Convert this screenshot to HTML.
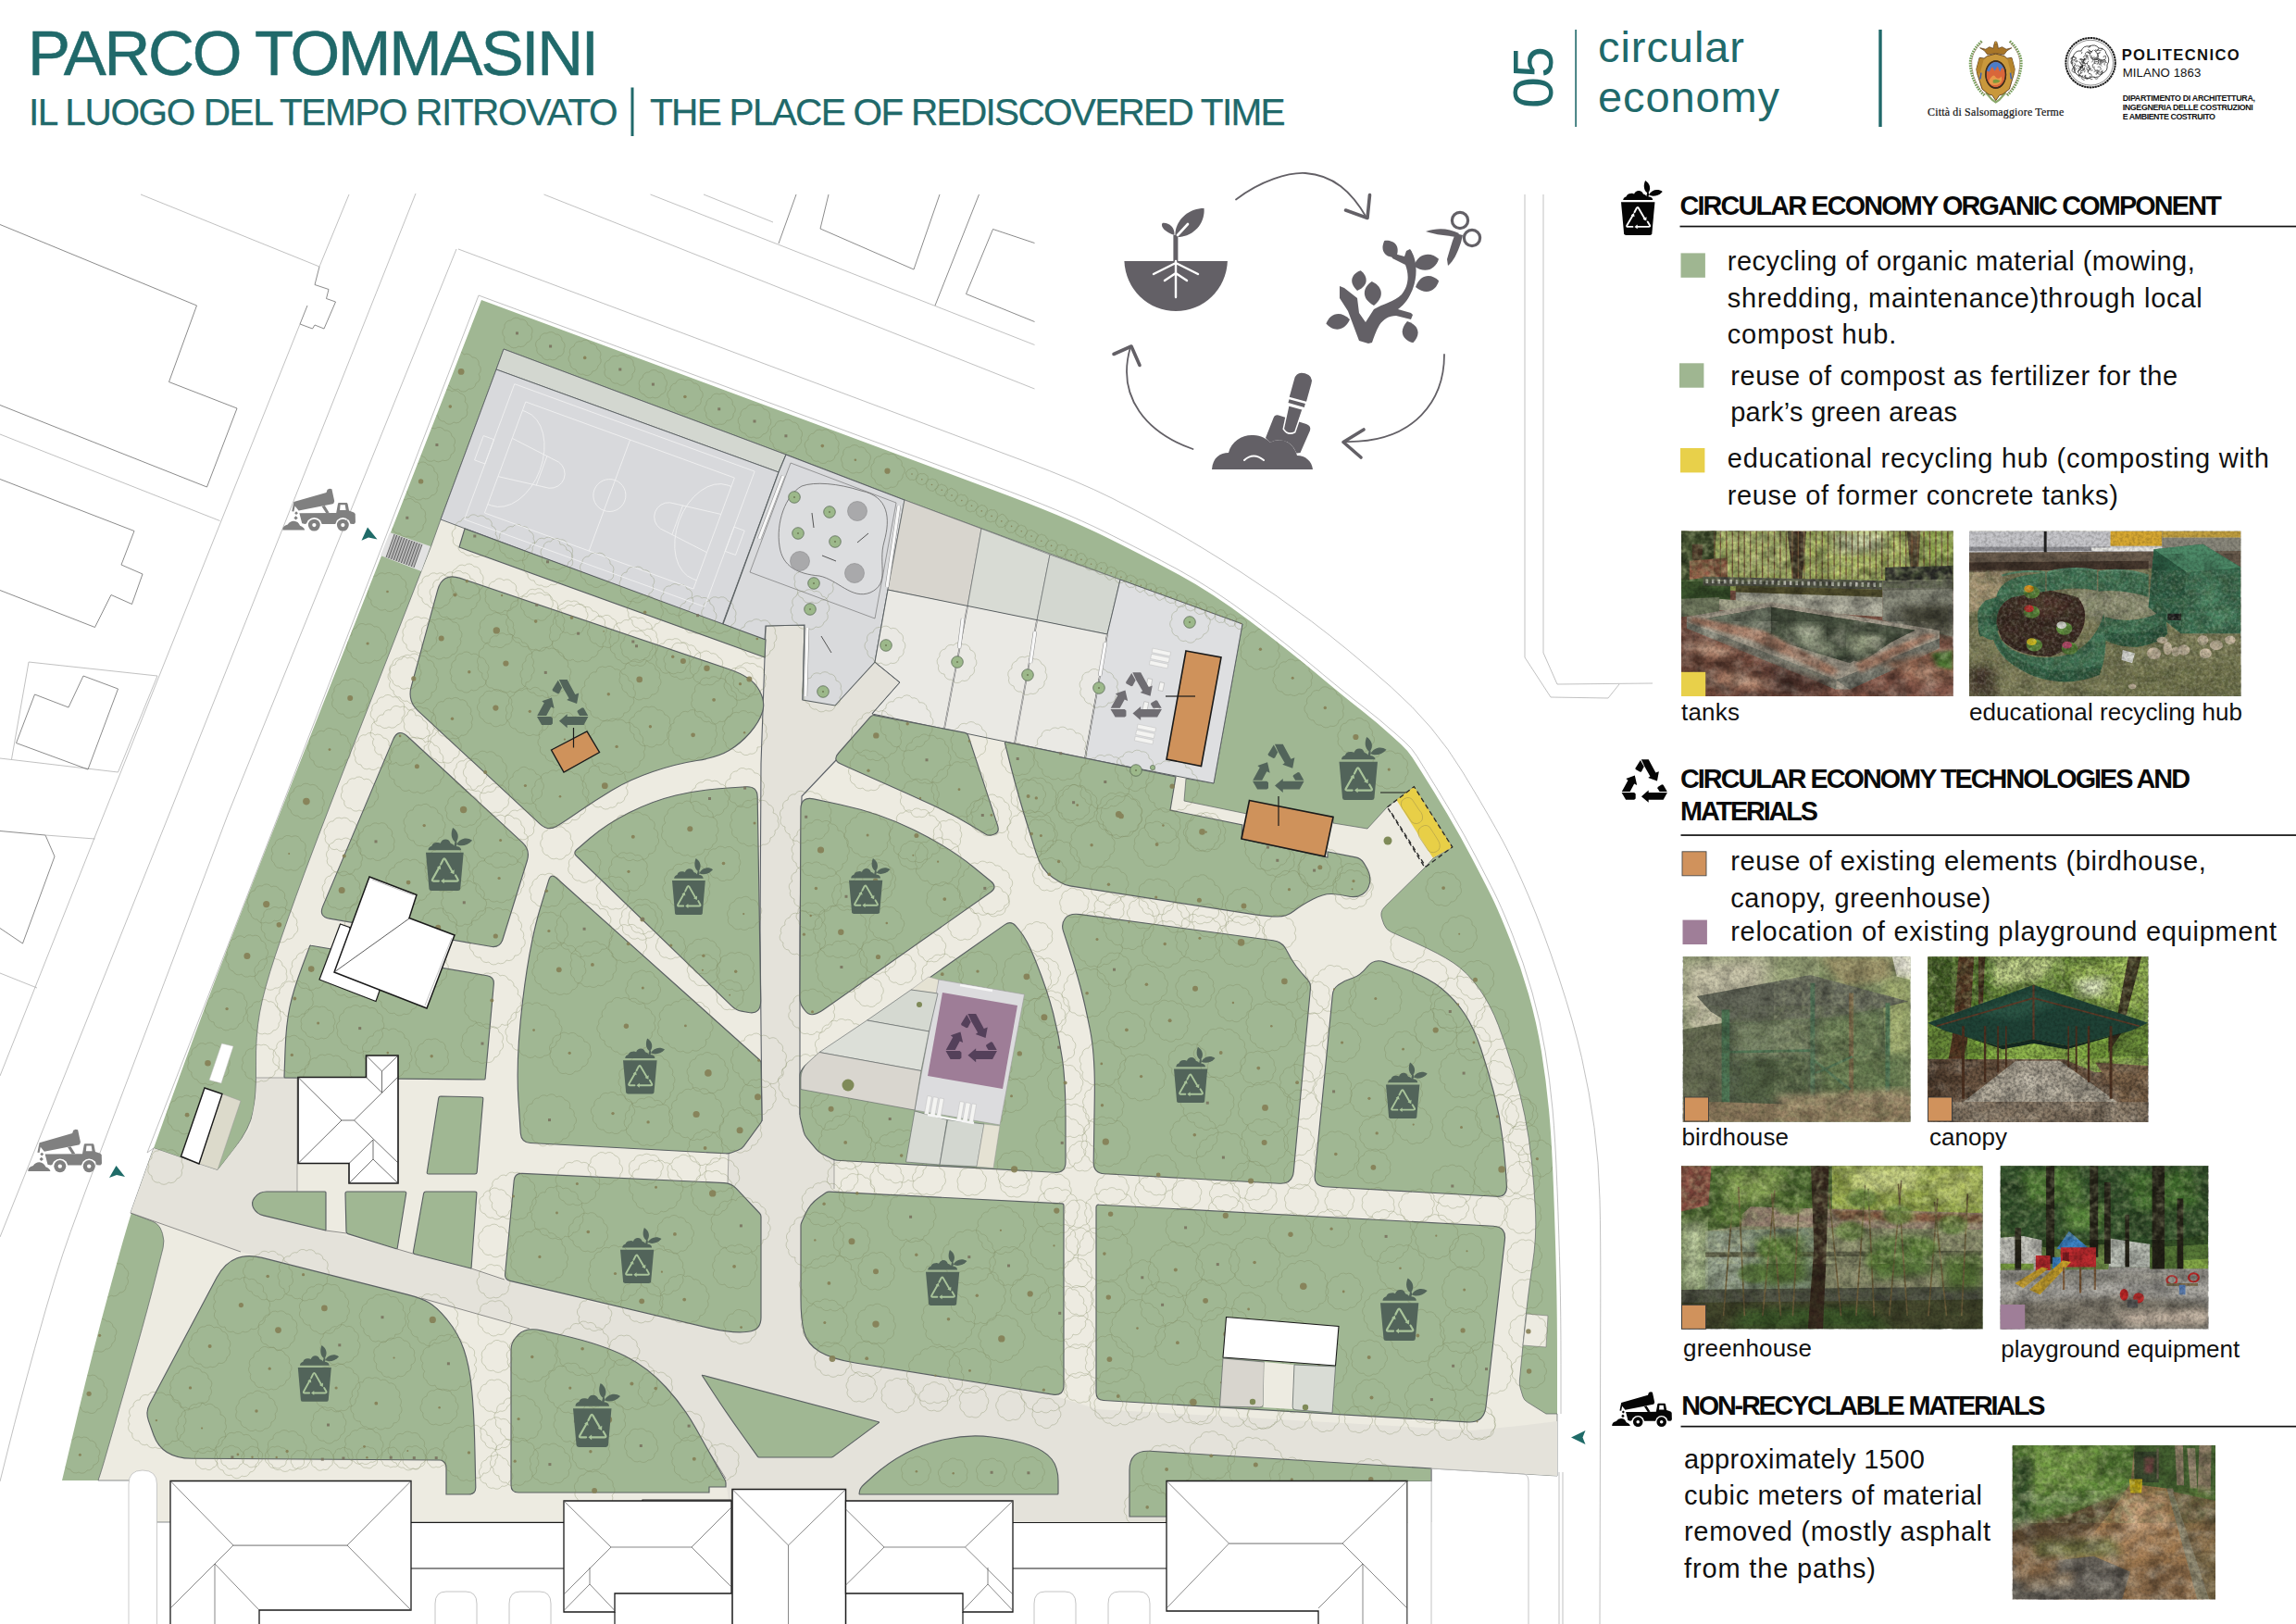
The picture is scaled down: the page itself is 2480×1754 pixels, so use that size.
<!DOCTYPE html>
<html><head><meta charset="utf-8"><title>Parco Tommasini</title>
<style>
html,body{margin:0;padding:0;background:#fff;}
body{width:2480px;height:1754px;position:relative;overflow:hidden;font-family:"Liberation Sans",sans-serif;}
svg.m{position:absolute;left:0;top:0;}
.t{position:absolute;white-space:nowrap;line-height:1;}
</style></head><body>
<svg class="m" width="2480" height="1754" viewBox="0 0 2480 1754">
<defs>
<filter id="nzA" x="0" y="0" width="100%" height="100%"><feTurbulence type="fractalNoise" baseFrequency="0.05 0.065" numOctaves="3" seed="4"/><feColorMatrix type="matrix" values="0 0 0 0 0  0 0 0 0 0  0 0 0 0 0  1.9 0 0 0 -0.72"/></filter>
<filter id="nzB" x="0" y="0" width="100%" height="100%"><feTurbulence type="fractalNoise" baseFrequency="0.055 0.075" numOctaves="3" seed="11"/><feColorMatrix type="matrix" values="0 0 0 0 1  0 0 0 0 0.95  0 0 0 0 0.8  0 1.9 0 0 -0.78"/></filter>
<filter id="nzC" x="0" y="0" width="100%" height="100%"><feTurbulence type="fractalNoise" baseFrequency="0.11 0.13" numOctaves="2" seed="23"/><feColorMatrix type="matrix" values="0 0 0 0 0.08  0 0 0 0 0.12  0 0 0 0 0.04  0 0 1.8 0 -0.62"/></filter>
<filter id="nzD" x="0" y="0" width="100%" height="100%"><feTurbulence type="fractalNoise" baseFrequency="0.13 0.15" numOctaves="2" seed="31"/><feColorMatrix type="matrix" values="0 0 0 0 0.85  0 0 0 0 0.92  0 0 0 0 0.5  1.8 0 0 0 -0.7"/></filter>
<filter id="nzF" x="0" y="0" width="100%" height="100%"><feTurbulence type="fractalNoise" baseFrequency="0.32" numOctaves="2" seed="7"/><feColorMatrix type="matrix" values="0 0 0 0 0  0 0 0 0 0  0 0 0 0 0  0 0 1.5 0 -0.55"/></filter>
<filter id="nzG" x="0" y="0" width="100%" height="100%"><feTurbulence type="fractalNoise" baseFrequency="0.3" numOctaves="2" seed="17"/><feColorMatrix type="matrix" values="0 0 0 0 1  0 0 0 0 1  0 0 0 0 0.9  0 1.5 0 0 -0.6"/></filter>
<filter id="bl1"><feGaussianBlur stdDeviation="0.8"/></filter>
<filter id="bl2"><feGaussianBlur stdDeviation="2.2"/></filter>
<filter id="bl3"><feGaussianBlur stdDeviation="4"/></filter>
<clipPath id="parkclip"><path d="M520 324L1073.5 529.4Q1148 557 1192.5 579L1192.5 579Q1237 601 1273 620.5L1273 620.5Q1309 640 1349 670L1349 670Q1389 700 1422 727.5L1430 734.2Q1455 755 1471 767.5L1471 767.5Q1487 780 1504 795.5L1513.6 804.3Q1521 811 1526.4 819.4L1535 833Q1549 855 1563.5 879.5L1563.5 879.5Q1578 904 1590.5 928L1591.4 929.8Q1603 952 1610 966L1610 966Q1617 980 1626.4 1003.2L1629.5 1011Q1642 1042 1651 1073.5L1651 1073.5Q1660 1105 1665 1136L1665 1136Q1670 1167 1673 1198.5L1673 1198.5Q1676 1230 1677.9 1280.6L1678 1283Q1680 1336 1681 1378L1681 1378Q1682 1420 1682 1473.5L1682 1527L1682 1594L1546 1586L1546 1644L168 1644L168 1599L67 1599L83.5 1529.5Q100 1460 120.5 1385L125.3 1367.4Q141 1310 153.5 1275L153.5 1275Q166 1240 186.2 1184.1L194 1162.5Q222 1085 259 989.5L259 989.5Q296 894 354 747.5L354 747.5Q412 601 466 462.5Z"/></clipPath></defs>
<g id="context"><path d="M377 210L345 288" fill="none" stroke="#a6a6a6" stroke-width="0.7" />
<path d="M345 288L340 307.5L355 312.5L352.5 322.5L362.5 326L350 355L340 351L337.5 355L324 350L332 330" fill="none" stroke="#6e6e6e" stroke-width="0.8" />
<path d="M324 350L102 905L0 1162" fill="none" stroke="#a6a6a6" stroke-width="0.7" />
<path d="M449 209L182.5 880L20 1286L0 1336" fill="none" stroke="#a6a6a6" stroke-width="0.7" />
<path d="M493 269L246 880L92.5 1286L76.2 1330.5Q60 1375 40 1447.5L37.5 1456.4Q20 1520 10 1560L0 1600" fill="none" stroke="#a6a6a6" stroke-width="0.7" />
<path d="M517 319L301 880L159 1245" fill="none" stroke="#a6a6a6" stroke-width="0.7" />
<path d="M495 269L1104.7 497.4Q1165 520 1201 538L1201 538Q1237 556 1268.5 574L1268.5 574Q1300 592 1339 617L1339 617Q1378 642 1416.5 671L1416.5 671Q1455 700 1502.5 742L1502.5 742Q1550 784 1580 834L1588.5 848.1Q1610 884 1622.5 907L1622.5 907Q1635 930 1651 967.5L1651 967.5Q1667 1005 1683.5 1055L1683.5 1055Q1700 1105 1708.5 1142.5L1708.5 1142.5Q1717 1180 1722 1217.5L1722 1217.5Q1727 1255 1728 1295.5L1728 1295.5Q1729 1336 1728.8 1400.8L1728 1760" fill="none" stroke="#a6a6a6" stroke-width="0.7" />
<path d="M517 319L1073.5 524.5Q1148 552 1192.5 574L1192.5 574Q1237 596 1273 615.5L1273 615.5Q1309 635 1349 665L1349 665Q1389 695 1422 722.5L1428.7 728.1Q1455 750 1472 763L1472 763Q1489 776 1507 792L1517.5 801.4Q1525 808 1530.3 816.5L1539 830.5Q1553 853 1567.5 877.5L1567.5 877.5Q1582 902 1594.5 926L1595.4 927.8Q1607 950 1614 964L1614 964Q1621 978 1630.4 1001.2L1633.5 1009Q1646 1040 1655 1072L1655 1072Q1664 1104 1669 1135L1669 1135Q1674 1166 1677 1198L1677 1198Q1680 1230 1681.9 1281.4L1682 1283Q1684 1336 1685 1378L1685 1378Q1686 1420 1686 1473.5L1686 1527" fill="none" stroke="#a6a6a6" stroke-width="0.7" />
<path d="M1684 1590L1684 1760" fill="none" stroke="#a6a6a6" stroke-width="0.7" />
<path d="M1688 1590L1688 1760" fill="none" stroke="#a6a6a6" stroke-width="0.7" />
<path d="M587.5 210L1117.5 420" fill="none" stroke="#a6a6a6" stroke-width="0.7" />
<path d="M702.5 210L1117.5 372.5" fill="none" stroke="#a6a6a6" stroke-width="0.7" />
<path d="M760 210L835 240" fill="none" stroke="#a6a6a6" stroke-width="0.7" />
<path d="M860 210L841 263" fill="none" stroke="#6e6e6e" stroke-width="0.8" />
<path d="M895 210L886 247L987 291L1015 210" fill="none" stroke="#6e6e6e" stroke-width="0.8" />
<path d="M1057.5 210L1010 330" fill="none" stroke="#6e6e6e" stroke-width="0.8" />
<path d="M1117.5 262.5L1072.5 247.5L1043.5 317.5L1117.5 347.5" fill="none" stroke="#6e6e6e" stroke-width="0.8" />
<path d="M1647 210L1647 710L1675 753L1737 754L1749 739" fill="none" stroke="#a6a6a6" stroke-width="0.7" />
<path d="M1667 210L1667 705L1682 739L1785 738" fill="none" stroke="#a6a6a6" stroke-width="0.7" />
<path d="M0 242.5L212.5 330L182.5 412.5L256 441L223.5 526L0 437.5" fill="none" stroke="#6e6e6e" stroke-width="0.8" />
<path d="M0 469L237.5 562.5" fill="none" stroke="#a6a6a6" stroke-width="0.7" />
<path d="M152 210L345 288" fill="none" stroke="#a6a6a6" stroke-width="0.7" />
<path d="M0 517.5L145 573.5L131 610L154 620L142.5 652.5L120 642.5L102.5 677.5L0 637.5" fill="none" stroke="#6e6e6e" stroke-width="0.8" />
<path d="M12.5 820L31 715L170 730L127.5 834L0 819" fill="none" stroke="#a6a6a6" stroke-width="0.7" />
<path d="M90 730L127.5 744L95 831L17.5 802.5L37.5 750L74 764L90 730" fill="none" stroke="#6e6e6e" stroke-width="0.8" />
<path d="M0 897.5L49 902L59 925L24.5 1019L0 1002.5" fill="none" stroke="#6e6e6e" stroke-width="0.8" />
<path d="M49 902L102.5 906" fill="none" stroke="#a6a6a6" stroke-width="0.7" />
<path d="M0 1051L40 1067" fill="none" stroke="#a6a6a6" stroke-width="0.7" />
<path d="M159 1245L166 1240" fill="none" stroke="#a6a6a6" stroke-width="0.7" />
<rect x="1118" y="180" width="520" height="310" fill="#fff"/>
<g fill="#636066"><path d="M1214.4 282H1325.9A55.8 56.5 0 0 1 1214.4 282Z"/><rect x="1267.4" y="254" width="5" height="30"/><path d="M1269.5 256C1268 240 1282 225 1300.5 225C1302 240 1290 257 1269.5 256Z"/><path d="M1268.5 254C1259 251 1253 245 1255.5 241C1262 240 1269 245 1268.5 254Z"/></g><g stroke="#fff" stroke-width="2.4" stroke-linecap="round" fill="none"><path d="M1270 282V321M1270 284L1246 296M1270 284L1294 296M1270 295L1258 303M1270 295L1282 303"/><path d="M1272 254L1283 242" stroke-width="2.6"/></g><g fill="none" stroke="#636066" stroke-linecap="round" stroke-linejoin="round"><path d="M1335 215.5C1362 195 1392 186 1410 187C1440 189 1460 207 1476 235" stroke-width="1.8"/><path d="M1453.5 227L1477 235.5L1479.5 210.5" stroke-width="3.6"/><path d="M1560 383C1560 430 1530 479 1452 477" stroke-width="1.8"/><path d="M1473 464L1451 477.5L1470 494" stroke-width="3.6"/><path d="M1288.5 485C1240 468 1205 430 1221 375" stroke-width="1.8"/><path d="M1203 382.5L1222 374L1231 394.5" stroke-width="3.6"/></g><g fill="#636066"><path d="M1447 309L1452 311L1466 322L1468 338L1475 348L1484 334C1494 328 1506 326 1514 318C1522 308 1522 296 1518 286L1504 279L1503 276L1506 274L1517 277L1519 271L1523 269C1530 278 1532 296 1526 312C1522 322 1518 328 1510 334L1524 338L1526 340L1524 345L1508 341C1500 341 1494 345 1490 351C1486 358 1484 364 1482 370L1478 371L1468 368Q1462 352 1456 336L1447 322Z"/><path transform="translate(1508 278) rotate(-125)" d="M0 0C7.699999999999999 -12 17.6 -8.399999999999999 22 0C17.6 8.399999999999999 7.699999999999999 12 0 0Z"/><path transform="translate(1527 287) rotate(-15)" d="M0 0C9.799999999999999 -13 22.400000000000002 -9.1 28 0C22.400000000000002 9.1 9.799999999999999 13 0 0Z"/><path transform="translate(1529 310) rotate(-15)" d="M0 0C9.1 -13 20.8 -9.1 26 0C20.8 9.1 9.1 13 0 0Z"/><path transform="translate(1484 330) rotate(-95)" d="M0 0C9.1 -14 20.8 -9.799999999999999 26 0C20.8 9.799999999999999 9.1 14 0 0Z"/><path transform="translate(1466 314) rotate(-80)" d="M0 0C7.699999999999999 -12 17.6 -8.399999999999999 22 0C17.6 8.399999999999999 7.699999999999999 12 0 0Z"/><path transform="translate(1458 345) rotate(170)" d="M0 0C9.1 -13 20.8 -9.1 26 0C20.8 9.1 9.1 13 0 0Z"/><path transform="translate(1520 347) rotate(75)" d="M0 0C8.399999999999999 -13 19.200000000000003 -9.1 24 0C19.200000000000003 9.1 8.399999999999999 13 0 0Z"/><path d="M1540 250C1552 246 1564 246 1576 252L1573 256C1562 254 1552 254 1540 250Z"/><path d="M1572 252L1580 254L1578 262C1574 274 1570 282 1564 287L1563 280C1566 270 1568 262 1572 252Z"/></g><g fill="none" stroke="#636066" stroke-width="3.2"><circle cx="1577" cy="238" r="8.6"/><circle cx="1590" cy="257" r="8.6"/></g><g fill="#636066"><path d="M1309 507C1310 494 1318 489 1327 489C1330 476 1343 469 1354 470C1362 470 1368 474 1372 478C1378 474 1388 474 1394 480C1398 484 1400 488 1401 492C1410 492 1417 498 1418 507Z"/><path d="M1367 473L1375.5 451.5Q1377 447.5 1381 448.5L1411 458Q1416.5 460 1415 465L1404.5 489L1400.5 489.5Q1396 478 1386 476Q1378 474 1372 478Z"/><path transform="rotate(15.5 1400 438)" d="M1390.5 411Q1390.5 402 1400 402Q1409.500 402 1409.500 411V431H1390.500Z"/><path transform="rotate(15.5 1400 438)" d="M1391 433.500H1409V437.500H1391Z"/><path transform="rotate(15.5 1400 438)" d="M1392 440H1408L1406.500 466Q1400 472 1393.500 466Z" stroke="#fff" stroke-width="1.5"/></g><path d="M1344 497Q1354 488 1365 497" stroke="#fff" stroke-width="2" fill="none" stroke-linecap="round"/></g>
<g id="base"><path d="M520 324L1073.5 529.4Q1148 557 1192.5 579L1192.5 579Q1237 601 1273 620.5L1273 620.5Q1309 640 1349 670L1349 670Q1389 700 1422 727.5L1430 734.2Q1455 755 1471 767.5L1471 767.5Q1487 780 1504 795.5L1513.6 804.3Q1521 811 1526.4 819.4L1535 833Q1549 855 1563.5 879.5L1563.5 879.5Q1578 904 1590.5 928L1591.4 929.8Q1603 952 1610 966L1610 966Q1617 980 1626.4 1003.2L1629.5 1011Q1642 1042 1651 1073.5L1651 1073.5Q1660 1105 1665 1136L1665 1136Q1670 1167 1673 1198.5L1673 1198.5Q1676 1230 1677.9 1280.6L1678 1283Q1680 1336 1681 1378L1681 1378Q1682 1420 1682 1473.5L1682 1527L1682 1594L1546 1586L1546 1644L168 1644L168 1599L67 1599L83.5 1529.5Q100 1460 120.5 1385L125.3 1367.4Q141 1310 153.5 1275L153.5 1275Q166 1240 186.2 1184.1L194 1162.5Q222 1085 259 989.5L259 989.5Q296 894 354 747.5L354 747.5Q412 601 466 462.5Z" fill="#a0b793" />
<path d="M466 589L476 561L536 399L544 377L849 491L977 540L1210 626L1342 674L1311 846L1281 841L1279 865L1347 879L1440 882L1440 889L1477 895L1498 872L1527 850L1569 915L1548 927L1539 937L1495.7 979.4Q1490 985 1492.8 992.5L1494.9 998.4Q1497 1004 1502.5 1006.5L1528.7 1018.2Q1555 1030 1570 1040L1570 1040Q1585 1050 1597.5 1067.5L1597.5 1067.5Q1610 1085 1618.5 1107.5L1618.5 1107.5Q1627 1130 1634.5 1155L1634.5 1155Q1642 1180 1647 1205L1647 1205Q1652 1230 1654.5 1255L1654.5 1255Q1657 1280 1658.5 1308L1658.5 1308Q1660 1336 1655 1368L1655 1368Q1650 1400 1645.5 1447.5L1641.4 1491Q1641 1495 1642.1 1498.8L1644.9 1508.2Q1646 1512 1649.4 1514.1L1670 1527L1682 1527L1682 1594L1546 1586L1546 1644L168 1644L168 1599L106 1599L108 1593Q110 1587 112.8 1577.3L122.5 1543.5Q135 1500 147.5 1456L147.5 1456Q160 1412 169 1376L176.1 1347.8Q178 1340 175.5 1332.4L174.5 1329.6Q172 1322 164.5 1319.1L141 1310L166 1240L233.1 1263.3Q235 1264 236.2 1262.4L252.5 1241.5Q270 1219 273.5 1200L273.5 1200Q277 1181 276.5 1150.1L276.5 1150Q276 1119 280.5 1094L280.5 1094Q285 1069 297.5 1031.5L297.5 1031.5Q310 994 328.5 944L328.5 944Q347 894 378 814.5L455 617Z" fill="#edebe1" stroke="#5a6062" stroke-width="0.7" />
<path d="M166 1240L235 1264L270 1219L277 1181L277 1164L321 1164L321 1300L352 1329L429 1349L509 1370L545 1382L634 1405L790 1440L810 1437L822 1422L822 1312L800 1287L786 1278L787 1246L801 1241L823 1211L821 1006L822 825L826 710L827 676L869 675L867 756L902 762L945 715L972 737L942 771L904 820L866 860L864 1006L864 1204L869 1226L884 1244L901 1253L901 1284L884 1300L865 1320L865 1430L874 1452L899 1467L1134 1506L1185 1522L1590 1545L1641 1540L1682 1535L1682 1594L1546 1586L1546 1644L790 1644L784 1597L764 1565L739 1530L709 1497L672 1470L634 1449L460 1405L260 1352L141 1310Z" fill="#e4e2da" />
<path d="M321 1164L321 1287" fill="none" stroke="#777" stroke-width="0.6" />
<path d="M787 1246L786 1278" fill="none" stroke="#777" stroke-width="0.6" />
<path d="M901 1253L901 1284" fill="none" stroke="#777" stroke-width="0.6" />
<path d="M277 1164L321 1164" fill="none" stroke="#777" stroke-width="0.6" />
<path d="M141 1310L260 1352" fill="none" stroke="#666" stroke-width="0.7" />
<path d="M455 1402L572 1435" fill="none" stroke="#666" stroke-width="0.7" />
<path d="M321 1300L352 1329L374 1332" fill="none" stroke="#666" stroke-width="0.7" />
<path d="M429 1349L446 1354" fill="none" stroke="#666" stroke-width="0.7" />
<path d="M509 1370L545 1382" fill="none" stroke="#666" stroke-width="0.7" />
<path d="M784 1597L764 1565L739 1530" fill="none" stroke="#666" stroke-width="0.7" />
<path d="M827 676L826 710L822 825L821 1006L823 1211" fill="none" stroke="#5a5f66" stroke-width="1.1" />
<path d="M867 756L869 675L827 676" fill="none" stroke="#5a5f66" stroke-width="1.1" />
<path d="M945 715L972 737L942 771" fill="none" stroke="#5a5f66" stroke-width="1.1" />
<path d="M904 820L866 860L864 1006L864 1204" fill="none" stroke="#5a5f66" stroke-width="1.1" />
<path d="M544 377L849 491L841 510L536 399Z" fill="#d3d7d0" stroke="#5a6062" stroke-width="0.9" />
<path d="M536 399L841 510L780 675L476 561Z" fill="#d8d9dc" stroke="#5a6062" stroke-width="0.9" />
<path d="M849 491L977 540L959 637L945 715L902 762L867 756L869 675L827 676L826 692L781 674L841 510Z" fill="#d9dadc" stroke="#5a6062" stroke-width="1.1" />
<path d="M854 500L968 543L945 668L810 618Z" fill="#d9dadd" stroke="#666" stroke-width="0.6" />
<path d="M977 540L1060 571L1045 655L959 637Z" fill="#d8d5ce" stroke="#5a6062" stroke-width="0.6" />
<path d="M1060 571L1134 599L1120 670L1045 655Z" fill="#d8dbd4" stroke="#5a6062" stroke-width="0.6" />
<path d="M1134 599L1210 626L1196 685L1120 670Z" fill="#d3d7d0" stroke="#5a6062" stroke-width="0.6" />
<path d="M959 637L1196 685L1172 819L942 771L972 737L945 715Z" fill="#eae9e4" stroke="#5a6062" stroke-width="1.0" />
<path d="M1210 626L1342 674L1311 846L1172 819L1196 685Z" fill="#dedfe1" stroke="#5a6062" stroke-width="1.0" />
<path d="M1045 655L1020 787" fill="none" stroke="#666" stroke-width="1.6" />
<path d="M1045 655L1020 787" fill="none" stroke="#e8e8e6" stroke-width="0.7" />
<path d="M1120 670L1096 803" fill="none" stroke="#666" stroke-width="1.6" />
<path d="M1120 670L1096 803" fill="none" stroke="#e8e8e6" stroke-width="0.7" />
<path d="M1196 685L1172 819" fill="none" stroke="#666" stroke-width="1.6" />
<path d="M1196 685L1172 819" fill="none" stroke="#e8e8e6" stroke-width="0.7" />
<path d="M502 571L827 691L826 710L496 591Z" fill="#a0b793" stroke="#5a6062" stroke-width="1.15" />
<path d="M472.7 637.3Q478 618 496.9 624.4L787.4 722.7Q812 731 819.5 744.5L820.2 745.8Q827 758 823.5 769L823.5 769Q820 780 810 791.5L810 791.5Q800 803 787.5 810.5L787.5 810.5Q775 818 752.5 821.5L752.5 821.5Q730 825 705 833.5L705 833.5Q680 842 661 853.5L661 853.5Q642 865 626 876L623.9 877.4Q610 887 601 892.5L601 892.5Q592 898 583.2 889.8L451.7 767.9Q440 757 444.2 741.6Z" fill="#a0b793" stroke="#5a6062" stroke-width="1.15" />
<path d="M424.6 798.9Q430 786 440.3 795.5L564.2 909.9Q573 918 569.4 929.5L543 1014.5Q540 1024 530.1 1022.3L355.8 992.1Q344 990 348.7 978.9Z" fill="#a0b793" stroke="#5a6062" stroke-width="1.15" />
<path d="M622.6 924.5Q619 921 622.8 917.7L637 905.5Q655 890 680 877.5L680 877.5Q705 865 730 859L730 859Q755 853 786.5 851L806 849.8Q818 849 818.2 861L821.7 1080Q822 1096 808.5 1093.5L800.9 1092.1Q795 1091 790.7 1086.8Z" fill="#a0b793" stroke="#5a6062" stroke-width="1.15" />
<path d="M864.9 874Q865 860 878.7 862.9L907.5 869Q950 878 987.5 896.5L987.5 896.5Q1025 915 1051.5 936.5L1070.2 951.7Q1078 958 1069.8 963.8L889.1 1090.8Q876 1100 870 1092L867.6 1088.8Q864 1084 864 1078Z" fill="#a0b793" stroke="#5a6062" stroke-width="1.15" />
<path d="M940 774.3Q942 772 944.9 772.6L1042.1 791.4Q1045 792 1045.9 794.9L1077.5 891.4Q1080 899 1074 901L1071.8 901.7Q1068 903 1064.6 900.9L1049 891.5Q1030 880 1005 868.5L1005 868.5Q980 857 955 846L954.9 846Q930 835 914.5 828L908.1 825.1Q899 821 905.6 813.5Z" fill="#a0b793" stroke="#5a6062" stroke-width="1.15" />
<path d="M1085.5 802.9Q1085 801 1087 801.4L1270 839L1264 875L1342 891L1341 906L1434 926L1434 920L1464.1 925.9Q1470 927 1473.1 932.1L1475.5 936Q1481 945 1479.5 953.5L1479.5 953.5Q1478 962 1471.5 966L1471.5 966Q1465 970 1456 968L1456 968Q1447 966 1438.5 965.5L1438.5 965.5Q1430 965 1417.9 971.3L1417.5 971.5Q1405 978 1397.5 984L1397.5 984Q1390 990 1380 990L1380 990Q1370 990 1354.2 987.6L1155.9 956.9Q1150 956 1144.9 952.8L1137.5 948Q1125 940 1119 920.9L1112.5 900Q1100 860 1092.5 830.5Z" fill="#a0b793" stroke="#5a6062" stroke-width="1.15" />
<path d="M1150.5 992Q1155 986 1166.9 987.6L1375.1 1015.7Q1385 1017 1389.5 1025.9L1390 1027Q1395 1037 1400 1043.5L1400 1043.5Q1405 1050 1410.5 1056L1412.6 1058.3Q1416 1062 1415.5 1067L1397.3 1265.1Q1396 1279 1382 1278.2L1193 1267.7Q1181 1267 1181.2 1255L1182.3 1184.9Q1183 1140 1177.5 1112.5L1177.5 1112.5Q1172 1085 1167 1066L1167 1066Q1162 1047 1154 1022.5L1148.5 1005.6Q1146 998 1150.5 992Z" fill="#a0b793" stroke="#5a6062" stroke-width="1.15" />
<path d="M1476.6 1044.4Q1484 1035 1495.3 1038.9L1513 1045Q1542 1055 1557 1067.5L1557 1067.5Q1572 1080 1582 1095L1582 1095Q1592 1110 1599.5 1132.5L1599.5 1132.5Q1607 1155 1613.5 1180L1613.5 1180Q1620 1205 1623 1230L1623 1230Q1626 1255 1627 1274L1627.4 1281Q1628 1293 1616 1292.3L1431 1281.7Q1419 1281 1420.2 1269.1L1439.4 1074Q1440 1068 1444.8 1064.4L1446 1063.5Q1452 1059 1460.5 1056.5L1460.5 1056.5Q1469 1054 1476.5 1044.5Z" fill="#a0b793" stroke="#5a6062" stroke-width="1.15" />
<path d="M1184 1304Q1184 1301 1187 1301.2L1613 1324.2Q1627 1325 1625.4 1338.9L1605 1519.1Q1603 1537 1585 1535.9L1192 1512.5Q1184 1512 1184 1504Z" fill="#a0b793" stroke="#5a6062" stroke-width="1.15" />
<path d="M1220 1588Q1220 1566 1242 1567.3L1546 1586L1546 1600L1262 1600L1262 1638L1220 1638Z" fill="#a0b793" stroke="#5a6062" stroke-width="1.15" />
<path d="M592.7 950.7Q595 943 601 948.3L820.5 1144.7Q822 1146 822 1148L823 1209Q823 1211 821.8 1212.6L803.4 1237.8Q801 1241 797.2 1242.3L789.8 1245Q787 1246 784 1245.8L573 1234.5Q563 1234 562.3 1224L560 1189Q557 1144 564.5 1081.5L564.5 1081.5Q572 1019 583.5 981Z" fill="#a0b793" stroke="#5a6062" stroke-width="1.15" />
<path d="M892.3 1288.1Q894 1287 896 1287.1L1147 1299.9Q1149 1300 1149 1302L1149 1496Q1149 1508 1137.2 1506.1L923.8 1472Q899 1468 885.5 1460L885.5 1460Q872 1452 868.5 1438.5L868.5 1438.5Q865 1425 865 1402.7L865 1324Q865 1322 865.8 1320.2L870 1311Q875 1300 884.5 1293.5Z" fill="#a0b793" stroke="#5a6062" stroke-width="1.15" />
<path d="M758.5 1485.8Q758 1485 759 1485.3L949 1535.7Q950 1536 949.2 1536.6L899.8 1573.4Q899 1574 898 1574L820 1574Q819 1574 818.4 1573.2L801.5 1549.5Q784 1525 771 1505Z" fill="#a0b793" stroke="#5a6062" stroke-width="1.15" />
<path d="M929 1614Q928 1614 928.1 1613L928.5 1610.5Q929 1607 933.2 1603.2L944 1593.5Q959 1580 977.5 1570L977.5 1570Q996 1560 1021 1554.5L1021 1554.5Q1046 1549 1071 1552L1071 1552Q1096 1555 1112.5 1561L1112.5 1561Q1129 1567 1136 1576L1136 1576Q1143 1585 1143 1599.5L1143 1613Q1143 1614 1142 1614Z" fill="#a0b793" stroke="#5a6062" stroke-width="1.15" />
<path d="M560 1441.5Q568 1433 585.5 1437.1L609 1442.5Q650 1452 675 1464.5L675 1464.5Q700 1477 719.5 1498.5L719.5 1498.5Q739 1520 751.5 1542.5L751.5 1542.5Q764 1565 774 1582.5L783 1598.3Q784 1600 784 1602L784 1606L766 1606L766 1612L560 1612Q552 1612 552 1604L552 1458Q552 1450 557.5 1444.2Z" fill="#a0b793" stroke="#5a6062" stroke-width="1.15" />
<path d="M234 1380Q250 1350 283 1358.4L439.7 1398.1Q455 1402 463.5 1407L463.5 1407Q472 1412 482 1424.2L483.5 1426Q495 1440 501 1457.5L501 1457.5Q507 1475 509.5 1500L509.5 1500Q512 1525 512.9 1565.2L513.8 1606Q514 1614 506 1614L482 1614L482 1585Q482 1581 479.5 1579L478.6 1578.2Q477 1577 475 1577L207 1575.2Q175 1575 166 1550L160.4 1534.4Q157 1525 161.7 1516.2Z" fill="#a0b793" stroke="#5a6062" stroke-width="1.15" />
<path d="M334.6 1021.9Q335 1021 336 1021.2L526.1 1053.7Q534 1055 533.3 1063L524.1 1165Q524 1166 523 1166L308 1164Q307 1164 307 1163L308 1135Q309 1106 313 1087.5L313 1087.5Q317 1069 326 1045Z" fill="#a0b793" stroke="#5a6062" stroke-width="1.15" />
<path d="M555.2 1275Q556 1267 564 1267.4L782 1277.6Q790 1278 795.5 1283.8L820.6 1310.5Q822 1312 822 1314L822 1423Q822 1437 808.1 1438.3L806 1438.5Q790 1440 765 1434.1L550.8 1383.4Q545 1382 545.6 1376Z" fill="#a0b793" stroke="#5a6062" stroke-width="1.15" />
<path d="M1085.5 998.6Q1092 994 1097.2 1000.1L1100.5 1004Q1109 1014 1116.8 1033.5L1120 1041.5Q1131 1069 1137.5 1094L1137.5 1094Q1144 1119 1147.5 1144L1147.5 1144Q1151 1169 1151 1209.4L1151 1255Q1151 1267 1139 1266.3L904 1253.2Q901 1253 898.3 1251.6L887.5 1245.9Q884 1244 881.4 1240.9L871.6 1229.1Q869 1226 868 1222.1L864.5 1207.9Q864 1206 864 1204L864 1161Q864 1159 865.1 1157.3L866.9 1154.4Q869 1151 872.3 1148.7Z" fill="#a0b793" stroke="#5a6062" stroke-width="1.15" />
<path d="M473.7 1186Q474 1184 476 1184L520 1185Q522 1185 521.8 1187L515.2 1266Q515 1268 513 1268L463 1268Q461 1268 461.3 1266Z" fill="#a0b793" stroke="#5a6062" stroke-width="1.15" />
<path d="M275.5 1293Q280 1287 288 1287L351 1287Q352 1287 352 1288L352 1328Q352 1329 351 1328.8L284.8 1312.9Q277 1311 274 1305L273.7 1304.4Q271 1299 274.6 1294.2Z" fill="#a0b793" stroke="#5a6062" stroke-width="1.15" />
<path d="M373 1289Q373 1287 375 1287L437 1287Q439 1287 438.7 1289L429.2 1348Q429 1349 428 1348.7L375.9 1332.6Q374 1332 374 1330Z" fill="#a0b793" stroke="#5a6062" stroke-width="1.15" />
<path d="M457.6 1289Q458 1287 460 1287L513 1287Q515 1287 514.9 1289L509.1 1369Q509 1370 508 1369.8L447.9 1354.5Q446 1354 446.4 1352Z" fill="#a0b793" stroke="#5a6062" stroke-width="1.15" />
<path d="M1649 1419L1672 1421L1670 1455L1645 1453Z" fill="#edebe1" stroke="#777" stroke-width="0.6" /></g>
<g id="trees" clip-path="url(#parkclip)"><g fill="none" stroke="#78825a" stroke-width="0.75" opacity="0.42">
<path d="M534 587A6.1 6.1 0 0 1 528 595A6.1 6.1 0 0 1 519 600A6.1 6.1 0 0 1 510 599A6.1 6.1 0 0 1 501 597A6.1 6.1 0 0 1 495 590A6.1 6.1 0 0 1 490 581A6.1 6.1 0 0 1 492 571A6.1 6.1 0 0 1 498 563A6.1 6.1 0 0 1 506 559A6.1 6.1 0 0 1 516 558A6.1 6.1 0 0 1 525 560A6.1 6.1 0 0 1 531 568A6.1 6.1 0 0 1 535 577A6.1 6.1 0 0 1 534 587ZM768 679A6.4 6.4 0 0 1 758 682A6.4 6.4 0 0 1 749 683A6.4 6.4 0 0 1 740 679A6.4 6.4 0 0 1 736 670A6.4 6.4 0 0 1 735 660A6.4 6.4 0 0 1 740 651A6.4 6.4 0 0 1 748 646A6.4 6.4 0 0 1 758 646A6.4 6.4 0 0 1 767 652A6.4 6.4 0 0 1 771 660A6.4 6.4 0 0 1 772 670A6.4 6.4 0 0 1 768 679ZM714 666A6.4 6.4 0 0 1 708 674A6.4 6.4 0 0 1 699 679A6.4 6.4 0 0 1 689 678A6.4 6.4 0 0 1 683 670A6.4 6.4 0 0 1 679 662A6.4 6.4 0 0 1 681 652A6.4 6.4 0 0 1 689 646A6.4 6.4 0 0 1 699 644A6.4 6.4 0 0 1 707 648A6.4 6.4 0 0 1 714 656A6.4 6.4 0 0 1 714 666ZM836 694A6.5 6.5 0 0 1 832 703A6.5 6.5 0 0 1 824 709A6.5 6.5 0 0 1 814 709A6.5 6.5 0 0 1 805 704A6.5 6.5 0 0 1 800 696A6.5 6.5 0 0 1 799 686A6.5 6.5 0 0 1 804 677A6.5 6.5 0 0 1 812 671A6.5 6.5 0 0 1 822 671A6.5 6.5 0 0 1 832 675A6.5 6.5 0 0 1 837 684A6.5 6.5 0 0 1 836 694ZM613 622A6.2 6.2 0 0 1 604 627A6.2 6.2 0 0 1 595 631A6.2 6.2 0 0 1 585 632A6.2 6.2 0 0 1 577 627A6.2 6.2 0 0 1 570 620A6.2 6.2 0 0 1 567 611A6.2 6.2 0 0 1 567 601A6.2 6.2 0 0 1 572 592A6.2 6.2 0 0 1 579 586A6.2 6.2 0 0 1 588 582A6.2 6.2 0 0 1 597 582A6.2 6.2 0 0 1 605 588A6.2 6.2 0 0 1 612 594A6.2 6.2 0 0 1 617 603A6.2 6.2 0 0 1 615 613A6.2 6.2 0 0 1 613 622ZM515 651A6.1 6.1 0 0 1 509 658A6.1 6.1 0 0 1 502 666A6.1 6.1 0 0 1 493 667A6.1 6.1 0 0 1 483 666A6.1 6.1 0 0 1 474 661A6.1 6.1 0 0 1 469 653A6.1 6.1 0 0 1 466 644A6.1 6.1 0 0 1 468 634A6.1 6.1 0 0 1 474 626A6.1 6.1 0 0 1 481 621A6.1 6.1 0 0 1 490 619A6.1 6.1 0 0 1 500 619A6.1 6.1 0 0 1 508 625A6.1 6.1 0 0 1 514 632A6.1 6.1 0 0 1 517 641A6.1 6.1 0 0 1 515 651ZM494 699A6.3 6.3 0 0 1 488 707A6.3 6.3 0 0 1 479 710A6.3 6.3 0 0 1 469 709A6.3 6.3 0 0 1 461 703A6.3 6.3 0 0 1 456 694A6.3 6.3 0 0 1 456 684A6.3 6.3 0 0 1 461 675A6.3 6.3 0 0 1 470 670A6.3 6.3 0 0 1 479 670A6.3 6.3 0 0 1 489 672A6.3 6.3 0 0 1 496 680A6.3 6.3 0 0 1 497 690A6.3 6.3 0 0 1 494 699ZM676 851A6.2 6.2 0 0 1 675 861A6.2 6.2 0 0 1 667 867A6.2 6.2 0 0 1 659 872A6.2 6.2 0 0 1 649 871A6.2 6.2 0 0 1 640 868A6.2 6.2 0 0 1 633 861A6.2 6.2 0 0 1 631 851A6.2 6.2 0 0 1 631 842A6.2 6.2 0 0 1 636 834A6.2 6.2 0 0 1 643 827A6.2 6.2 0 0 1 653 826A6.2 6.2 0 0 1 662 828A6.2 6.2 0 0 1 670 833A6.2 6.2 0 0 1 675 841A6.2 6.2 0 0 1 676 851ZM636 805A6.2 6.2 0 0 1 632 814A6.2 6.2 0 0 1 625 821A6.2 6.2 0 0 1 616 824A6.2 6.2 0 0 1 606 826A6.2 6.2 0 0 1 597 822A6.2 6.2 0 0 1 589 816A6.2 6.2 0 0 1 584 807A6.2 6.2 0 0 1 583 797A6.2 6.2 0 0 1 586 788A6.2 6.2 0 0 1 592 780A6.2 6.2 0 0 1 600 775A6.2 6.2 0 0 1 609 771A6.2 6.2 0 0 1 619 774A6.2 6.2 0 0 1 627 779A6.2 6.2 0 0 1 632 787A6.2 6.2 0 0 1 636 795A6.2 6.2 0 0 1 636 805ZM791 765A6.4 6.4 0 0 1 786 774A6.4 6.4 0 0 1 777 779A6.4 6.4 0 0 1 766 779A6.4 6.4 0 0 1 757 775A6.4 6.4 0 0 1 751 766A6.4 6.4 0 0 1 748 756A6.4 6.4 0 0 1 751 747A6.4 6.4 0 0 1 756 738A6.4 6.4 0 0 1 766 733A6.4 6.4 0 0 1 776 733A6.4 6.4 0 0 1 785 738A6.4 6.4 0 0 1 790 746A6.4 6.4 0 0 1 795 755A6.4 6.4 0 0 1 791 765ZM579 863A6.4 6.4 0 0 1 569 867A6.4 6.4 0 0 1 560 864A6.4 6.4 0 0 1 553 857A6.4 6.4 0 0 1 550 848A6.4 6.4 0 0 1 554 839A6.4 6.4 0 0 1 560 832A6.4 6.4 0 0 1 571 831A6.4 6.4 0 0 1 579 836A6.4 6.4 0 0 1 585 844A6.4 6.4 0 0 1 585 854A6.4 6.4 0 0 1 579 863ZM653 685A6.4 6.4 0 0 1 651 695A6.4 6.4 0 0 1 646 703A6.4 6.4 0 0 1 639 710A6.4 6.4 0 0 1 629 713A6.4 6.4 0 0 1 619 712A6.4 6.4 0 0 1 609 709A6.4 6.4 0 0 1 603 702A6.4 6.4 0 0 1 597 693A6.4 6.4 0 0 1 595 683A6.4 6.4 0 0 1 598 674A6.4 6.4 0 0 1 603 665A6.4 6.4 0 0 1 610 657A6.4 6.4 0 0 1 620 655A6.4 6.4 0 0 1 631 656A6.4 6.4 0 0 1 640 660A6.4 6.4 0 0 1 647 666A6.4 6.4 0 0 1 653 675A6.4 6.4 0 0 1 653 685ZM711 742A6.3 6.3 0 0 1 704 750A6.3 6.3 0 0 1 695 754A6.3 6.3 0 0 1 685 753A6.3 6.3 0 0 1 677 748A6.3 6.3 0 0 1 672 740A6.3 6.3 0 0 1 670 731A6.3 6.3 0 0 1 675 722A6.3 6.3 0 0 1 681 715A6.3 6.3 0 0 1 691 714A6.3 6.3 0 0 1 701 716A6.3 6.3 0 0 1 708 723A6.3 6.3 0 0 1 712 732A6.3 6.3 0 0 1 711 742ZM574 729A6.1 6.1 0 0 1 568 737A6.1 6.1 0 0 1 561 744A6.1 6.1 0 0 1 551 746A6.1 6.1 0 0 1 541 745A6.1 6.1 0 0 1 532 743A6.1 6.1 0 0 1 525 735A6.1 6.1 0 0 1 521 727A6.1 6.1 0 0 1 517 718A6.1 6.1 0 0 1 518 709A6.1 6.1 0 0 1 522 700A6.1 6.1 0 0 1 529 694A6.1 6.1 0 0 1 537 687A6.1 6.1 0 0 1 547 686A6.1 6.1 0 0 1 556 689A6.1 6.1 0 0 1 564 694A6.1 6.1 0 0 1 571 701A6.1 6.1 0 0 1 574 710A6.1 6.1 0 0 1 575 719A6.1 6.1 0 0 1 574 729ZM772 798A6.3 6.3 0 0 1 769 807A6.3 6.3 0 0 1 762 814A6.3 6.3 0 0 1 754 818A6.3 6.3 0 0 1 744 819A6.3 6.3 0 0 1 734 816A6.3 6.3 0 0 1 727 808A6.3 6.3 0 0 1 723 799A6.3 6.3 0 0 1 723 789A6.3 6.3 0 0 1 728 781A6.3 6.3 0 0 1 734 773A6.3 6.3 0 0 1 743 769A6.3 6.3 0 0 1 753 769A6.3 6.3 0 0 1 762 774A6.3 6.3 0 0 1 769 780A6.3 6.3 0 0 1 773 789A6.3 6.3 0 0 1 772 798ZM722 791A6.2 6.2 0 0 1 718 800A6.2 6.2 0 0 1 709 804A6.2 6.2 0 0 1 699 805A6.2 6.2 0 0 1 690 801A6.2 6.2 0 0 1 685 793A6.2 6.2 0 0 1 681 784A6.2 6.2 0 0 1 685 774A6.2 6.2 0 0 1 692 768A6.2 6.2 0 0 1 701 764A6.2 6.2 0 0 1 710 767A6.2 6.2 0 0 1 718 772A6.2 6.2 0 0 1 723 781A6.2 6.2 0 0 1 722 791ZM695 812A6.5 6.5 0 0 1 691 822A6.5 6.5 0 0 1 685 830A6.5 6.5 0 0 1 675 833A6.5 6.5 0 0 1 665 835A6.5 6.5 0 0 1 655 835A6.5 6.5 0 0 1 647 828A6.5 6.5 0 0 1 640 820A6.5 6.5 0 0 1 637 811A6.5 6.5 0 0 1 638 801A6.5 6.5 0 0 1 642 792A6.5 6.5 0 0 1 648 784A6.5 6.5 0 0 1 657 779A6.5 6.5 0 0 1 667 778A6.5 6.5 0 0 1 676 781A6.5 6.5 0 0 1 685 785A6.5 6.5 0 0 1 691 793A6.5 6.5 0 0 1 694 802A6.5 6.5 0 0 1 695 812ZM525 735A6.2 6.2 0 0 1 518 742A6.2 6.2 0 0 1 509 745A6.2 6.2 0 0 1 499 746A6.2 6.2 0 0 1 492 739A6.2 6.2 0 0 1 488 730A6.2 6.2 0 0 1 488 721A6.2 6.2 0 0 1 492 713A6.2 6.2 0 0 1 499 706A6.2 6.2 0 0 1 509 707A6.2 6.2 0 0 1 518 710A6.2 6.2 0 0 1 525 716A6.2 6.2 0 0 1 526 726A6.2 6.2 0 0 1 525 735ZM597 692A6.4 6.4 0 0 1 590 699A6.4 6.4 0 0 1 579 701A6.4 6.4 0 0 1 570 698A6.4 6.4 0 0 1 561 694A6.4 6.4 0 0 1 554 686A6.4 6.4 0 0 1 549 677A6.4 6.4 0 0 1 549 667A6.4 6.4 0 0 1 552 657A6.4 6.4 0 0 1 559 649A6.4 6.4 0 0 1 569 645A6.4 6.4 0 0 1 578 642A6.4 6.4 0 0 1 588 643A6.4 6.4 0 0 1 597 648A6.4 6.4 0 0 1 602 657A6.4 6.4 0 0 1 607 665A6.4 6.4 0 0 1 608 675A6.4 6.4 0 0 1 605 685A6.4 6.4 0 0 1 597 692ZM552 770A6.1 6.1 0 0 1 548 778A6.1 6.1 0 0 1 540 783A6.1 6.1 0 0 1 530 781A6.1 6.1 0 0 1 522 777A6.1 6.1 0 0 1 518 769A6.1 6.1 0 0 1 518 759A6.1 6.1 0 0 1 522 751A6.1 6.1 0 0 1 531 747A6.1 6.1 0 0 1 541 747A6.1 6.1 0 0 1 549 752A6.1 6.1 0 0 1 552 761A6.1 6.1 0 0 1 552 770ZM509 780A6.1 6.1 0 0 1 506 789A6.1 6.1 0 0 1 498 794A6.1 6.1 0 0 1 489 797A6.1 6.1 0 0 1 480 795A6.1 6.1 0 0 1 473 789A6.1 6.1 0 0 1 468 782A6.1 6.1 0 0 1 469 772A6.1 6.1 0 0 1 471 763A6.1 6.1 0 0 1 479 758A6.1 6.1 0 0 1 488 755A6.1 6.1 0 0 1 497 756A6.1 6.1 0 0 1 505 762A6.1 6.1 0 0 1 508 771A6.1 6.1 0 0 1 509 780ZM553 688A6.3 6.3 0 0 1 546 696A6.3 6.3 0 0 1 536 698A6.3 6.3 0 0 1 527 695A6.3 6.3 0 0 1 520 688A6.3 6.3 0 0 1 519 678A6.3 6.3 0 0 1 523 669A6.3 6.3 0 0 1 531 664A6.3 6.3 0 0 1 541 664A6.3 6.3 0 0 1 550 669A6.3 6.3 0 0 1 554 678A6.3 6.3 0 0 1 553 688ZM825 800A6.3 6.3 0 0 1 818 807A6.3 6.3 0 0 1 810 814A6.3 6.3 0 0 1 800 812A6.3 6.3 0 0 1 792 809A6.3 6.3 0 0 1 784 802A6.3 6.3 0 0 1 783 792A6.3 6.3 0 0 1 783 782A6.3 6.3 0 0 1 789 774A6.3 6.3 0 0 1 798 770A6.3 6.3 0 0 1 808 770A6.3 6.3 0 0 1 817 773A6.3 6.3 0 0 1 824 781A6.3 6.3 0 0 1 827 790A6.3 6.3 0 0 1 825 800ZM681 763A6.4 6.4 0 0 1 674 770A6.4 6.4 0 0 1 666 776A6.4 6.4 0 0 1 656 777A6.4 6.4 0 0 1 646 775A6.4 6.4 0 0 1 638 768A6.4 6.4 0 0 1 633 760A6.4 6.4 0 0 1 629 751A6.4 6.4 0 0 1 632 741A6.4 6.4 0 0 1 636 732A6.4 6.4 0 0 1 644 726A6.4 6.4 0 0 1 654 721A6.4 6.4 0 0 1 664 723A6.4 6.4 0 0 1 672 728A6.4 6.4 0 0 1 679 735A6.4 6.4 0 0 1 684 744A6.4 6.4 0 0 1 684 754A6.4 6.4 0 0 1 681 763ZM822 745A6 6 0 0 1 814 750A6 6 0 0 1 804 749A6 6 0 0 1 797 744A6 6 0 0 1 793 735A6 6 0 0 1 794 726A6 6 0 0 1 801 719A6 6 0 0 1 810 717A6 6 0 0 1 818 720A6 6 0 0 1 825 727A6 6 0 0 1 826 736A6 6 0 0 1 822 745ZM544 844A6.5 6.5 0 0 1 536 850A6.5 6.5 0 0 1 527 855A6.5 6.5 0 0 1 517 854A6.5 6.5 0 0 1 508 849A6.5 6.5 0 0 1 504 840A6.5 6.5 0 0 1 503 829A6.5 6.5 0 0 1 509 821A6.5 6.5 0 0 1 516 814A6.5 6.5 0 0 1 526 813A6.5 6.5 0 0 1 536 816A6.5 6.5 0 0 1 543 823A6.5 6.5 0 0 1 546 833A6.5 6.5 0 0 1 544 844ZM627 880A6.2 6.2 0 0 1 618 885A6.2 6.2 0 0 1 609 889A6.2 6.2 0 0 1 599 889A6.2 6.2 0 0 1 589 885A6.2 6.2 0 0 1 584 877A6.2 6.2 0 0 1 579 869A6.2 6.2 0 0 1 576 859A6.2 6.2 0 0 1 578 849A6.2 6.2 0 0 1 584 841A6.2 6.2 0 0 1 592 835A6.2 6.2 0 0 1 601 833A6.2 6.2 0 0 1 611 834A6.2 6.2 0 0 1 620 836A6.2 6.2 0 0 1 628 843A6.2 6.2 0 0 1 633 851A6.2 6.2 0 0 1 634 861A6.2 6.2 0 0 1 632 871A6.2 6.2 0 0 1 627 880ZM605 747A6.2 6.2 0 0 1 596 751A6.2 6.2 0 0 1 586 751A6.2 6.2 0 0 1 577 748A6.2 6.2 0 0 1 569 742A6.2 6.2 0 0 1 564 733A6.2 6.2 0 0 1 565 723A6.2 6.2 0 0 1 568 714A6.2 6.2 0 0 1 574 706A6.2 6.2 0 0 1 583 703A6.2 6.2 0 0 1 593 701A6.2 6.2 0 0 1 602 704A6.2 6.2 0 0 1 609 711A6.2 6.2 0 0 1 613 720A6.2 6.2 0 0 1 615 730A6.2 6.2 0 0 1 611 739A6.2 6.2 0 0 1 605 747ZM698 714A6.1 6.1 0 0 1 688 718A6.1 6.1 0 0 1 679 716A6.1 6.1 0 0 1 670 713A6.1 6.1 0 0 1 664 706A6.1 6.1 0 0 1 660 697A6.1 6.1 0 0 1 660 688A6.1 6.1 0 0 1 663 679A6.1 6.1 0 0 1 671 673A6.1 6.1 0 0 1 679 670A6.1 6.1 0 0 1 689 668A6.1 6.1 0 0 1 698 672A6.1 6.1 0 0 1 704 680A6.1 6.1 0 0 1 709 688A6.1 6.1 0 0 1 707 698A6.1 6.1 0 0 1 705 708A6.1 6.1 0 0 1 698 714ZM586 789A6.4 6.4 0 0 1 576 793A6.4 6.4 0 0 1 566 791A6.4 6.4 0 0 1 557 787A6.4 6.4 0 0 1 550 780A6.4 6.4 0 0 1 548 770A6.4 6.4 0 0 1 550 760A6.4 6.4 0 0 1 555 751A6.4 6.4 0 0 1 564 746A6.4 6.4 0 0 1 573 745A6.4 6.4 0 0 1 584 746A6.4 6.4 0 0 1 592 753A6.4 6.4 0 0 1 595 762A6.4 6.4 0 0 1 596 772A6.4 6.4 0 0 1 592 781A6.4 6.4 0 0 1 586 789ZM471 739A6.3 6.3 0 0 1 466 748A6.3 6.3 0 0 1 460 756A6.3 6.3 0 0 1 450 758A6.3 6.3 0 0 1 440 757A6.3 6.3 0 0 1 432 753A6.3 6.3 0 0 1 425 746A6.3 6.3 0 0 1 422 736A6.3 6.3 0 0 1 421 726A6.3 6.3 0 0 1 427 718A6.3 6.3 0 0 1 434 712A6.3 6.3 0 0 1 443 708A6.3 6.3 0 0 1 453 709A6.3 6.3 0 0 1 462 713A6.3 6.3 0 0 1 469 720A6.3 6.3 0 0 1 471 729A6.3 6.3 0 0 1 471 739ZM755 721A6.2 6.2 0 0 1 750 728A6.2 6.2 0 0 1 741 732A6.2 6.2 0 0 1 731 731A6.2 6.2 0 0 1 723 726A6.2 6.2 0 0 1 719 717A6.2 6.2 0 0 1 720 707A6.2 6.2 0 0 1 726 700A6.2 6.2 0 0 1 735 695A6.2 6.2 0 0 1 744 697A6.2 6.2 0 0 1 752 702A6.2 6.2 0 0 1 756 711A6.2 6.2 0 0 1 755 721ZM469 849A6.3 6.3 0 0 1 461 854A6.3 6.3 0 0 1 451 855A6.3 6.3 0 0 1 442 853A6.3 6.3 0 0 1 432 850A6.3 6.3 0 0 1 426 842A6.3 6.3 0 0 1 421 833A6.3 6.3 0 0 1 423 823A6.3 6.3 0 0 1 424 813A6.3 6.3 0 0 1 431 805A6.3 6.3 0 0 1 440 801A6.3 6.3 0 0 1 450 798A6.3 6.3 0 0 1 459 802A6.3 6.3 0 0 1 469 805A6.3 6.3 0 0 1 475 813A6.3 6.3 0 0 1 478 822A6.3 6.3 0 0 1 478 832A6.3 6.3 0 0 1 476 842A6.3 6.3 0 0 1 469 849ZM491 1011A6.4 6.4 0 0 1 483 1017A6.4 6.4 0 0 1 474 1021A6.4 6.4 0 0 1 464 1019A6.4 6.4 0 0 1 456 1012A6.4 6.4 0 0 1 453 1002A6.4 6.4 0 0 1 457 993A6.4 6.4 0 0 1 463 986A6.4 6.4 0 0 1 472 982A6.4 6.4 0 0 1 482 986A6.4 6.4 0 0 1 490 991A6.4 6.4 0 0 1 492 1001A6.4 6.4 0 0 1 491 1011ZM479 896A6.3 6.3 0 0 1 474 905A6.3 6.3 0 0 1 466 910A6.3 6.3 0 0 1 456 913A6.3 6.3 0 0 1 447 908A6.3 6.3 0 0 1 440 901A6.3 6.3 0 0 1 438 892A6.3 6.3 0 0 1 439 882A6.3 6.3 0 0 1 446 875A6.3 6.3 0 0 1 455 870A6.3 6.3 0 0 1 465 872A6.3 6.3 0 0 1 473 878A6.3 6.3 0 0 1 478 886A6.3 6.3 0 0 1 479 896ZM518 876A6.3 6.3 0 0 1 515 886A6.3 6.3 0 0 1 507 891A6.3 6.3 0 0 1 497 891A6.3 6.3 0 0 1 488 887A6.3 6.3 0 0 1 483 878A6.3 6.3 0 0 1 484 868A6.3 6.3 0 0 1 490 860A6.3 6.3 0 0 1 500 856A6.3 6.3 0 0 1 509 860A6.3 6.3 0 0 1 516 867A6.3 6.3 0 0 1 518 876ZM465 958A6.1 6.1 0 0 1 461 967A6.1 6.1 0 0 1 453 972A6.1 6.1 0 0 1 444 976A6.1 6.1 0 0 1 434 976A6.1 6.1 0 0 1 427 970A6.1 6.1 0 0 1 420 963A6.1 6.1 0 0 1 419 954A6.1 6.1 0 0 1 420 944A6.1 6.1 0 0 1 426 937A6.1 6.1 0 0 1 433 931A6.1 6.1 0 0 1 443 930A6.1 6.1 0 0 1 453 932A6.1 6.1 0 0 1 460 938A6.1 6.1 0 0 1 465 948A6.1 6.1 0 0 1 465 958ZM564 919A6.4 6.4 0 0 1 560 928A6.4 6.4 0 0 1 550 933A6.4 6.4 0 0 1 541 936A6.4 6.4 0 0 1 531 933A6.4 6.4 0 0 1 523 927A6.4 6.4 0 0 1 516 920A6.4 6.4 0 0 1 513 910A6.4 6.4 0 0 1 515 900A6.4 6.4 0 0 1 519 891A6.4 6.4 0 0 1 526 885A6.4 6.4 0 0 1 536 882A6.4 6.4 0 0 1 545 882A6.4 6.4 0 0 1 555 884A6.4 6.4 0 0 1 563 891A6.4 6.4 0 0 1 566 900A6.4 6.4 0 0 1 569 910A6.4 6.4 0 0 1 564 919ZM519 989A6.4 6.4 0 0 1 511 994A6.4 6.4 0 0 1 502 998A6.4 6.4 0 0 1 491 996A6.4 6.4 0 0 1 484 989A6.4 6.4 0 0 1 479 980A6.4 6.4 0 0 1 479 970A6.4 6.4 0 0 1 483 960A6.4 6.4 0 0 1 491 953A6.4 6.4 0 0 1 501 953A6.4 6.4 0 0 1 511 954A6.4 6.4 0 0 1 519 960A6.4 6.4 0 0 1 522 970A6.4 6.4 0 0 1 524 980A6.4 6.4 0 0 1 519 989ZM565 1013A6.4 6.4 0 0 1 563 1024A6.4 6.4 0 0 1 556 1032A6.4 6.4 0 0 1 547 1037A6.4 6.4 0 0 1 538 1040A6.4 6.4 0 0 1 528 1039A6.4 6.4 0 0 1 519 1034A6.4 6.4 0 0 1 511 1028A6.4 6.4 0 0 1 508 1019A6.4 6.4 0 0 1 506 1009A6.4 6.4 0 0 1 510 999A6.4 6.4 0 0 1 514 990A6.4 6.4 0 0 1 522 984A6.4 6.4 0 0 1 533 983A6.4 6.4 0 0 1 543 983A6.4 6.4 0 0 1 552 986A6.4 6.4 0 0 1 560 994A6.4 6.4 0 0 1 562 1004A6.4 6.4 0 0 1 565 1013ZM409 1005A6.4 6.4 0 0 1 402 1011A6.4 6.4 0 0 1 393 1013A6.4 6.4 0 0 1 383 1011A6.4 6.4 0 0 1 376 1003A6.4 6.4 0 0 1 374 993A6.4 6.4 0 0 1 378 984A6.4 6.4 0 0 1 385 977A6.4 6.4 0 0 1 395 974A6.4 6.4 0 0 1 404 979A6.4 6.4 0 0 1 411 986A6.4 6.4 0 0 1 413 996A6.4 6.4 0 0 1 409 1005ZM381 977A6.4 6.4 0 0 1 372 980A6.4 6.4 0 0 1 362 980A6.4 6.4 0 0 1 354 973A6.4 6.4 0 0 1 350 964A6.4 6.4 0 0 1 351 954A6.4 6.4 0 0 1 357 946A6.4 6.4 0 0 1 367 943A6.4 6.4 0 0 1 377 944A6.4 6.4 0 0 1 384 950A6.4 6.4 0 0 1 388 959A6.4 6.4 0 0 1 386 969A6.4 6.4 0 0 1 381 977ZM499 957A6.2 6.2 0 0 1 490 961A6.2 6.2 0 0 1 481 962A6.2 6.2 0 0 1 472 959A6.2 6.2 0 0 1 465 953A6.2 6.2 0 0 1 461 944A6.2 6.2 0 0 1 461 935A6.2 6.2 0 0 1 465 926A6.2 6.2 0 0 1 471 918A6.2 6.2 0 0 1 481 917A6.2 6.2 0 0 1 490 916A6.2 6.2 0 0 1 498 922A6.2 6.2 0 0 1 504 930A6.2 6.2 0 0 1 506 939A6.2 6.2 0 0 1 505 949A6.2 6.2 0 0 1 499 957ZM453 814A6.1 6.1 0 0 1 446 820A6.1 6.1 0 0 1 438 825A6.1 6.1 0 0 1 428 823A6.1 6.1 0 0 1 418 822A6.1 6.1 0 0 1 412 815A6.1 6.1 0 0 1 405 807A6.1 6.1 0 0 1 404 798A6.1 6.1 0 0 1 402 788A6.1 6.1 0 0 1 407 779A6.1 6.1 0 0 1 414 772A6.1 6.1 0 0 1 422 767A6.1 6.1 0 0 1 432 764A6.1 6.1 0 0 1 441 767A6.1 6.1 0 0 1 449 773A6.1 6.1 0 0 1 457 778A6.1 6.1 0 0 1 461 787A6.1 6.1 0 0 1 462 797A6.1 6.1 0 0 1 458 806A6.1 6.1 0 0 1 453 814ZM390 931A6.1 6.1 0 0 1 383 939A6.1 6.1 0 0 1 375 944A6.1 6.1 0 0 1 365 942A6.1 6.1 0 0 1 358 936A6.1 6.1 0 0 1 354 927A6.1 6.1 0 0 1 355 918A6.1 6.1 0 0 1 360 910A6.1 6.1 0 0 1 369 907A6.1 6.1 0 0 1 378 907A6.1 6.1 0 0 1 386 913A6.1 6.1 0 0 1 389 922A6.1 6.1 0 0 1 390 931ZM563 960A6.4 6.4 0 0 1 555 967A6.4 6.4 0 0 1 547 972A6.4 6.4 0 0 1 537 973A6.4 6.4 0 0 1 528 971A6.4 6.4 0 0 1 519 966A6.4 6.4 0 0 1 515 956A6.4 6.4 0 0 1 512 947A6.4 6.4 0 0 1 515 936A6.4 6.4 0 0 1 523 930A6.4 6.4 0 0 1 531 925A6.4 6.4 0 0 1 541 922A6.4 6.4 0 0 1 551 925A6.4 6.4 0 0 1 559 931A6.4 6.4 0 0 1 565 940A6.4 6.4 0 0 1 564 950A6.4 6.4 0 0 1 563 960ZM425 912A6.2 6.2 0 0 1 420 921A6.2 6.2 0 0 1 413 927A6.2 6.2 0 0 1 403 927A6.2 6.2 0 0 1 394 924A6.2 6.2 0 0 1 388 916A6.2 6.2 0 0 1 388 906A6.2 6.2 0 0 1 392 898A6.2 6.2 0 0 1 400 892A6.2 6.2 0 0 1 409 890A6.2 6.2 0 0 1 419 894A6.2 6.2 0 0 1 423 903A6.2 6.2 0 0 1 425 912ZM770 912A6.3 6.3 0 0 1 761 917A6.3 6.3 0 0 1 753 923A6.3 6.3 0 0 1 743 923A6.3 6.3 0 0 1 734 921A6.3 6.3 0 0 1 726 915A6.3 6.3 0 0 1 719 908A6.3 6.3 0 0 1 716 898A6.3 6.3 0 0 1 719 889A6.3 6.3 0 0 1 721 879A6.3 6.3 0 0 1 728 872A6.3 6.3 0 0 1 737 868A6.3 6.3 0 0 1 747 867A6.3 6.3 0 0 1 757 869A6.3 6.3 0 0 1 765 875A6.3 6.3 0 0 1 770 883A6.3 6.3 0 0 1 774 892A6.3 6.3 0 0 1 773 902A6.3 6.3 0 0 1 770 912ZM765 960A6.1 6.1 0 0 1 764 969A6.1 6.1 0 0 1 757 977A6.1 6.1 0 0 1 749 980A6.1 6.1 0 0 1 739 982A6.1 6.1 0 0 1 731 978A6.1 6.1 0 0 1 724 972A6.1 6.1 0 0 1 718 964A6.1 6.1 0 0 1 719 954A6.1 6.1 0 0 1 720 945A6.1 6.1 0 0 1 727 939A6.1 6.1 0 0 1 736 934A6.1 6.1 0 0 1 745 933A6.1 6.1 0 0 1 754 935A6.1 6.1 0 0 1 761 942A6.1 6.1 0 0 1 765 951A6.1 6.1 0 0 1 765 960ZM701 922A6.3 6.3 0 0 1 693 928A6.3 6.3 0 0 1 684 928A6.3 6.3 0 0 1 674 926A6.3 6.3 0 0 1 665 922A6.3 6.3 0 0 1 661 913A6.3 6.3 0 0 1 658 903A6.3 6.3 0 0 1 661 894A6.3 6.3 0 0 1 666 885A6.3 6.3 0 0 1 675 881A6.3 6.3 0 0 1 684 879A6.3 6.3 0 0 1 694 880A6.3 6.3 0 0 1 702 885A6.3 6.3 0 0 1 706 895A6.3 6.3 0 0 1 710 904A6.3 6.3 0 0 1 708 914A6.3 6.3 0 0 1 701 922ZM821 862A6.5 6.5 0 0 1 813 869A6.5 6.5 0 0 1 803 871A6.5 6.5 0 0 1 794 867A6.5 6.5 0 0 1 787 860A6.5 6.5 0 0 1 784 850A6.5 6.5 0 0 1 789 841A6.5 6.5 0 0 1 796 833A6.5 6.5 0 0 1 806 831A6.5 6.5 0 0 1 815 835A6.5 6.5 0 0 1 822 843A6.5 6.5 0 0 1 824 853A6.5 6.5 0 0 1 821 862ZM813 1055A6.1 6.1 0 0 1 809 1064A6.1 6.1 0 0 1 800 1069A6.1 6.1 0 0 1 791 1068A6.1 6.1 0 0 1 782 1065A6.1 6.1 0 0 1 777 1057A6.1 6.1 0 0 1 775 1048A6.1 6.1 0 0 1 778 1039A6.1 6.1 0 0 1 785 1032A6.1 6.1 0 0 1 794 1030A6.1 6.1 0 0 1 803 1031A6.1 6.1 0 0 1 811 1037A6.1 6.1 0 0 1 813 1046A6.1 6.1 0 0 1 813 1055ZM786 865A6.5 6.5 0 0 1 782 874A6.5 6.5 0 0 1 774 880A6.5 6.5 0 0 1 764 881A6.5 6.5 0 0 1 755 878A6.5 6.5 0 0 1 749 870A6.5 6.5 0 0 1 747 860A6.5 6.5 0 0 1 751 851A6.5 6.5 0 0 1 759 845A6.5 6.5 0 0 1 769 844A6.5 6.5 0 0 1 778 847A6.5 6.5 0 0 1 785 854A6.5 6.5 0 0 1 786 865ZM817 997A6.2 6.2 0 0 1 809 1002A6.2 6.2 0 0 1 800 1003A6.2 6.2 0 0 1 791 1000A6.2 6.2 0 0 1 787 991A6.2 6.2 0 0 1 788 982A6.2 6.2 0 0 1 793 974A6.2 6.2 0 0 1 801 970A6.2 6.2 0 0 1 811 972A6.2 6.2 0 0 1 819 978A6.2 6.2 0 0 1 821 988A6.2 6.2 0 0 1 817 997ZM707 1008A6.5 6.5 0 0 1 699 1013A6.5 6.5 0 0 1 689 1013A6.5 6.5 0 0 1 679 1010A6.5 6.5 0 0 1 673 1001A6.5 6.5 0 0 1 672 990A6.5 6.5 0 0 1 677 981A6.5 6.5 0 0 1 685 975A6.5 6.5 0 0 1 694 972A6.5 6.5 0 0 1 703 975A6.5 6.5 0 0 1 711 981A6.5 6.5 0 0 1 714 991A6.5 6.5 0 0 1 714 1001A6.5 6.5 0 0 1 707 1008ZM794 945A6.4 6.4 0 0 1 785 950A6.4 6.4 0 0 1 775 948A6.4 6.4 0 0 1 767 943A6.4 6.4 0 0 1 764 934A6.4 6.4 0 0 1 765 923A6.4 6.4 0 0 1 773 917A6.4 6.4 0 0 1 783 916A6.4 6.4 0 0 1 793 918A6.4 6.4 0 0 1 798 927A6.4 6.4 0 0 1 798 936A6.4 6.4 0 0 1 794 945ZM697 949A6.5 6.5 0 0 1 691 957A6.5 6.5 0 0 1 681 961A6.5 6.5 0 0 1 671 960A6.5 6.5 0 0 1 662 954A6.5 6.5 0 0 1 659 944A6.5 6.5 0 0 1 661 934A6.5 6.5 0 0 1 667 925A6.5 6.5 0 0 1 677 922A6.5 6.5 0 0 1 686 924A6.5 6.5 0 0 1 695 929A6.5 6.5 0 0 1 698 939A6.5 6.5 0 0 1 697 949ZM837 897A6.4 6.4 0 0 1 832 905A6.4 6.4 0 0 1 824 912A6.4 6.4 0 0 1 814 912A6.4 6.4 0 0 1 804 911A6.4 6.4 0 0 1 796 905A6.4 6.4 0 0 1 791 896A6.4 6.4 0 0 1 791 886A6.4 6.4 0 0 1 794 876A6.4 6.4 0 0 1 802 870A6.4 6.4 0 0 1 811 865A6.4 6.4 0 0 1 821 865A6.4 6.4 0 0 1 830 869A6.4 6.4 0 0 1 835 878A6.4 6.4 0 0 1 840 887A6.4 6.4 0 0 1 837 897ZM775 1042A6.4 6.4 0 0 1 767 1048A6.4 6.4 0 0 1 758 1051A6.4 6.4 0 0 1 749 1045A6.4 6.4 0 0 1 742 1038A6.4 6.4 0 0 1 742 1027A6.4 6.4 0 0 1 748 1019A6.4 6.4 0 0 1 757 1015A6.4 6.4 0 0 1 767 1016A6.4 6.4 0 0 1 774 1022A6.4 6.4 0 0 1 777 1032A6.4 6.4 0 0 1 775 1042ZM1089 968A6.4 6.4 0 0 1 1085 978A6.4 6.4 0 0 1 1077 984A6.4 6.4 0 0 1 1067 986A6.4 6.4 0 0 1 1057 986A6.4 6.4 0 0 1 1048 981A6.4 6.4 0 0 1 1041 974A6.4 6.4 0 0 1 1037 965A6.4 6.4 0 0 1 1036 955A6.4 6.4 0 0 1 1041 946A6.4 6.4 0 0 1 1046 938A6.4 6.4 0 0 1 1056 933A6.4 6.4 0 0 1 1066 932A6.4 6.4 0 0 1 1075 935A6.4 6.4 0 0 1 1083 940A6.4 6.4 0 0 1 1090 948A6.4 6.4 0 0 1 1091 959A6.4 6.4 0 0 1 1089 968ZM958 910A6.2 6.2 0 0 1 954 919A6.2 6.2 0 0 1 945 924A6.2 6.2 0 0 1 936 925A6.2 6.2 0 0 1 927 922A6.2 6.2 0 0 1 920 916A6.2 6.2 0 0 1 915 908A6.2 6.2 0 0 1 914 898A6.2 6.2 0 0 1 918 889A6.2 6.2 0 0 1 925 883A6.2 6.2 0 0 1 934 878A6.2 6.2 0 0 1 943 879A6.2 6.2 0 0 1 951 885A6.2 6.2 0 0 1 959 891A6.2 6.2 0 0 1 960 901A6.2 6.2 0 0 1 958 910ZM935 1051A6.3 6.3 0 0 1 930 1060A6.3 6.3 0 0 1 924 1068A6.3 6.3 0 0 1 914 1070A6.3 6.3 0 0 1 904 1071A6.3 6.3 0 0 1 895 1068A6.3 6.3 0 0 1 888 1061A6.3 6.3 0 0 1 884 1052A6.3 6.3 0 0 1 883 1043A6.3 6.3 0 0 1 884 1033A6.3 6.3 0 0 1 890 1024A6.3 6.3 0 0 1 899 1021A6.3 6.3 0 0 1 908 1017A6.3 6.3 0 0 1 918 1020A6.3 6.3 0 0 1 927 1024A6.3 6.3 0 0 1 933 1032A6.3 6.3 0 0 1 935 1042A6.3 6.3 0 0 1 935 1051ZM907 962A6.2 6.2 0 0 1 905 972A6.2 6.2 0 0 1 898 979A6.2 6.2 0 0 1 890 984A6.2 6.2 0 0 1 881 987A6.2 6.2 0 0 1 871 984A6.2 6.2 0 0 1 863 979A6.2 6.2 0 0 1 858 971A6.2 6.2 0 0 1 854 962A6.2 6.2 0 0 1 856 952A6.2 6.2 0 0 1 860 942A6.2 6.2 0 0 1 867 936A6.2 6.2 0 0 1 877 933A6.2 6.2 0 0 1 887 934A6.2 6.2 0 0 1 895 938A6.2 6.2 0 0 1 903 944A6.2 6.2 0 0 1 907 953A6.2 6.2 0 0 1 907 962ZM966 953A6.1 6.1 0 0 1 963 962A6.1 6.1 0 0 1 958 970A6.1 6.1 0 0 1 949 974A6.1 6.1 0 0 1 939 971A6.1 6.1 0 0 1 931 967A6.1 6.1 0 0 1 925 959A6.1 6.1 0 0 1 924 949A6.1 6.1 0 0 1 926 940A6.1 6.1 0 0 1 934 933A6.1 6.1 0 0 1 943 930A6.1 6.1 0 0 1 952 930A6.1 6.1 0 0 1 960 936A6.1 6.1 0 0 1 965 944A6.1 6.1 0 0 1 966 953ZM932 1018A6.3 6.3 0 0 1 927 1026A6.3 6.3 0 0 1 919 1032A6.3 6.3 0 0 1 909 1033A6.3 6.3 0 0 1 900 1032A6.3 6.3 0 0 1 890 1028A6.3 6.3 0 0 1 886 1019A6.3 6.3 0 0 1 881 1010A6.3 6.3 0 0 1 881 1000A6.3 6.3 0 0 1 885 991A6.3 6.3 0 0 1 893 983A6.3 6.3 0 0 1 902 979A6.3 6.3 0 0 1 912 980A6.3 6.3 0 0 1 922 983A6.3 6.3 0 0 1 930 989A6.3 6.3 0 0 1 934 999A6.3 6.3 0 0 1 935 1008A6.3 6.3 0 0 1 932 1018ZM890 1014A6.1 6.1 0 0 1 887 1024A6.1 6.1 0 0 1 879 1029A6.1 6.1 0 0 1 870 1031A6.1 6.1 0 0 1 861 1030A6.1 6.1 0 0 1 852 1026A6.1 6.1 0 0 1 846 1018A6.1 6.1 0 0 1 844 1008A6.1 6.1 0 0 1 848 999A6.1 6.1 0 0 1 853 991A6.1 6.1 0 0 1 862 987A6.1 6.1 0 0 1 872 986A6.1 6.1 0 0 1 881 989A6.1 6.1 0 0 1 888 996A6.1 6.1 0 0 1 891 1005A6.1 6.1 0 0 1 890 1014ZM967 1036A6.5 6.5 0 0 1 961 1045A6.5 6.5 0 0 1 953 1050A6.5 6.5 0 0 1 943 1050A6.5 6.5 0 0 1 935 1045A6.5 6.5 0 0 1 930 1036A6.5 6.5 0 0 1 931 1026A6.5 6.5 0 0 1 939 1018A6.5 6.5 0 0 1 949 1016A6.5 6.5 0 0 1 959 1018A6.5 6.5 0 0 1 965 1026A6.5 6.5 0 0 1 967 1036ZM975 1002A6.2 6.2 0 0 1 969 1009A6.2 6.2 0 0 1 961 1014A6.2 6.2 0 0 1 951 1013A6.2 6.2 0 0 1 943 1007A6.2 6.2 0 0 1 940 997A6.2 6.2 0 0 1 944 988A6.2 6.2 0 0 1 951 982A6.2 6.2 0 0 1 960 980A6.2 6.2 0 0 1 968 984A6.2 6.2 0 0 1 973 992A6.2 6.2 0 0 1 975 1002ZM1035 940A6.4 6.4 0 0 1 1029 948A6.4 6.4 0 0 1 1021 954A6.4 6.4 0 0 1 1011 955A6.4 6.4 0 0 1 1002 951A6.4 6.4 0 0 1 993 946A6.4 6.4 0 0 1 991 936A6.4 6.4 0 0 1 990 927A6.4 6.4 0 0 1 992 917A6.4 6.4 0 0 1 1001 910A6.4 6.4 0 0 1 1010 907A6.4 6.4 0 0 1 1020 907A6.4 6.4 0 0 1 1029 911A6.4 6.4 0 0 1 1035 920A6.4 6.4 0 0 1 1036 930A6.4 6.4 0 0 1 1035 940ZM1031 985A6.3 6.3 0 0 1 1022 988A6.3 6.3 0 0 1 1012 987A6.3 6.3 0 0 1 1005 980A6.3 6.3 0 0 1 1002 970A6.3 6.3 0 0 1 1006 961A6.3 6.3 0 0 1 1014 955A6.3 6.3 0 0 1 1024 955A6.3 6.3 0 0 1 1032 959A6.3 6.3 0 0 1 1037 967A6.3 6.3 0 0 1 1037 977A6.3 6.3 0 0 1 1031 985ZM900 1093A6.4 6.4 0 0 1 898 1103A6.4 6.4 0 0 1 892 1111A6.4 6.4 0 0 1 882 1114A6.4 6.4 0 0 1 872 1116A6.4 6.4 0 0 1 863 1110A6.4 6.4 0 0 1 856 1103A6.4 6.4 0 0 1 854 1092A6.4 6.4 0 0 1 857 1082A6.4 6.4 0 0 1 864 1075A6.4 6.4 0 0 1 873 1070A6.4 6.4 0 0 1 883 1071A6.4 6.4 0 0 1 891 1076A6.4 6.4 0 0 1 898 1083A6.4 6.4 0 0 1 900 1093ZM1015 915A6.3 6.3 0 0 1 1007 922A6.3 6.3 0 0 1 999 928A6.3 6.3 0 0 1 989 930A6.3 6.3 0 0 1 980 927A6.3 6.3 0 0 1 971 923A6.3 6.3 0 0 1 966 914A6.3 6.3 0 0 1 962 905A6.3 6.3 0 0 1 964 895A6.3 6.3 0 0 1 969 887A6.3 6.3 0 0 1 976 878A6.3 6.3 0 0 1 985 876A6.3 6.3 0 0 1 995 875A6.3 6.3 0 0 1 1004 881A6.3 6.3 0 0 1 1012 886A6.3 6.3 0 0 1 1015 896A6.3 6.3 0 0 1 1017 905A6.3 6.3 0 0 1 1015 915ZM904 941A6.4 6.4 0 0 1 895 946A6.4 6.4 0 0 1 885 947A6.4 6.4 0 0 1 876 945A6.4 6.4 0 0 1 867 939A6.4 6.4 0 0 1 860 932A6.4 6.4 0 0 1 857 922A6.4 6.4 0 0 1 858 912A6.4 6.4 0 0 1 861 902A6.4 6.4 0 0 1 869 895A6.4 6.4 0 0 1 877 889A6.4 6.4 0 0 1 888 888A6.4 6.4 0 0 1 898 890A6.4 6.4 0 0 1 905 897A6.4 6.4 0 0 1 912 904A6.4 6.4 0 0 1 915 914A6.4 6.4 0 0 1 915 924A6.4 6.4 0 0 1 910 933A6.4 6.4 0 0 1 904 941ZM894 891A6.4 6.4 0 0 1 891 901A6.4 6.4 0 0 1 881 905A6.4 6.4 0 0 1 872 907A6.4 6.4 0 0 1 861 908A6.4 6.4 0 0 1 853 901A6.4 6.4 0 0 1 848 893A6.4 6.4 0 0 1 844 883A6.4 6.4 0 0 1 846 873A6.4 6.4 0 0 1 851 864A6.4 6.4 0 0 1 859 858A6.4 6.4 0 0 1 870 857A6.4 6.4 0 0 1 880 857A6.4 6.4 0 0 1 888 863A6.4 6.4 0 0 1 895 871A6.4 6.4 0 0 1 896 881A6.4 6.4 0 0 1 894 891ZM1018 841A6.2 6.2 0 0 1 1008 844A6.2 6.2 0 0 1 999 845A6.2 6.2 0 0 1 990 842A6.2 6.2 0 0 1 982 837A6.2 6.2 0 0 1 977 829A6.2 6.2 0 0 1 977 819A6.2 6.2 0 0 1 979 810A6.2 6.2 0 0 1 985 802A6.2 6.2 0 0 1 993 796A6.2 6.2 0 0 1 1003 795A6.2 6.2 0 0 1 1012 798A6.2 6.2 0 0 1 1021 804A6.2 6.2 0 0 1 1024 813A6.2 6.2 0 0 1 1025 823A6.2 6.2 0 0 1 1023 832A6.2 6.2 0 0 1 1018 841ZM969 807A6.3 6.3 0 0 1 962 814A6.3 6.3 0 0 1 953 818A6.3 6.3 0 0 1 943 820A6.3 6.3 0 0 1 934 816A6.3 6.3 0 0 1 926 811A6.3 6.3 0 0 1 922 801A6.3 6.3 0 0 1 921 792A6.3 6.3 0 0 1 925 783A6.3 6.3 0 0 1 931 776A6.3 6.3 0 0 1 939 770A6.3 6.3 0 0 1 949 769A6.3 6.3 0 0 1 959 772A6.3 6.3 0 0 1 966 778A6.3 6.3 0 0 1 971 787A6.3 6.3 0 0 1 972 797A6.3 6.3 0 0 1 969 807ZM957 841A6.2 6.2 0 0 1 950 848A6.2 6.2 0 0 1 941 853A6.2 6.2 0 0 1 932 851A6.2 6.2 0 0 1 923 847A6.2 6.2 0 0 1 919 838A6.2 6.2 0 0 1 919 828A6.2 6.2 0 0 1 922 819A6.2 6.2 0 0 1 930 813A6.2 6.2 0 0 1 940 812A6.2 6.2 0 0 1 949 815A6.2 6.2 0 0 1 956 822A6.2 6.2 0 0 1 959 831A6.2 6.2 0 0 1 957 841ZM1061 862A6.4 6.4 0 0 1 1057 871A6.4 6.4 0 0 1 1049 877A6.4 6.4 0 0 1 1039 881A6.4 6.4 0 0 1 1029 878A6.4 6.4 0 0 1 1020 875A6.4 6.4 0 0 1 1013 867A6.4 6.4 0 0 1 1009 858A6.4 6.4 0 0 1 1008 848A6.4 6.4 0 0 1 1012 838A6.4 6.4 0 0 1 1019 831A6.4 6.4 0 0 1 1028 827A6.4 6.4 0 0 1 1038 824A6.4 6.4 0 0 1 1048 828A6.4 6.4 0 0 1 1057 833A6.4 6.4 0 0 1 1062 842A6.4 6.4 0 0 1 1064 852A6.4 6.4 0 0 1 1061 862ZM1009 872A6.4 6.4 0 0 1 1002 878A6.4 6.4 0 0 1 993 882A6.4 6.4 0 0 1 984 877A6.4 6.4 0 0 1 976 871A6.4 6.4 0 0 1 974 861A6.4 6.4 0 0 1 977 851A6.4 6.4 0 0 1 985 844A6.4 6.4 0 0 1 995 843A6.4 6.4 0 0 1 1005 845A6.4 6.4 0 0 1 1012 853A6.4 6.4 0 0 1 1012 863A6.4 6.4 0 0 1 1009 872ZM1090 884A6.2 6.2 0 0 1 1088 893A6.2 6.2 0 0 1 1079 899A6.2 6.2 0 0 1 1070 901A6.2 6.2 0 0 1 1060 899A6.2 6.2 0 0 1 1053 891A6.2 6.2 0 0 1 1051 882A6.2 6.2 0 0 1 1052 872A6.2 6.2 0 0 1 1058 864A6.2 6.2 0 0 1 1067 860A6.2 6.2 0 0 1 1077 861A6.2 6.2 0 0 1 1085 866A6.2 6.2 0 0 1 1090 874A6.2 6.2 0 0 1 1090 884ZM1006 784A6.3 6.3 0 0 1 1004 793A6.3 6.3 0 0 1 999 801A6.3 6.3 0 0 1 990 806A6.3 6.3 0 0 1 981 810A6.3 6.3 0 0 1 971 806A6.3 6.3 0 0 1 962 802A6.3 6.3 0 0 1 957 794A6.3 6.3 0 0 1 952 785A6.3 6.3 0 0 1 954 775A6.3 6.3 0 0 1 957 765A6.3 6.3 0 0 1 965 758A6.3 6.3 0 0 1 974 754A6.3 6.3 0 0 1 985 754A6.3 6.3 0 0 1 993 759A6.3 6.3 0 0 1 1001 766A6.3 6.3 0 0 1 1005 774A6.3 6.3 0 0 1 1006 784ZM1064 806A6.3 6.3 0 0 1 1059 815A6.3 6.3 0 0 1 1050 818A6.3 6.3 0 0 1 1040 819A6.3 6.3 0 0 1 1032 813A6.3 6.3 0 0 1 1029 804A6.3 6.3 0 0 1 1030 794A6.3 6.3 0 0 1 1035 786A6.3 6.3 0 0 1 1044 782A6.3 6.3 0 0 1 1054 782A6.3 6.3 0 0 1 1061 788A6.3 6.3 0 0 1 1065 797A6.3 6.3 0 0 1 1064 806ZM1132 916A6.3 6.3 0 0 1 1125 922A6.3 6.3 0 0 1 1115 925A6.3 6.3 0 0 1 1106 922A6.3 6.3 0 0 1 1097 917A6.3 6.3 0 0 1 1093 909A6.3 6.3 0 0 1 1090 899A6.3 6.3 0 0 1 1092 889A6.3 6.3 0 0 1 1099 881A6.3 6.3 0 0 1 1108 877A6.3 6.3 0 0 1 1118 878A6.3 6.3 0 0 1 1128 880A6.3 6.3 0 0 1 1135 887A6.3 6.3 0 0 1 1138 897A6.3 6.3 0 0 1 1137 907A6.3 6.3 0 0 1 1132 916ZM1361 984A6.1 6.1 0 0 1 1356 991A6.1 6.1 0 0 1 1348 997A6.1 6.1 0 0 1 1338 996A6.1 6.1 0 0 1 1330 992A6.1 6.1 0 0 1 1326 983A6.1 6.1 0 0 1 1326 973A6.1 6.1 0 0 1 1331 965A6.1 6.1 0 0 1 1339 961A6.1 6.1 0 0 1 1349 961A6.1 6.1 0 0 1 1356 966A6.1 6.1 0 0 1 1361 974A6.1 6.1 0 0 1 1361 984ZM1267 976A6.2 6.2 0 0 1 1261 984A6.2 6.2 0 0 1 1252 987A6.2 6.2 0 0 1 1242 987A6.2 6.2 0 0 1 1234 981A6.2 6.2 0 0 1 1231 972A6.2 6.2 0 0 1 1231 963A6.2 6.2 0 0 1 1236 954A6.2 6.2 0 0 1 1246 951A6.2 6.2 0 0 1 1255 951A6.2 6.2 0 0 1 1263 957A6.2 6.2 0 0 1 1268 966A6.2 6.2 0 0 1 1267 976ZM1193 930A6.1 6.1 0 0 1 1185 936A6.1 6.1 0 0 1 1175 936A6.1 6.1 0 0 1 1167 931A6.1 6.1 0 0 1 1160 925A6.1 6.1 0 0 1 1157 916A6.1 6.1 0 0 1 1158 907A6.1 6.1 0 0 1 1161 898A6.1 6.1 0 0 1 1169 892A6.1 6.1 0 0 1 1178 889A6.1 6.1 0 0 1 1188 890A6.1 6.1 0 0 1 1195 897A6.1 6.1 0 0 1 1201 905A6.1 6.1 0 0 1 1203 914A6.1 6.1 0 0 1 1199 923A6.1 6.1 0 0 1 1193 930ZM1176 872A6 6 0 0 1 1172 881A6 6 0 0 1 1163 884A6 6 0 0 1 1154 885A6 6 0 0 1 1147 878A6 6 0 0 1 1141 870A6 6 0 0 1 1143 861A6 6 0 0 1 1148 853A6 6 0 0 1 1156 849A6 6 0 0 1 1165 850A6 6 0 0 1 1173 855A6 6 0 0 1 1178 863A6 6 0 0 1 1176 872ZM1273 913A6.5 6.5 0 0 1 1270 922A6.5 6.5 0 0 1 1263 929A6.5 6.5 0 0 1 1254 934A6.5 6.5 0 0 1 1244 935A6.5 6.5 0 0 1 1235 929A6.5 6.5 0 0 1 1229 921A6.5 6.5 0 0 1 1226 911A6.5 6.5 0 0 1 1230 902A6.5 6.5 0 0 1 1236 894A6.5 6.5 0 0 1 1245 889A6.5 6.5 0 0 1 1255 890A6.5 6.5 0 0 1 1265 894A6.5 6.5 0 0 1 1270 903A6.5 6.5 0 0 1 1273 913ZM1411 961A6.3 6.3 0 0 1 1409 971A6.3 6.3 0 0 1 1402 978A6.3 6.3 0 0 1 1392 980A6.3 6.3 0 0 1 1383 976A6.3 6.3 0 0 1 1375 970A6.3 6.3 0 0 1 1374 960A6.3 6.3 0 0 1 1377 951A6.3 6.3 0 0 1 1383 944A6.3 6.3 0 0 1 1393 942A6.3 6.3 0 0 1 1403 944A6.3 6.3 0 0 1 1410 951A6.3 6.3 0 0 1 1411 961ZM1215 860A6.4 6.4 0 0 1 1209 867A6.4 6.4 0 0 1 1200 870A6.4 6.4 0 0 1 1190 872A6.4 6.4 0 0 1 1180 869A6.4 6.4 0 0 1 1172 863A6.4 6.4 0 0 1 1169 852A6.4 6.4 0 0 1 1168 843A6.4 6.4 0 0 1 1168 833A6.4 6.4 0 0 1 1175 825A6.4 6.4 0 0 1 1183 819A6.4 6.4 0 0 1 1193 817A6.4 6.4 0 0 1 1203 818A6.4 6.4 0 0 1 1211 825A6.4 6.4 0 0 1 1217 832A6.4 6.4 0 0 1 1222 841A6.4 6.4 0 0 1 1219 851A6.4 6.4 0 0 1 1215 860ZM1383 934A6.3 6.3 0 0 1 1374 938A6.3 6.3 0 0 1 1364 938A6.3 6.3 0 0 1 1355 933A6.3 6.3 0 0 1 1349 926A6.3 6.3 0 0 1 1346 917A6.3 6.3 0 0 1 1348 907A6.3 6.3 0 0 1 1352 898A6.3 6.3 0 0 1 1361 894A6.3 6.3 0 0 1 1370 892A6.3 6.3 0 0 1 1380 893A6.3 6.3 0 0 1 1388 899A6.3 6.3 0 0 1 1392 908A6.3 6.3 0 0 1 1392 918A6.3 6.3 0 0 1 1390 928A6.3 6.3 0 0 1 1383 934ZM1165 934A6.5 6.5 0 0 1 1160 943A6.5 6.5 0 0 1 1153 949A6.5 6.5 0 0 1 1143 952A6.5 6.5 0 0 1 1133 949A6.5 6.5 0 0 1 1126 941A6.5 6.5 0 0 1 1123 932A6.5 6.5 0 0 1 1125 922A6.5 6.5 0 0 1 1129 913A6.5 6.5 0 0 1 1139 909A6.5 6.5 0 0 1 1149 910A6.5 6.5 0 0 1 1158 915A6.5 6.5 0 0 1 1163 924A6.5 6.5 0 0 1 1165 934ZM1322 902A6.5 6.5 0 0 1 1318 912A6.5 6.5 0 0 1 1309 917A6.5 6.5 0 0 1 1299 918A6.5 6.5 0 0 1 1289 914A6.5 6.5 0 0 1 1283 905A6.5 6.5 0 0 1 1283 895A6.5 6.5 0 0 1 1288 886A6.5 6.5 0 0 1 1297 881A6.5 6.5 0 0 1 1307 879A6.5 6.5 0 0 1 1316 884A6.5 6.5 0 0 1 1321 892A6.5 6.5 0 0 1 1322 902ZM1216 960A6.3 6.3 0 0 1 1211 969A6.3 6.3 0 0 1 1203 975A6.3 6.3 0 0 1 1192 974A6.3 6.3 0 0 1 1184 968A6.3 6.3 0 0 1 1179 960A6.3 6.3 0 0 1 1180 951A6.3 6.3 0 0 1 1184 942A6.3 6.3 0 0 1 1193 937A6.3 6.3 0 0 1 1202 938A6.3 6.3 0 0 1 1211 942A6.3 6.3 0 0 1 1217 950A6.3 6.3 0 0 1 1216 960ZM1476 972A6.5 6.5 0 0 1 1468 979A6.5 6.5 0 0 1 1458 980A6.5 6.5 0 0 1 1448 977A6.5 6.5 0 0 1 1443 968A6.5 6.5 0 0 1 1441 958A6.5 6.5 0 0 1 1445 948A6.5 6.5 0 0 1 1453 943A6.5 6.5 0 0 1 1463 941A6.5 6.5 0 0 1 1472 945A6.5 6.5 0 0 1 1479 952A6.5 6.5 0 0 1 1481 963A6.5 6.5 0 0 1 1476 972ZM1168 828A6.4 6.4 0 0 1 1162 836A6.4 6.4 0 0 1 1153 841A6.4 6.4 0 0 1 1143 840A6.4 6.4 0 0 1 1133 839A6.4 6.4 0 0 1 1126 831A6.4 6.4 0 0 1 1121 823A6.4 6.4 0 0 1 1118 814A6.4 6.4 0 0 1 1121 804A6.4 6.4 0 0 1 1125 795A6.4 6.4 0 0 1 1134 789A6.4 6.4 0 0 1 1143 787A6.4 6.4 0 0 1 1153 788A6.4 6.4 0 0 1 1162 792A6.4 6.4 0 0 1 1170 799A6.4 6.4 0 0 1 1171 809A6.4 6.4 0 0 1 1172 819A6.4 6.4 0 0 1 1168 828ZM1316 983A6.4 6.4 0 0 1 1310 992A6.4 6.4 0 0 1 1301 996A6.4 6.4 0 0 1 1291 995A6.4 6.4 0 0 1 1282 993A6.4 6.4 0 0 1 1276 985A6.4 6.4 0 0 1 1272 976A6.4 6.4 0 0 1 1273 966A6.4 6.4 0 0 1 1278 958A6.4 6.4 0 0 1 1285 951A6.4 6.4 0 0 1 1294 947A6.4 6.4 0 0 1 1305 949A6.4 6.4 0 0 1 1312 956A6.4 6.4 0 0 1 1318 964A6.4 6.4 0 0 1 1320 974A6.4 6.4 0 0 1 1316 983ZM1288 862A6.1 6.1 0 0 1 1282 870A6.1 6.1 0 0 1 1273 874A6.1 6.1 0 0 1 1264 875A6.1 6.1 0 0 1 1254 874A6.1 6.1 0 0 1 1247 867A6.1 6.1 0 0 1 1241 859A6.1 6.1 0 0 1 1239 849A6.1 6.1 0 0 1 1241 840A6.1 6.1 0 0 1 1246 832A6.1 6.1 0 0 1 1254 825A6.1 6.1 0 0 1 1263 823A6.1 6.1 0 0 1 1273 823A6.1 6.1 0 0 1 1281 829A6.1 6.1 0 0 1 1288 836A6.1 6.1 0 0 1 1293 844A6.1 6.1 0 0 1 1293 854A6.1 6.1 0 0 1 1288 862ZM1442 952A6.3 6.3 0 0 1 1434 957A6.3 6.3 0 0 1 1425 959A6.3 6.3 0 0 1 1415 957A6.3 6.3 0 0 1 1408 950A6.3 6.3 0 0 1 1404 941A6.3 6.3 0 0 1 1405 931A6.3 6.3 0 0 1 1410 923A6.3 6.3 0 0 1 1418 917A6.3 6.3 0 0 1 1427 915A6.3 6.3 0 0 1 1436 918A6.3 6.3 0 0 1 1444 924A6.3 6.3 0 0 1 1448 933A6.3 6.3 0 0 1 1447 943A6.3 6.3 0 0 1 1442 952ZM1221 898A6.5 6.5 0 0 1 1212 903A6.5 6.5 0 0 1 1201 902A6.5 6.5 0 0 1 1194 896A6.5 6.5 0 0 1 1187 888A6.5 6.5 0 0 1 1186 878A6.5 6.5 0 0 1 1189 868A6.5 6.5 0 0 1 1195 860A6.5 6.5 0 0 1 1205 858A6.5 6.5 0 0 1 1215 858A6.5 6.5 0 0 1 1224 863A6.5 6.5 0 0 1 1231 871A6.5 6.5 0 0 1 1232 881A6.5 6.5 0 0 1 1229 891A6.5 6.5 0 0 1 1221 898ZM1299 1160A6.5 6.5 0 0 1 1290 1165A6.5 6.5 0 0 1 1281 1167A6.5 6.5 0 0 1 1271 1163A6.5 6.5 0 0 1 1266 1154A6.5 6.5 0 0 1 1263 1144A6.5 6.5 0 0 1 1269 1135A6.5 6.5 0 0 1 1277 1129A6.5 6.5 0 0 1 1287 1129A6.5 6.5 0 0 1 1297 1132A6.5 6.5 0 0 1 1302 1141A6.5 6.5 0 0 1 1304 1151A6.5 6.5 0 0 1 1299 1160ZM1237 1015A6.3 6.3 0 0 1 1229 1022A6.3 6.3 0 0 1 1219 1024A6.3 6.3 0 0 1 1210 1020A6.3 6.3 0 0 1 1201 1016A6.3 6.3 0 0 1 1195 1008A6.3 6.3 0 0 1 1193 999A6.3 6.3 0 0 1 1193 989A6.3 6.3 0 0 1 1199 981A6.3 6.3 0 0 1 1205 973A6.3 6.3 0 0 1 1214 969A6.3 6.3 0 0 1 1225 970A6.3 6.3 0 0 1 1234 973A6.3 6.3 0 0 1 1240 981A6.3 6.3 0 0 1 1245 989A6.3 6.3 0 0 1 1245 999A6.3 6.3 0 0 1 1243 1008A6.3 6.3 0 0 1 1237 1015ZM1401 1079A6.3 6.3 0 0 1 1392 1082A6.3 6.3 0 0 1 1382 1084A6.3 6.3 0 0 1 1372 1080A6.3 6.3 0 0 1 1367 1071A6.3 6.3 0 0 1 1365 1062A6.3 6.3 0 0 1 1365 1052A6.3 6.3 0 0 1 1369 1043A6.3 6.3 0 0 1 1378 1039A6.3 6.3 0 0 1 1388 1036A6.3 6.3 0 0 1 1397 1038A6.3 6.3 0 0 1 1406 1044A6.3 6.3 0 0 1 1410 1053A6.3 6.3 0 0 1 1411 1063A6.3 6.3 0 0 1 1408 1073A6.3 6.3 0 0 1 1401 1079ZM1370 1285A6.2 6.2 0 0 1 1363 1292A6.2 6.2 0 0 1 1354 1295A6.2 6.2 0 0 1 1345 1294A6.2 6.2 0 0 1 1337 1289A6.2 6.2 0 0 1 1332 1281A6.2 6.2 0 0 1 1331 1271A6.2 6.2 0 0 1 1335 1262A6.2 6.2 0 0 1 1344 1257A6.2 6.2 0 0 1 1353 1255A6.2 6.2 0 0 1 1362 1259A6.2 6.2 0 0 1 1368 1266A6.2 6.2 0 0 1 1372 1275A6.2 6.2 0 0 1 1370 1285ZM1314 1228A6.2 6.2 0 0 1 1310 1237A6.2 6.2 0 0 1 1303 1244A6.2 6.2 0 0 1 1295 1249A6.2 6.2 0 0 1 1285 1248A6.2 6.2 0 0 1 1276 1245A6.2 6.2 0 0 1 1270 1237A6.2 6.2 0 0 1 1266 1228A6.2 6.2 0 0 1 1267 1218A6.2 6.2 0 0 1 1274 1211A6.2 6.2 0 0 1 1281 1205A6.2 6.2 0 0 1 1290 1203A6.2 6.2 0 0 1 1300 1205A6.2 6.2 0 0 1 1307 1211A6.2 6.2 0 0 1 1313 1218A6.2 6.2 0 0 1 1314 1228ZM1369 1168A6.4 6.4 0 0 1 1360 1171A6.4 6.4 0 0 1 1351 1169A6.4 6.4 0 0 1 1343 1162A6.4 6.4 0 0 1 1341 1152A6.4 6.4 0 0 1 1345 1142A6.4 6.4 0 0 1 1354 1137A6.4 6.4 0 0 1 1363 1137A6.4 6.4 0 0 1 1372 1142A6.4 6.4 0 0 1 1376 1150A6.4 6.4 0 0 1 1375 1160A6.4 6.4 0 0 1 1369 1168ZM1281 1027A6.4 6.4 0 0 1 1275 1035A6.4 6.4 0 0 1 1267 1041A6.4 6.4 0 0 1 1256 1043A6.4 6.4 0 0 1 1247 1039A6.4 6.4 0 0 1 1239 1033A6.4 6.4 0 0 1 1235 1023A6.4 6.4 0 0 1 1236 1013A6.4 6.4 0 0 1 1241 1004A6.4 6.4 0 0 1 1250 999A6.4 6.4 0 0 1 1260 996A6.4 6.4 0 0 1 1270 999A6.4 6.4 0 0 1 1278 1006A6.4 6.4 0 0 1 1280 1016A6.4 6.4 0 0 1 1281 1027ZM1325 1208A6.2 6.2 0 0 1 1317 1215A6.2 6.2 0 0 1 1308 1218A6.2 6.2 0 0 1 1298 1218A6.2 6.2 0 0 1 1290 1212A6.2 6.2 0 0 1 1282 1206A6.2 6.2 0 0 1 1279 1197A6.2 6.2 0 0 1 1277 1187A6.2 6.2 0 0 1 1281 1178A6.2 6.2 0 0 1 1288 1171A6.2 6.2 0 0 1 1296 1166A6.2 6.2 0 0 1 1306 1164A6.2 6.2 0 0 1 1315 1167A6.2 6.2 0 0 1 1323 1173A6.2 6.2 0 0 1 1328 1181A6.2 6.2 0 0 1 1332 1190A6.2 6.2 0 0 1 1329 1199A6.2 6.2 0 0 1 1325 1208ZM1230 1127A6.4 6.4 0 0 1 1221 1130A6.4 6.4 0 0 1 1211 1131A6.4 6.4 0 0 1 1203 1125A6.4 6.4 0 0 1 1198 1116A6.4 6.4 0 0 1 1198 1106A6.4 6.4 0 0 1 1204 1098A6.4 6.4 0 0 1 1213 1094A6.4 6.4 0 0 1 1223 1095A6.4 6.4 0 0 1 1231 1099A6.4 6.4 0 0 1 1236 1108A6.4 6.4 0 0 1 1236 1118A6.4 6.4 0 0 1 1230 1127ZM1396 1117A6.2 6.2 0 0 1 1392 1125A6.2 6.2 0 0 1 1383 1130A6.2 6.2 0 0 1 1374 1134A6.2 6.2 0 0 1 1364 1132A6.2 6.2 0 0 1 1356 1127A6.2 6.2 0 0 1 1351 1118A6.2 6.2 0 0 1 1348 1109A6.2 6.2 0 0 1 1349 1099A6.2 6.2 0 0 1 1354 1090A6.2 6.2 0 0 1 1363 1085A6.2 6.2 0 0 1 1372 1083A6.2 6.2 0 0 1 1382 1085A6.2 6.2 0 0 1 1390 1090A6.2 6.2 0 0 1 1396 1098A6.2 6.2 0 0 1 1399 1107A6.2 6.2 0 0 1 1396 1117ZM1211 1020A6.5 6.5 0 0 1 1209 1030A6.5 6.5 0 0 1 1201 1037A6.5 6.5 0 0 1 1192 1041A6.5 6.5 0 0 1 1182 1043A6.5 6.5 0 0 1 1172 1038A6.5 6.5 0 0 1 1165 1032A6.5 6.5 0 0 1 1160 1024A6.5 6.5 0 0 1 1158 1014A6.5 6.5 0 0 1 1159 1004A6.5 6.5 0 0 1 1165 996A6.5 6.5 0 0 1 1173 989A6.5 6.5 0 0 1 1183 986A6.5 6.5 0 0 1 1193 988A6.5 6.5 0 0 1 1201 994A6.5 6.5 0 0 1 1210 1000A6.5 6.5 0 0 1 1211 1010A6.5 6.5 0 0 1 1211 1020ZM1351 1084A6.2 6.2 0 0 1 1347 1093A6.2 6.2 0 0 1 1341 1100A6.2 6.2 0 0 1 1331 1102A6.2 6.2 0 0 1 1322 1099A6.2 6.2 0 0 1 1316 1091A6.2 6.2 0 0 1 1314 1082A6.2 6.2 0 0 1 1316 1073A6.2 6.2 0 0 1 1323 1067A6.2 6.2 0 0 1 1332 1065A6.2 6.2 0 0 1 1342 1067A6.2 6.2 0 0 1 1349 1074A6.2 6.2 0 0 1 1351 1084ZM1279 1117A6.1 6.1 0 0 1 1270 1122A6.1 6.1 0 0 1 1260 1123A6.1 6.1 0 0 1 1252 1117A6.1 6.1 0 0 1 1245 1111A6.1 6.1 0 0 1 1244 1101A6.1 6.1 0 0 1 1246 1092A6.1 6.1 0 0 1 1252 1084A6.1 6.1 0 0 1 1262 1082A6.1 6.1 0 0 1 1271 1084A6.1 6.1 0 0 1 1279 1090A6.1 6.1 0 0 1 1283 1098A6.1 6.1 0 0 1 1282 1108A6.1 6.1 0 0 1 1279 1117ZM1255 1076A6.5 6.5 0 0 1 1247 1082A6.5 6.5 0 0 1 1238 1084A6.5 6.5 0 0 1 1228 1081A6.5 6.5 0 0 1 1220 1075A6.5 6.5 0 0 1 1217 1065A6.5 6.5 0 0 1 1219 1055A6.5 6.5 0 0 1 1225 1047A6.5 6.5 0 0 1 1234 1043A6.5 6.5 0 0 1 1244 1044A6.5 6.5 0 0 1 1252 1049A6.5 6.5 0 0 1 1258 1057A6.5 6.5 0 0 1 1260 1067A6.5 6.5 0 0 1 1255 1076ZM1319 1013A6.3 6.3 0 0 1 1317 1023A6.3 6.3 0 0 1 1312 1031A6.3 6.3 0 0 1 1303 1036A6.3 6.3 0 0 1 1293 1037A6.3 6.3 0 0 1 1284 1034A6.3 6.3 0 0 1 1276 1028A6.3 6.3 0 0 1 1272 1018A6.3 6.3 0 0 1 1272 1008A6.3 6.3 0 0 1 1277 1000A6.3 6.3 0 0 1 1283 991A6.3 6.3 0 0 1 1294 990A6.3 6.3 0 0 1 1303 991A6.3 6.3 0 0 1 1312 995A6.3 6.3 0 0 1 1318 1003A6.3 6.3 0 0 1 1319 1013ZM1388 1244A6.4 6.4 0 0 1 1381 1251A6.4 6.4 0 0 1 1373 1257A6.4 6.4 0 0 1 1363 1258A6.4 6.4 0 0 1 1354 1255A6.4 6.4 0 0 1 1347 1248A6.4 6.4 0 0 1 1342 1239A6.4 6.4 0 0 1 1342 1229A6.4 6.4 0 0 1 1346 1220A6.4 6.4 0 0 1 1353 1213A6.4 6.4 0 0 1 1363 1210A6.4 6.4 0 0 1 1373 1212A6.4 6.4 0 0 1 1381 1217A6.4 6.4 0 0 1 1387 1225A6.4 6.4 0 0 1 1390 1234A6.4 6.4 0 0 1 1388 1244ZM1207 1207A6.3 6.3 0 0 1 1198 1213A6.3 6.3 0 0 1 1189 1214A6.3 6.3 0 0 1 1180 1211A6.3 6.3 0 0 1 1173 1203A6.3 6.3 0 0 1 1171 1194A6.3 6.3 0 0 1 1172 1185A6.3 6.3 0 0 1 1178 1177A6.3 6.3 0 0 1 1187 1172A6.3 6.3 0 0 1 1197 1174A6.3 6.3 0 0 1 1205 1180A6.3 6.3 0 0 1 1211 1188A6.3 6.3 0 0 1 1212 1198A6.3 6.3 0 0 1 1207 1207ZM1412 1182A6.4 6.4 0 0 1 1404 1187A6.4 6.4 0 0 1 1394 1185A6.4 6.4 0 0 1 1386 1179A6.4 6.4 0 0 1 1384 1169A6.4 6.4 0 0 1 1386 1159A6.4 6.4 0 0 1 1394 1153A6.4 6.4 0 0 1 1404 1151A6.4 6.4 0 0 1 1412 1156A6.4 6.4 0 0 1 1418 1164A6.4 6.4 0 0 1 1418 1174A6.4 6.4 0 0 1 1412 1182ZM1211 1252A6.3 6.3 0 0 1 1203 1257A6.3 6.3 0 0 1 1193 1258A6.3 6.3 0 0 1 1184 1256A6.3 6.3 0 0 1 1176 1250A6.3 6.3 0 0 1 1171 1242A6.3 6.3 0 0 1 1170 1232A6.3 6.3 0 0 1 1172 1223A6.3 6.3 0 0 1 1176 1214A6.3 6.3 0 0 1 1185 1209A6.3 6.3 0 0 1 1195 1208A6.3 6.3 0 0 1 1204 1211A6.3 6.3 0 0 1 1213 1216A6.3 6.3 0 0 1 1218 1224A6.3 6.3 0 0 1 1218 1234A6.3 6.3 0 0 1 1218 1244A6.3 6.3 0 0 1 1211 1252ZM1363 1027A6.3 6.3 0 0 1 1359 1036A6.3 6.3 0 0 1 1351 1042A6.3 6.3 0 0 1 1341 1042A6.3 6.3 0 0 1 1331 1041A6.3 6.3 0 0 1 1322 1036A6.3 6.3 0 0 1 1318 1027A6.3 6.3 0 0 1 1314 1018A6.3 6.3 0 0 1 1316 1008A6.3 6.3 0 0 1 1323 1000A6.3 6.3 0 0 1 1331 995A6.3 6.3 0 0 1 1341 991A6.3 6.3 0 0 1 1351 993A6.3 6.3 0 0 1 1359 999A6.3 6.3 0 0 1 1365 1008A6.3 6.3 0 0 1 1366 1018A6.3 6.3 0 0 1 1363 1027ZM1341 1151A6.4 6.4 0 0 1 1334 1159A6.4 6.4 0 0 1 1324 1161A6.4 6.4 0 0 1 1314 1163A6.4 6.4 0 0 1 1305 1158A6.4 6.4 0 0 1 1297 1152A6.4 6.4 0 0 1 1292 1143A6.4 6.4 0 0 1 1293 1132A6.4 6.4 0 0 1 1298 1124A6.4 6.4 0 0 1 1304 1117A6.4 6.4 0 0 1 1313 1112A6.4 6.4 0 0 1 1323 1113A6.4 6.4 0 0 1 1333 1115A6.4 6.4 0 0 1 1339 1122A6.4 6.4 0 0 1 1344 1131A6.4 6.4 0 0 1 1344 1141A6.4 6.4 0 0 1 1341 1151ZM1337 1273A6.3 6.3 0 0 1 1327 1277A6.3 6.3 0 0 1 1317 1278A6.3 6.3 0 0 1 1308 1275A6.3 6.3 0 0 1 1301 1267A6.3 6.3 0 0 1 1296 1259A6.3 6.3 0 0 1 1294 1249A6.3 6.3 0 0 1 1296 1239A6.3 6.3 0 0 1 1303 1231A6.3 6.3 0 0 1 1311 1226A6.3 6.3 0 0 1 1320 1224A6.3 6.3 0 0 1 1330 1225A6.3 6.3 0 0 1 1339 1229A6.3 6.3 0 0 1 1344 1238A6.3 6.3 0 0 1 1347 1247A6.3 6.3 0 0 1 1348 1257A6.3 6.3 0 0 1 1343 1265A6.3 6.3 0 0 1 1337 1273ZM1198 1077A6.2 6.2 0 0 1 1195 1086A6.2 6.2 0 0 1 1189 1093A6.2 6.2 0 0 1 1180 1097A6.2 6.2 0 0 1 1170 1096A6.2 6.2 0 0 1 1161 1094A6.2 6.2 0 0 1 1154 1087A6.2 6.2 0 0 1 1149 1079A6.2 6.2 0 0 1 1150 1069A6.2 6.2 0 0 1 1153 1060A6.2 6.2 0 0 1 1159 1052A6.2 6.2 0 0 1 1168 1048A6.2 6.2 0 0 1 1178 1048A6.2 6.2 0 0 1 1188 1051A6.2 6.2 0 0 1 1194 1058A6.2 6.2 0 0 1 1197 1067A6.2 6.2 0 0 1 1198 1077ZM1204 1166A6.5 6.5 0 0 1 1195 1172A6.5 6.5 0 0 1 1185 1170A6.5 6.5 0 0 1 1175 1168A6.5 6.5 0 0 1 1170 1158A6.5 6.5 0 0 1 1168 1149A6.5 6.5 0 0 1 1169 1139A6.5 6.5 0 0 1 1176 1132A6.5 6.5 0 0 1 1184 1127A6.5 6.5 0 0 1 1195 1126A6.5 6.5 0 0 1 1204 1130A6.5 6.5 0 0 1 1211 1138A6.5 6.5 0 0 1 1214 1149A6.5 6.5 0 0 1 1211 1159A6.5 6.5 0 0 1 1204 1166ZM1268 1279A6.2 6.2 0 0 1 1261 1286A6.2 6.2 0 0 1 1252 1290A6.2 6.2 0 0 1 1243 1287A6.2 6.2 0 0 1 1235 1281A6.2 6.2 0 0 1 1231 1272A6.2 6.2 0 0 1 1232 1262A6.2 6.2 0 0 1 1238 1255A6.2 6.2 0 0 1 1246 1249A6.2 6.2 0 0 1 1255 1249A6.2 6.2 0 0 1 1265 1253A6.2 6.2 0 0 1 1270 1261A6.2 6.2 0 0 1 1271 1271A6.2 6.2 0 0 1 1268 1279ZM1252 1176A6.2 6.2 0 0 1 1245 1184A6.2 6.2 0 0 1 1236 1187A6.2 6.2 0 0 1 1226 1186A6.2 6.2 0 0 1 1217 1181A6.2 6.2 0 0 1 1211 1173A6.2 6.2 0 0 1 1210 1163A6.2 6.2 0 0 1 1210 1153A6.2 6.2 0 0 1 1216 1145A6.2 6.2 0 0 1 1225 1141A6.2 6.2 0 0 1 1234 1140A6.2 6.2 0 0 1 1243 1143A6.2 6.2 0 0 1 1250 1149A6.2 6.2 0 0 1 1256 1157A6.2 6.2 0 0 1 1257 1167A6.2 6.2 0 0 1 1252 1176ZM1303 1083A6.1 6.1 0 0 1 1293 1086A6.1 6.1 0 0 1 1284 1085A6.1 6.1 0 0 1 1276 1079A6.1 6.1 0 0 1 1272 1070A6.1 6.1 0 0 1 1273 1060A6.1 6.1 0 0 1 1280 1053A6.1 6.1 0 0 1 1289 1049A6.1 6.1 0 0 1 1298 1050A6.1 6.1 0 0 1 1306 1056A6.1 6.1 0 0 1 1310 1065A6.1 6.1 0 0 1 1308 1075A6.1 6.1 0 0 1 1303 1083ZM1216 1058A6.1 6.1 0 0 1 1208 1064A6.1 6.1 0 0 1 1199 1063A6.1 6.1 0 0 1 1191 1058A6.1 6.1 0 0 1 1186 1049A6.1 6.1 0 0 1 1189 1040A6.1 6.1 0 0 1 1195 1033A6.1 6.1 0 0 1 1204 1030A6.1 6.1 0 0 1 1213 1033A6.1 6.1 0 0 1 1219 1041A6.1 6.1 0 0 1 1221 1050A6.1 6.1 0 0 1 1216 1058ZM1390 1209A6.3 6.3 0 0 1 1385 1218A6.3 6.3 0 0 1 1376 1222A6.3 6.3 0 0 1 1366 1225A6.3 6.3 0 0 1 1356 1222A6.3 6.3 0 0 1 1348 1215A6.3 6.3 0 0 1 1342 1208A6.3 6.3 0 0 1 1339 1198A6.3 6.3 0 0 1 1341 1188A6.3 6.3 0 0 1 1344 1179A6.3 6.3 0 0 1 1353 1174A6.3 6.3 0 0 1 1362 1170A6.3 6.3 0 0 1 1372 1170A6.3 6.3 0 0 1 1381 1174A6.3 6.3 0 0 1 1388 1181A6.3 6.3 0 0 1 1393 1190A6.3 6.3 0 0 1 1395 1200A6.3 6.3 0 0 1 1390 1209ZM1596 1179A6.4 6.4 0 0 1 1586 1182A6.4 6.4 0 0 1 1576 1184A6.4 6.4 0 0 1 1566 1180A6.4 6.4 0 0 1 1561 1171A6.4 6.4 0 0 1 1556 1162A6.4 6.4 0 0 1 1557 1152A6.4 6.4 0 0 1 1562 1143A6.4 6.4 0 0 1 1571 1138A6.4 6.4 0 0 1 1581 1134A6.4 6.4 0 0 1 1591 1137A6.4 6.4 0 0 1 1600 1142A6.4 6.4 0 0 1 1603 1151A6.4 6.4 0 0 1 1605 1161A6.4 6.4 0 0 1 1602 1171A6.4 6.4 0 0 1 1596 1179ZM1465 1137A6.4 6.4 0 0 1 1457 1143A6.4 6.4 0 0 1 1447 1146A6.4 6.4 0 0 1 1438 1142A6.4 6.4 0 0 1 1432 1134A6.4 6.4 0 0 1 1430 1124A6.4 6.4 0 0 1 1435 1115A6.4 6.4 0 0 1 1442 1108A6.4 6.4 0 0 1 1452 1106A6.4 6.4 0 0 1 1461 1111A6.4 6.4 0 0 1 1467 1118A6.4 6.4 0 0 1 1468 1128A6.4 6.4 0 0 1 1465 1137ZM1534 1186A6.2 6.2 0 0 1 1529 1194A6.2 6.2 0 0 1 1520 1198A6.2 6.2 0 0 1 1510 1198A6.2 6.2 0 0 1 1501 1192A6.2 6.2 0 0 1 1497 1183A6.2 6.2 0 0 1 1499 1174A6.2 6.2 0 0 1 1504 1166A6.2 6.2 0 0 1 1512 1161A6.2 6.2 0 0 1 1522 1162A6.2 6.2 0 0 1 1531 1166A6.2 6.2 0 0 1 1534 1176A6.2 6.2 0 0 1 1534 1186ZM1512 1086A6.2 6.2 0 0 1 1506 1095A6.2 6.2 0 0 1 1499 1100A6.2 6.2 0 0 1 1490 1106A6.2 6.2 0 0 1 1480 1106A6.2 6.2 0 0 1 1472 1100A6.2 6.2 0 0 1 1464 1094A6.2 6.2 0 0 1 1459 1086A6.2 6.2 0 0 1 1460 1076A6.2 6.2 0 0 1 1462 1066A6.2 6.2 0 0 1 1468 1059A6.2 6.2 0 0 1 1476 1053A6.2 6.2 0 0 1 1486 1052A6.2 6.2 0 0 1 1496 1053A6.2 6.2 0 0 1 1504 1060A6.2 6.2 0 0 1 1511 1067A6.2 6.2 0 0 1 1512 1077A6.2 6.2 0 0 1 1512 1086ZM1596 1103A6.2 6.2 0 0 1 1589 1110A6.2 6.2 0 0 1 1579 1113A6.2 6.2 0 0 1 1569 1113A6.2 6.2 0 0 1 1560 1110A6.2 6.2 0 0 1 1553 1102A6.2 6.2 0 0 1 1549 1094A6.2 6.2 0 0 1 1547 1084A6.2 6.2 0 0 1 1548 1074A6.2 6.2 0 0 1 1553 1066A6.2 6.2 0 0 1 1561 1060A6.2 6.2 0 0 1 1571 1058A6.2 6.2 0 0 1 1581 1056A6.2 6.2 0 0 1 1590 1061A6.2 6.2 0 0 1 1596 1068A6.2 6.2 0 0 1 1603 1075A6.2 6.2 0 0 1 1602 1085A6.2 6.2 0 0 1 1601 1095A6.2 6.2 0 0 1 1596 1103ZM1591 1232A6.1 6.1 0 0 1 1583 1237A6.1 6.1 0 0 1 1574 1237A6.1 6.1 0 0 1 1566 1232A6.1 6.1 0 0 1 1561 1224A6.1 6.1 0 0 1 1559 1215A6.1 6.1 0 0 1 1562 1206A6.1 6.1 0 0 1 1569 1199A6.1 6.1 0 0 1 1579 1197A6.1 6.1 0 0 1 1588 1199A6.1 6.1 0 0 1 1595 1206A6.1 6.1 0 0 1 1598 1215A6.1 6.1 0 0 1 1598 1225A6.1 6.1 0 0 1 1591 1232ZM1467 1248A6.1 6.1 0 0 1 1463 1257A6.1 6.1 0 0 1 1457 1265A6.1 6.1 0 0 1 1449 1269A6.1 6.1 0 0 1 1439 1270A6.1 6.1 0 0 1 1429 1267A6.1 6.1 0 0 1 1422 1259A6.1 6.1 0 0 1 1421 1250A6.1 6.1 0 0 1 1422 1241A6.1 6.1 0 0 1 1426 1232A6.1 6.1 0 0 1 1433 1226A6.1 6.1 0 0 1 1442 1223A6.1 6.1 0 0 1 1451 1225A6.1 6.1 0 0 1 1459 1230A6.1 6.1 0 0 1 1464 1239A6.1 6.1 0 0 1 1467 1248ZM1452 1193A6.3 6.3 0 0 1 1444 1197A6.3 6.3 0 0 1 1434 1196A6.3 6.3 0 0 1 1426 1191A6.3 6.3 0 0 1 1422 1183A6.3 6.3 0 0 1 1422 1172A6.3 6.3 0 0 1 1428 1164A6.3 6.3 0 0 1 1437 1160A6.3 6.3 0 0 1 1447 1160A6.3 6.3 0 0 1 1456 1166A6.3 6.3 0 0 1 1458 1176A6.3 6.3 0 0 1 1459 1185A6.3 6.3 0 0 1 1452 1193ZM1570 1123A6.4 6.4 0 0 1 1562 1129A6.4 6.4 0 0 1 1553 1133A6.4 6.4 0 0 1 1543 1132A6.4 6.4 0 0 1 1536 1126A6.4 6.4 0 0 1 1530 1117A6.4 6.4 0 0 1 1530 1107A6.4 6.4 0 0 1 1535 1098A6.4 6.4 0 0 1 1543 1093A6.4 6.4 0 0 1 1553 1091A6.4 6.4 0 0 1 1562 1096A6.4 6.4 0 0 1 1570 1103A6.4 6.4 0 0 1 1572 1113A6.4 6.4 0 0 1 1570 1123ZM1501 1261A6 6 0 0 1 1497 1270A6 6 0 0 1 1490 1276A6 6 0 0 1 1481 1277A6 6 0 0 1 1472 1273A6 6 0 0 1 1467 1265A6 6 0 0 1 1468 1256A6 6 0 0 1 1473 1248A6 6 0 0 1 1481 1243A6 6 0 0 1 1491 1245A6 6 0 0 1 1498 1252A6 6 0 0 1 1501 1261ZM1534 1134A6.4 6.4 0 0 1 1529 1143A6.4 6.4 0 0 1 1522 1150A6.4 6.4 0 0 1 1512 1151A6.4 6.4 0 0 1 1503 1146A6.4 6.4 0 0 1 1497 1137A6.4 6.4 0 0 1 1499 1127A6.4 6.4 0 0 1 1505 1120A6.4 6.4 0 0 1 1514 1115A6.4 6.4 0 0 1 1524 1118A6.4 6.4 0 0 1 1531 1124A6.4 6.4 0 0 1 1534 1134ZM1649 1274A6.3 6.3 0 0 1 1644 1282A6.3 6.3 0 0 1 1636 1288A6.3 6.3 0 0 1 1626 1291A6.3 6.3 0 0 1 1616 1291A6.3 6.3 0 0 1 1608 1286A6.3 6.3 0 0 1 1598 1282A6.3 6.3 0 0 1 1594 1272A6.3 6.3 0 0 1 1595 1262A6.3 6.3 0 0 1 1596 1252A6.3 6.3 0 0 1 1601 1245A6.3 6.3 0 0 1 1608 1238A6.3 6.3 0 0 1 1618 1233A6.3 6.3 0 0 1 1628 1234A6.3 6.3 0 0 1 1637 1238A6.3 6.3 0 0 1 1646 1244A6.3 6.3 0 0 1 1650 1253A6.3 6.3 0 0 1 1650 1264A6.3 6.3 0 0 1 1649 1274ZM1461 1080A6.2 6.2 0 0 1 1455 1088A6.2 6.2 0 0 1 1446 1091A6.2 6.2 0 0 1 1436 1092A6.2 6.2 0 0 1 1428 1087A6.2 6.2 0 0 1 1422 1080A6.2 6.2 0 0 1 1418 1071A6.2 6.2 0 0 1 1418 1061A6.2 6.2 0 0 1 1424 1053A6.2 6.2 0 0 1 1431 1047A6.2 6.2 0 0 1 1441 1044A6.2 6.2 0 0 1 1450 1047A6.2 6.2 0 0 1 1459 1052A6.2 6.2 0 0 1 1462 1061A6.2 6.2 0 0 1 1463 1070A6.2 6.2 0 0 1 1461 1080ZM1539 1230A6.1 6.1 0 0 1 1530 1234A6.1 6.1 0 0 1 1520 1231A6.1 6.1 0 0 1 1512 1226A6.1 6.1 0 0 1 1508 1217A6.1 6.1 0 0 1 1510 1208A6.1 6.1 0 0 1 1516 1201A6.1 6.1 0 0 1 1524 1196A6.1 6.1 0 0 1 1534 1197A6.1 6.1 0 0 1 1541 1203A6.1 6.1 0 0 1 1545 1212A6.1 6.1 0 0 1 1545 1222A6.1 6.1 0 0 1 1539 1230ZM1588 1290A6.1 6.1 0 0 1 1583 1298A6.1 6.1 0 0 1 1574 1303A6.1 6.1 0 0 1 1564 1302A6.1 6.1 0 0 1 1555 1299A6.1 6.1 0 0 1 1549 1291A6.1 6.1 0 0 1 1548 1281A6.1 6.1 0 0 1 1548 1272A6.1 6.1 0 0 1 1555 1264A6.1 6.1 0 0 1 1564 1260A6.1 6.1 0 0 1 1573 1260A6.1 6.1 0 0 1 1582 1264A6.1 6.1 0 0 1 1588 1271A6.1 6.1 0 0 1 1591 1281A6.1 6.1 0 0 1 1588 1290ZM1504 1227A6.5 6.5 0 0 1 1500 1237A6.5 6.5 0 0 1 1491 1241A6.5 6.5 0 0 1 1481 1241A6.5 6.5 0 0 1 1473 1235A6.5 6.5 0 0 1 1470 1225A6.5 6.5 0 0 1 1471 1215A6.5 6.5 0 0 1 1479 1209A6.5 6.5 0 0 1 1488 1205A6.5 6.5 0 0 1 1498 1209A6.5 6.5 0 0 1 1504 1217A6.5 6.5 0 0 1 1504 1227ZM1497 1188A6.1 6.1 0 0 1 1493 1197A6.1 6.1 0 0 1 1487 1204A6.1 6.1 0 0 1 1477 1205A6.1 6.1 0 0 1 1468 1201A6.1 6.1 0 0 1 1462 1194A6.1 6.1 0 0 1 1460 1184A6.1 6.1 0 0 1 1463 1175A6.1 6.1 0 0 1 1471 1170A6.1 6.1 0 0 1 1481 1168A6.1 6.1 0 0 1 1489 1172A6.1 6.1 0 0 1 1496 1178A6.1 6.1 0 0 1 1497 1188ZM1638 1210A6.2 6.2 0 0 1 1634 1218A6.2 6.2 0 0 1 1628 1226A6.2 6.2 0 0 1 1618 1228A6.2 6.2 0 0 1 1608 1226A6.2 6.2 0 0 1 1601 1220A6.2 6.2 0 0 1 1596 1212A6.2 6.2 0 0 1 1596 1202A6.2 6.2 0 0 1 1599 1192A6.2 6.2 0 0 1 1607 1186A6.2 6.2 0 0 1 1616 1184A6.2 6.2 0 0 1 1626 1185A6.2 6.2 0 0 1 1633 1192A6.2 6.2 0 0 1 1638 1200A6.2 6.2 0 0 1 1638 1210ZM1600 1452A6.2 6.2 0 0 1 1592 1458A6.2 6.2 0 0 1 1582 1460A6.2 6.2 0 0 1 1573 1459A6.2 6.2 0 0 1 1564 1454A6.2 6.2 0 0 1 1559 1446A6.2 6.2 0 0 1 1557 1437A6.2 6.2 0 0 1 1560 1427A6.2 6.2 0 0 1 1565 1420A6.2 6.2 0 0 1 1573 1415A6.2 6.2 0 0 1 1583 1415A6.2 6.2 0 0 1 1592 1417A6.2 6.2 0 0 1 1599 1424A6.2 6.2 0 0 1 1602 1433A6.2 6.2 0 0 1 1603 1442A6.2 6.2 0 0 1 1600 1452ZM1454 1477A6.4 6.4 0 0 1 1451 1486A6.4 6.4 0 0 1 1444 1494A6.4 6.4 0 0 1 1436 1500A6.4 6.4 0 0 1 1426 1503A6.4 6.4 0 0 1 1416 1500A6.4 6.4 0 0 1 1406 1497A6.4 6.4 0 0 1 1401 1489A6.4 6.4 0 0 1 1397 1480A6.4 6.4 0 0 1 1396 1470A6.4 6.4 0 0 1 1399 1460A6.4 6.4 0 0 1 1406 1453A6.4 6.4 0 0 1 1414 1447A6.4 6.4 0 0 1 1423 1444A6.4 6.4 0 0 1 1433 1446A6.4 6.4 0 0 1 1442 1451A6.4 6.4 0 0 1 1449 1457A6.4 6.4 0 0 1 1454 1466A6.4 6.4 0 0 1 1454 1477ZM1406 1466A6.2 6.2 0 0 1 1397 1469A6.2 6.2 0 0 1 1388 1467A6.2 6.2 0 0 1 1379 1463A6.2 6.2 0 0 1 1373 1455A6.2 6.2 0 0 1 1372 1446A6.2 6.2 0 0 1 1374 1436A6.2 6.2 0 0 1 1381 1429A6.2 6.2 0 0 1 1391 1425A6.2 6.2 0 0 1 1400 1427A6.2 6.2 0 0 1 1409 1431A6.2 6.2 0 0 1 1414 1439A6.2 6.2 0 0 1 1415 1449A6.2 6.2 0 0 1 1414 1459A6.2 6.2 0 0 1 1406 1466ZM1214 1404A6.2 6.2 0 0 1 1210 1413A6.2 6.2 0 0 1 1201 1417A6.2 6.2 0 0 1 1192 1417A6.2 6.2 0 0 1 1183 1412A6.2 6.2 0 0 1 1180 1403A6.2 6.2 0 0 1 1182 1393A6.2 6.2 0 0 1 1189 1386A6.2 6.2 0 0 1 1198 1385A6.2 6.2 0 0 1 1207 1388A6.2 6.2 0 0 1 1212 1395A6.2 6.2 0 0 1 1214 1404ZM1219 1482A6.1 6.1 0 0 1 1211 1489A6.1 6.1 0 0 1 1203 1492A6.1 6.1 0 0 1 1193 1492A6.1 6.1 0 0 1 1185 1488A6.1 6.1 0 0 1 1177 1482A6.1 6.1 0 0 1 1174 1472A6.1 6.1 0 0 1 1175 1463A6.1 6.1 0 0 1 1178 1454A6.1 6.1 0 0 1 1185 1448A6.1 6.1 0 0 1 1194 1444A6.1 6.1 0 0 1 1204 1444A6.1 6.1 0 0 1 1212 1449A6.1 6.1 0 0 1 1218 1455A6.1 6.1 0 0 1 1223 1464A6.1 6.1 0 0 1 1222 1473A6.1 6.1 0 0 1 1219 1482ZM1376 1379A6.2 6.2 0 0 1 1367 1384A6.2 6.2 0 0 1 1359 1389A6.2 6.2 0 0 1 1349 1388A6.2 6.2 0 0 1 1340 1383A6.2 6.2 0 0 1 1334 1376A6.2 6.2 0 0 1 1330 1367A6.2 6.2 0 0 1 1330 1357A6.2 6.2 0 0 1 1335 1349A6.2 6.2 0 0 1 1342 1342A6.2 6.2 0 0 1 1352 1339A6.2 6.2 0 0 1 1362 1338A6.2 6.2 0 0 1 1371 1343A6.2 6.2 0 0 1 1378 1350A6.2 6.2 0 0 1 1381 1360A6.2 6.2 0 0 1 1379 1370A6.2 6.2 0 0 1 1376 1379ZM1453 1339A6.2 6.2 0 0 1 1445 1345A6.2 6.2 0 0 1 1435 1345A6.2 6.2 0 0 1 1426 1342A6.2 6.2 0 0 1 1421 1334A6.2 6.2 0 0 1 1419 1324A6.2 6.2 0 0 1 1423 1315A6.2 6.2 0 0 1 1431 1309A6.2 6.2 0 0 1 1441 1308A6.2 6.2 0 0 1 1450 1312A6.2 6.2 0 0 1 1456 1320A6.2 6.2 0 0 1 1456 1330A6.2 6.2 0 0 1 1453 1339ZM1333 1504A6.2 6.2 0 0 1 1324 1510A6.2 6.2 0 0 1 1315 1510A6.2 6.2 0 0 1 1306 1505A6.2 6.2 0 0 1 1302 1496A6.2 6.2 0 0 1 1303 1487A6.2 6.2 0 0 1 1309 1480A6.2 6.2 0 0 1 1318 1476A6.2 6.2 0 0 1 1327 1479A6.2 6.2 0 0 1 1334 1485A6.2 6.2 0 0 1 1336 1495A6.2 6.2 0 0 1 1333 1504ZM1410 1520A6.4 6.4 0 0 1 1401 1524A6.4 6.4 0 0 1 1391 1523A6.4 6.4 0 0 1 1381 1521A6.4 6.4 0 0 1 1374 1514A6.4 6.4 0 0 1 1370 1504A6.4 6.4 0 0 1 1370 1493A6.4 6.4 0 0 1 1375 1484A6.4 6.4 0 0 1 1383 1478A6.4 6.4 0 0 1 1392 1474A6.4 6.4 0 0 1 1402 1473A6.4 6.4 0 0 1 1411 1478A6.4 6.4 0 0 1 1418 1485A6.4 6.4 0 0 1 1423 1494A6.4 6.4 0 0 1 1423 1505A6.4 6.4 0 0 1 1418 1514A6.4 6.4 0 0 1 1410 1520ZM1566 1530A6.4 6.4 0 0 1 1557 1534A6.4 6.4 0 0 1 1547 1536A6.4 6.4 0 0 1 1538 1535A6.4 6.4 0 0 1 1528 1531A6.4 6.4 0 0 1 1524 1522A6.4 6.4 0 0 1 1520 1513A6.4 6.4 0 0 1 1521 1502A6.4 6.4 0 0 1 1527 1494A6.4 6.4 0 0 1 1536 1489A6.4 6.4 0 0 1 1545 1485A6.4 6.4 0 0 1 1556 1486A6.4 6.4 0 0 1 1563 1493A6.4 6.4 0 0 1 1569 1501A6.4 6.4 0 0 1 1571 1511A6.4 6.4 0 0 1 1571 1521A6.4 6.4 0 0 1 1566 1530ZM1535 1375A6.4 6.4 0 0 1 1532 1385A6.4 6.4 0 0 1 1524 1391A6.4 6.4 0 0 1 1514 1393A6.4 6.4 0 0 1 1505 1391A6.4 6.4 0 0 1 1496 1386A6.4 6.4 0 0 1 1491 1378A6.4 6.4 0 0 1 1489 1369A6.4 6.4 0 0 1 1491 1359A6.4 6.4 0 0 1 1497 1351A6.4 6.4 0 0 1 1506 1347A6.4 6.4 0 0 1 1516 1346A6.4 6.4 0 0 1 1526 1349A6.4 6.4 0 0 1 1533 1356A6.4 6.4 0 0 1 1537 1366A6.4 6.4 0 0 1 1535 1375ZM1491 1479A6.1 6.1 0 0 1 1483 1484A6.1 6.1 0 0 1 1473 1483A6.1 6.1 0 0 1 1465 1479A6.1 6.1 0 0 1 1461 1470A6.1 6.1 0 0 1 1461 1461A6.1 6.1 0 0 1 1466 1453A6.1 6.1 0 0 1 1475 1449A6.1 6.1 0 0 1 1484 1449A6.1 6.1 0 0 1 1492 1454A6.1 6.1 0 0 1 1496 1462A6.1 6.1 0 0 1 1496 1472A6.1 6.1 0 0 1 1491 1479ZM1384 1490A6.4 6.4 0 0 1 1378 1498A6.4 6.4 0 0 1 1371 1505A6.4 6.4 0 0 1 1361 1506A6.4 6.4 0 0 1 1351 1503A6.4 6.4 0 0 1 1343 1497A6.4 6.4 0 0 1 1337 1489A6.4 6.4 0 0 1 1336 1478A6.4 6.4 0 0 1 1340 1469A6.4 6.4 0 0 1 1347 1461A6.4 6.4 0 0 1 1357 1457A6.4 6.4 0 0 1 1367 1458A6.4 6.4 0 0 1 1376 1463A6.4 6.4 0 0 1 1383 1470A6.4 6.4 0 0 1 1386 1480A6.4 6.4 0 0 1 1384 1490ZM1352 1441A6.2 6.2 0 0 1 1350 1451A6.2 6.2 0 0 1 1346 1459A6.2 6.2 0 0 1 1338 1466A6.2 6.2 0 0 1 1329 1467A6.2 6.2 0 0 1 1319 1468A6.2 6.2 0 0 1 1310 1466A6.2 6.2 0 0 1 1303 1459A6.2 6.2 0 0 1 1297 1450A6.2 6.2 0 0 1 1296 1441A6.2 6.2 0 0 1 1299 1432A6.2 6.2 0 0 1 1302 1422A6.2 6.2 0 0 1 1310 1416A6.2 6.2 0 0 1 1320 1414A6.2 6.2 0 0 1 1329 1414A6.2 6.2 0 0 1 1338 1417A6.2 6.2 0 0 1 1346 1423A6.2 6.2 0 0 1 1351 1432A6.2 6.2 0 0 1 1352 1441ZM1516 1353A6.2 6.2 0 0 1 1509 1359A6.2 6.2 0 0 1 1499 1362A6.2 6.2 0 0 1 1489 1362A6.2 6.2 0 0 1 1481 1357A6.2 6.2 0 0 1 1474 1349A6.2 6.2 0 0 1 1472 1340A6.2 6.2 0 0 1 1470 1330A6.2 6.2 0 0 1 1475 1321A6.2 6.2 0 0 1 1482 1315A6.2 6.2 0 0 1 1490 1309A6.2 6.2 0 0 1 1500 1309A6.2 6.2 0 0 1 1509 1312A6.2 6.2 0 0 1 1517 1317A6.2 6.2 0 0 1 1523 1326A6.2 6.2 0 0 1 1524 1336A6.2 6.2 0 0 1 1521 1345A6.2 6.2 0 0 1 1516 1353ZM1341 1325A6.1 6.1 0 0 1 1333 1330A6.1 6.1 0 0 1 1324 1333A6.1 6.1 0 0 1 1315 1330A6.1 6.1 0 0 1 1307 1325A6.1 6.1 0 0 1 1304 1316A6.1 6.1 0 0 1 1306 1306A6.1 6.1 0 0 1 1310 1298A6.1 6.1 0 0 1 1319 1293A6.1 6.1 0 0 1 1329 1293A6.1 6.1 0 0 1 1337 1297A6.1 6.1 0 0 1 1342 1306A6.1 6.1 0 0 1 1344 1315A6.1 6.1 0 0 1 1341 1325ZM1363 1424A6.1 6.1 0 0 1 1355 1430A6.1 6.1 0 0 1 1346 1430A6.1 6.1 0 0 1 1337 1427A6.1 6.1 0 0 1 1332 1418A6.1 6.1 0 0 1 1333 1409A6.1 6.1 0 0 1 1338 1401A6.1 6.1 0 0 1 1347 1397A6.1 6.1 0 0 1 1356 1399A6.1 6.1 0 0 1 1363 1406A6.1 6.1 0 0 1 1366 1415A6.1 6.1 0 0 1 1363 1424ZM1272 1423A6.3 6.3 0 0 1 1265 1429A6.3 6.3 0 0 1 1256 1431A6.3 6.3 0 0 1 1246 1430A6.3 6.3 0 0 1 1238 1424A6.3 6.3 0 0 1 1234 1414A6.3 6.3 0 0 1 1234 1404A6.3 6.3 0 0 1 1238 1395A6.3 6.3 0 0 1 1246 1388A6.3 6.3 0 0 1 1256 1386A6.3 6.3 0 0 1 1265 1389A6.3 6.3 0 0 1 1273 1396A6.3 6.3 0 0 1 1278 1404A6.3 6.3 0 0 1 1278 1414A6.3 6.3 0 0 1 1272 1423ZM1566 1351A6.4 6.4 0 0 1 1558 1357A6.4 6.4 0 0 1 1548 1358A6.4 6.4 0 0 1 1539 1354A6.4 6.4 0 0 1 1532 1346A6.4 6.4 0 0 1 1530 1337A6.4 6.4 0 0 1 1530 1326A6.4 6.4 0 0 1 1537 1319A6.4 6.4 0 0 1 1545 1314A6.4 6.4 0 0 1 1554 1313A6.4 6.4 0 0 1 1563 1317A6.4 6.4 0 0 1 1570 1324A6.4 6.4 0 0 1 1574 1333A6.4 6.4 0 0 1 1572 1343A6.4 6.4 0 0 1 1566 1351ZM1605 1395A6.3 6.3 0 0 1 1602 1405A6.3 6.3 0 0 1 1595 1411A6.3 6.3 0 0 1 1587 1417A6.3 6.3 0 0 1 1577 1416A6.3 6.3 0 0 1 1567 1413A6.3 6.3 0 0 1 1562 1404A6.3 6.3 0 0 1 1559 1395A6.3 6.3 0 0 1 1560 1386A6.3 6.3 0 0 1 1565 1378A6.3 6.3 0 0 1 1572 1371A6.3 6.3 0 0 1 1582 1370A6.3 6.3 0 0 1 1591 1372A6.3 6.3 0 0 1 1598 1378A6.3 6.3 0 0 1 1604 1386A6.3 6.3 0 0 1 1605 1395ZM1300 1328A6.5 6.5 0 0 1 1296 1337A6.5 6.5 0 0 1 1288 1343A6.5 6.5 0 0 1 1278 1345A6.5 6.5 0 0 1 1269 1341A6.5 6.5 0 0 1 1262 1334A6.5 6.5 0 0 1 1261 1324A6.5 6.5 0 0 1 1265 1314A6.5 6.5 0 0 1 1273 1307A6.5 6.5 0 0 1 1283 1306A6.5 6.5 0 0 1 1292 1311A6.5 6.5 0 0 1 1298 1318A6.5 6.5 0 0 1 1300 1328ZM1558 1450A6.4 6.4 0 0 1 1554 1460A6.4 6.4 0 0 1 1545 1465A6.4 6.4 0 0 1 1536 1470A6.4 6.4 0 0 1 1526 1469A6.4 6.4 0 0 1 1516 1466A6.4 6.4 0 0 1 1510 1458A6.4 6.4 0 0 1 1504 1450A6.4 6.4 0 0 1 1503 1439A6.4 6.4 0 0 1 1508 1430A6.4 6.4 0 0 1 1512 1421A6.4 6.4 0 0 1 1522 1418A6.4 6.4 0 0 1 1532 1415A6.4 6.4 0 0 1 1541 1418A6.4 6.4 0 0 1 1551 1422A6.4 6.4 0 0 1 1555 1431A6.4 6.4 0 0 1 1559 1440A6.4 6.4 0 0 1 1558 1450ZM1432 1400A6.4 6.4 0 0 1 1425 1408A6.4 6.4 0 0 1 1417 1414A6.4 6.4 0 0 1 1407 1415A6.4 6.4 0 0 1 1397 1414A6.4 6.4 0 0 1 1389 1407A6.4 6.4 0 0 1 1385 1398A6.4 6.4 0 0 1 1381 1388A6.4 6.4 0 0 1 1385 1379A6.4 6.4 0 0 1 1390 1370A6.4 6.4 0 0 1 1399 1365A6.4 6.4 0 0 1 1409 1363A6.4 6.4 0 0 1 1419 1365A6.4 6.4 0 0 1 1426 1372A6.4 6.4 0 0 1 1431 1381A6.4 6.4 0 0 1 1433 1390A6.4 6.4 0 0 1 1432 1400ZM1416 1337A6.3 6.3 0 0 1 1413 1346A6.3 6.3 0 0 1 1405 1353A6.3 6.3 0 0 1 1396 1356A6.3 6.3 0 0 1 1386 1353A6.3 6.3 0 0 1 1378 1348A6.3 6.3 0 0 1 1372 1340A6.3 6.3 0 0 1 1372 1330A6.3 6.3 0 0 1 1376 1321A6.3 6.3 0 0 1 1383 1315A6.3 6.3 0 0 1 1392 1312A6.3 6.3 0 0 1 1402 1313A6.3 6.3 0 0 1 1411 1318A6.3 6.3 0 0 1 1415 1327A6.3 6.3 0 0 1 1416 1337ZM1315 1420A6.3 6.3 0 0 1 1306 1425A6.3 6.3 0 0 1 1296 1425A6.3 6.3 0 0 1 1288 1419A6.3 6.3 0 0 1 1283 1411A6.3 6.3 0 0 1 1282 1401A6.3 6.3 0 0 1 1286 1392A6.3 6.3 0 0 1 1293 1385A6.3 6.3 0 0 1 1303 1384A6.3 6.3 0 0 1 1313 1387A6.3 6.3 0 0 1 1320 1393A6.3 6.3 0 0 1 1323 1403A6.3 6.3 0 0 1 1322 1413A6.3 6.3 0 0 1 1315 1420ZM1236 1511A6.5 6.5 0 0 1 1233 1520A6.5 6.5 0 0 1 1228 1529A6.5 6.5 0 0 1 1220 1536A6.5 6.5 0 0 1 1210 1537A6.5 6.5 0 0 1 1199 1537A6.5 6.5 0 0 1 1191 1532A6.5 6.5 0 0 1 1183 1524A6.5 6.5 0 0 1 1178 1515A6.5 6.5 0 0 1 1179 1505A6.5 6.5 0 0 1 1182 1495A6.5 6.5 0 0 1 1188 1488A6.5 6.5 0 0 1 1196 1481A6.5 6.5 0 0 1 1206 1479A6.5 6.5 0 0 1 1216 1481A6.5 6.5 0 0 1 1226 1483A6.5 6.5 0 0 1 1232 1491A6.5 6.5 0 0 1 1235 1501A6.5 6.5 0 0 1 1236 1511ZM1492 1524A6.1 6.1 0 0 1 1484 1528A6.1 6.1 0 0 1 1474 1527A6.1 6.1 0 0 1 1467 1520A6.1 6.1 0 0 1 1462 1512A6.1 6.1 0 0 1 1465 1502A6.1 6.1 0 0 1 1470 1494A6.1 6.1 0 0 1 1479 1491A6.1 6.1 0 0 1 1489 1493A6.1 6.1 0 0 1 1496 1499A6.1 6.1 0 0 1 1500 1508A6.1 6.1 0 0 1 1499 1517A6.1 6.1 0 0 1 1492 1524ZM1225 1318A6.4 6.4 0 0 1 1221 1327A6.4 6.4 0 0 1 1212 1333A6.4 6.4 0 0 1 1203 1337A6.4 6.4 0 0 1 1193 1337A6.4 6.4 0 0 1 1184 1332A6.4 6.4 0 0 1 1177 1324A6.4 6.4 0 0 1 1174 1315A6.4 6.4 0 0 1 1174 1305A6.4 6.4 0 0 1 1178 1295A6.4 6.4 0 0 1 1187 1290A6.4 6.4 0 0 1 1196 1285A6.4 6.4 0 0 1 1206 1285A6.4 6.4 0 0 1 1215 1290A6.4 6.4 0 0 1 1222 1298A6.4 6.4 0 0 1 1226 1307A6.4 6.4 0 0 1 1225 1318ZM1602 1353A6.5 6.5 0 0 1 1599 1363A6.5 6.5 0 0 1 1590 1368A6.5 6.5 0 0 1 1579 1369A6.5 6.5 0 0 1 1571 1364A6.5 6.5 0 0 1 1567 1354A6.5 6.5 0 0 1 1569 1344A6.5 6.5 0 0 1 1575 1337A6.5 6.5 0 0 1 1584 1334A6.5 6.5 0 0 1 1594 1335A6.5 6.5 0 0 1 1600 1344A6.5 6.5 0 0 1 1602 1353ZM1518 1435A6.3 6.3 0 0 1 1511 1441A6.3 6.3 0 0 1 1501 1443A6.3 6.3 0 0 1 1491 1443A6.3 6.3 0 0 1 1483 1438A6.3 6.3 0 0 1 1477 1430A6.3 6.3 0 0 1 1474 1421A6.3 6.3 0 0 1 1474 1411A6.3 6.3 0 0 1 1479 1403A6.3 6.3 0 0 1 1487 1397A6.3 6.3 0 0 1 1496 1393A6.3 6.3 0 0 1 1505 1394A6.3 6.3 0 0 1 1514 1399A6.3 6.3 0 0 1 1521 1406A6.3 6.3 0 0 1 1525 1416A6.3 6.3 0 0 1 1523 1426A6.3 6.3 0 0 1 1518 1435ZM1466 1407A6.1 6.1 0 0 1 1458 1412A6.1 6.1 0 0 1 1448 1413A6.1 6.1 0 0 1 1439 1410A6.1 6.1 0 0 1 1435 1401A6.1 6.1 0 0 1 1433 1392A6.1 6.1 0 0 1 1437 1384A6.1 6.1 0 0 1 1445 1379A6.1 6.1 0 0 1 1454 1376A6.1 6.1 0 0 1 1463 1380A6.1 6.1 0 0 1 1469 1388A6.1 6.1 0 0 1 1470 1398A6.1 6.1 0 0 1 1466 1407ZM1249 1387A6 6 0 0 1 1243 1394A6 6 0 0 1 1234 1397A6 6 0 0 1 1225 1394A6 6 0 0 1 1219 1387A6 6 0 0 1 1218 1378A6 6 0 0 1 1222 1369A6 6 0 0 1 1229 1364A6 6 0 0 1 1239 1363A6 6 0 0 1 1247 1368A6 6 0 0 1 1250 1377A6 6 0 0 1 1249 1387ZM1286 1394A6.1 6.1 0 0 1 1278 1399A6.1 6.1 0 0 1 1268 1399A6.1 6.1 0 0 1 1258 1397A6.1 6.1 0 0 1 1250 1392A6.1 6.1 0 0 1 1244 1384A6.1 6.1 0 0 1 1242 1374A6.1 6.1 0 0 1 1243 1365A6.1 6.1 0 0 1 1247 1356A6.1 6.1 0 0 1 1254 1350A6.1 6.1 0 0 1 1262 1345A6.1 6.1 0 0 1 1272 1343A6.1 6.1 0 0 1 1281 1347A6.1 6.1 0 0 1 1289 1352A6.1 6.1 0 0 1 1294 1360A6.1 6.1 0 0 1 1298 1369A6.1 6.1 0 0 1 1298 1379A6.1 6.1 0 0 1 1293 1387A6.1 6.1 0 0 1 1286 1394ZM1386 1520A6.2 6.2 0 0 1 1384 1529A6.2 6.2 0 0 1 1377 1536A6.2 6.2 0 0 1 1369 1541A6.2 6.2 0 0 1 1360 1542A6.2 6.2 0 0 1 1350 1541A6.2 6.2 0 0 1 1343 1534A6.2 6.2 0 0 1 1338 1526A6.2 6.2 0 0 1 1337 1516A6.2 6.2 0 0 1 1340 1507A6.2 6.2 0 0 1 1346 1499A6.2 6.2 0 0 1 1354 1495A6.2 6.2 0 0 1 1364 1494A6.2 6.2 0 0 1 1373 1496A6.2 6.2 0 0 1 1380 1502A6.2 6.2 0 0 1 1384 1511A6.2 6.2 0 0 1 1386 1520ZM1628 1495A6.2 6.2 0 0 1 1620 1502A6.2 6.2 0 0 1 1611 1504A6.2 6.2 0 0 1 1601 1506A6.2 6.2 0 0 1 1591 1502A6.2 6.2 0 0 1 1584 1495A6.2 6.2 0 0 1 1579 1486A6.2 6.2 0 0 1 1579 1476A6.2 6.2 0 0 1 1582 1467A6.2 6.2 0 0 1 1588 1460A6.2 6.2 0 0 1 1595 1453A6.2 6.2 0 0 1 1605 1451A6.2 6.2 0 0 1 1615 1453A6.2 6.2 0 0 1 1623 1459A6.2 6.2 0 0 1 1628 1467A6.2 6.2 0 0 1 1632 1476A6.2 6.2 0 0 1 1631 1486A6.2 6.2 0 0 1 1628 1495ZM1209 1377A6.2 6.2 0 0 1 1200 1382A6.2 6.2 0 0 1 1190 1382A6.2 6.2 0 0 1 1181 1380A6.2 6.2 0 0 1 1174 1373A6.2 6.2 0 0 1 1168 1365A6.2 6.2 0 0 1 1165 1356A6.2 6.2 0 0 1 1167 1347A6.2 6.2 0 0 1 1170 1338A6.2 6.2 0 0 1 1176 1330A6.2 6.2 0 0 1 1186 1328A6.2 6.2 0 0 1 1195 1326A6.2 6.2 0 0 1 1205 1328A6.2 6.2 0 0 1 1213 1334A6.2 6.2 0 0 1 1217 1343A6.2 6.2 0 0 1 1222 1352A6.2 6.2 0 0 1 1220 1361A6.2 6.2 0 0 1 1217 1371A6.2 6.2 0 0 1 1209 1377ZM1305 1529A6.5 6.5 0 0 1 1296 1535A6.5 6.5 0 0 1 1286 1536A6.5 6.5 0 0 1 1277 1531A6.5 6.5 0 0 1 1269 1524A6.5 6.5 0 0 1 1268 1514A6.5 6.5 0 0 1 1270 1504A6.5 6.5 0 0 1 1278 1497A6.5 6.5 0 0 1 1287 1494A6.5 6.5 0 0 1 1297 1495A6.5 6.5 0 0 1 1305 1501A6.5 6.5 0 0 1 1309 1510A6.5 6.5 0 0 1 1310 1520A6.5 6.5 0 0 1 1305 1529ZM1611 1546A6.1 6.1 0 0 1 1603 1552A6.1 6.1 0 0 1 1594 1554A6.1 6.1 0 0 1 1585 1550A6.1 6.1 0 0 1 1579 1543A6.1 6.1 0 0 1 1578 1534A6.1 6.1 0 0 1 1580 1524A6.1 6.1 0 0 1 1588 1518A6.1 6.1 0 0 1 1597 1517A6.1 6.1 0 0 1 1606 1520A6.1 6.1 0 0 1 1611 1528A6.1 6.1 0 0 1 1614 1537A6.1 6.1 0 0 1 1611 1546ZM1337 1366A6.2 6.2 0 0 1 1334 1375A6.2 6.2 0 0 1 1328 1382A6.2 6.2 0 0 1 1320 1386A6.2 6.2 0 0 1 1310 1386A6.2 6.2 0 0 1 1302 1382A6.2 6.2 0 0 1 1295 1375A6.2 6.2 0 0 1 1293 1365A6.2 6.2 0 0 1 1296 1356A6.2 6.2 0 0 1 1302 1348A6.2 6.2 0 0 1 1311 1345A6.2 6.2 0 0 1 1321 1344A6.2 6.2 0 0 1 1329 1349A6.2 6.2 0 0 1 1336 1356A6.2 6.2 0 0 1 1337 1366ZM1257 1438A6.3 6.3 0 0 1 1255 1448A6.3 6.3 0 0 1 1247 1454A6.3 6.3 0 0 1 1240 1462A6.3 6.3 0 0 1 1230 1464A6.3 6.3 0 0 1 1220 1461A6.3 6.3 0 0 1 1212 1457A6.3 6.3 0 0 1 1206 1449A6.3 6.3 0 0 1 1201 1441A6.3 6.3 0 0 1 1202 1431A6.3 6.3 0 0 1 1205 1422A6.3 6.3 0 0 1 1210 1415A6.3 6.3 0 0 1 1217 1408A6.3 6.3 0 0 1 1227 1405A6.3 6.3 0 0 1 1237 1408A6.3 6.3 0 0 1 1246 1412A6.3 6.3 0 0 1 1252 1419A6.3 6.3 0 0 1 1256 1428A6.3 6.3 0 0 1 1257 1438ZM1286 1468A6.3 6.3 0 0 1 1277 1471A6.3 6.3 0 0 1 1267 1473A6.3 6.3 0 0 1 1258 1468A6.3 6.3 0 0 1 1251 1460A6.3 6.3 0 0 1 1250 1450A6.3 6.3 0 0 1 1251 1440A6.3 6.3 0 0 1 1258 1433A6.3 6.3 0 0 1 1267 1429A6.3 6.3 0 0 1 1277 1428A6.3 6.3 0 0 1 1286 1433A6.3 6.3 0 0 1 1291 1441A6.3 6.3 0 0 1 1293 1450A6.3 6.3 0 0 1 1293 1460A6.3 6.3 0 0 1 1286 1468ZM1593 1481A6.3 6.3 0 0 1 1590 1490A6.3 6.3 0 0 1 1583 1497A6.3 6.3 0 0 1 1573 1500A6.3 6.3 0 0 1 1564 1499A6.3 6.3 0 0 1 1555 1496A6.3 6.3 0 0 1 1547 1489A6.3 6.3 0 0 1 1546 1479A6.3 6.3 0 0 1 1544 1469A6.3 6.3 0 0 1 1549 1460A6.3 6.3 0 0 1 1557 1454A6.3 6.3 0 0 1 1566 1451A6.3 6.3 0 0 1 1575 1451A6.3 6.3 0 0 1 1585 1454A6.3 6.3 0 0 1 1591 1462A6.3 6.3 0 0 1 1594 1471A6.3 6.3 0 0 1 1593 1481ZM1262 1629A6.5 6.5 0 0 1 1260 1639A6.5 6.5 0 0 1 1252 1646A6.5 6.5 0 0 1 1243 1651A6.5 6.5 0 0 1 1233 1650A6.5 6.5 0 0 1 1224 1645A6.5 6.5 0 0 1 1217 1637A6.5 6.5 0 0 1 1216 1627A6.5 6.5 0 0 1 1219 1617A6.5 6.5 0 0 1 1226 1610A6.5 6.5 0 0 1 1235 1605A6.5 6.5 0 0 1 1245 1605A6.5 6.5 0 0 1 1254 1611A6.5 6.5 0 0 1 1259 1619A6.5 6.5 0 0 1 1262 1629ZM1415 1608A6.3 6.3 0 0 1 1409 1616A6.3 6.3 0 0 1 1399 1619A6.3 6.3 0 0 1 1390 1619A6.3 6.3 0 0 1 1381 1614A6.3 6.3 0 0 1 1375 1607A6.3 6.3 0 0 1 1373 1597A6.3 6.3 0 0 1 1375 1587A6.3 6.3 0 0 1 1382 1579A6.3 6.3 0 0 1 1391 1576A6.3 6.3 0 0 1 1401 1577A6.3 6.3 0 0 1 1410 1581A6.3 6.3 0 0 1 1415 1589A6.3 6.3 0 0 1 1418 1598A6.3 6.3 0 0 1 1415 1608ZM1286 1590A6.3 6.3 0 0 1 1281 1599A6.3 6.3 0 0 1 1275 1606A6.3 6.3 0 0 1 1267 1611A6.3 6.3 0 0 1 1257 1612A6.3 6.3 0 0 1 1248 1609A6.3 6.3 0 0 1 1240 1603A6.3 6.3 0 0 1 1235 1594A6.3 6.3 0 0 1 1236 1584A6.3 6.3 0 0 1 1239 1575A6.3 6.3 0 0 1 1244 1566A6.3 6.3 0 0 1 1253 1562A6.3 6.3 0 0 1 1263 1563A6.3 6.3 0 0 1 1273 1564A6.3 6.3 0 0 1 1280 1571A6.3 6.3 0 0 1 1286 1580A6.3 6.3 0 0 1 1286 1590ZM1501 1598A6.3 6.3 0 0 1 1500 1608A6.3 6.3 0 0 1 1492 1615A6.3 6.3 0 0 1 1483 1618A6.3 6.3 0 0 1 1473 1618A6.3 6.3 0 0 1 1465 1612A6.3 6.3 0 0 1 1461 1603A6.3 6.3 0 0 1 1461 1593A6.3 6.3 0 0 1 1465 1584A6.3 6.3 0 0 1 1473 1578A6.3 6.3 0 0 1 1483 1578A6.3 6.3 0 0 1 1493 1581A6.3 6.3 0 0 1 1500 1588A6.3 6.3 0 0 1 1501 1598ZM1381 1592A6.2 6.2 0 0 1 1378 1602A6.2 6.2 0 0 1 1370 1608A6.2 6.2 0 0 1 1360 1610A6.2 6.2 0 0 1 1351 1608A6.2 6.2 0 0 1 1341 1607A6.2 6.2 0 0 1 1333 1600A6.2 6.2 0 0 1 1329 1591A6.2 6.2 0 0 1 1328 1581A6.2 6.2 0 0 1 1330 1571A6.2 6.2 0 0 1 1336 1564A6.2 6.2 0 0 1 1343 1556A6.2 6.2 0 0 1 1353 1554A6.2 6.2 0 0 1 1362 1556A6.2 6.2 0 0 1 1371 1559A6.2 6.2 0 0 1 1377 1566A6.2 6.2 0 0 1 1384 1573A6.2 6.2 0 0 1 1385 1583A6.2 6.2 0 0 1 1381 1592ZM1333 1573A6.4 6.4 0 0 1 1329 1582A6.4 6.4 0 0 1 1324 1591A6.4 6.4 0 0 1 1315 1596A6.4 6.4 0 0 1 1305 1596A6.4 6.4 0 0 1 1295 1593A6.4 6.4 0 0 1 1289 1586A6.4 6.4 0 0 1 1285 1576A6.4 6.4 0 0 1 1286 1567A6.4 6.4 0 0 1 1290 1558A6.4 6.4 0 0 1 1297 1552A6.4 6.4 0 0 1 1306 1547A6.4 6.4 0 0 1 1316 1550A6.4 6.4 0 0 1 1325 1555A6.4 6.4 0 0 1 1331 1563A6.4 6.4 0 0 1 1333 1573ZM624 1062A6.1 6.1 0 0 1 618 1069A6.1 6.1 0 0 1 609 1073A6.1 6.1 0 0 1 600 1072A6.1 6.1 0 0 1 591 1069A6.1 6.1 0 0 1 584 1063A6.1 6.1 0 0 1 578 1055A6.1 6.1 0 0 1 577 1045A6.1 6.1 0 0 1 581 1037A6.1 6.1 0 0 1 586 1028A6.1 6.1 0 0 1 593 1022A6.1 6.1 0 0 1 603 1020A6.1 6.1 0 0 1 613 1022A6.1 6.1 0 0 1 622 1027A6.1 6.1 0 0 1 627 1035A6.1 6.1 0 0 1 631 1044A6.1 6.1 0 0 1 629 1054A6.1 6.1 0 0 1 624 1062ZM595 1132A6.2 6.2 0 0 1 588 1140A6.2 6.2 0 0 1 578 1140A6.2 6.2 0 0 1 568 1140A6.2 6.2 0 0 1 561 1134A6.2 6.2 0 0 1 553 1128A6.2 6.2 0 0 1 548 1119A6.2 6.2 0 0 1 549 1109A6.2 6.2 0 0 1 552 1100A6.2 6.2 0 0 1 558 1093A6.2 6.2 0 0 1 565 1086A6.2 6.2 0 0 1 575 1085A6.2 6.2 0 0 1 585 1086A6.2 6.2 0 0 1 594 1090A6.2 6.2 0 0 1 600 1098A6.2 6.2 0 0 1 604 1106A6.2 6.2 0 0 1 605 1116A6.2 6.2 0 0 1 601 1125A6.2 6.2 0 0 1 595 1132ZM719 1188A6.3 6.3 0 0 1 710 1193A6.3 6.3 0 0 1 701 1195A6.3 6.3 0 0 1 691 1195A6.3 6.3 0 0 1 682 1190A6.3 6.3 0 0 1 675 1183A6.3 6.3 0 0 1 671 1174A6.3 6.3 0 0 1 670 1164A6.3 6.3 0 0 1 674 1154A6.3 6.3 0 0 1 681 1147A6.3 6.3 0 0 1 689 1142A6.3 6.3 0 0 1 698 1138A6.3 6.3 0 0 1 707 1141A6.3 6.3 0 0 1 717 1144A6.3 6.3 0 0 1 723 1152A6.3 6.3 0 0 1 726 1161A6.3 6.3 0 0 1 727 1171A6.3 6.3 0 0 1 724 1180A6.3 6.3 0 0 1 719 1188ZM620 1215A6.1 6.1 0 0 1 615 1223A6.1 6.1 0 0 1 608 1230A6.1 6.1 0 0 1 600 1234A6.1 6.1 0 0 1 591 1236A6.1 6.1 0 0 1 581 1234A6.1 6.1 0 0 1 575 1226A6.1 6.1 0 0 1 570 1219A6.1 6.1 0 0 1 567 1209A6.1 6.1 0 0 1 569 1200A6.1 6.1 0 0 1 575 1192A6.1 6.1 0 0 1 582 1186A6.1 6.1 0 0 1 591 1184A6.1 6.1 0 0 1 601 1185A6.1 6.1 0 0 1 610 1188A6.1 6.1 0 0 1 615 1197A6.1 6.1 0 0 1 620 1205A6.1 6.1 0 0 1 620 1215ZM767 1115A6.1 6.1 0 0 1 762 1123A6.1 6.1 0 0 1 757 1132A6.1 6.1 0 0 1 748 1134A6.1 6.1 0 0 1 738 1135A6.1 6.1 0 0 1 729 1132A6.1 6.1 0 0 1 722 1127A6.1 6.1 0 0 1 715 1120A6.1 6.1 0 0 1 712 1110A6.1 6.1 0 0 1 714 1101A6.1 6.1 0 0 1 716 1091A6.1 6.1 0 0 1 725 1086A6.1 6.1 0 0 1 733 1082A6.1 6.1 0 0 1 743 1081A6.1 6.1 0 0 1 752 1083A6.1 6.1 0 0 1 761 1087A6.1 6.1 0 0 1 766 1096A6.1 6.1 0 0 1 768 1105A6.1 6.1 0 0 1 767 1115ZM679 1215A6.4 6.4 0 0 1 671 1221A6.4 6.4 0 0 1 661 1223A6.4 6.4 0 0 1 652 1220A6.4 6.4 0 0 1 644 1214A6.4 6.4 0 0 1 641 1205A6.4 6.4 0 0 1 642 1194A6.4 6.4 0 0 1 648 1186A6.4 6.4 0 0 1 657 1181A6.4 6.4 0 0 1 667 1183A6.4 6.4 0 0 1 676 1187A6.4 6.4 0 0 1 683 1195A6.4 6.4 0 0 1 682 1206A6.4 6.4 0 0 1 679 1215ZM771 1255A6.3 6.3 0 0 1 762 1257A6.3 6.3 0 0 1 752 1255A6.3 6.3 0 0 1 745 1248A6.3 6.3 0 0 1 745 1238A6.3 6.3 0 0 1 749 1229A6.3 6.3 0 0 1 756 1223A6.3 6.3 0 0 1 767 1223A6.3 6.3 0 0 1 775 1228A6.3 6.3 0 0 1 779 1237A6.3 6.3 0 0 1 778 1247A6.3 6.3 0 0 1 771 1255ZM655 1060A6.3 6.3 0 0 1 646 1064A6.3 6.3 0 0 1 637 1065A6.3 6.3 0 0 1 628 1062A6.3 6.3 0 0 1 620 1056A6.3 6.3 0 0 1 618 1046A6.3 6.3 0 0 1 618 1037A6.3 6.3 0 0 1 621 1027A6.3 6.3 0 0 1 629 1022A6.3 6.3 0 0 1 638 1018A6.3 6.3 0 0 1 648 1020A6.3 6.3 0 0 1 656 1025A6.3 6.3 0 0 1 661 1033A6.3 6.3 0 0 1 665 1043A6.3 6.3 0 0 1 662 1052A6.3 6.3 0 0 1 655 1060ZM658 1018A6.4 6.4 0 0 1 650 1025A6.4 6.4 0 0 1 641 1029A6.4 6.4 0 0 1 632 1032A6.4 6.4 0 0 1 622 1030A6.4 6.4 0 0 1 614 1025A6.4 6.4 0 0 1 606 1018A6.4 6.4 0 0 1 602 1009A6.4 6.4 0 0 1 602 999A6.4 6.4 0 0 1 606 990A6.4 6.4 0 0 1 611 981A6.4 6.4 0 0 1 621 977A6.4 6.4 0 0 1 631 976A6.4 6.4 0 0 1 640 977A6.4 6.4 0 0 1 648 982A6.4 6.4 0 0 1 657 988A6.4 6.4 0 0 1 658 998A6.4 6.4 0 0 1 659 1008A6.4 6.4 0 0 1 658 1018ZM845 1155A6.3 6.3 0 0 1 841 1165A6.3 6.3 0 0 1 832 1170A6.3 6.3 0 0 1 822 1173A6.3 6.3 0 0 1 812 1172A6.3 6.3 0 0 1 803 1166A6.3 6.3 0 0 1 798 1159A6.3 6.3 0 0 1 792 1150A6.3 6.3 0 0 1 792 1140A6.3 6.3 0 0 1 797 1131A6.3 6.3 0 0 1 804 1124A6.3 6.3 0 0 1 812 1118A6.3 6.3 0 0 1 822 1119A6.3 6.3 0 0 1 831 1122A6.3 6.3 0 0 1 841 1126A6.3 6.3 0 0 1 845 1135A6.3 6.3 0 0 1 848 1145A6.3 6.3 0 0 1 845 1155ZM610 1014A6.3 6.3 0 0 1 603 1021A6.3 6.3 0 0 1 594 1024A6.3 6.3 0 0 1 585 1022A6.3 6.3 0 0 1 577 1016A6.3 6.3 0 0 1 575 1007A6.3 6.3 0 0 1 576 997A6.3 6.3 0 0 1 583 990A6.3 6.3 0 0 1 592 986A6.3 6.3 0 0 1 601 989A6.3 6.3 0 0 1 609 995A6.3 6.3 0 0 1 612 1004A6.3 6.3 0 0 1 610 1014ZM783 1170A6.3 6.3 0 0 1 775 1177A6.3 6.3 0 0 1 766 1180A6.3 6.3 0 0 1 756 1178A6.3 6.3 0 0 1 748 1171A6.3 6.3 0 0 1 744 1162A6.3 6.3 0 0 1 745 1152A6.3 6.3 0 0 1 751 1144A6.3 6.3 0 0 1 759 1139A6.3 6.3 0 0 1 769 1139A6.3 6.3 0 0 1 778 1143A6.3 6.3 0 0 1 783 1151A6.3 6.3 0 0 1 785 1161A6.3 6.3 0 0 1 783 1170ZM635 1144A6.4 6.4 0 0 1 629 1152A6.4 6.4 0 0 1 621 1157A6.4 6.4 0 0 1 611 1159A6.4 6.4 0 0 1 602 1153A6.4 6.4 0 0 1 597 1145A6.4 6.4 0 0 1 595 1136A6.4 6.4 0 0 1 597 1126A6.4 6.4 0 0 1 604 1118A6.4 6.4 0 0 1 614 1117A6.4 6.4 0 0 1 624 1119A6.4 6.4 0 0 1 631 1125A6.4 6.4 0 0 1 637 1134A6.4 6.4 0 0 1 635 1144ZM778 1216A6.4 6.4 0 0 1 770 1223A6.4 6.4 0 0 1 762 1228A6.4 6.4 0 0 1 753 1230A6.4 6.4 0 0 1 743 1228A6.4 6.4 0 0 1 734 1224A6.4 6.4 0 0 1 727 1216A6.4 6.4 0 0 1 724 1207A6.4 6.4 0 0 1 726 1197A6.4 6.4 0 0 1 731 1188A6.4 6.4 0 0 1 737 1180A6.4 6.4 0 0 1 746 1177A6.4 6.4 0 0 1 756 1177A6.4 6.4 0 0 1 766 1180A6.4 6.4 0 0 1 773 1187A6.4 6.4 0 0 1 779 1195A6.4 6.4 0 0 1 779 1205A6.4 6.4 0 0 1 778 1216ZM704 1115A6.1 6.1 0 0 1 700 1123A6.1 6.1 0 0 1 695 1132A6.1 6.1 0 0 1 687 1137A6.1 6.1 0 0 1 677 1137A6.1 6.1 0 0 1 667 1136A6.1 6.1 0 0 1 660 1131A6.1 6.1 0 0 1 653 1124A6.1 6.1 0 0 1 648 1116A6.1 6.1 0 0 1 647 1106A6.1 6.1 0 0 1 651 1098A6.1 6.1 0 0 1 654 1089A6.1 6.1 0 0 1 661 1082A6.1 6.1 0 0 1 671 1079A6.1 6.1 0 0 1 680 1080A6.1 6.1 0 0 1 690 1082A6.1 6.1 0 0 1 697 1089A6.1 6.1 0 0 1 704 1095A6.1 6.1 0 0 1 706 1105A6.1 6.1 0 0 1 704 1115ZM812 1237A6.1 6.1 0 0 1 804 1243A6.1 6.1 0 0 1 794 1242A6.1 6.1 0 0 1 785 1238A6.1 6.1 0 0 1 780 1230A6.1 6.1 0 0 1 778 1221A6.1 6.1 0 0 1 781 1212A6.1 6.1 0 0 1 786 1205A6.1 6.1 0 0 1 794 1199A6.1 6.1 0 0 1 804 1199A6.1 6.1 0 0 1 812 1205A6.1 6.1 0 0 1 818 1212A6.1 6.1 0 0 1 821 1221A6.1 6.1 0 0 1 819 1231A6.1 6.1 0 0 1 812 1237ZM711 1074A6.1 6.1 0 0 1 704 1081A6.1 6.1 0 0 1 695 1083A6.1 6.1 0 0 1 686 1082A6.1 6.1 0 0 1 679 1075A6.1 6.1 0 0 1 678 1065A6.1 6.1 0 0 1 682 1057A6.1 6.1 0 0 1 689 1050A6.1 6.1 0 0 1 698 1050A6.1 6.1 0 0 1 707 1055A6.1 6.1 0 0 1 711 1064A6.1 6.1 0 0 1 711 1074ZM695 1028A6.3 6.3 0 0 1 689 1035A6.3 6.3 0 0 1 680 1038A6.3 6.3 0 0 1 670 1037A6.3 6.3 0 0 1 662 1030A6.3 6.3 0 0 1 659 1020A6.3 6.3 0 0 1 662 1011A6.3 6.3 0 0 1 668 1003A6.3 6.3 0 0 1 678 1000A6.3 6.3 0 0 1 688 1002A6.3 6.3 0 0 1 695 1009A6.3 6.3 0 0 1 697 1018A6.3 6.3 0 0 1 695 1028ZM605 973A6.2 6.2 0 0 1 596 978A6.2 6.2 0 0 1 587 978A6.2 6.2 0 0 1 578 975A6.2 6.2 0 0 1 574 966A6.2 6.2 0 0 1 575 956A6.2 6.2 0 0 1 580 949A6.2 6.2 0 0 1 589 945A6.2 6.2 0 0 1 599 947A6.2 6.2 0 0 1 605 954A6.2 6.2 0 0 1 607 964A6.2 6.2 0 0 1 605 973ZM835 1192A6 6 0 0 1 829 1199A6 6 0 0 1 820 1203A6 6 0 0 1 811 1202A6 6 0 0 1 803 1196A6 6 0 0 1 800 1187A6 6 0 0 1 802 1178A6 6 0 0 1 808 1171A6 6 0 0 1 817 1167A6 6 0 0 1 826 1168A6 6 0 0 1 833 1174A6 6 0 0 1 837 1183A6 6 0 0 1 835 1192ZM717 1229A6.5 6.5 0 0 1 709 1234A6.5 6.5 0 0 1 699 1236A6.5 6.5 0 0 1 689 1233A6.5 6.5 0 0 1 681 1227A6.5 6.5 0 0 1 677 1218A6.5 6.5 0 0 1 676 1208A6.5 6.5 0 0 1 680 1199A6.5 6.5 0 0 1 687 1191A6.5 6.5 0 0 1 696 1187A6.5 6.5 0 0 1 707 1189A6.5 6.5 0 0 1 716 1193A6.5 6.5 0 0 1 723 1201A6.5 6.5 0 0 1 725 1211A6.5 6.5 0 0 1 723 1221A6.5 6.5 0 0 1 717 1229ZM1095 1349A6.1 6.1 0 0 1 1086 1352A6.1 6.1 0 0 1 1076 1352A6.1 6.1 0 0 1 1067 1350A6.1 6.1 0 0 1 1061 1342A6.1 6.1 0 0 1 1057 1334A6.1 6.1 0 0 1 1057 1324A6.1 6.1 0 0 1 1060 1315A6.1 6.1 0 0 1 1067 1309A6.1 6.1 0 0 1 1076 1305A6.1 6.1 0 0 1 1086 1304A6.1 6.1 0 0 1 1094 1309A6.1 6.1 0 0 1 1101 1315A6.1 6.1 0 0 1 1105 1324A6.1 6.1 0 0 1 1106 1334A6.1 6.1 0 0 1 1102 1343A6.1 6.1 0 0 1 1095 1349ZM1004 1328A6.2 6.2 0 0 1 998 1335A6.2 6.2 0 0 1 989 1340A6.2 6.2 0 0 1 979 1338A6.2 6.2 0 0 1 969 1336A6.2 6.2 0 0 1 964 1328A6.2 6.2 0 0 1 960 1319A6.2 6.2 0 0 1 960 1310A6.2 6.2 0 0 1 962 1301A6.2 6.2 0 0 1 969 1293A6.2 6.2 0 0 1 979 1291A6.2 6.2 0 0 1 988 1290A6.2 6.2 0 0 1 997 1293A6.2 6.2 0 0 1 1005 1300A6.2 6.2 0 0 1 1009 1309A6.2 6.2 0 0 1 1008 1319A6.2 6.2 0 0 1 1004 1328ZM959 1446A6.5 6.5 0 0 1 949 1450A6.5 6.5 0 0 1 939 1449A6.5 6.5 0 0 1 930 1443A6.5 6.5 0 0 1 926 1433A6.5 6.5 0 0 1 927 1423A6.5 6.5 0 0 1 934 1415A6.5 6.5 0 0 1 943 1410A6.5 6.5 0 0 1 953 1411A6.5 6.5 0 0 1 961 1418A6.5 6.5 0 0 1 965 1427A6.5 6.5 0 0 1 965 1437A6.5 6.5 0 0 1 959 1446ZM917 1469A6.5 6.5 0 0 1 914 1479A6.5 6.5 0 0 1 905 1485A6.5 6.5 0 0 1 895 1485A6.5 6.5 0 0 1 886 1480A6.5 6.5 0 0 1 881 1471A6.5 6.5 0 0 1 883 1461A6.5 6.5 0 0 1 888 1453A6.5 6.5 0 0 1 898 1451A6.5 6.5 0 0 1 907 1453A6.5 6.5 0 0 1 914 1460A6.5 6.5 0 0 1 917 1469ZM1151 1501A6.4 6.4 0 0 1 1150 1511A6.4 6.4 0 0 1 1144 1520A6.4 6.4 0 0 1 1135 1523A6.4 6.4 0 0 1 1125 1524A6.4 6.4 0 0 1 1115 1522A6.4 6.4 0 0 1 1108 1515A6.4 6.4 0 0 1 1104 1506A6.4 6.4 0 0 1 1104 1496A6.4 6.4 0 0 1 1107 1486A6.4 6.4 0 0 1 1116 1481A6.4 6.4 0 0 1 1125 1477A6.4 6.4 0 0 1 1135 1479A6.4 6.4 0 0 1 1143 1484A6.4 6.4 0 0 1 1149 1492A6.4 6.4 0 0 1 1151 1501ZM1105 1449A6.1 6.1 0 0 1 1101 1458A6.1 6.1 0 0 1 1094 1464A6.1 6.1 0 0 1 1086 1469A6.1 6.1 0 0 1 1076 1469A6.1 6.1 0 0 1 1068 1464A6.1 6.1 0 0 1 1062 1457A6.1 6.1 0 0 1 1060 1448A6.1 6.1 0 0 1 1059 1438A6.1 6.1 0 0 1 1066 1431A6.1 6.1 0 0 1 1073 1424A6.1 6.1 0 0 1 1083 1422A6.1 6.1 0 0 1 1092 1424A6.1 6.1 0 0 1 1099 1432A6.1 6.1 0 0 1 1104 1439A6.1 6.1 0 0 1 1105 1449ZM965 1375A6.1 6.1 0 0 1 962 1384A6.1 6.1 0 0 1 954 1390A6.1 6.1 0 0 1 945 1392A6.1 6.1 0 0 1 936 1389A6.1 6.1 0 0 1 930 1381A6.1 6.1 0 0 1 928 1372A6.1 6.1 0 0 1 931 1363A6.1 6.1 0 0 1 938 1356A6.1 6.1 0 0 1 947 1354A6.1 6.1 0 0 1 957 1357A6.1 6.1 0 0 1 962 1365A6.1 6.1 0 0 1 965 1375ZM1073 1358A6.4 6.4 0 0 1 1073 1368A6.4 6.4 0 0 1 1067 1376A6.4 6.4 0 0 1 1059 1383A6.4 6.4 0 0 1 1049 1386A6.4 6.4 0 0 1 1039 1385A6.4 6.4 0 0 1 1030 1379A6.4 6.4 0 0 1 1023 1372A6.4 6.4 0 0 1 1019 1362A6.4 6.4 0 0 1 1019 1352A6.4 6.4 0 0 1 1025 1344A6.4 6.4 0 0 1 1031 1336A6.4 6.4 0 0 1 1040 1331A6.4 6.4 0 0 1 1050 1330A6.4 6.4 0 0 1 1060 1333A6.4 6.4 0 0 1 1067 1340A6.4 6.4 0 0 1 1072 1348A6.4 6.4 0 0 1 1073 1358ZM1155 1326A6.5 6.5 0 0 1 1146 1331A6.5 6.5 0 0 1 1135 1330A6.5 6.5 0 0 1 1126 1325A6.5 6.5 0 0 1 1120 1317A6.5 6.5 0 0 1 1118 1307A6.5 6.5 0 0 1 1122 1297A6.5 6.5 0 0 1 1128 1289A6.5 6.5 0 0 1 1137 1284A6.5 6.5 0 0 1 1147 1286A6.5 6.5 0 0 1 1157 1290A6.5 6.5 0 0 1 1163 1298A6.5 6.5 0 0 1 1163 1309A6.5 6.5 0 0 1 1161 1318A6.5 6.5 0 0 1 1155 1326ZM1109 1367A6.4 6.4 0 0 1 1106 1377A6.4 6.4 0 0 1 1099 1383A6.4 6.4 0 0 1 1089 1387A6.4 6.4 0 0 1 1079 1384A6.4 6.4 0 0 1 1073 1377A6.4 6.4 0 0 1 1070 1367A6.4 6.4 0 0 1 1073 1357A6.4 6.4 0 0 1 1080 1350A6.4 6.4 0 0 1 1090 1348A6.4 6.4 0 0 1 1100 1350A6.4 6.4 0 0 1 1107 1357A6.4 6.4 0 0 1 1109 1367ZM952 1475A6.5 6.5 0 0 1 946 1483A6.5 6.5 0 0 1 936 1485A6.5 6.5 0 0 1 926 1483A6.5 6.5 0 0 1 920 1474A6.5 6.5 0 0 1 919 1465A6.5 6.5 0 0 1 923 1455A6.5 6.5 0 0 1 931 1450A6.5 6.5 0 0 1 941 1451A6.5 6.5 0 0 1 950 1455A6.5 6.5 0 0 1 954 1465A6.5 6.5 0 0 1 952 1475ZM1065 1494A6.4 6.4 0 0 1 1058 1501A6.4 6.4 0 0 1 1048 1503A6.4 6.4 0 0 1 1038 1501A6.4 6.4 0 0 1 1029 1495A6.4 6.4 0 0 1 1026 1485A6.4 6.4 0 0 1 1026 1475A6.4 6.4 0 0 1 1029 1466A6.4 6.4 0 0 1 1037 1460A6.4 6.4 0 0 1 1047 1458A6.4 6.4 0 0 1 1057 1460A6.4 6.4 0 0 1 1065 1466A6.4 6.4 0 0 1 1069 1476A6.4 6.4 0 0 1 1069 1485A6.4 6.4 0 0 1 1065 1494ZM938 1345A6.6 6.6 0 0 1 933 1354A6.6 6.6 0 0 1 924 1359A6.6 6.6 0 0 1 914 1358A6.6 6.6 0 0 1 906 1351A6.6 6.6 0 0 1 901 1342A6.6 6.6 0 0 1 904 1332A6.6 6.6 0 0 1 911 1324A6.6 6.6 0 0 1 921 1322A6.6 6.6 0 0 1 931 1326A6.6 6.6 0 0 1 937 1335A6.6 6.6 0 0 1 938 1345ZM1160 1356A6.3 6.3 0 0 1 1154 1363A6.3 6.3 0 0 1 1145 1369A6.3 6.3 0 0 1 1135 1370A6.3 6.3 0 0 1 1126 1365A6.3 6.3 0 0 1 1119 1359A6.3 6.3 0 0 1 1114 1350A6.3 6.3 0 0 1 1116 1340A6.3 6.3 0 0 1 1119 1331A6.3 6.3 0 0 1 1128 1325A6.3 6.3 0 0 1 1137 1322A6.3 6.3 0 0 1 1146 1324A6.3 6.3 0 0 1 1156 1327A6.3 6.3 0 0 1 1161 1336A6.3 6.3 0 0 1 1163 1346A6.3 6.3 0 0 1 1160 1356ZM1076 1418A6.3 6.3 0 0 1 1069 1426A6.3 6.3 0 0 1 1059 1428A6.3 6.3 0 0 1 1049 1427A6.3 6.3 0 0 1 1040 1423A6.3 6.3 0 0 1 1033 1417A6.3 6.3 0 0 1 1028 1408A6.3 6.3 0 0 1 1027 1398A6.3 6.3 0 0 1 1029 1388A6.3 6.3 0 0 1 1034 1380A6.3 6.3 0 0 1 1042 1373A6.3 6.3 0 0 1 1051 1371A6.3 6.3 0 0 1 1061 1371A6.3 6.3 0 0 1 1071 1374A6.3 6.3 0 0 1 1078 1382A6.3 6.3 0 0 1 1084 1390A6.3 6.3 0 0 1 1084 1400A6.3 6.3 0 0 1 1082 1410A6.3 6.3 0 0 1 1076 1418ZM1027 1508A6.3 6.3 0 0 1 1018 1513A6.3 6.3 0 0 1 1009 1514A6.3 6.3 0 0 1 999 1513A6.3 6.3 0 0 1 991 1506A6.3 6.3 0 0 1 985 1498A6.3 6.3 0 0 1 981 1489A6.3 6.3 0 0 1 983 1479A6.3 6.3 0 0 1 986 1469A6.3 6.3 0 0 1 994 1463A6.3 6.3 0 0 1 1002 1457A6.3 6.3 0 0 1 1012 1456A6.3 6.3 0 0 1 1022 1458A6.3 6.3 0 0 1 1031 1464A6.3 6.3 0 0 1 1036 1473A6.3 6.3 0 0 1 1038 1482A6.3 6.3 0 0 1 1039 1492A6.3 6.3 0 0 1 1034 1501A6.3 6.3 0 0 1 1027 1508ZM1172 1427A6.1 6.1 0 0 1 1168 1436A6.1 6.1 0 0 1 1159 1441A6.1 6.1 0 0 1 1151 1446A6.1 6.1 0 0 1 1141 1446A6.1 6.1 0 0 1 1132 1443A6.1 6.1 0 0 1 1124 1438A6.1 6.1 0 0 1 1118 1430A6.1 6.1 0 0 1 1116 1420A6.1 6.1 0 0 1 1118 1410A6.1 6.1 0 0 1 1123 1402A6.1 6.1 0 0 1 1130 1396A6.1 6.1 0 0 1 1138 1390A6.1 6.1 0 0 1 1148 1391A6.1 6.1 0 0 1 1158 1393A6.1 6.1 0 0 1 1166 1399A6.1 6.1 0 0 1 1170 1408A6.1 6.1 0 0 1 1173 1417A6.1 6.1 0 0 1 1172 1427ZM936 1305A6.3 6.3 0 0 1 927 1307A6.3 6.3 0 0 1 918 1305A6.3 6.3 0 0 1 911 1299A6.3 6.3 0 0 1 907 1290A6.3 6.3 0 0 1 909 1281A6.3 6.3 0 0 1 915 1272A6.3 6.3 0 0 1 925 1269A6.3 6.3 0 0 1 934 1272A6.3 6.3 0 0 1 941 1279A6.3 6.3 0 0 1 944 1288A6.3 6.3 0 0 1 942 1297A6.3 6.3 0 0 1 936 1305ZM1007 1361A6.2 6.2 0 0 1 1001 1368A6.2 6.2 0 0 1 992 1373A6.2 6.2 0 0 1 983 1370A6.2 6.2 0 0 1 975 1364A6.2 6.2 0 0 1 973 1355A6.2 6.2 0 0 1 976 1346A6.2 6.2 0 0 1 983 1340A6.2 6.2 0 0 1 993 1339A6.2 6.2 0 0 1 1001 1343A6.2 6.2 0 0 1 1006 1351A6.2 6.2 0 0 1 1007 1361ZM922 1399A6.4 6.4 0 0 1 915 1406A6.4 6.4 0 0 1 907 1413A6.4 6.4 0 0 1 897 1414A6.4 6.4 0 0 1 887 1412A6.4 6.4 0 0 1 879 1408A6.4 6.4 0 0 1 871 1402A6.4 6.4 0 0 1 867 1393A6.4 6.4 0 0 1 866 1382A6.4 6.4 0 0 1 870 1373A6.4 6.4 0 0 1 876 1365A6.4 6.4 0 0 1 884 1360A6.4 6.4 0 0 1 894 1358A6.4 6.4 0 0 1 904 1357A6.4 6.4 0 0 1 913 1362A6.4 6.4 0 0 1 919 1371A6.4 6.4 0 0 1 924 1379A6.4 6.4 0 0 1 923 1389A6.4 6.4 0 0 1 922 1399ZM1052 1427A6.4 6.4 0 0 1 1049 1436A6.4 6.4 0 0 1 1044 1445A6.4 6.4 0 0 1 1036 1451A6.4 6.4 0 0 1 1025 1453A6.4 6.4 0 0 1 1015 1452A6.4 6.4 0 0 1 1006 1447A6.4 6.4 0 0 1 1001 1437A6.4 6.4 0 0 1 998 1428A6.4 6.4 0 0 1 998 1418A6.4 6.4 0 0 1 1003 1409A6.4 6.4 0 0 1 1009 1401A6.4 6.4 0 0 1 1019 1398A6.4 6.4 0 0 1 1029 1398A6.4 6.4 0 0 1 1038 1401A6.4 6.4 0 0 1 1046 1408A6.4 6.4 0 0 1 1050 1417A6.4 6.4 0 0 1 1052 1427ZM913 1436A6.2 6.2 0 0 1 909 1444A6.2 6.2 0 0 1 901 1451A6.2 6.2 0 0 1 891 1453A6.2 6.2 0 0 1 882 1449A6.2 6.2 0 0 1 873 1445A6.2 6.2 0 0 1 868 1436A6.2 6.2 0 0 1 868 1426A6.2 6.2 0 0 1 871 1417A6.2 6.2 0 0 1 877 1410A6.2 6.2 0 0 1 886 1406A6.2 6.2 0 0 1 896 1405A6.2 6.2 0 0 1 905 1409A6.2 6.2 0 0 1 911 1417A6.2 6.2 0 0 1 914 1426A6.2 6.2 0 0 1 913 1436ZM911 1301A6.2 6.2 0 0 1 910 1311A6.2 6.2 0 0 1 903 1318A6.2 6.2 0 0 1 894 1322A6.2 6.2 0 0 1 884 1322A6.2 6.2 0 0 1 875 1317A6.2 6.2 0 0 1 870 1309A6.2 6.2 0 0 1 868 1299A6.2 6.2 0 0 1 870 1289A6.2 6.2 0 0 1 878 1283A6.2 6.2 0 0 1 886 1278A6.2 6.2 0 0 1 896 1279A6.2 6.2 0 0 1 905 1283A6.2 6.2 0 0 1 910 1292A6.2 6.2 0 0 1 911 1301ZM1131 1406A6.5 6.5 0 0 1 1124 1413A6.5 6.5 0 0 1 1115 1417A6.5 6.5 0 0 1 1104 1416A6.5 6.5 0 0 1 1097 1409A6.5 6.5 0 0 1 1093 1399A6.5 6.5 0 0 1 1094 1389A6.5 6.5 0 0 1 1102 1382A6.5 6.5 0 0 1 1111 1378A6.5 6.5 0 0 1 1121 1379A6.5 6.5 0 0 1 1129 1386A6.5 6.5 0 0 1 1132 1395A6.5 6.5 0 0 1 1131 1406ZM903 1358A6.4 6.4 0 0 1 895 1364A6.4 6.4 0 0 1 886 1367A6.4 6.4 0 0 1 876 1368A6.4 6.4 0 0 1 866 1366A6.4 6.4 0 0 1 859 1358A6.4 6.4 0 0 1 852 1350A6.4 6.4 0 0 1 851 1340A6.4 6.4 0 0 1 853 1330A6.4 6.4 0 0 1 858 1322A6.4 6.4 0 0 1 866 1315A6.4 6.4 0 0 1 875 1312A6.4 6.4 0 0 1 885 1311A6.4 6.4 0 0 1 894 1315A6.4 6.4 0 0 1 903 1320A6.4 6.4 0 0 1 907 1329A6.4 6.4 0 0 1 910 1339A6.4 6.4 0 0 1 907 1349A6.4 6.4 0 0 1 903 1358ZM650 1582A6.4 6.4 0 0 1 641 1587A6.4 6.4 0 0 1 631 1586A6.4 6.4 0 0 1 622 1580A6.4 6.4 0 0 1 619 1571A6.4 6.4 0 0 1 620 1561A6.4 6.4 0 0 1 626 1553A6.4 6.4 0 0 1 635 1550A6.4 6.4 0 0 1 645 1550A6.4 6.4 0 0 1 654 1555A6.4 6.4 0 0 1 657 1565A6.4 6.4 0 0 1 656 1575A6.4 6.4 0 0 1 650 1582ZM700 1512A6.5 6.5 0 0 1 693 1520A6.5 6.5 0 0 1 683 1520A6.5 6.5 0 0 1 672 1519A6.5 6.5 0 0 1 664 1513A6.5 6.5 0 0 1 659 1504A6.5 6.5 0 0 1 656 1495A6.5 6.5 0 0 1 658 1485A6.5 6.5 0 0 1 663 1476A6.5 6.5 0 0 1 672 1469A6.5 6.5 0 0 1 682 1468A6.5 6.5 0 0 1 692 1470A6.5 6.5 0 0 1 701 1476A6.5 6.5 0 0 1 706 1485A6.5 6.5 0 0 1 709 1494A6.5 6.5 0 0 1 705 1504A6.5 6.5 0 0 1 700 1512ZM599 1474A6.2 6.2 0 0 1 593 1481A6.2 6.2 0 0 1 586 1487A6.2 6.2 0 0 1 577 1491A6.2 6.2 0 0 1 567 1489A6.2 6.2 0 0 1 558 1485A6.2 6.2 0 0 1 552 1477A6.2 6.2 0 0 1 549 1468A6.2 6.2 0 0 1 551 1458A6.2 6.2 0 0 1 555 1449A6.2 6.2 0 0 1 564 1444A6.2 6.2 0 0 1 573 1441A6.2 6.2 0 0 1 583 1441A6.2 6.2 0 0 1 591 1447A6.2 6.2 0 0 1 598 1454A6.2 6.2 0 0 1 599 1464A6.2 6.2 0 0 1 599 1474ZM573 1553A6.2 6.2 0 0 1 564 1555A6.2 6.2 0 0 1 554 1555A6.2 6.2 0 0 1 545 1551A6.2 6.2 0 0 1 541 1543A6.2 6.2 0 0 1 536 1534A6.2 6.2 0 0 1 537 1524A6.2 6.2 0 0 1 544 1516A6.2 6.2 0 0 1 551 1510A6.2 6.2 0 0 1 561 1509A6.2 6.2 0 0 1 571 1511A6.2 6.2 0 0 1 578 1518A6.2 6.2 0 0 1 583 1526A6.2 6.2 0 0 1 583 1536A6.2 6.2 0 0 1 581 1546A6.2 6.2 0 0 1 573 1553ZM609 1597A6.3 6.3 0 0 1 600 1601A6.3 6.3 0 0 1 590 1601A6.3 6.3 0 0 1 581 1598A6.3 6.3 0 0 1 575 1590A6.3 6.3 0 0 1 574 1581A6.3 6.3 0 0 1 576 1571A6.3 6.3 0 0 1 583 1564A6.3 6.3 0 0 1 593 1561A6.3 6.3 0 0 1 603 1562A6.3 6.3 0 0 1 610 1569A6.3 6.3 0 0 1 615 1578A6.3 6.3 0 0 1 614 1588A6.3 6.3 0 0 1 609 1597ZM645 1536A6.3 6.3 0 0 1 641 1546A6.3 6.3 0 0 1 634 1552A6.3 6.3 0 0 1 626 1558A6.3 6.3 0 0 1 616 1556A6.3 6.3 0 0 1 606 1552A6.3 6.3 0 0 1 601 1544A6.3 6.3 0 0 1 600 1534A6.3 6.3 0 0 1 602 1525A6.3 6.3 0 0 1 608 1517A6.3 6.3 0 0 1 617 1514A6.3 6.3 0 0 1 627 1513A6.3 6.3 0 0 1 636 1519A6.3 6.3 0 0 1 643 1526A6.3 6.3 0 0 1 645 1536ZM658 1624A6.3 6.3 0 0 1 649 1629A6.3 6.3 0 0 1 639 1631A6.3 6.3 0 0 1 631 1626A6.3 6.3 0 0 1 624 1619A6.3 6.3 0 0 1 622 1610A6.3 6.3 0 0 1 624 1600A6.3 6.3 0 0 1 631 1593A6.3 6.3 0 0 1 640 1590A6.3 6.3 0 0 1 649 1592A6.3 6.3 0 0 1 657 1597A6.3 6.3 0 0 1 662 1605A6.3 6.3 0 0 1 661 1615A6.3 6.3 0 0 1 658 1624ZM638 1510A6.2 6.2 0 0 1 632 1518A6.2 6.2 0 0 1 624 1523A6.2 6.2 0 0 1 614 1525A6.2 6.2 0 0 1 605 1521A6.2 6.2 0 0 1 598 1515A6.2 6.2 0 0 1 592 1507A6.2 6.2 0 0 1 590 1497A6.2 6.2 0 0 1 593 1488A6.2 6.2 0 0 1 599 1480A6.2 6.2 0 0 1 608 1476A6.2 6.2 0 0 1 617 1473A6.2 6.2 0 0 1 626 1478A6.2 6.2 0 0 1 634 1483A6.2 6.2 0 0 1 640 1491A6.2 6.2 0 0 1 641 1501A6.2 6.2 0 0 1 638 1510ZM707 1570A6.2 6.2 0 0 1 700 1577A6.2 6.2 0 0 1 691 1578A6.2 6.2 0 0 1 682 1575A6.2 6.2 0 0 1 677 1567A6.2 6.2 0 0 1 676 1558A6.2 6.2 0 0 1 680 1549A6.2 6.2 0 0 1 689 1544A6.2 6.2 0 0 1 698 1546A6.2 6.2 0 0 1 706 1552A6.2 6.2 0 0 1 709 1560A6.2 6.2 0 0 1 707 1570ZM648 1478A6.3 6.3 0 0 1 639 1483A6.3 6.3 0 0 1 629 1484A6.3 6.3 0 0 1 619 1482A6.3 6.3 0 0 1 611 1476A6.3 6.3 0 0 1 605 1468A6.3 6.3 0 0 1 603 1459A6.3 6.3 0 0 1 603 1449A6.3 6.3 0 0 1 608 1440A6.3 6.3 0 0 1 616 1435A6.3 6.3 0 0 1 625 1430A6.3 6.3 0 0 1 635 1429A6.3 6.3 0 0 1 644 1434A6.3 6.3 0 0 1 652 1440A6.3 6.3 0 0 1 656 1450A6.3 6.3 0 0 1 656 1460A6.3 6.3 0 0 1 653 1469A6.3 6.3 0 0 1 648 1478ZM768 1590A6.2 6.2 0 0 1 761 1596A6.2 6.2 0 0 1 752 1600A6.2 6.2 0 0 1 742 1598A6.2 6.2 0 0 1 734 1593A6.2 6.2 0 0 1 729 1584A6.2 6.2 0 0 1 727 1575A6.2 6.2 0 0 1 728 1565A6.2 6.2 0 0 1 735 1558A6.2 6.2 0 0 1 743 1553A6.2 6.2 0 0 1 753 1552A6.2 6.2 0 0 1 762 1555A6.2 6.2 0 0 1 769 1562A6.2 6.2 0 0 1 772 1571A6.2 6.2 0 0 1 773 1581A6.2 6.2 0 0 1 768 1590ZM579 1585A6.4 6.4 0 0 1 575 1594A6.4 6.4 0 0 1 567 1600A6.4 6.4 0 0 1 557 1603A6.4 6.4 0 0 1 547 1601A6.4 6.4 0 0 1 539 1594A6.4 6.4 0 0 1 533 1586A6.4 6.4 0 0 1 531 1576A6.4 6.4 0 0 1 535 1567A6.4 6.4 0 0 1 542 1560A6.4 6.4 0 0 1 551 1555A6.4 6.4 0 0 1 561 1554A6.4 6.4 0 0 1 570 1558A6.4 6.4 0 0 1 577 1565A6.4 6.4 0 0 1 580 1575A6.4 6.4 0 0 1 579 1585ZM674 1534A6.3 6.3 0 0 1 672 1544A6.3 6.3 0 0 1 663 1549A6.3 6.3 0 0 1 654 1550A6.3 6.3 0 0 1 645 1545A6.3 6.3 0 0 1 641 1537A6.3 6.3 0 0 1 640 1527A6.3 6.3 0 0 1 647 1519A6.3 6.3 0 0 1 656 1516A6.3 6.3 0 0 1 666 1517A6.3 6.3 0 0 1 673 1525A6.3 6.3 0 0 1 674 1534ZM530 1585A6.2 6.2 0 0 1 522 1591A6.2 6.2 0 0 1 514 1596A6.2 6.2 0 0 1 504 1598A6.2 6.2 0 0 1 494 1594A6.2 6.2 0 0 1 486 1589A6.2 6.2 0 0 1 481 1581A6.2 6.2 0 0 1 479 1571A6.2 6.2 0 0 1 480 1562A6.2 6.2 0 0 1 484 1553A6.2 6.2 0 0 1 491 1546A6.2 6.2 0 0 1 500 1542A6.2 6.2 0 0 1 509 1541A6.2 6.2 0 0 1 519 1543A6.2 6.2 0 0 1 526 1550A6.2 6.2 0 0 1 532 1557A6.2 6.2 0 0 1 535 1567A6.2 6.2 0 0 1 535 1577A6.2 6.2 0 0 1 530 1585ZM245 1466A6.5 6.5 0 0 1 236 1472A6.5 6.5 0 0 1 227 1476A6.5 6.5 0 0 1 217 1473A6.5 6.5 0 0 1 209 1467A6.5 6.5 0 0 1 205 1457A6.5 6.5 0 0 1 207 1447A6.5 6.5 0 0 1 213 1439A6.5 6.5 0 0 1 221 1433A6.5 6.5 0 0 1 231 1434A6.5 6.5 0 0 1 240 1438A6.5 6.5 0 0 1 246 1446A6.5 6.5 0 0 1 247 1456A6.5 6.5 0 0 1 245 1466ZM439 1482A6.2 6.2 0 0 1 430 1486A6.2 6.2 0 0 1 420 1487A6.2 6.2 0 0 1 412 1482A6.2 6.2 0 0 1 407 1473A6.2 6.2 0 0 1 405 1464A6.2 6.2 0 0 1 409 1454A6.2 6.2 0 0 1 417 1449A6.2 6.2 0 0 1 426 1446A6.2 6.2 0 0 1 436 1448A6.2 6.2 0 0 1 443 1455A6.2 6.2 0 0 1 447 1464A6.2 6.2 0 0 1 444 1474A6.2 6.2 0 0 1 439 1482ZM280 1431A6.3 6.3 0 0 1 271 1435A6.3 6.3 0 0 1 262 1438A6.3 6.3 0 0 1 252 1438A6.3 6.3 0 0 1 243 1433A6.3 6.3 0 0 1 235 1426A6.3 6.3 0 0 1 233 1416A6.3 6.3 0 0 1 233 1406A6.3 6.3 0 0 1 234 1396A6.3 6.3 0 0 1 240 1388A6.3 6.3 0 0 1 250 1384A6.3 6.3 0 0 1 259 1382A6.3 6.3 0 0 1 269 1382A6.3 6.3 0 0 1 278 1386A6.3 6.3 0 0 1 284 1395A6.3 6.3 0 0 1 288 1403A6.3 6.3 0 0 1 290 1413A6.3 6.3 0 0 1 286 1423A6.3 6.3 0 0 1 280 1431ZM506 1492A6.2 6.2 0 0 1 497 1497A6.2 6.2 0 0 1 488 1501A6.2 6.2 0 0 1 479 1500A6.2 6.2 0 0 1 470 1496A6.2 6.2 0 0 1 461 1491A6.2 6.2 0 0 1 459 1481A6.2 6.2 0 0 1 457 1472A6.2 6.2 0 0 1 457 1462A6.2 6.2 0 0 1 464 1455A6.2 6.2 0 0 1 471 1447A6.2 6.2 0 0 1 480 1443A6.2 6.2 0 0 1 490 1445A6.2 6.2 0 0 1 499 1450A6.2 6.2 0 0 1 507 1455A6.2 6.2 0 0 1 512 1464A6.2 6.2 0 0 1 512 1474A6.2 6.2 0 0 1 512 1484A6.2 6.2 0 0 1 506 1492ZM240 1556A6.2 6.2 0 0 1 233 1563A6.2 6.2 0 0 1 224 1567A6.2 6.2 0 0 1 214 1567A6.2 6.2 0 0 1 205 1563A6.2 6.2 0 0 1 198 1557A6.2 6.2 0 0 1 192 1548A6.2 6.2 0 0 1 193 1538A6.2 6.2 0 0 1 196 1529A6.2 6.2 0 0 1 204 1523A6.2 6.2 0 0 1 212 1517A6.2 6.2 0 0 1 222 1518A6.2 6.2 0 0 1 232 1520A6.2 6.2 0 0 1 238 1528A6.2 6.2 0 0 1 243 1537A6.2 6.2 0 0 1 242 1546A6.2 6.2 0 0 1 240 1556ZM489 1533A6.2 6.2 0 0 1 480 1537A6.2 6.2 0 0 1 471 1538A6.2 6.2 0 0 1 462 1534A6.2 6.2 0 0 1 457 1526A6.2 6.2 0 0 1 456 1516A6.2 6.2 0 0 1 461 1508A6.2 6.2 0 0 1 469 1502A6.2 6.2 0 0 1 478 1502A6.2 6.2 0 0 1 488 1506A6.2 6.2 0 0 1 492 1514A6.2 6.2 0 0 1 493 1524A6.2 6.2 0 0 1 489 1533ZM408 1574A6.2 6.2 0 0 1 400 1579A6.2 6.2 0 0 1 391 1580A6.2 6.2 0 0 1 382 1578A6.2 6.2 0 0 1 376 1570A6.2 6.2 0 0 1 374 1560A6.2 6.2 0 0 1 378 1550A6.2 6.2 0 0 1 386 1545A6.2 6.2 0 0 1 396 1544A6.2 6.2 0 0 1 405 1547A6.2 6.2 0 0 1 411 1555A6.2 6.2 0 0 1 412 1565A6.2 6.2 0 0 1 408 1574ZM314 1451A6.1 6.1 0 0 1 306 1456A6.1 6.1 0 0 1 296 1455A6.1 6.1 0 0 1 288 1452A6.1 6.1 0 0 1 282 1444A6.1 6.1 0 0 1 280 1435A6.1 6.1 0 0 1 284 1426A6.1 6.1 0 0 1 291 1420A6.1 6.1 0 0 1 300 1417A6.1 6.1 0 0 1 309 1419A6.1 6.1 0 0 1 316 1425A6.1 6.1 0 0 1 320 1434A6.1 6.1 0 0 1 318 1443A6.1 6.1 0 0 1 314 1451ZM387 1458A6.3 6.3 0 0 1 382 1466A6.3 6.3 0 0 1 374 1471A6.3 6.3 0 0 1 365 1472A6.3 6.3 0 0 1 355 1470A6.3 6.3 0 0 1 349 1462A6.3 6.3 0 0 1 347 1453A6.3 6.3 0 0 1 349 1444A6.3 6.3 0 0 1 356 1437A6.3 6.3 0 0 1 364 1433A6.3 6.3 0 0 1 374 1433A6.3 6.3 0 0 1 383 1438A6.3 6.3 0 0 1 386 1448A6.3 6.3 0 0 1 387 1458ZM195 1550A6.3 6.3 0 0 1 186 1556A6.3 6.3 0 0 1 178 1560A6.3 6.3 0 0 1 168 1563A6.3 6.3 0 0 1 159 1560A6.3 6.3 0 0 1 150 1556A6.3 6.3 0 0 1 143 1548A6.3 6.3 0 0 1 140 1538A6.3 6.3 0 0 1 141 1529A6.3 6.3 0 0 1 144 1519A6.3 6.3 0 0 1 151 1512A6.3 6.3 0 0 1 160 1507A6.3 6.3 0 0 1 170 1505A6.3 6.3 0 0 1 179 1507A6.3 6.3 0 0 1 188 1512A6.3 6.3 0 0 1 195 1520A6.3 6.3 0 0 1 199 1530A6.3 6.3 0 0 1 198 1540A6.3 6.3 0 0 1 195 1550ZM307 1398A6.2 6.2 0 0 1 298 1403A6.2 6.2 0 0 1 288 1403A6.2 6.2 0 0 1 279 1400A6.2 6.2 0 0 1 272 1395A6.2 6.2 0 0 1 266 1387A6.2 6.2 0 0 1 265 1378A6.2 6.2 0 0 1 265 1368A6.2 6.2 0 0 1 273 1361A6.2 6.2 0 0 1 280 1355A6.2 6.2 0 0 1 290 1353A6.2 6.2 0 0 1 300 1355A6.2 6.2 0 0 1 307 1362A6.2 6.2 0 0 1 312 1370A6.2 6.2 0 0 1 315 1379A6.2 6.2 0 0 1 312 1389A6.2 6.2 0 0 1 307 1398ZM425 1537A6.2 6.2 0 0 1 416 1542A6.2 6.2 0 0 1 406 1541A6.2 6.2 0 0 1 396 1541A6.2 6.2 0 0 1 389 1535A6.2 6.2 0 0 1 382 1527A6.2 6.2 0 0 1 380 1518A6.2 6.2 0 0 1 381 1508A6.2 6.2 0 0 1 384 1499A6.2 6.2 0 0 1 392 1493A6.2 6.2 0 0 1 402 1489A6.2 6.2 0 0 1 411 1491A6.2 6.2 0 0 1 420 1494A6.2 6.2 0 0 1 428 1500A6.2 6.2 0 0 1 431 1509A6.2 6.2 0 0 1 432 1518A6.2 6.2 0 0 1 431 1528A6.2 6.2 0 0 1 425 1537ZM369 1429A6.3 6.3 0 0 1 362 1435A6.3 6.3 0 0 1 352 1439A6.3 6.3 0 0 1 342 1438A6.3 6.3 0 0 1 335 1431A6.3 6.3 0 0 1 327 1425A6.3 6.3 0 0 1 325 1415A6.3 6.3 0 0 1 327 1405A6.3 6.3 0 0 1 331 1396A6.3 6.3 0 0 1 339 1390A6.3 6.3 0 0 1 349 1389A6.3 6.3 0 0 1 358 1388A6.3 6.3 0 0 1 367 1394A6.3 6.3 0 0 1 373 1401A6.3 6.3 0 0 1 375 1411A6.3 6.3 0 0 1 375 1421A6.3 6.3 0 0 1 369 1429ZM276 1582A6.4 6.4 0 0 1 270 1590A6.4 6.4 0 0 1 261 1594A6.4 6.4 0 0 1 250 1593A6.4 6.4 0 0 1 241 1588A6.4 6.4 0 0 1 235 1580A6.4 6.4 0 0 1 235 1569A6.4 6.4 0 0 1 236 1559A6.4 6.4 0 0 1 244 1552A6.4 6.4 0 0 1 253 1548A6.4 6.4 0 0 1 263 1550A6.4 6.4 0 0 1 272 1554A6.4 6.4 0 0 1 278 1563A6.4 6.4 0 0 1 278 1572A6.4 6.4 0 0 1 276 1582ZM328 1576A6.3 6.3 0 0 1 322 1585A6.3 6.3 0 0 1 313 1587A6.3 6.3 0 0 1 303 1587A6.3 6.3 0 0 1 294 1582A6.3 6.3 0 0 1 291 1572A6.3 6.3 0 0 1 290 1563A6.3 6.3 0 0 1 295 1554A6.3 6.3 0 0 1 302 1547A6.3 6.3 0 0 1 312 1547A6.3 6.3 0 0 1 322 1550A6.3 6.3 0 0 1 328 1558A6.3 6.3 0 0 1 330 1567A6.3 6.3 0 0 1 328 1576ZM293 1536A6.3 6.3 0 0 1 286 1543A6.3 6.3 0 0 1 276 1544A6.3 6.3 0 0 1 266 1542A6.3 6.3 0 0 1 260 1535A6.3 6.3 0 0 1 256 1525A6.3 6.3 0 0 1 258 1516A6.3 6.3 0 0 1 265 1509A6.3 6.3 0 0 1 273 1505A6.3 6.3 0 0 1 283 1504A6.3 6.3 0 0 1 291 1510A6.3 6.3 0 0 1 297 1517A6.3 6.3 0 0 1 297 1527A6.3 6.3 0 0 1 293 1536ZM372 1541A6.4 6.4 0 0 1 368 1550A6.4 6.4 0 0 1 361 1556A6.4 6.4 0 0 1 350 1556A6.4 6.4 0 0 1 342 1551A6.4 6.4 0 0 1 337 1542A6.4 6.4 0 0 1 339 1533A6.4 6.4 0 0 1 344 1524A6.4 6.4 0 0 1 354 1521A6.4 6.4 0 0 1 363 1524A6.4 6.4 0 0 1 371 1531A6.4 6.4 0 0 1 372 1541ZM309 1491A6.2 6.2 0 0 1 302 1497A6.2 6.2 0 0 1 293 1500A6.2 6.2 0 0 1 284 1498A6.2 6.2 0 0 1 275 1493A6.2 6.2 0 0 1 271 1484A6.2 6.2 0 0 1 270 1475A6.2 6.2 0 0 1 274 1466A6.2 6.2 0 0 1 280 1459A6.2 6.2 0 0 1 290 1456A6.2 6.2 0 0 1 299 1459A6.2 6.2 0 0 1 308 1463A6.2 6.2 0 0 1 312 1472A6.2 6.2 0 0 1 313 1482A6.2 6.2 0 0 1 309 1491ZM435 1434A6.4 6.4 0 0 1 427 1441A6.4 6.4 0 0 1 419 1447A6.4 6.4 0 0 1 409 1448A6.4 6.4 0 0 1 399 1443A6.4 6.4 0 0 1 393 1435A6.4 6.4 0 0 1 390 1426A6.4 6.4 0 0 1 391 1416A6.4 6.4 0 0 1 396 1408A6.4 6.4 0 0 1 403 1402A6.4 6.4 0 0 1 412 1399A6.4 6.4 0 0 1 422 1401A6.4 6.4 0 0 1 431 1406A6.4 6.4 0 0 1 435 1415A6.4 6.4 0 0 1 437 1424A6.4 6.4 0 0 1 435 1434ZM353 1380A6.4 6.4 0 0 1 349 1389A6.4 6.4 0 0 1 343 1397A6.4 6.4 0 0 1 334 1403A6.4 6.4 0 0 1 324 1402A6.4 6.4 0 0 1 315 1399A6.4 6.4 0 0 1 307 1392A6.4 6.4 0 0 1 302 1383A6.4 6.4 0 0 1 303 1373A6.4 6.4 0 0 1 305 1363A6.4 6.4 0 0 1 313 1357A6.4 6.4 0 0 1 321 1353A6.4 6.4 0 0 1 331 1351A6.4 6.4 0 0 1 341 1354A6.4 6.4 0 0 1 349 1360A6.4 6.4 0 0 1 353 1370A6.4 6.4 0 0 1 353 1380ZM218 1515A6.1 6.1 0 0 1 210 1520A6.1 6.1 0 0 1 201 1520A6.1 6.1 0 0 1 193 1515A6.1 6.1 0 0 1 186 1508A6.1 6.1 0 0 1 185 1499A6.1 6.1 0 0 1 187 1490A6.1 6.1 0 0 1 193 1483A6.1 6.1 0 0 1 200 1478A6.1 6.1 0 0 1 210 1478A6.1 6.1 0 0 1 218 1482A6.1 6.1 0 0 1 225 1489A6.1 6.1 0 0 1 227 1499A6.1 6.1 0 0 1 226 1508A6.1 6.1 0 0 1 218 1515ZM459 1572A6.4 6.4 0 0 1 455 1581A6.4 6.4 0 0 1 446 1586A6.4 6.4 0 0 1 436 1585A6.4 6.4 0 0 1 428 1580A6.4 6.4 0 0 1 422 1572A6.4 6.4 0 0 1 421 1562A6.4 6.4 0 0 1 426 1554A6.4 6.4 0 0 1 435 1549A6.4 6.4 0 0 1 445 1548A6.4 6.4 0 0 1 454 1553A6.4 6.4 0 0 1 458 1562A6.4 6.4 0 0 1 459 1572ZM492 1434A6.5 6.5 0 0 1 487 1443A6.5 6.5 0 0 1 478 1448A6.5 6.5 0 0 1 469 1450A6.5 6.5 0 0 1 458 1451A6.5 6.5 0 0 1 451 1444A6.5 6.5 0 0 1 444 1437A6.5 6.5 0 0 1 442 1427A6.5 6.5 0 0 1 443 1417A6.5 6.5 0 0 1 448 1408A6.5 6.5 0 0 1 456 1401A6.5 6.5 0 0 1 466 1399A6.5 6.5 0 0 1 476 1402A6.5 6.5 0 0 1 485 1406A6.5 6.5 0 0 1 491 1414A6.5 6.5 0 0 1 493 1424A6.5 6.5 0 0 1 492 1434ZM386 1502A6.4 6.4 0 0 1 384 1511A6.4 6.4 0 0 1 377 1519A6.4 6.4 0 0 1 368 1523A6.4 6.4 0 0 1 358 1522A6.4 6.4 0 0 1 348 1519A6.4 6.4 0 0 1 342 1511A6.4 6.4 0 0 1 338 1501A6.4 6.4 0 0 1 341 1491A6.4 6.4 0 0 1 345 1482A6.4 6.4 0 0 1 354 1477A6.4 6.4 0 0 1 363 1476A6.4 6.4 0 0 1 374 1477A6.4 6.4 0 0 1 382 1483A6.4 6.4 0 0 1 387 1492A6.4 6.4 0 0 1 386 1502ZM442 1148A6.2 6.2 0 0 1 436 1157A6.2 6.2 0 0 1 427 1162A6.2 6.2 0 0 1 417 1162A6.2 6.2 0 0 1 408 1160A6.2 6.2 0 0 1 400 1154A6.2 6.2 0 0 1 396 1145A6.2 6.2 0 0 1 393 1136A6.2 6.2 0 0 1 396 1126A6.2 6.2 0 0 1 403 1119A6.2 6.2 0 0 1 410 1113A6.2 6.2 0 0 1 420 1113A6.2 6.2 0 0 1 430 1114A6.2 6.2 0 0 1 437 1121A6.2 6.2 0 0 1 442 1129A6.2 6.2 0 0 1 443 1138A6.2 6.2 0 0 1 442 1148ZM333 1147A6.2 6.2 0 0 1 326 1155A6.2 6.2 0 0 1 317 1158A6.2 6.2 0 0 1 308 1156A6.2 6.2 0 0 1 300 1151A6.2 6.2 0 0 1 296 1141A6.2 6.2 0 0 1 299 1132A6.2 6.2 0 0 1 305 1124A6.2 6.2 0 0 1 313 1120A6.2 6.2 0 0 1 323 1122A6.2 6.2 0 0 1 330 1129A6.2 6.2 0 0 1 334 1138A6.2 6.2 0 0 1 333 1147ZM360 1108A6.1 6.1 0 0 1 356 1117A6.1 6.1 0 0 1 347 1121A6.1 6.1 0 0 1 338 1120A6.1 6.1 0 0 1 330 1115A6.1 6.1 0 0 1 326 1106A6.1 6.1 0 0 1 329 1097A6.1 6.1 0 0 1 336 1090A6.1 6.1 0 0 1 345 1088A6.1 6.1 0 0 1 354 1091A6.1 6.1 0 0 1 360 1099A6.1 6.1 0 0 1 360 1108ZM534 1142A6.3 6.3 0 0 1 525 1147A6.3 6.3 0 0 1 516 1146A6.3 6.3 0 0 1 507 1142A6.3 6.3 0 0 1 501 1134A6.3 6.3 0 0 1 500 1124A6.3 6.3 0 0 1 504 1115A6.3 6.3 0 0 1 511 1108A6.3 6.3 0 0 1 522 1107A6.3 6.3 0 0 1 531 1109A6.3 6.3 0 0 1 539 1115A6.3 6.3 0 0 1 542 1125A6.3 6.3 0 0 1 540 1135A6.3 6.3 0 0 1 534 1142ZM379 1171A6.1 6.1 0 0 1 374 1179A6.1 6.1 0 0 1 367 1186A6.1 6.1 0 0 1 358 1189A6.1 6.1 0 0 1 348 1188A6.1 6.1 0 0 1 339 1185A6.1 6.1 0 0 1 333 1177A6.1 6.1 0 0 1 331 1168A6.1 6.1 0 0 1 330 1158A6.1 6.1 0 0 1 334 1149A6.1 6.1 0 0 1 342 1143A6.1 6.1 0 0 1 351 1140A6.1 6.1 0 0 1 360 1141A6.1 6.1 0 0 1 369 1144A6.1 6.1 0 0 1 375 1152A6.1 6.1 0 0 1 378 1161A6.1 6.1 0 0 1 379 1171ZM445 1090A6.4 6.4 0 0 1 436 1095A6.4 6.4 0 0 1 426 1094A6.4 6.4 0 0 1 417 1090A6.4 6.4 0 0 1 412 1082A6.4 6.4 0 0 1 409 1072A6.4 6.4 0 0 1 412 1062A6.4 6.4 0 0 1 419 1056A6.4 6.4 0 0 1 428 1051A6.4 6.4 0 0 1 438 1052A6.4 6.4 0 0 1 446 1057A6.4 6.4 0 0 1 452 1064A6.4 6.4 0 0 1 454 1074A6.4 6.4 0 0 1 451 1083A6.4 6.4 0 0 1 445 1090ZM401 1055A6.5 6.5 0 0 1 398 1064A6.5 6.5 0 0 1 391 1071A6.5 6.5 0 0 1 382 1076A6.5 6.5 0 0 1 372 1074A6.5 6.5 0 0 1 362 1070A6.5 6.5 0 0 1 358 1060A6.5 6.5 0 0 1 355 1050A6.5 6.5 0 0 1 360 1041A6.5 6.5 0 0 1 367 1034A6.5 6.5 0 0 1 375 1029A6.5 6.5 0 0 1 386 1030A6.5 6.5 0 0 1 394 1036A6.5 6.5 0 0 1 400 1044A6.5 6.5 0 0 1 401 1055ZM562 1084A6.4 6.4 0 0 1 557 1094A6.4 6.4 0 0 1 552 1103A6.4 6.4 0 0 1 542 1106A6.4 6.4 0 0 1 532 1109A6.4 6.4 0 0 1 522 1108A6.4 6.4 0 0 1 514 1103A6.4 6.4 0 0 1 506 1097A6.4 6.4 0 0 1 504 1086A6.4 6.4 0 0 1 503 1077A6.4 6.4 0 0 1 506 1067A6.4 6.4 0 0 1 511 1058A6.4 6.4 0 0 1 521 1054A6.4 6.4 0 0 1 530 1052A6.4 6.4 0 0 1 540 1054A6.4 6.4 0 0 1 549 1058A6.4 6.4 0 0 1 555 1065A6.4 6.4 0 0 1 559 1074A6.4 6.4 0 0 1 562 1084ZM480 1152A6.2 6.2 0 0 1 472 1157A6.2 6.2 0 0 1 462 1158A6.2 6.2 0 0 1 453 1153A6.2 6.2 0 0 1 450 1144A6.2 6.2 0 0 1 451 1134A6.2 6.2 0 0 1 457 1127A6.2 6.2 0 0 1 466 1123A6.2 6.2 0 0 1 475 1125A6.2 6.2 0 0 1 481 1133A6.2 6.2 0 0 1 483 1142A6.2 6.2 0 0 1 480 1152ZM410 1123A6.4 6.4 0 0 1 403 1130A6.4 6.4 0 0 1 393 1135A6.4 6.4 0 0 1 383 1135A6.4 6.4 0 0 1 375 1129A6.4 6.4 0 0 1 368 1122A6.4 6.4 0 0 1 365 1113A6.4 6.4 0 0 1 367 1103A6.4 6.4 0 0 1 371 1094A6.4 6.4 0 0 1 379 1088A6.4 6.4 0 0 1 389 1088A6.4 6.4 0 0 1 399 1089A6.4 6.4 0 0 1 408 1094A6.4 6.4 0 0 1 413 1103A6.4 6.4 0 0 1 412 1113A6.4 6.4 0 0 1 410 1123ZM355 1054A6.3 6.3 0 0 1 349 1062A6.3 6.3 0 0 1 341 1067A6.3 6.3 0 0 1 331 1067A6.3 6.3 0 0 1 322 1062A6.3 6.3 0 0 1 316 1054A6.3 6.3 0 0 1 316 1044A6.3 6.3 0 0 1 320 1035A6.3 6.3 0 0 1 327 1029A6.3 6.3 0 0 1 337 1026A6.3 6.3 0 0 1 346 1029A6.3 6.3 0 0 1 354 1035A6.3 6.3 0 0 1 356 1044A6.3 6.3 0 0 1 355 1054ZM337 1079A6.5 6.5 0 0 1 334 1089A6.5 6.5 0 0 1 326 1095A6.5 6.5 0 0 1 316 1097A6.5 6.5 0 0 1 306 1093A6.5 6.5 0 0 1 300 1084A6.5 6.5 0 0 1 302 1073A6.5 6.5 0 0 1 306 1065A6.5 6.5 0 0 1 316 1061A6.5 6.5 0 0 1 326 1062A6.5 6.5 0 0 1 334 1069A6.5 6.5 0 0 1 337 1079ZM477 1059A6.4 6.4 0 0 1 470 1066A6.4 6.4 0 0 1 460 1069A6.4 6.4 0 0 1 450 1065A6.4 6.4 0 0 1 442 1059A6.4 6.4 0 0 1 437 1050A6.4 6.4 0 0 1 438 1040A6.4 6.4 0 0 1 442 1032A6.4 6.4 0 0 1 450 1026A6.4 6.4 0 0 1 460 1022A6.4 6.4 0 0 1 469 1026A6.4 6.4 0 0 1 477 1032A6.4 6.4 0 0 1 482 1040A6.4 6.4 0 0 1 482 1050A6.4 6.4 0 0 1 477 1059ZM643 1287A6.4 6.4 0 0 1 638 1296A6.4 6.4 0 0 1 629 1299A6.4 6.4 0 0 1 619 1300A6.4 6.4 0 0 1 609 1297A6.4 6.4 0 0 1 604 1288A6.4 6.4 0 0 1 602 1279A6.4 6.4 0 0 1 603 1269A6.4 6.4 0 0 1 609 1261A6.4 6.4 0 0 1 618 1256A6.4 6.4 0 0 1 628 1256A6.4 6.4 0 0 1 637 1260A6.4 6.4 0 0 1 643 1269A6.4 6.4 0 0 1 647 1278A6.4 6.4 0 0 1 643 1287ZM608 1372A6.3 6.3 0 0 1 601 1380A6.3 6.3 0 0 1 592 1384A6.3 6.3 0 0 1 582 1387A6.3 6.3 0 0 1 573 1383A6.3 6.3 0 0 1 564 1379A6.3 6.3 0 0 1 557 1372A6.3 6.3 0 0 1 553 1362A6.3 6.3 0 0 1 556 1352A6.3 6.3 0 0 1 557 1342A6.3 6.3 0 0 1 565 1335A6.3 6.3 0 0 1 574 1331A6.3 6.3 0 0 1 583 1328A6.3 6.3 0 0 1 593 1332A6.3 6.3 0 0 1 601 1336A6.3 6.3 0 0 1 607 1344A6.3 6.3 0 0 1 610 1353A6.3 6.3 0 0 1 612 1363A6.3 6.3 0 0 1 608 1372ZM811 1383A6.3 6.3 0 0 1 802 1389A6.3 6.3 0 0 1 792 1390A6.3 6.3 0 0 1 783 1387A6.3 6.3 0 0 1 774 1382A6.3 6.3 0 0 1 772 1372A6.3 6.3 0 0 1 772 1362A6.3 6.3 0 0 1 777 1354A6.3 6.3 0 0 1 785 1348A6.3 6.3 0 0 1 794 1346A6.3 6.3 0 0 1 804 1347A6.3 6.3 0 0 1 812 1354A6.3 6.3 0 0 1 816 1364A6.3 6.3 0 0 1 815 1374A6.3 6.3 0 0 1 811 1383ZM723 1305A6.4 6.4 0 0 1 714 1308A6.4 6.4 0 0 1 704 1310A6.4 6.4 0 0 1 695 1305A6.4 6.4 0 0 1 687 1299A6.4 6.4 0 0 1 684 1290A6.4 6.4 0 0 1 681 1280A6.4 6.4 0 0 1 683 1270A6.4 6.4 0 0 1 690 1263A6.4 6.4 0 0 1 698 1256A6.4 6.4 0 0 1 708 1255A6.4 6.4 0 0 1 718 1256A6.4 6.4 0 0 1 726 1263A6.4 6.4 0 0 1 732 1270A6.4 6.4 0 0 1 736 1279A6.4 6.4 0 0 1 735 1289A6.4 6.4 0 0 1 731 1298A6.4 6.4 0 0 1 723 1305ZM653 1341A6.4 6.4 0 0 1 645 1348A6.4 6.4 0 0 1 635 1351A6.4 6.4 0 0 1 626 1347A6.4 6.4 0 0 1 619 1340A6.4 6.4 0 0 1 615 1330A6.4 6.4 0 0 1 619 1321A6.4 6.4 0 0 1 626 1314A6.4 6.4 0 0 1 635 1311A6.4 6.4 0 0 1 645 1314A6.4 6.4 0 0 1 652 1321A6.4 6.4 0 0 1 655 1331A6.4 6.4 0 0 1 653 1341ZM764 1405A6.2 6.2 0 0 1 762 1414A6.2 6.2 0 0 1 756 1421A6.2 6.2 0 0 1 748 1427A6.2 6.2 0 0 1 738 1427A6.2 6.2 0 0 1 729 1426A6.2 6.2 0 0 1 722 1420A6.2 6.2 0 0 1 715 1412A6.2 6.2 0 0 1 714 1403A6.2 6.2 0 0 1 718 1394A6.2 6.2 0 0 1 722 1385A6.2 6.2 0 0 1 730 1379A6.2 6.2 0 0 1 740 1379A6.2 6.2 0 0 1 749 1382A6.2 6.2 0 0 1 757 1387A6.2 6.2 0 0 1 763 1395A6.2 6.2 0 0 1 764 1405ZM816 1437A6.1 6.1 0 0 1 812 1445A6.1 6.1 0 0 1 804 1450A6.1 6.1 0 0 1 795 1449A6.1 6.1 0 0 1 787 1444A6.1 6.1 0 0 1 784 1435A6.1 6.1 0 0 1 785 1425A6.1 6.1 0 0 1 792 1419A6.1 6.1 0 0 1 802 1416A6.1 6.1 0 0 1 810 1421A6.1 6.1 0 0 1 816 1428A6.1 6.1 0 0 1 816 1437ZM747 1337A6.2 6.2 0 0 1 743 1346A6.2 6.2 0 0 1 735 1351A6.2 6.2 0 0 1 725 1352A6.2 6.2 0 0 1 717 1346A6.2 6.2 0 0 1 710 1339A6.2 6.2 0 0 1 711 1329A6.2 6.2 0 0 1 715 1320A6.2 6.2 0 0 1 723 1315A6.2 6.2 0 0 1 733 1315A6.2 6.2 0 0 1 741 1320A6.2 6.2 0 0 1 747 1327A6.2 6.2 0 0 1 747 1337ZM706 1422A6.2 6.2 0 0 1 697 1427A6.2 6.2 0 0 1 688 1427A6.2 6.2 0 0 1 680 1421A6.2 6.2 0 0 1 673 1414A6.2 6.2 0 0 1 672 1405A6.2 6.2 0 0 1 674 1396A6.2 6.2 0 0 1 680 1387A6.2 6.2 0 0 1 689 1383A6.2 6.2 0 0 1 699 1385A6.2 6.2 0 0 1 707 1389A6.2 6.2 0 0 1 713 1397A6.2 6.2 0 0 1 715 1406A6.2 6.2 0 0 1 712 1415A6.2 6.2 0 0 1 706 1422ZM570 1310A6.1 6.1 0 0 1 562 1316A6.1 6.1 0 0 1 553 1315A6.1 6.1 0 0 1 544 1314A6.1 6.1 0 0 1 536 1308A6.1 6.1 0 0 1 532 1299A6.1 6.1 0 0 1 530 1290A6.1 6.1 0 0 1 532 1281A6.1 6.1 0 0 1 538 1273A6.1 6.1 0 0 1 547 1270A6.1 6.1 0 0 1 556 1267A6.1 6.1 0 0 1 565 1271A6.1 6.1 0 0 1 573 1276A6.1 6.1 0 0 1 577 1285A6.1 6.1 0 0 1 578 1294A6.1 6.1 0 0 1 576 1303A6.1 6.1 0 0 1 570 1310ZM691 1383A6.2 6.2 0 0 1 688 1393A6.2 6.2 0 0 1 680 1399A6.2 6.2 0 0 1 671 1404A6.2 6.2 0 0 1 661 1405A6.2 6.2 0 0 1 652 1401A6.2 6.2 0 0 1 644 1395A6.2 6.2 0 0 1 638 1387A6.2 6.2 0 0 1 638 1377A6.2 6.2 0 0 1 638 1368A6.2 6.2 0 0 1 642 1359A6.2 6.2 0 0 1 649 1352A6.2 6.2 0 0 1 658 1348A6.2 6.2 0 0 1 668 1347A6.2 6.2 0 0 1 677 1352A6.2 6.2 0 0 1 685 1356A6.2 6.2 0 0 1 689 1365A6.2 6.2 0 0 1 694 1374A6.2 6.2 0 0 1 691 1383ZM786 1301A6.3 6.3 0 0 1 780 1308A6.3 6.3 0 0 1 770 1311A6.3 6.3 0 0 1 761 1308A6.3 6.3 0 0 1 753 1303A6.3 6.3 0 0 1 749 1294A6.3 6.3 0 0 1 748 1285A6.3 6.3 0 0 1 752 1275A6.3 6.3 0 0 1 759 1269A6.3 6.3 0 0 1 769 1266A6.3 6.3 0 0 1 779 1268A6.3 6.3 0 0 1 787 1274A6.3 6.3 0 0 1 790 1283A6.3 6.3 0 0 1 790 1293A6.3 6.3 0 0 1 786 1301ZM824 1339A6.1 6.1 0 0 1 818 1346A6.1 6.1 0 0 1 811 1352A6.1 6.1 0 0 1 801 1352A6.1 6.1 0 0 1 792 1352A6.1 6.1 0 0 1 784 1347A6.1 6.1 0 0 1 776 1340A6.1 6.1 0 0 1 772 1332A6.1 6.1 0 0 1 770 1322A6.1 6.1 0 0 1 772 1312A6.1 6.1 0 0 1 777 1304A6.1 6.1 0 0 1 786 1298A6.1 6.1 0 0 1 795 1297A6.1 6.1 0 0 1 805 1294A6.1 6.1 0 0 1 813 1299A6.1 6.1 0 0 1 822 1303A6.1 6.1 0 0 1 827 1311A6.1 6.1 0 0 1 829 1321A6.1 6.1 0 0 1 830 1331A6.1 6.1 0 0 1 824 1339ZM626 1323A6.2 6.2 0 0 1 619 1331A6.2 6.2 0 0 1 610 1335A6.2 6.2 0 0 1 600 1337A6.2 6.2 0 0 1 591 1334A6.2 6.2 0 0 1 583 1329A6.2 6.2 0 0 1 578 1320A6.2 6.2 0 0 1 575 1311A6.2 6.2 0 0 1 575 1301A6.2 6.2 0 0 1 581 1293A6.2 6.2 0 0 1 589 1288A6.2 6.2 0 0 1 598 1283A6.2 6.2 0 0 1 608 1284A6.2 6.2 0 0 1 617 1287A6.2 6.2 0 0 1 624 1295A6.2 6.2 0 0 1 628 1304A6.2 6.2 0 0 1 629 1314A6.2 6.2 0 0 1 626 1323ZM737 1379A6.4 6.4 0 0 1 735 1388A6.4 6.4 0 0 1 727 1394A6.4 6.4 0 0 1 717 1397A6.4 6.4 0 0 1 707 1398A6.4 6.4 0 0 1 699 1391A6.4 6.4 0 0 1 692 1384A6.4 6.4 0 0 1 690 1374A6.4 6.4 0 0 1 692 1363A6.4 6.4 0 0 1 699 1356A6.4 6.4 0 0 1 707 1351A6.4 6.4 0 0 1 717 1351A6.4 6.4 0 0 1 727 1353A6.4 6.4 0 0 1 734 1360A6.4 6.4 0 0 1 737 1369A6.4 6.4 0 0 1 737 1379ZM1124 1149A6.2 6.2 0 0 1 1120 1158A6.2 6.2 0 0 1 1111 1162A6.2 6.2 0 0 1 1101 1164A6.2 6.2 0 0 1 1091 1163A6.2 6.2 0 0 1 1083 1157A6.2 6.2 0 0 1 1077 1150A6.2 6.2 0 0 1 1075 1140A6.2 6.2 0 0 1 1075 1130A6.2 6.2 0 0 1 1080 1122A6.2 6.2 0 0 1 1087 1115A6.2 6.2 0 0 1 1096 1111A6.2 6.2 0 0 1 1106 1111A6.2 6.2 0 0 1 1115 1116A6.2 6.2 0 0 1 1123 1122A6.2 6.2 0 0 1 1126 1131A6.2 6.2 0 0 1 1126 1140A6.2 6.2 0 0 1 1124 1149ZM1024 1178A6.4 6.4 0 0 1 1023 1188A6.4 6.4 0 0 1 1016 1195A6.4 6.4 0 0 1 1008 1200A6.4 6.4 0 0 1 998 1202A6.4 6.4 0 0 1 989 1198A6.4 6.4 0 0 1 980 1194A6.4 6.4 0 0 1 975 1185A6.4 6.4 0 0 1 974 1175A6.4 6.4 0 0 1 977 1165A6.4 6.4 0 0 1 983 1157A6.4 6.4 0 0 1 992 1153A6.4 6.4 0 0 1 1002 1150A6.4 6.4 0 0 1 1012 1152A6.4 6.4 0 0 1 1019 1160A6.4 6.4 0 0 1 1024 1168A6.4 6.4 0 0 1 1024 1178ZM1132 1066A6.3 6.3 0 0 1 1126 1074A6.3 6.3 0 0 1 1117 1078A6.3 6.3 0 0 1 1107 1079A6.3 6.3 0 0 1 1098 1078A6.3 6.3 0 0 1 1089 1072A6.3 6.3 0 0 1 1084 1063A6.3 6.3 0 0 1 1085 1053A6.3 6.3 0 0 1 1086 1044A6.3 6.3 0 0 1 1092 1035A6.3 6.3 0 0 1 1101 1031A6.3 6.3 0 0 1 1111 1029A6.3 6.3 0 0 1 1120 1033A6.3 6.3 0 0 1 1128 1038A6.3 6.3 0 0 1 1132 1047A6.3 6.3 0 0 1 1134 1056A6.3 6.3 0 0 1 1132 1066ZM1058 1245A6.2 6.2 0 0 1 1051 1253A6.2 6.2 0 0 1 1042 1257A6.2 6.2 0 0 1 1032 1256A6.2 6.2 0 0 1 1023 1252A6.2 6.2 0 0 1 1017 1245A6.2 6.2 0 0 1 1013 1236A6.2 6.2 0 0 1 1016 1227A6.2 6.2 0 0 1 1020 1218A6.2 6.2 0 0 1 1027 1211A6.2 6.2 0 0 1 1037 1210A6.2 6.2 0 0 1 1046 1212A6.2 6.2 0 0 1 1054 1218A6.2 6.2 0 0 1 1059 1226A6.2 6.2 0 0 1 1060 1236A6.2 6.2 0 0 1 1058 1245ZM940 1236A6.3 6.3 0 0 1 937 1245A6.3 6.3 0 0 1 931 1253A6.3 6.3 0 0 1 924 1260A6.3 6.3 0 0 1 914 1261A6.3 6.3 0 0 1 904 1258A6.3 6.3 0 0 1 896 1254A6.3 6.3 0 0 1 889 1247A6.3 6.3 0 0 1 886 1237A6.3 6.3 0 0 1 888 1227A6.3 6.3 0 0 1 891 1218A6.3 6.3 0 0 1 899 1211A6.3 6.3 0 0 1 908 1206A6.3 6.3 0 0 1 918 1206A6.3 6.3 0 0 1 927 1211A6.3 6.3 0 0 1 934 1217A6.3 6.3 0 0 1 938 1226A6.3 6.3 0 0 1 940 1236ZM1032 1066A6.2 6.2 0 0 1 1024 1071A6.2 6.2 0 0 1 1015 1071A6.2 6.2 0 0 1 1005 1068A6.2 6.2 0 0 1 999 1061A6.2 6.2 0 0 1 997 1051A6.2 6.2 0 0 1 1001 1042A6.2 6.2 0 0 1 1007 1035A6.2 6.2 0 0 1 1016 1032A6.2 6.2 0 0 1 1026 1034A6.2 6.2 0 0 1 1034 1039A6.2 6.2 0 0 1 1038 1048A6.2 6.2 0 0 1 1038 1058A6.2 6.2 0 0 1 1032 1066ZM999 1254A6.1 6.1 0 0 1 997 1264A6.1 6.1 0 0 1 991 1272A6.1 6.1 0 0 1 981 1274A6.1 6.1 0 0 1 972 1276A6.1 6.1 0 0 1 962 1274A6.1 6.1 0 0 1 954 1269A6.1 6.1 0 0 1 949 1260A6.1 6.1 0 0 1 945 1251A6.1 6.1 0 0 1 946 1241A6.1 6.1 0 0 1 950 1232A6.1 6.1 0 0 1 958 1226A6.1 6.1 0 0 1 966 1223A6.1 6.1 0 0 1 976 1222A6.1 6.1 0 0 1 985 1223A6.1 6.1 0 0 1 994 1227A6.1 6.1 0 0 1 999 1236A6.1 6.1 0 0 1 1002 1245A6.1 6.1 0 0 1 999 1254ZM978 1232A6.3 6.3 0 0 1 969 1236A6.3 6.3 0 0 1 959 1237A6.3 6.3 0 0 1 950 1234A6.3 6.3 0 0 1 941 1229A6.3 6.3 0 0 1 935 1221A6.3 6.3 0 0 1 933 1211A6.3 6.3 0 0 1 935 1202A6.3 6.3 0 0 1 937 1192A6.3 6.3 0 0 1 945 1186A6.3 6.3 0 0 1 954 1182A6.3 6.3 0 0 1 963 1182A6.3 6.3 0 0 1 973 1182A6.3 6.3 0 0 1 980 1189A6.3 6.3 0 0 1 986 1197A6.3 6.3 0 0 1 988 1206A6.3 6.3 0 0 1 988 1216A6.3 6.3 0 0 1 984 1224A6.3 6.3 0 0 1 978 1232ZM1085 1169A6.2 6.2 0 0 1 1078 1175A6.2 6.2 0 0 1 1069 1178A6.2 6.2 0 0 1 1059 1175A6.2 6.2 0 0 1 1050 1171A6.2 6.2 0 0 1 1047 1162A6.2 6.2 0 0 1 1043 1153A6.2 6.2 0 0 1 1046 1143A6.2 6.2 0 0 1 1052 1136A6.2 6.2 0 0 1 1061 1131A6.2 6.2 0 0 1 1071 1131A6.2 6.2 0 0 1 1079 1135A6.2 6.2 0 0 1 1087 1141A6.2 6.2 0 0 1 1091 1150A6.2 6.2 0 0 1 1090 1160A6.2 6.2 0 0 1 1085 1169ZM937 1130A6.1 6.1 0 0 1 934 1139A6.1 6.1 0 0 1 928 1147A6.1 6.1 0 0 1 919 1152A6.1 6.1 0 0 1 910 1153A6.1 6.1 0 0 1 901 1154A6.1 6.1 0 0 1 892 1148A6.1 6.1 0 0 1 887 1140A6.1 6.1 0 0 1 882 1132A6.1 6.1 0 0 1 885 1122A6.1 6.1 0 0 1 888 1114A6.1 6.1 0 0 1 895 1107A6.1 6.1 0 0 1 904 1103A6.1 6.1 0 0 1 913 1102A6.1 6.1 0 0 1 922 1106A6.1 6.1 0 0 1 930 1111A6.1 6.1 0 0 1 935 1120A6.1 6.1 0 0 1 937 1130ZM917 1201A6.2 6.2 0 0 1 914 1210A6.2 6.2 0 0 1 906 1215A6.2 6.2 0 0 1 897 1219A6.2 6.2 0 0 1 887 1216A6.2 6.2 0 0 1 881 1209A6.2 6.2 0 0 1 878 1200A6.2 6.2 0 0 1 879 1190A6.2 6.2 0 0 1 885 1183A6.2 6.2 0 0 1 893 1179A6.2 6.2 0 0 1 903 1178A6.2 6.2 0 0 1 912 1183A6.2 6.2 0 0 1 917 1191A6.2 6.2 0 0 1 917 1201ZM1082 1205A6.4 6.4 0 0 1 1078 1214A6.4 6.4 0 0 1 1070 1220A6.4 6.4 0 0 1 1062 1226A6.4 6.4 0 0 1 1051 1226A6.4 6.4 0 0 1 1042 1223A6.4 6.4 0 0 1 1033 1218A6.4 6.4 0 0 1 1027 1209A6.4 6.4 0 0 1 1027 1199A6.4 6.4 0 0 1 1027 1188A6.4 6.4 0 0 1 1033 1180A6.4 6.4 0 0 1 1038 1172A6.4 6.4 0 0 1 1048 1169A6.4 6.4 0 0 1 1058 1168A6.4 6.4 0 0 1 1068 1171A6.4 6.4 0 0 1 1077 1176A6.4 6.4 0 0 1 1082 1185A6.4 6.4 0 0 1 1085 1195A6.4 6.4 0 0 1 1082 1205ZM1172 1241A6.3 6.3 0 0 1 1169 1250A6.3 6.3 0 0 1 1161 1256A6.3 6.3 0 0 1 1152 1261A6.3 6.3 0 0 1 1142 1261A6.3 6.3 0 0 1 1133 1258A6.3 6.3 0 0 1 1127 1250A6.3 6.3 0 0 1 1122 1242A6.3 6.3 0 0 1 1121 1232A6.3 6.3 0 0 1 1122 1222A6.3 6.3 0 0 1 1129 1215A6.3 6.3 0 0 1 1138 1211A6.3 6.3 0 0 1 1147 1207A6.3 6.3 0 0 1 1157 1209A6.3 6.3 0 0 1 1165 1214A6.3 6.3 0 0 1 1170 1223A6.3 6.3 0 0 1 1173 1232A6.3 6.3 0 0 1 1172 1241ZM1114 1266A6.2 6.2 0 0 1 1110 1275A6.2 6.2 0 0 1 1102 1280A6.2 6.2 0 0 1 1092 1281A6.2 6.2 0 0 1 1083 1278A6.2 6.2 0 0 1 1079 1269A6.2 6.2 0 0 1 1078 1260A6.2 6.2 0 0 1 1081 1251A6.2 6.2 0 0 1 1090 1246A6.2 6.2 0 0 1 1099 1244A6.2 6.2 0 0 1 1108 1248A6.2 6.2 0 0 1 1113 1257A6.2 6.2 0 0 1 1114 1266ZM1054 1127A6.3 6.3 0 0 1 1052 1136A6.3 6.3 0 0 1 1043 1142A6.3 6.3 0 0 1 1033 1144A6.3 6.3 0 0 1 1025 1138A6.3 6.3 0 0 1 1021 1130A6.3 6.3 0 0 1 1020 1120A6.3 6.3 0 0 1 1026 1112A6.3 6.3 0 0 1 1035 1108A6.3 6.3 0 0 1 1045 1111A6.3 6.3 0 0 1 1053 1117A6.3 6.3 0 0 1 1054 1127ZM1105 1195A6 6 0 0 1 1097 1199A6 6 0 0 1 1088 1200A6 6 0 0 1 1080 1195A6 6 0 0 1 1076 1186A6 6 0 0 1 1077 1177A6 6 0 0 1 1084 1170A6 6 0 0 1 1092 1167A6 6 0 0 1 1102 1169A6 6 0 0 1 1107 1177A6 6 0 0 1 1109 1186A6 6 0 0 1 1105 1195ZM1074 1056A6.5 6.5 0 0 1 1068 1064A6.5 6.5 0 0 1 1059 1068A6.5 6.5 0 0 1 1048 1068A6.5 6.5 0 0 1 1040 1062A6.5 6.5 0 0 1 1037 1052A6.5 6.5 0 0 1 1037 1042A6.5 6.5 0 0 1 1044 1034A6.5 6.5 0 0 1 1053 1029A6.5 6.5 0 0 1 1063 1031A6.5 6.5 0 0 1 1072 1037A6.5 6.5 0 0 1 1076 1046A6.5 6.5 0 0 1 1074 1056ZM1147 1108A6.5 6.5 0 0 1 1140 1116A6.5 6.5 0 0 1 1131 1120A6.5 6.5 0 0 1 1121 1118A6.5 6.5 0 0 1 1112 1113A6.5 6.5 0 0 1 1107 1104A6.5 6.5 0 0 1 1106 1094A6.5 6.5 0 0 1 1111 1085A6.5 6.5 0 0 1 1120 1079A6.5 6.5 0 0 1 1130 1078A6.5 6.5 0 0 1 1140 1080A6.5 6.5 0 0 1 1146 1089A6.5 6.5 0 0 1 1150 1098A6.5 6.5 0 0 1 1147 1108ZM977 1151A6.3 6.3 0 0 1 969 1157A6.3 6.3 0 0 1 960 1162A6.3 6.3 0 0 1 951 1160A6.3 6.3 0 0 1 942 1156A6.3 6.3 0 0 1 935 1148A6.3 6.3 0 0 1 933 1138A6.3 6.3 0 0 1 936 1129A6.3 6.3 0 0 1 942 1121A6.3 6.3 0 0 1 949 1115A6.3 6.3 0 0 1 959 1115A6.3 6.3 0 0 1 968 1118A6.3 6.3 0 0 1 976 1123A6.3 6.3 0 0 1 979 1132A6.3 6.3 0 0 1 979 1142A6.3 6.3 0 0 1 977 1151ZM1044 1096A6.4 6.4 0 0 1 1040 1105A6.4 6.4 0 0 1 1032 1111A6.4 6.4 0 0 1 1022 1113A6.4 6.4 0 0 1 1013 1108A6.4 6.4 0 0 1 1006 1101A6.4 6.4 0 0 1 1004 1091A6.4 6.4 0 0 1 1007 1081A6.4 6.4 0 0 1 1013 1073A6.4 6.4 0 0 1 1023 1071A6.4 6.4 0 0 1 1032 1072A6.4 6.4 0 0 1 1040 1078A6.4 6.4 0 0 1 1045 1087A6.4 6.4 0 0 1 1044 1096ZM1081 1088A6.4 6.4 0 0 1 1078 1097A6.4 6.4 0 0 1 1070 1104A6.4 6.4 0 0 1 1060 1105A6.4 6.4 0 0 1 1051 1101A6.4 6.4 0 0 1 1047 1092A6.4 6.4 0 0 1 1046 1082A6.4 6.4 0 0 1 1052 1074A6.4 6.4 0 0 1 1061 1069A6.4 6.4 0 0 1 1071 1071A6.4 6.4 0 0 1 1078 1078A6.4 6.4 0 0 1 1081 1088ZM888 1189A6.3 6.3 0 0 1 880 1194A6.3 6.3 0 0 1 870 1195A6.3 6.3 0 0 1 860 1194A6.3 6.3 0 0 1 852 1187A6.3 6.3 0 0 1 845 1180A6.3 6.3 0 0 1 842 1171A6.3 6.3 0 0 1 845 1161A6.3 6.3 0 0 1 849 1152A6.3 6.3 0 0 1 856 1145A6.3 6.3 0 0 1 865 1141A6.3 6.3 0 0 1 875 1141A6.3 6.3 0 0 1 885 1144A6.3 6.3 0 0 1 891 1152A6.3 6.3 0 0 1 897 1160A6.3 6.3 0 0 1 898 1171A6.3 6.3 0 0 1 894 1180A6.3 6.3 0 0 1 888 1189ZM1211 1521A6.3 6.3 0 0 1 1205 1528A6.3 6.3 0 0 1 1196 1531A6.3 6.3 0 0 1 1187 1527A6.3 6.3 0 0 1 1183 1519A6.3 6.3 0 0 1 1185 1510A6.3 6.3 0 0 1 1193 1504A6.3 6.3 0 0 1 1202 1504A6.3 6.3 0 0 1 1210 1511A6.3 6.3 0 0 1 1211 1521ZM1242 1525A6 6 0 0 1 1235 1531A6 6 0 0 1 1226 1532A6 6 0 0 1 1219 1526A6 6 0 0 1 1217 1517A6 6 0 0 1 1221 1509A6 6 0 0 1 1229 1504A6 6 0 0 1 1238 1508A6 6 0 0 1 1243 1516A6 6 0 0 1 1242 1525ZM1275 1530A6.3 6.3 0 0 1 1267 1535A6.3 6.3 0 0 1 1257 1533A6.3 6.3 0 0 1 1251 1526A6.3 6.3 0 0 1 1251 1516A6.3 6.3 0 0 1 1257 1509A6.3 6.3 0 0 1 1266 1507A6.3 6.3 0 0 1 1275 1512A6.3 6.3 0 0 1 1279 1520A6.3 6.3 0 0 1 1275 1530ZM1310 1532A6.6 6.6 0 0 1 1301 1537A6.6 6.6 0 0 1 1291 1536A6.6 6.6 0 0 1 1284 1528A6.6 6.6 0 0 1 1284 1518A6.6 6.6 0 0 1 1290 1510A6.6 6.6 0 0 1 1300 1507A6.6 6.6 0 0 1 1309 1513A6.6 6.6 0 0 1 1313 1522A6.6 6.6 0 0 1 1310 1532ZM1347 1528A6 6 0 0 1 1343 1536A6 6 0 0 1 1335 1540A6 6 0 0 1 1326 1537A6 6 0 0 1 1319 1531A6 6 0 0 1 1318 1522A6 6 0 0 1 1322 1513A6 6 0 0 1 1331 1509A6 6 0 0 1 1341 1511A6 6 0 0 1 1347 1519A6 6 0 0 1 1347 1528ZM1374 1539A6.2 6.2 0 0 1 1365 1542A6.2 6.2 0 0 1 1356 1538A6.2 6.2 0 0 1 1349 1531A6.2 6.2 0 0 1 1350 1522A6.2 6.2 0 0 1 1355 1514A6.2 6.2 0 0 1 1364 1511A6.2 6.2 0 0 1 1374 1513A6.2 6.2 0 0 1 1379 1521A6.2 6.2 0 0 1 1379 1530A6.2 6.2 0 0 1 1374 1539ZM1410 1536A6.4 6.4 0 0 1 1402 1542A6.4 6.4 0 0 1 1392 1541A6.4 6.4 0 0 1 1385 1534A6.4 6.4 0 0 1 1385 1523A6.4 6.4 0 0 1 1391 1515A6.4 6.4 0 0 1 1401 1513A6.4 6.4 0 0 1 1409 1519A6.4 6.4 0 0 1 1414 1527A6.4 6.4 0 0 1 1410 1536ZM1442 1540A6.4 6.4 0 0 1 1433 1545A6.4 6.4 0 0 1 1423 1543A6.4 6.4 0 0 1 1417 1535A6.4 6.4 0 0 1 1418 1525A6.4 6.4 0 0 1 1424 1517A6.4 6.4 0 0 1 1434 1517A6.4 6.4 0 0 1 1443 1521A6.4 6.4 0 0 1 1446 1531A6.4 6.4 0 0 1 1442 1540ZM1480 1539A6 6 0 0 1 1473 1545A6 6 0 0 1 1464 1546A6 6 0 0 1 1456 1540A6 6 0 0 1 1453 1532A6 6 0 0 1 1457 1523A6 6 0 0 1 1466 1520A6 6 0 0 1 1475 1522A6 6 0 0 1 1481 1530A6 6 0 0 1 1480 1539ZM1516 1532A6.2 6.2 0 0 1 1513 1541A6.2 6.2 0 0 1 1506 1547A6.2 6.2 0 0 1 1496 1546A6.2 6.2 0 0 1 1488 1541A6.2 6.2 0 0 1 1486 1532A6.2 6.2 0 0 1 1488 1523A6.2 6.2 0 0 1 1496 1517A6.2 6.2 0 0 1 1506 1517A6.2 6.2 0 0 1 1513 1523A6.2 6.2 0 0 1 1516 1532ZM1550 1538A6.1 6.1 0 0 1 1545 1546A6.1 6.1 0 0 1 1536 1549A6.1 6.1 0 0 1 1526 1546A6.1 6.1 0 0 1 1521 1539A6.1 6.1 0 0 1 1520 1529A6.1 6.1 0 0 1 1525 1521A6.1 6.1 0 0 1 1534 1518A6.1 6.1 0 0 1 1543 1521A6.1 6.1 0 0 1 1550 1528A6.1 6.1 0 0 1 1550 1538ZM1581 1538A6.2 6.2 0 0 1 1578 1547A6.2 6.2 0 0 1 1570 1553A6.2 6.2 0 0 1 1560 1553A6.2 6.2 0 0 1 1554 1546A6.2 6.2 0 0 1 1550 1537A6.2 6.2 0 0 1 1554 1528A6.2 6.2 0 0 1 1561 1522A6.2 6.2 0 0 1 1571 1523A6.2 6.2 0 0 1 1578 1529A6.2 6.2 0 0 1 1581 1538ZM1613 1544A6.3 6.3 0 0 1 1607 1552A6.3 6.3 0 0 1 1598 1553A6.3 6.3 0 0 1 1589 1548A6.3 6.3 0 0 1 1585 1539A6.3 6.3 0 0 1 1590 1530A6.3 6.3 0 0 1 1598 1526A6.3 6.3 0 0 1 1608 1527A6.3 6.3 0 0 1 1614 1535A6.3 6.3 0 0 1 1613 1544ZM1177 1317A6.2 6.2 0 0 1 1170 1323A6.2 6.2 0 0 1 1160 1324A6.2 6.2 0 0 1 1152 1319A6.2 6.2 0 0 1 1151 1309A6.2 6.2 0 0 1 1154 1300A6.2 6.2 0 0 1 1163 1297A6.2 6.2 0 0 1 1172 1299A6.2 6.2 0 0 1 1178 1307A6.2 6.2 0 0 1 1177 1317ZM1175 1353A6.3 6.3 0 0 1 1166 1355A6.3 6.3 0 0 1 1157 1352A6.3 6.3 0 0 1 1152 1343A6.3 6.3 0 0 1 1156 1334A6.3 6.3 0 0 1 1163 1328A6.3 6.3 0 0 1 1173 1329A6.3 6.3 0 0 1 1179 1336A6.3 6.3 0 0 1 1181 1345A6.3 6.3 0 0 1 1175 1353ZM1175 1385A6.2 6.2 0 0 1 1166 1389A6.2 6.2 0 0 1 1156 1387A6.2 6.2 0 0 1 1150 1380A6.2 6.2 0 0 1 1150 1370A6.2 6.2 0 0 1 1156 1362A6.2 6.2 0 0 1 1166 1360A6.2 6.2 0 0 1 1174 1366A6.2 6.2 0 0 1 1178 1375A6.2 6.2 0 0 1 1175 1385ZM1178 1410A6 6 0 0 1 1173 1418A6 6 0 0 1 1163 1419A6 6 0 0 1 1155 1415A6 6 0 0 1 1151 1407A6 6 0 0 1 1151 1398A6 6 0 0 1 1158 1391A6 6 0 0 1 1167 1390A6 6 0 0 1 1175 1394A6 6 0 0 1 1180 1401A6 6 0 0 1 1178 1410ZM1177 1450A6.1 6.1 0 0 1 1168 1454A6.1 6.1 0 0 1 1159 1455A6.1 6.1 0 0 1 1152 1449A6.1 6.1 0 0 1 1148 1441A6.1 6.1 0 0 1 1149 1431A6.1 6.1 0 0 1 1156 1424A6.1 6.1 0 0 1 1165 1422A6.1 6.1 0 0 1 1174 1425A6.1 6.1 0 0 1 1180 1432A6.1 6.1 0 0 1 1181 1441A6.1 6.1 0 0 1 1177 1450ZM1181 1472A6.1 6.1 0 0 1 1177 1481A6.1 6.1 0 0 1 1168 1485A6.1 6.1 0 0 1 1158 1486A6.1 6.1 0 0 1 1151 1479A6.1 6.1 0 0 1 1147 1471A6.1 6.1 0 0 1 1149 1461A6.1 6.1 0 0 1 1156 1455A6.1 6.1 0 0 1 1165 1453A6.1 6.1 0 0 1 1174 1455A6.1 6.1 0 0 1 1180 1463A6.1 6.1 0 0 1 1181 1472ZM1181 1499A6.1 6.1 0 0 1 1178 1508A6.1 6.1 0 0 1 1170 1514A6.1 6.1 0 0 1 1161 1512A6.1 6.1 0 0 1 1153 1507A6.1 6.1 0 0 1 1151 1497A6.1 6.1 0 0 1 1154 1488A6.1 6.1 0 0 1 1162 1484A6.1 6.1 0 0 1 1171 1484A6.1 6.1 0 0 1 1179 1490A6.1 6.1 0 0 1 1181 1499ZM1170 985A6.4 6.4 0 0 1 1161 990A6.4 6.4 0 0 1 1152 987A6.4 6.4 0 0 1 1146 979A6.4 6.4 0 0 1 1147 970A6.4 6.4 0 0 1 1153 962A6.4 6.4 0 0 1 1163 961A6.4 6.4 0 0 1 1171 967A6.4 6.4 0 0 1 1175 977A6.4 6.4 0 0 1 1170 985ZM1213 982A6 6 0 0 1 1210 991A6 6 0 0 1 1202 996A6 6 0 0 1 1193 996A6 6 0 0 1 1185 990A6 6 0 0 1 1183 981A6 6 0 0 1 1186 972A6 6 0 0 1 1193 966A6 6 0 0 1 1203 967A6 6 0 0 1 1211 973A6 6 0 0 1 1213 982ZM1249 991A6.1 6.1 0 0 1 1244 999A6.1 6.1 0 0 1 1235 1002A6.1 6.1 0 0 1 1226 998A6.1 6.1 0 0 1 1220 991A6.1 6.1 0 0 1 1220 981A6.1 6.1 0 0 1 1226 973A6.1 6.1 0 0 1 1235 971A6.1 6.1 0 0 1 1244 974A6.1 6.1 0 0 1 1250 981A6.1 6.1 0 0 1 1249 991ZM1284 992A6.4 6.4 0 0 1 1281 1002A6.4 6.4 0 0 1 1272 1006A6.4 6.4 0 0 1 1262 1003A6.4 6.4 0 0 1 1256 995A6.4 6.4 0 0 1 1257 986A6.4 6.4 0 0 1 1264 978A6.4 6.4 0 0 1 1274 977A6.4 6.4 0 0 1 1282 983A6.4 6.4 0 0 1 1284 992ZM1320 1003A6 6 0 0 1 1314 1009A6 6 0 0 1 1304 1011A6 6 0 0 1 1296 1008A6 6 0 0 1 1290 1000A6 6 0 0 1 1289 991A6 6 0 0 1 1294 982A6 6 0 0 1 1302 977A6 6 0 0 1 1311 980A6 6 0 0 1 1319 985A6 6 0 0 1 1323 993A6 6 0 0 1 1320 1003ZM1357 1009A6.2 6.2 0 0 1 1351 1016A6.2 6.2 0 0 1 1342 1018A6.2 6.2 0 0 1 1332 1015A6.2 6.2 0 0 1 1326 1007A6.2 6.2 0 0 1 1327 997A6.2 6.2 0 0 1 1331 988A6.2 6.2 0 0 1 1340 984A6.2 6.2 0 0 1 1349 985A6.2 6.2 0 0 1 1357 991A6.2 6.2 0 0 1 1360 1000A6.2 6.2 0 0 1 1357 1009ZM1398 1008A6.2 6.2 0 0 1 1396 1018A6.2 6.2 0 0 1 1388 1023A6.2 6.2 0 0 1 1378 1023A6.2 6.2 0 0 1 1370 1018A6.2 6.2 0 0 1 1366 1010A6.2 6.2 0 0 1 1366 1000A6.2 6.2 0 0 1 1372 993A6.2 6.2 0 0 1 1381 989A6.2 6.2 0 0 1 1390 992A6.2 6.2 0 0 1 1397 999A6.2 6.2 0 0 1 1398 1008ZM521 628A6.2 6.2 0 0 1 518 637A6.2 6.2 0 0 1 511 643A6.2 6.2 0 0 1 501 645A6.2 6.2 0 0 1 493 640A6.2 6.2 0 0 1 488 632A6.2 6.2 0 0 1 489 623A6.2 6.2 0 0 1 493 614A6.2 6.2 0 0 1 502 611A6.2 6.2 0 0 1 512 612A6.2 6.2 0 0 1 519 619A6.2 6.2 0 0 1 521 628ZM554 656A6.1 6.1 0 0 1 545 659A6.1 6.1 0 0 1 535 660A6.1 6.1 0 0 1 528 653A6.1 6.1 0 0 1 525 644A6.1 6.1 0 0 1 528 635A6.1 6.1 0 0 1 534 628A6.1 6.1 0 0 1 544 627A6.1 6.1 0 0 1 553 629A6.1 6.1 0 0 1 557 638A6.1 6.1 0 0 1 559 647A6.1 6.1 0 0 1 554 656ZM591 666A6.4 6.4 0 0 1 581 669A6.4 6.4 0 0 1 572 667A6.4 6.4 0 0 1 566 660A6.4 6.4 0 0 1 564 650A6.4 6.4 0 0 1 569 641A6.4 6.4 0 0 1 578 637A6.4 6.4 0 0 1 588 640A6.4 6.4 0 0 1 595 647A6.4 6.4 0 0 1 595 657A6.4 6.4 0 0 1 591 666ZM633 669A6 6 0 0 1 630 678A6 6 0 0 1 622 684A6 6 0 0 1 613 683A6 6 0 0 1 605 678A6 6 0 0 1 601 670A6 6 0 0 1 603 660A6 6 0 0 1 608 652A6 6 0 0 1 617 650A6 6 0 0 1 626 653A6 6 0 0 1 633 660A6 6 0 0 1 633 669ZM663 695A6.3 6.3 0 0 1 653 698A6.3 6.3 0 0 1 644 695A6.3 6.3 0 0 1 637 688A6.3 6.3 0 0 1 637 678A6.3 6.3 0 0 1 642 669A6.3 6.3 0 0 1 651 666A6.3 6.3 0 0 1 661 668A6.3 6.3 0 0 1 666 676A6.3 6.3 0 0 1 668 686A6.3 6.3 0 0 1 663 695ZM702 704A6.2 6.2 0 0 1 696 711A6.2 6.2 0 0 1 686 714A6.2 6.2 0 0 1 678 710A6.2 6.2 0 0 1 672 702A6.2 6.2 0 0 1 674 692A6.2 6.2 0 0 1 679 685A6.2 6.2 0 0 1 688 682A6.2 6.2 0 0 1 697 686A6.2 6.2 0 0 1 703 694A6.2 6.2 0 0 1 702 704ZM741 720A6.4 6.4 0 0 1 732 726A6.4 6.4 0 0 1 723 726A6.4 6.4 0 0 1 713 722A6.4 6.4 0 0 1 710 712A6.4 6.4 0 0 1 710 702A6.4 6.4 0 0 1 717 695A6.4 6.4 0 0 1 726 691A6.4 6.4 0 0 1 736 694A6.4 6.4 0 0 1 743 701A6.4 6.4 0 0 1 744 711A6.4 6.4 0 0 1 741 720ZM773 736A6.3 6.3 0 0 1 764 739A6.3 6.3 0 0 1 755 737A6.3 6.3 0 0 1 749 729A6.3 6.3 0 0 1 746 720A6.3 6.3 0 0 1 750 711A6.3 6.3 0 0 1 758 705A6.3 6.3 0 0 1 768 706A6.3 6.3 0 0 1 776 710A6.3 6.3 0 0 1 780 719A6.3 6.3 0 0 1 779 728A6.3 6.3 0 0 1 773 736ZM816 742A6.4 6.4 0 0 1 810 750A6.4 6.4 0 0 1 802 755A6.4 6.4 0 0 1 792 752A6.4 6.4 0 0 1 785 746A6.4 6.4 0 0 1 784 736A6.4 6.4 0 0 1 788 727A6.4 6.4 0 0 1 797 722A6.4 6.4 0 0 1 807 725A6.4 6.4 0 0 1 813 732A6.4 6.4 0 0 1 816 742ZM570 599A6 6 0 0 1 562 605A6 6 0 0 1 553 603A6 6 0 0 1 545 598A6 6 0 0 1 540 590A6 6 0 0 1 540 581A6 6 0 0 1 546 573A6 6 0 0 1 554 569A6 6 0 0 1 564 569A6 6 0 0 1 572 574A6 6 0 0 1 576 582A6 6 0 0 1 575 591A6 6 0 0 1 570 599ZM614 607A6.3 6.3 0 0 1 607 613A6.3 6.3 0 0 1 598 614A6.3 6.3 0 0 1 589 610A6.3 6.3 0 0 1 586 601A6.3 6.3 0 0 1 587 591A6.3 6.3 0 0 1 595 585A6.3 6.3 0 0 1 605 583A6.3 6.3 0 0 1 613 589A6.3 6.3 0 0 1 618 598A6.3 6.3 0 0 1 614 607ZM657 627A6.1 6.1 0 0 1 649 632A6.1 6.1 0 0 1 639 632A6.1 6.1 0 0 1 632 626A6.1 6.1 0 0 1 628 617A6.1 6.1 0 0 1 629 608A6.1 6.1 0 0 1 636 601A6.1 6.1 0 0 1 645 598A6.1 6.1 0 0 1 654 602A6.1 6.1 0 0 1 659 609A6.1 6.1 0 0 1 662 618A6.1 6.1 0 0 1 657 627ZM701 641A6.2 6.2 0 0 1 694 648A6.2 6.2 0 0 1 684 649A6.2 6.2 0 0 1 675 644A6.2 6.2 0 0 1 671 635A6.2 6.2 0 0 1 671 626A6.2 6.2 0 0 1 677 618A6.2 6.2 0 0 1 686 613A6.2 6.2 0 0 1 695 616A6.2 6.2 0 0 1 703 622A6.2 6.2 0 0 1 705 632A6.2 6.2 0 0 1 701 641ZM745 655A6.2 6.2 0 0 1 738 662A6.2 6.2 0 0 1 728 663A6.2 6.2 0 0 1 720 658A6.2 6.2 0 0 1 715 650A6.2 6.2 0 0 1 717 641A6.2 6.2 0 0 1 724 633A6.2 6.2 0 0 1 733 632A6.2 6.2 0 0 1 742 636A6.2 6.2 0 0 1 747 645A6.2 6.2 0 0 1 745 655ZM794 666A6.5 6.5 0 0 1 790 675A6.5 6.5 0 0 1 782 682A6.5 6.5 0 0 1 772 682A6.5 6.5 0 0 1 763 676A6.5 6.5 0 0 1 760 667A6.5 6.5 0 0 1 760 657A6.5 6.5 0 0 1 766 649A6.5 6.5 0 0 1 776 646A6.5 6.5 0 0 1 786 649A6.5 6.5 0 0 1 792 657A6.5 6.5 0 0 1 794 666ZM234 1578A4.9 4.9 0 0 1 230 1585A4.9 4.9 0 0 1 222 1586A4.9 4.9 0 0 1 215 1584A4.9 4.9 0 0 1 212 1577A4.9 4.9 0 0 1 213 1569A4.9 4.9 0 0 1 220 1565A4.9 4.9 0 0 1 228 1565A4.9 4.9 0 0 1 233 1571A4.9 4.9 0 0 1 234 1578ZM259 1582A5.2 5.2 0 0 1 252 1586A5.2 5.2 0 0 1 244 1583A5.2 5.2 0 0 1 239 1577A5.2 5.2 0 0 1 240 1569A5.2 5.2 0 0 1 246 1563A5.2 5.2 0 0 1 254 1563A5.2 5.2 0 0 1 260 1567A5.2 5.2 0 0 1 263 1575A5.2 5.2 0 0 1 259 1582ZM283 1574A4.6 4.6 0 0 1 280 1580A4.6 4.6 0 0 1 274 1584A4.6 4.6 0 0 1 267 1582A4.6 4.6 0 0 1 262 1577A4.6 4.6 0 0 1 263 1570A4.6 4.6 0 0 1 268 1565A4.6 4.6 0 0 1 275 1563A4.6 4.6 0 0 1 280 1567A4.6 4.6 0 0 1 283 1574ZM309 1578A5 5 0 0 1 304 1584A5 5 0 0 1 297 1585A5 5 0 0 1 290 1581A5 5 0 0 1 287 1574A5 5 0 0 1 290 1567A5 5 0 0 1 297 1563A5 5 0 0 1 304 1564A5 5 0 0 1 310 1570A5 5 0 0 1 309 1578ZM333 1581A4.3 4.3 0 0 1 328 1585A4.3 4.3 0 0 1 322 1586A4.3 4.3 0 0 1 316 1582A4.3 4.3 0 0 1 315 1576A4.3 4.3 0 0 1 318 1570A4.3 4.3 0 0 1 324 1567A4.3 4.3 0 0 1 330 1569A4.3 4.3 0 0 1 334 1574A4.3 4.3 0 0 1 333 1581ZM359 1578A4.9 4.9 0 0 1 356 1584A4.9 4.9 0 0 1 349 1587A4.9 4.9 0 0 1 341 1585A4.9 4.9 0 0 1 337 1578A4.9 4.9 0 0 1 338 1571A4.9 4.9 0 0 1 344 1566A4.9 4.9 0 0 1 352 1566A4.9 4.9 0 0 1 358 1570A4.9 4.9 0 0 1 359 1578ZM380 1577A4.4 4.4 0 0 1 377 1583A4.4 4.4 0 0 1 370 1585A4.4 4.4 0 0 1 364 1582A4.4 4.4 0 0 1 361 1576A4.4 4.4 0 0 1 362 1569A4.4 4.4 0 0 1 368 1565A4.4 4.4 0 0 1 375 1565A4.4 4.4 0 0 1 380 1571A4.4 4.4 0 0 1 380 1577ZM407 1576A4.7 4.7 0 0 1 403 1583A4.7 4.7 0 0 1 396 1585A4.7 4.7 0 0 1 390 1582A4.7 4.7 0 0 1 386 1576A4.7 4.7 0 0 1 387 1569A4.7 4.7 0 0 1 393 1564A4.7 4.7 0 0 1 400 1564A4.7 4.7 0 0 1 406 1569A4.7 4.7 0 0 1 407 1576ZM431 1580A4.4 4.4 0 0 1 425 1584A4.4 4.4 0 0 1 419 1583A4.4 4.4 0 0 1 413 1579A4.4 4.4 0 0 1 413 1572A4.4 4.4 0 0 1 416 1567A4.4 4.4 0 0 1 422 1564A4.4 4.4 0 0 1 429 1567A4.4 4.4 0 0 1 432 1573A4.4 4.4 0 0 1 431 1580ZM454 1584A5.2 5.2 0 0 1 446 1586A5.2 5.2 0 0 1 439 1583A5.2 5.2 0 0 1 436 1575A5.2 5.2 0 0 1 437 1567A5.2 5.2 0 0 1 445 1563A5.2 5.2 0 0 1 453 1564A5.2 5.2 0 0 1 458 1570A5.2 5.2 0 0 1 459 1578A5.2 5.2 0 0 1 454 1584ZM477 1583A4.3 4.3 0 0 1 471 1584A4.3 4.3 0 0 1 464 1582A4.3 4.3 0 0 1 462 1576A4.3 4.3 0 0 1 463 1569A4.3 4.3 0 0 1 468 1565A4.3 4.3 0 0 1 475 1566A4.3 4.3 0 0 1 480 1570A4.3 4.3 0 0 1 481 1577A4.3 4.3 0 0 1 477 1583ZM947 1084A6.5 6.5 0 0 1 937 1086A6.5 6.5 0 0 1 928 1082A6.5 6.5 0 0 1 924 1073A6.5 6.5 0 0 1 926 1063A6.5 6.5 0 0 1 935 1057A6.5 6.5 0 0 1 945 1058A6.5 6.5 0 0 1 952 1065A6.5 6.5 0 0 1 952 1075A6.5 6.5 0 0 1 947 1084ZM986 1055A6.1 6.1 0 0 1 978 1061A6.1 6.1 0 0 1 968 1061A6.1 6.1 0 0 1 960 1055A6.1 6.1 0 0 1 957 1046A6.1 6.1 0 0 1 960 1037A6.1 6.1 0 0 1 968 1032A6.1 6.1 0 0 1 977 1031A6.1 6.1 0 0 1 985 1037A6.1 6.1 0 0 1 988 1046A6.1 6.1 0 0 1 986 1055ZM1020 1026A6.2 6.2 0 0 1 1015 1035A6.2 6.2 0 0 1 1006 1038A6.2 6.2 0 0 1 997 1034A6.2 6.2 0 0 1 992 1026A6.2 6.2 0 0 1 994 1016A6.2 6.2 0 0 1 1001 1009A6.2 6.2 0 0 1 1011 1010A6.2 6.2 0 0 1 1018 1016A6.2 6.2 0 0 1 1020 1026ZM1056 1003A6.1 6.1 0 0 1 1051 1011A6.1 6.1 0 0 1 1042 1014A6.1 6.1 0 0 1 1033 1013A6.1 6.1 0 0 1 1027 1006A6.1 6.1 0 0 1 1025 997A6.1 6.1 0 0 1 1027 988A6.1 6.1 0 0 1 1034 981A6.1 6.1 0 0 1 1043 981A6.1 6.1 0 0 1 1052 986A6.1 6.1 0 0 1 1057 993A6.1 6.1 0 0 1 1056 1003ZM1086 981A6.4 6.4 0 0 1 1078 988A6.4 6.4 0 0 1 1068 987A6.4 6.4 0 0 1 1061 980A6.4 6.4 0 0 1 1059 970A6.4 6.4 0 0 1 1065 962A6.4 6.4 0 0 1 1074 958A6.4 6.4 0 0 1 1083 963A6.4 6.4 0 0 1 1089 971A6.4 6.4 0 0 1 1086 981ZM1132 1020A6.1 6.1 0 0 1 1125 1026A6.1 6.1 0 0 1 1116 1026A6.1 6.1 0 0 1 1108 1021A6.1 6.1 0 0 1 1104 1012A6.1 6.1 0 0 1 1107 1003A6.1 6.1 0 0 1 1115 998A6.1 6.1 0 0 1 1124 997A6.1 6.1 0 0 1 1132 1002A6.1 6.1 0 0 1 1136 1011A6.1 6.1 0 0 1 1132 1020ZM1143 1056A6.2 6.2 0 0 1 1137 1064A6.2 6.2 0 0 1 1128 1068A6.2 6.2 0 0 1 1119 1064A6.2 6.2 0 0 1 1113 1057A6.2 6.2 0 0 1 1114 1047A6.2 6.2 0 0 1 1119 1039A6.2 6.2 0 0 1 1128 1036A6.2 6.2 0 0 1 1137 1038A6.2 6.2 0 0 1 1143 1046A6.2 6.2 0 0 1 1143 1056ZM1147 1102A6.2 6.2 0 0 1 1138 1107A6.2 6.2 0 0 1 1129 1104A6.2 6.2 0 0 1 1122 1097A6.2 6.2 0 0 1 1118 1088A6.2 6.2 0 0 1 1123 1079A6.2 6.2 0 0 1 1130 1073A6.2 6.2 0 0 1 1140 1072A6.2 6.2 0 0 1 1148 1077A6.2 6.2 0 0 1 1154 1085A6.2 6.2 0 0 1 1152 1095A6.2 6.2 0 0 1 1147 1102ZM1160 1134A6.4 6.4 0 0 1 1154 1143A6.4 6.4 0 0 1 1146 1147A6.4 6.4 0 0 1 1136 1145A6.4 6.4 0 0 1 1129 1138A6.4 6.4 0 0 1 1128 1128A6.4 6.4 0 0 1 1133 1119A6.4 6.4 0 0 1 1142 1115A6.4 6.4 0 0 1 1151 1118A6.4 6.4 0 0 1 1159 1124A6.4 6.4 0 0 1 1160 1134ZM1162 1182A6.5 6.5 0 0 1 1153 1187A6.5 6.5 0 0 1 1143 1186A6.5 6.5 0 0 1 1136 1179A6.5 6.5 0 0 1 1133 1170A6.5 6.5 0 0 1 1135 1160A6.5 6.5 0 0 1 1143 1154A6.5 6.5 0 0 1 1153 1151A6.5 6.5 0 0 1 1162 1156A6.5 6.5 0 0 1 1167 1164A6.5 6.5 0 0 1 1168 1174A6.5 6.5 0 0 1 1162 1182ZM1173 1221A6 6 0 0 1 1165 1226A6 6 0 0 1 1156 1227A6 6 0 0 1 1147 1223A6 6 0 0 1 1142 1215A6 6 0 0 1 1142 1205A6 6 0 0 1 1147 1197A6 6 0 0 1 1157 1194A6 6 0 0 1 1166 1195A6 6 0 0 1 1173 1202A6 6 0 0 1 1175 1211A6 6 0 0 1 1173 1221ZM1178 1261A6.1 6.1 0 0 1 1169 1264A6.1 6.1 0 0 1 1160 1260A6.1 6.1 0 0 1 1155 1253A6.1 6.1 0 0 1 1155 1243A6.1 6.1 0 0 1 1161 1236A6.1 6.1 0 0 1 1169 1233A6.1 6.1 0 0 1 1178 1237A6.1 6.1 0 0 1 1183 1244A6.1 6.1 0 0 1 1183 1253A6.1 6.1 0 0 1 1178 1261ZM670 1268A6.6 6.6 0 0 1 663 1275A6.6 6.6 0 0 1 653 1278A6.6 6.6 0 0 1 643 1275A6.6 6.6 0 0 1 638 1267A6.6 6.6 0 0 1 638 1256A6.6 6.6 0 0 1 644 1248A6.6 6.6 0 0 1 654 1246A6.6 6.6 0 0 1 664 1248A6.6 6.6 0 0 1 669 1257A6.6 6.6 0 0 1 670 1268ZM709 1273A6.5 6.5 0 0 1 701 1278A6.5 6.5 0 0 1 691 1278A6.5 6.5 0 0 1 684 1271A6.5 6.5 0 0 1 680 1262A6.5 6.5 0 0 1 685 1253A6.5 6.5 0 0 1 694 1248A6.5 6.5 0 0 1 703 1248A6.5 6.5 0 0 1 712 1254A6.5 6.5 0 0 1 714 1265A6.5 6.5 0 0 1 709 1273ZM753 1274A6.5 6.5 0 0 1 745 1280A6.5 6.5 0 0 1 735 1280A6.5 6.5 0 0 1 727 1275A6.5 6.5 0 0 1 722 1266A6.5 6.5 0 0 1 726 1256A6.5 6.5 0 0 1 733 1250A6.5 6.5 0 0 1 743 1249A6.5 6.5 0 0 1 752 1254A6.5 6.5 0 0 1 755 1264A6.5 6.5 0 0 1 753 1274ZM795 1278A6.2 6.2 0 0 1 787 1283A6.2 6.2 0 0 1 778 1286A6.2 6.2 0 0 1 768 1283A6.2 6.2 0 0 1 763 1274A6.2 6.2 0 0 1 763 1265A6.2 6.2 0 0 1 767 1256A6.2 6.2 0 0 1 777 1252A6.2 6.2 0 0 1 786 1253A6.2 6.2 0 0 1 793 1259A6.2 6.2 0 0 1 797 1268A6.2 6.2 0 0 1 795 1278ZM926 1271A6.3 6.3 0 0 1 923 1280A6.3 6.3 0 0 1 915 1286A6.3 6.3 0 0 1 905 1286A6.3 6.3 0 0 1 897 1280A6.3 6.3 0 0 1 895 1270A6.3 6.3 0 0 1 898 1261A6.3 6.3 0 0 1 906 1256A6.3 6.3 0 0 1 916 1255A6.3 6.3 0 0 1 924 1262A6.3 6.3 0 0 1 926 1271ZM970 1285A6.2 6.2 0 0 1 962 1290A6.2 6.2 0 0 1 952 1290A6.2 6.2 0 0 1 944 1284A6.2 6.2 0 0 1 941 1275A6.2 6.2 0 0 1 943 1266A6.2 6.2 0 0 1 949 1259A6.2 6.2 0 0 1 958 1257A6.2 6.2 0 0 1 968 1259A6.2 6.2 0 0 1 973 1267A6.2 6.2 0 0 1 974 1277A6.2 6.2 0 0 1 970 1285ZM1018 1281A6.6 6.6 0 0 1 1011 1288A6.6 6.6 0 0 1 1001 1289A6.6 6.6 0 0 1 991 1286A6.6 6.6 0 0 1 987 1276A6.6 6.6 0 0 1 989 1266A6.6 6.6 0 0 1 996 1258A6.6 6.6 0 0 1 1006 1257A6.6 6.6 0 0 1 1015 1262A6.6 6.6 0 0 1 1020 1271A6.6 6.6 0 0 1 1018 1281ZM1059 1287A6.6 6.6 0 0 1 1050 1290A6.6 6.6 0 0 1 1040 1288A6.6 6.6 0 0 1 1035 1279A6.6 6.6 0 0 1 1037 1270A6.6 6.6 0 0 1 1044 1262A6.6 6.6 0 0 1 1054 1262A6.6 6.6 0 0 1 1062 1268A6.6 6.6 0 0 1 1064 1278A6.6 6.6 0 0 1 1059 1287ZM1110 1282A6.3 6.3 0 0 1 1104 1290A6.3 6.3 0 0 1 1095 1292A6.3 6.3 0 0 1 1086 1288A6.3 6.3 0 0 1 1081 1280A6.3 6.3 0 0 1 1084 1270A6.3 6.3 0 0 1 1092 1265A6.3 6.3 0 0 1 1101 1265A6.3 6.3 0 0 1 1109 1272A6.3 6.3 0 0 1 1110 1282ZM1153 1292A6.5 6.5 0 0 1 1145 1298A6.5 6.5 0 0 1 1134 1297A6.5 6.5 0 0 1 1128 1289A6.5 6.5 0 0 1 1125 1279A6.5 6.5 0 0 1 1131 1271A6.5 6.5 0 0 1 1141 1269A6.5 6.5 0 0 1 1150 1272A6.5 6.5 0 0 1 1155 1281A6.5 6.5 0 0 1 1153 1292ZM1211 1296A6.4 6.4 0 0 1 1202 1300A6.4 6.4 0 0 1 1192 1298A6.4 6.4 0 0 1 1185 1290A6.4 6.4 0 0 1 1185 1280A6.4 6.4 0 0 1 1191 1272A6.4 6.4 0 0 1 1200 1268A6.4 6.4 0 0 1 1209 1271A6.4 6.4 0 0 1 1217 1278A6.4 6.4 0 0 1 1217 1288A6.4 6.4 0 0 1 1211 1296ZM1254 1297A6.3 6.3 0 0 1 1245 1302A6.3 6.3 0 0 1 1236 1301A6.3 6.3 0 0 1 1229 1295A6.3 6.3 0 0 1 1227 1285A6.3 6.3 0 0 1 1231 1277A6.3 6.3 0 0 1 1239 1272A6.3 6.3 0 0 1 1249 1273A6.3 6.3 0 0 1 1256 1279A6.3 6.3 0 0 1 1258 1289A6.3 6.3 0 0 1 1254 1297ZM1296 1292A6.5 6.5 0 0 1 1291 1301A6.5 6.5 0 0 1 1281 1304A6.5 6.5 0 0 1 1272 1300A6.5 6.5 0 0 1 1267 1290A6.5 6.5 0 0 1 1270 1281A6.5 6.5 0 0 1 1278 1275A6.5 6.5 0 0 1 1288 1275A6.5 6.5 0 0 1 1295 1282A6.5 6.5 0 0 1 1296 1292ZM1337 1298A6.1 6.1 0 0 1 1331 1305A6.1 6.1 0 0 1 1321 1307A6.1 6.1 0 0 1 1313 1302A6.1 6.1 0 0 1 1309 1294A6.1 6.1 0 0 1 1309 1284A6.1 6.1 0 0 1 1317 1278A6.1 6.1 0 0 1 1326 1276A6.1 6.1 0 0 1 1334 1281A6.1 6.1 0 0 1 1338 1289A6.1 6.1 0 0 1 1337 1298ZM1375 1302A6.6 6.6 0 0 1 1366 1307A6.6 6.6 0 0 1 1356 1307A6.6 6.6 0 0 1 1349 1300A6.6 6.6 0 0 1 1347 1289A6.6 6.6 0 0 1 1353 1281A6.6 6.6 0 0 1 1364 1278A6.6 6.6 0 0 1 1373 1283A6.6 6.6 0 0 1 1378 1292A6.6 6.6 0 0 1 1375 1302ZM1421 1303A6.5 6.5 0 0 1 1414 1310A6.5 6.5 0 0 1 1404 1312A6.5 6.5 0 0 1 1395 1308A6.5 6.5 0 0 1 1389 1299A6.5 6.5 0 0 1 1391 1289A6.5 6.5 0 0 1 1398 1282A6.5 6.5 0 0 1 1407 1280A6.5 6.5 0 0 1 1416 1284A6.5 6.5 0 0 1 1421 1292A6.5 6.5 0 0 1 1421 1303ZM1457 1308A6.2 6.2 0 0 1 1448 1313A6.2 6.2 0 0 1 1439 1309A6.2 6.2 0 0 1 1433 1302A6.2 6.2 0 0 1 1434 1292A6.2 6.2 0 0 1 1442 1285A6.2 6.2 0 0 1 1451 1284A6.2 6.2 0 0 1 1459 1290A6.2 6.2 0 0 1 1461 1300A6.2 6.2 0 0 1 1457 1308ZM1501 1311A6.3 6.3 0 0 1 1492 1316A6.3 6.3 0 0 1 1482 1314A6.3 6.3 0 0 1 1475 1308A6.3 6.3 0 0 1 1472 1299A6.3 6.3 0 0 1 1476 1290A6.3 6.3 0 0 1 1484 1284A6.3 6.3 0 0 1 1494 1286A6.3 6.3 0 0 1 1501 1292A6.3 6.3 0 0 1 1505 1301A6.3 6.3 0 0 1 1501 1311ZM1543 1314A6 6 0 0 1 1535 1319A6 6 0 0 1 1526 1319A6 6 0 0 1 1517 1314A6 6 0 0 1 1513 1306A6 6 0 0 1 1514 1296A6 6 0 0 1 1521 1289A6 6 0 0 1 1529 1286A6 6 0 0 1 1539 1288A6 6 0 0 1 1546 1295A6 6 0 0 1 1547 1305A6 6 0 0 1 1543 1314ZM1584 1310A6 6 0 0 1 1578 1317A6 6 0 0 1 1569 1320A6 6 0 0 1 1560 1318A6 6 0 0 1 1554 1310A6 6 0 0 1 1554 1300A6 6 0 0 1 1559 1292A6 6 0 0 1 1569 1289A6 6 0 0 1 1577 1293A6 6 0 0 1 1584 1300A6 6 0 0 1 1584 1310ZM1623 1319A6.1 6.1 0 0 1 1615 1325A6.1 6.1 0 0 1 1606 1325A6.1 6.1 0 0 1 1598 1320A6.1 6.1 0 0 1 1593 1312A6.1 6.1 0 0 1 1595 1302A6.1 6.1 0 0 1 1600 1294A6.1 6.1 0 0 1 1610 1292A6.1 6.1 0 0 1 1619 1295A6.1 6.1 0 0 1 1625 1301A6.1 6.1 0 0 1 1627 1311A6.1 6.1 0 0 1 1623 1319ZM1429 1090A6.1 6.1 0 0 1 1420 1094A6.1 6.1 0 0 1 1411 1092A6.1 6.1 0 0 1 1404 1085A6.1 6.1 0 0 1 1402 1076A6.1 6.1 0 0 1 1405 1067A6.1 6.1 0 0 1 1412 1061A6.1 6.1 0 0 1 1421 1061A6.1 6.1 0 0 1 1430 1064A6.1 6.1 0 0 1 1435 1073A6.1 6.1 0 0 1 1435 1082A6.1 6.1 0 0 1 1429 1090ZM1427 1125A6.5 6.5 0 0 1 1418 1129A6.5 6.5 0 0 1 1408 1126A6.5 6.5 0 0 1 1402 1118A6.5 6.5 0 0 1 1400 1108A6.5 6.5 0 0 1 1406 1099A6.5 6.5 0 0 1 1415 1095A6.5 6.5 0 0 1 1425 1099A6.5 6.5 0 0 1 1431 1106A6.5 6.5 0 0 1 1433 1116A6.5 6.5 0 0 1 1427 1125ZM1421 1165A6.3 6.3 0 0 1 1411 1167A6.3 6.3 0 0 1 1402 1163A6.3 6.3 0 0 1 1399 1154A6.3 6.3 0 0 1 1401 1145A6.3 6.3 0 0 1 1409 1139A6.3 6.3 0 0 1 1419 1140A6.3 6.3 0 0 1 1426 1147A6.3 6.3 0 0 1 1426 1157A6.3 6.3 0 0 1 1421 1165ZM1422 1196A6.2 6.2 0 0 1 1417 1204A6.2 6.2 0 0 1 1408 1208A6.2 6.2 0 0 1 1399 1206A6.2 6.2 0 0 1 1392 1199A6.2 6.2 0 0 1 1391 1190A6.2 6.2 0 0 1 1396 1181A6.2 6.2 0 0 1 1405 1178A6.2 6.2 0 0 1 1414 1180A6.2 6.2 0 0 1 1421 1186A6.2 6.2 0 0 1 1422 1196ZM1412 1243A6.3 6.3 0 0 1 1403 1247A6.3 6.3 0 0 1 1393 1244A6.3 6.3 0 0 1 1388 1235A6.3 6.3 0 0 1 1391 1225A6.3 6.3 0 0 1 1398 1219A6.3 6.3 0 0 1 1408 1219A6.3 6.3 0 0 1 1416 1226A6.3 6.3 0 0 1 1418 1236A6.3 6.3 0 0 1 1412 1243ZM1415 1273A6.3 6.3 0 0 1 1409 1281A6.3 6.3 0 0 1 1400 1283A6.3 6.3 0 0 1 1391 1279A6.3 6.3 0 0 1 1388 1269A6.3 6.3 0 0 1 1390 1260A6.3 6.3 0 0 1 1399 1255A6.3 6.3 0 0 1 1409 1256A6.3 6.3 0 0 1 1416 1263A6.3 6.3 0 0 1 1415 1273ZM1531 1035A6.5 6.5 0 0 1 1521 1038A6.5 6.5 0 0 1 1511 1037A6.5 6.5 0 0 1 1505 1029A6.5 6.5 0 0 1 1503 1020A6.5 6.5 0 0 1 1506 1011A6.5 6.5 0 0 1 1513 1004A6.5 6.5 0 0 1 1523 1003A6.5 6.5 0 0 1 1533 1008A6.5 6.5 0 0 1 1538 1017A6.5 6.5 0 0 1 1538 1027A6.5 6.5 0 0 1 1531 1035ZM1556 1069A6.4 6.4 0 0 1 1548 1074A6.4 6.4 0 0 1 1538 1071A6.4 6.4 0 0 1 1530 1065A6.4 6.4 0 0 1 1527 1055A6.4 6.4 0 0 1 1530 1045A6.4 6.4 0 0 1 1538 1039A6.4 6.4 0 0 1 1548 1039A6.4 6.4 0 0 1 1557 1042A6.4 6.4 0 0 1 1562 1051A6.4 6.4 0 0 1 1562 1061A6.4 6.4 0 0 1 1556 1069ZM1584 1094A6.3 6.3 0 0 1 1581 1103A6.3 6.3 0 0 1 1572 1109A6.3 6.3 0 0 1 1563 1109A6.3 6.3 0 0 1 1553 1105A6.3 6.3 0 0 1 1549 1096A6.3 6.3 0 0 1 1550 1087A6.3 6.3 0 0 1 1556 1078A6.3 6.3 0 0 1 1565 1076A6.3 6.3 0 0 1 1574 1078A6.3 6.3 0 0 1 1582 1084A6.3 6.3 0 0 1 1584 1094ZM1608 1133A6.3 6.3 0 0 1 1601 1140A6.3 6.3 0 0 1 1592 1144A6.3 6.3 0 0 1 1582 1141A6.3 6.3 0 0 1 1576 1133A6.3 6.3 0 0 1 1574 1124A6.3 6.3 0 0 1 1579 1115A6.3 6.3 0 0 1 1587 1109A6.3 6.3 0 0 1 1596 1110A6.3 6.3 0 0 1 1605 1115A6.3 6.3 0 0 1 1609 1123A6.3 6.3 0 0 1 1608 1133ZM1633 1169A6.4 6.4 0 0 1 1628 1178A6.4 6.4 0 0 1 1619 1182A6.4 6.4 0 0 1 1609 1181A6.4 6.4 0 0 1 1601 1175A6.4 6.4 0 0 1 1599 1165A6.4 6.4 0 0 1 1601 1156A6.4 6.4 0 0 1 1608 1149A6.4 6.4 0 0 1 1618 1147A6.4 6.4 0 0 1 1626 1152A6.4 6.4 0 0 1 1633 1159A6.4 6.4 0 0 1 1633 1169ZM1655 1202A6.4 6.4 0 0 1 1651 1211A6.4 6.4 0 0 1 1642 1215A6.4 6.4 0 0 1 1632 1214A6.4 6.4 0 0 1 1625 1207A6.4 6.4 0 0 1 1624 1197A6.4 6.4 0 0 1 1628 1189A6.4 6.4 0 0 1 1637 1184A6.4 6.4 0 0 1 1646 1185A6.4 6.4 0 0 1 1653 1192A6.4 6.4 0 0 1 1655 1202ZM1656 1242A6.3 6.3 0 0 1 1647 1246A6.3 6.3 0 0 1 1637 1243A6.3 6.3 0 0 1 1632 1235A6.3 6.3 0 0 1 1631 1225A6.3 6.3 0 0 1 1636 1217A6.3 6.3 0 0 1 1646 1213A6.3 6.3 0 0 1 1655 1216A6.3 6.3 0 0 1 1661 1224A6.3 6.3 0 0 1 1661 1234A6.3 6.3 0 0 1 1656 1242ZM1659 1284A6.3 6.3 0 0 1 1650 1290A6.3 6.3 0 0 1 1640 1289A6.3 6.3 0 0 1 1632 1285A6.3 6.3 0 0 1 1629 1275A6.3 6.3 0 0 1 1629 1266A6.3 6.3 0 0 1 1635 1258A6.3 6.3 0 0 1 1645 1256A6.3 6.3 0 0 1 1655 1258A6.3 6.3 0 0 1 1661 1265A6.3 6.3 0 0 1 1662 1275A6.3 6.3 0 0 1 1659 1284ZM1662 1320A6.6 6.6 0 0 1 1655 1328A6.6 6.6 0 0 1 1645 1331A6.6 6.6 0 0 1 1635 1328A6.6 6.6 0 0 1 1628 1320A6.6 6.6 0 0 1 1626 1310A6.6 6.6 0 0 1 1631 1301A6.6 6.6 0 0 1 1640 1295A6.6 6.6 0 0 1 1650 1295A6.6 6.6 0 0 1 1659 1300A6.6 6.6 0 0 1 1663 1310A6.6 6.6 0 0 1 1662 1320ZM1663 1361A6.1 6.1 0 0 1 1657 1369A6.1 6.1 0 0 1 1649 1372A6.1 6.1 0 0 1 1639 1372A6.1 6.1 0 0 1 1633 1366A6.1 6.1 0 0 1 1629 1357A6.1 6.1 0 0 1 1632 1348A6.1 6.1 0 0 1 1639 1342A6.1 6.1 0 0 1 1648 1340A6.1 6.1 0 0 1 1657 1343A6.1 6.1 0 0 1 1663 1351A6.1 6.1 0 0 1 1663 1361ZM1665 1399A6.2 6.2 0 0 1 1662 1408A6.2 6.2 0 0 1 1653 1412A6.2 6.2 0 0 1 1644 1411A6.2 6.2 0 0 1 1637 1405A6.2 6.2 0 0 1 1635 1396A6.2 6.2 0 0 1 1638 1386A6.2 6.2 0 0 1 1647 1383A6.2 6.2 0 0 1 1656 1384A6.2 6.2 0 0 1 1664 1390A6.2 6.2 0 0 1 1665 1399ZM1665 1450A6.1 6.1 0 0 1 1657 1455A6.1 6.1 0 0 1 1647 1455A6.1 6.1 0 0 1 1639 1451A6.1 6.1 0 0 1 1633 1444A6.1 6.1 0 0 1 1632 1434A6.1 6.1 0 0 1 1637 1425A6.1 6.1 0 0 1 1645 1421A6.1 6.1 0 0 1 1655 1420A6.1 6.1 0 0 1 1663 1424A6.1 6.1 0 0 1 1669 1432A6.1 6.1 0 0 1 1669 1442A6.1 6.1 0 0 1 1665 1450ZM1663 1495A6.2 6.2 0 0 1 1654 1498A6.2 6.2 0 0 1 1644 1497A6.2 6.2 0 0 1 1637 1490A6.2 6.2 0 0 1 1634 1481A6.2 6.2 0 0 1 1637 1471A6.2 6.2 0 0 1 1645 1465A6.2 6.2 0 0 1 1654 1463A6.2 6.2 0 0 1 1663 1468A6.2 6.2 0 0 1 1668 1476A6.2 6.2 0 0 1 1668 1486A6.2 6.2 0 0 1 1663 1495ZM318 1009A6.2 6.2 0 0 1 310 1014A6.2 6.2 0 0 1 301 1017A6.2 6.2 0 0 1 292 1016A6.2 6.2 0 0 1 286 1008A6.2 6.2 0 0 1 283 999A6.2 6.2 0 0 1 285 990A6.2 6.2 0 0 1 292 982A6.2 6.2 0 0 1 301 981A6.2 6.2 0 0 1 310 983A6.2 6.2 0 0 1 317 990A6.2 6.2 0 0 1 320 999A6.2 6.2 0 0 1 318 1009ZM309 1052A6.6 6.6 0 0 1 305 1062A6.6 6.6 0 0 1 297 1067A6.6 6.6 0 0 1 287 1067A6.6 6.6 0 0 1 279 1061A6.6 6.6 0 0 1 276 1052A6.6 6.6 0 0 1 279 1042A6.6 6.6 0 0 1 287 1036A6.6 6.6 0 0 1 298 1036A6.6 6.6 0 0 1 305 1043A6.6 6.6 0 0 1 309 1052ZM301 1105A6.2 6.2 0 0 1 295 1113A6.2 6.2 0 0 1 286 1116A6.2 6.2 0 0 1 277 1113A6.2 6.2 0 0 1 271 1106A6.2 6.2 0 0 1 268 1097A6.2 6.2 0 0 1 272 1087A6.2 6.2 0 0 1 280 1082A6.2 6.2 0 0 1 290 1082A6.2 6.2 0 0 1 298 1087A6.2 6.2 0 0 1 302 1096A6.2 6.2 0 0 1 301 1105ZM301 1148A6.1 6.1 0 0 1 297 1157A6.1 6.1 0 0 1 291 1164A6.1 6.1 0 0 1 282 1167A6.1 6.1 0 0 1 272 1165A6.1 6.1 0 0 1 265 1158A6.1 6.1 0 0 1 263 1148A6.1 6.1 0 0 1 265 1139A6.1 6.1 0 0 1 273 1133A6.1 6.1 0 0 1 282 1129A6.1 6.1 0 0 1 291 1133A6.1 6.1 0 0 1 298 1139A6.1 6.1 0 0 1 301 1148ZM386 904A6.3 6.3 0 0 1 381 912A6.3 6.3 0 0 1 373 918A6.3 6.3 0 0 1 364 917A6.3 6.3 0 0 1 355 912A6.3 6.3 0 0 1 352 903A6.3 6.3 0 0 1 353 893A6.3 6.3 0 0 1 360 887A6.3 6.3 0 0 1 369 884A6.3 6.3 0 0 1 378 887A6.3 6.3 0 0 1 385 894A6.3 6.3 0 0 1 386 904ZM405 866A6.3 6.3 0 0 1 397 872A6.3 6.3 0 0 1 388 875A6.3 6.3 0 0 1 379 873A6.3 6.3 0 0 1 372 865A6.3 6.3 0 0 1 370 855A6.3 6.3 0 0 1 375 846A6.3 6.3 0 0 1 383 841A6.3 6.3 0 0 1 393 842A6.3 6.3 0 0 1 402 846A6.3 6.3 0 0 1 406 855A6.3 6.3 0 0 1 405 866ZM416 824A6.1 6.1 0 0 1 408 829A6.1 6.1 0 0 1 399 830A6.1 6.1 0 0 1 390 826A6.1 6.1 0 0 1 384 818A6.1 6.1 0 0 1 384 809A6.1 6.1 0 0 1 387 800A6.1 6.1 0 0 1 395 794A6.1 6.1 0 0 1 405 794A6.1 6.1 0 0 1 414 797A6.1 6.1 0 0 1 420 805A6.1 6.1 0 0 1 420 815A6.1 6.1 0 0 1 416 824ZM434 775A6.1 6.1 0 0 1 429 783A6.1 6.1 0 0 1 420 785A6.1 6.1 0 0 1 411 784A6.1 6.1 0 0 1 404 777A6.1 6.1 0 0 1 402 767A6.1 6.1 0 0 1 407 759A6.1 6.1 0 0 1 414 753A6.1 6.1 0 0 1 424 753A6.1 6.1 0 0 1 432 757A6.1 6.1 0 0 1 436 766A6.1 6.1 0 0 1 434 775ZM453 731A6 6 0 0 1 449 739A6 6 0 0 1 440 743A6 6 0 0 1 431 741A6 6 0 0 1 424 735A6 6 0 0 1 422 726A6 6 0 0 1 424 717A6 6 0 0 1 431 711A6 6 0 0 1 440 711A6 6 0 0 1 449 714A6 6 0 0 1 453 722A6 6 0 0 1 453 731ZM471 689A6.4 6.4 0 0 1 467 698A6.4 6.4 0 0 1 458 703A6.4 6.4 0 0 1 448 703A6.4 6.4 0 0 1 439 696A6.4 6.4 0 0 1 436 686A6.4 6.4 0 0 1 438 677A6.4 6.4 0 0 1 445 669A6.4 6.4 0 0 1 455 668A6.4 6.4 0 0 1 464 671A6.4 6.4 0 0 1 470 679A6.4 6.4 0 0 1 471 689ZM486 647A6.1 6.1 0 0 1 480 654A6.1 6.1 0 0 1 471 656A6.1 6.1 0 0 1 462 653A6.1 6.1 0 0 1 456 646A6.1 6.1 0 0 1 452 637A6.1 6.1 0 0 1 456 629A6.1 6.1 0 0 1 463 622A6.1 6.1 0 0 1 472 620A6.1 6.1 0 0 1 481 622A6.1 6.1 0 0 1 487 630A6.1 6.1 0 0 1 489 639A6.1 6.1 0 0 1 486 647ZM468 788A6.4 6.4 0 0 1 461 795A6.4 6.4 0 0 1 451 796A6.4 6.4 0 0 1 442 791A6.4 6.4 0 0 1 437 782A6.4 6.4 0 0 1 440 772A6.4 6.4 0 0 1 447 766A6.4 6.4 0 0 1 457 765A6.4 6.4 0 0 1 465 769A6.4 6.4 0 0 1 470 778A6.4 6.4 0 0 1 468 788ZM490 819A6.4 6.4 0 0 1 480 823A6.4 6.4 0 0 1 471 820A6.4 6.4 0 0 1 465 812A6.4 6.4 0 0 1 465 802A6.4 6.4 0 0 1 470 794A6.4 6.4 0 0 1 480 790A6.4 6.4 0 0 1 489 794A6.4 6.4 0 0 1 496 801A6.4 6.4 0 0 1 496 811A6.4 6.4 0 0 1 490 819ZM523 842A6.3 6.3 0 0 1 516 849A6.3 6.3 0 0 1 506 852A6.3 6.3 0 0 1 497 848A6.3 6.3 0 0 1 492 839A6.3 6.3 0 0 1 493 829A6.3 6.3 0 0 1 501 822A6.3 6.3 0 0 1 510 820A6.3 6.3 0 0 1 519 824A6.3 6.3 0 0 1 524 832A6.3 6.3 0 0 1 523 842ZM544 873A6.6 6.6 0 0 1 535 877A6.6 6.6 0 0 1 525 874A6.6 6.6 0 0 1 520 865A6.6 6.6 0 0 1 521 855A6.6 6.6 0 0 1 529 849A6.6 6.6 0 0 1 539 848A6.6 6.6 0 0 1 547 854A6.6 6.6 0 0 1 549 864A6.6 6.6 0 0 1 544 873ZM576 894A6.1 6.1 0 0 1 571 903A6.1 6.1 0 0 1 562 906A6.1 6.1 0 0 1 553 905A6.1 6.1 0 0 1 547 897A6.1 6.1 0 0 1 546 888A6.1 6.1 0 0 1 550 879A6.1 6.1 0 0 1 559 876A6.1 6.1 0 0 1 569 877A6.1 6.1 0 0 1 576 885A6.1 6.1 0 0 1 576 894ZM611 924A6.5 6.5 0 0 1 601 927A6.5 6.5 0 0 1 592 924A6.5 6.5 0 0 1 586 916A6.5 6.5 0 0 1 586 906A6.5 6.5 0 0 1 591 897A6.5 6.5 0 0 1 601 894A6.5 6.5 0 0 1 611 897A6.5 6.5 0 0 1 616 906A6.5 6.5 0 0 1 617 916A6.5 6.5 0 0 1 611 924ZM644 945A6.4 6.4 0 0 1 636 951A6.4 6.4 0 0 1 626 951A6.4 6.4 0 0 1 618 945A6.4 6.4 0 0 1 615 935A6.4 6.4 0 0 1 619 926A6.4 6.4 0 0 1 627 920A6.4 6.4 0 0 1 637 920A6.4 6.4 0 0 1 646 926A6.4 6.4 0 0 1 647 936A6.4 6.4 0 0 1 644 945ZM674 977A6 6 0 0 1 665 981A6 6 0 0 1 656 979A6 6 0 0 1 648 973A6 6 0 0 1 646 964A6 6 0 0 1 648 954A6 6 0 0 1 656 949A6 6 0 0 1 665 948A6 6 0 0 1 674 952A6 6 0 0 1 678 960A6 6 0 0 1 678 969A6 6 0 0 1 674 977ZM708 999A6.4 6.4 0 0 1 700 1006A6.4 6.4 0 0 1 690 1007A6.4 6.4 0 0 1 682 1001A6.4 6.4 0 0 1 680 991A6.4 6.4 0 0 1 684 982A6.4 6.4 0 0 1 693 978A6.4 6.4 0 0 1 703 981A6.4 6.4 0 0 1 708 989A6.4 6.4 0 0 1 708 999ZM737 1029A6.3 6.3 0 0 1 729 1034A6.3 6.3 0 0 1 720 1034A6.3 6.3 0 0 1 712 1028A6.3 6.3 0 0 1 710 1018A6.3 6.3 0 0 1 716 1011A6.3 6.3 0 0 1 725 1006A6.3 6.3 0 0 1 734 1011A6.3 6.3 0 0 1 739 1019A6.3 6.3 0 0 1 737 1029ZM775 1053A6.5 6.5 0 0 1 768 1061A6.5 6.5 0 0 1 759 1064A6.5 6.5 0 0 1 750 1060A6.5 6.5 0 0 1 744 1052A6.5 6.5 0 0 1 744 1043A6.5 6.5 0 0 1 750 1035A6.5 6.5 0 0 1 759 1032A6.5 6.5 0 0 1 769 1035A6.5 6.5 0 0 1 775 1043A6.5 6.5 0 0 1 775 1053ZM797 1086A6.4 6.4 0 0 1 788 1090A6.4 6.4 0 0 1 779 1086A6.4 6.4 0 0 1 775 1077A6.4 6.4 0 0 1 776 1068A6.4 6.4 0 0 1 783 1061A6.4 6.4 0 0 1 793 1061A6.4 6.4 0 0 1 801 1068A6.4 6.4 0 0 1 802 1077A6.4 6.4 0 0 1 797 1086ZM659 1423A6.1 6.1 0 0 1 654 1431A6.1 6.1 0 0 1 646 1436A6.1 6.1 0 0 1 637 1435A6.1 6.1 0 0 1 629 1431A6.1 6.1 0 0 1 626 1422A6.1 6.1 0 0 1 626 1412A6.1 6.1 0 0 1 633 1405A6.1 6.1 0 0 1 642 1404A6.1 6.1 0 0 1 651 1405A6.1 6.1 0 0 1 657 1413A6.1 6.1 0 0 1 659 1423ZM689 1464A6.3 6.3 0 0 1 682 1471A6.3 6.3 0 0 1 673 1474A6.3 6.3 0 0 1 664 1470A6.3 6.3 0 0 1 658 1463A6.3 6.3 0 0 1 659 1453A6.3 6.3 0 0 1 665 1446A6.3 6.3 0 0 1 674 1443A6.3 6.3 0 0 1 683 1446A6.3 6.3 0 0 1 688 1454A6.3 6.3 0 0 1 689 1464ZM719 1513A6.2 6.2 0 0 1 711 1517A6.2 6.2 0 0 1 701 1515A6.2 6.2 0 0 1 693 1509A6.2 6.2 0 0 1 691 1499A6.2 6.2 0 0 1 694 1490A6.2 6.2 0 0 1 701 1483A6.2 6.2 0 0 1 711 1483A6.2 6.2 0 0 1 720 1486A6.2 6.2 0 0 1 725 1495A6.2 6.2 0 0 1 724 1504A6.2 6.2 0 0 1 719 1513ZM759 1544A6.6 6.6 0 0 1 753 1553A6.6 6.6 0 0 1 743 1555A6.6 6.6 0 0 1 733 1551A6.6 6.6 0 0 1 729 1541A6.6 6.6 0 0 1 731 1531A6.6 6.6 0 0 1 740 1526A6.6 6.6 0 0 1 750 1527A6.6 6.6 0 0 1 758 1534A6.6 6.6 0 0 1 759 1544ZM795 1586A6.6 6.6 0 0 1 789 1595A6.6 6.6 0 0 1 778 1597A6.6 6.6 0 0 1 768 1594A6.6 6.6 0 0 1 762 1586A6.6 6.6 0 0 1 761 1575A6.6 6.6 0 0 1 766 1566A6.6 6.6 0 0 1 775 1561A6.6 6.6 0 0 1 785 1562A6.6 6.6 0 0 1 793 1567A6.6 6.6 0 0 1 797 1577A6.6 6.6 0 0 1 795 1586ZM944 1505A6 6 0 0 1 937 1511A6 6 0 0 1 928 1513A6 6 0 0 1 919 1510A6 6 0 0 1 916 1501A6 6 0 0 1 916 1492A6 6 0 0 1 922 1485A6 6 0 0 1 932 1484A6 6 0 0 1 940 1487A6 6 0 0 1 945 1495A6 6 0 0 1 944 1505ZM982 1519A6.1 6.1 0 0 1 974 1524A6.1 6.1 0 0 1 964 1522A6.1 6.1 0 0 1 957 1516A6.1 6.1 0 0 1 953 1507A6.1 6.1 0 0 1 956 1498A6.1 6.1 0 0 1 964 1491A6.1 6.1 0 0 1 973 1490A6.1 6.1 0 0 1 982 1494A6.1 6.1 0 0 1 987 1502A6.1 6.1 0 0 1 987 1511A6.1 6.1 0 0 1 982 1519ZM1023 1511A6.4 6.4 0 0 1 1019 1520A6.4 6.4 0 0 1 1009 1523A6.4 6.4 0 0 1 1000 1520A6.4 6.4 0 0 1 994 1512A6.4 6.4 0 0 1 997 1502A6.4 6.4 0 0 1 1004 1495A6.4 6.4 0 0 1 1014 1495A6.4 6.4 0 0 1 1022 1501A6.4 6.4 0 0 1 1023 1511ZM1066 1518A6.6 6.6 0 0 1 1060 1526A6.6 6.6 0 0 1 1050 1530A6.6 6.6 0 0 1 1041 1525A6.6 6.6 0 0 1 1038 1515A6.6 6.6 0 0 1 1039 1505A6.6 6.6 0 0 1 1048 1500A6.6 6.6 0 0 1 1059 1500A6.6 6.6 0 0 1 1065 1508A6.6 6.6 0 0 1 1066 1518ZM1103 1528A6.5 6.5 0 0 1 1094 1533A6.5 6.5 0 0 1 1084 1531A6.5 6.5 0 0 1 1078 1523A6.5 6.5 0 0 1 1078 1513A6.5 6.5 0 0 1 1085 1506A6.5 6.5 0 0 1 1095 1504A6.5 6.5 0 0 1 1103 1510A6.5 6.5 0 0 1 1106 1519A6.5 6.5 0 0 1 1103 1528ZM1143 1533A6.4 6.4 0 0 1 1136 1539A6.4 6.4 0 0 1 1125 1540A6.4 6.4 0 0 1 1118 1533A6.4 6.4 0 0 1 1116 1524A6.4 6.4 0 0 1 1120 1515A6.4 6.4 0 0 1 1130 1511A6.4 6.4 0 0 1 1139 1515A6.4 6.4 0 0 1 1144 1523A6.4 6.4 0 0 1 1143 1533ZM1003 1593A6.3 6.3 0 0 1 998 1601A6.3 6.3 0 0 1 989 1603A6.3 6.3 0 0 1 979 1600A6.3 6.3 0 0 1 975 1591A6.3 6.3 0 0 1 978 1581A6.3 6.3 0 0 1 986 1575A6.3 6.3 0 0 1 996 1576A6.3 6.3 0 0 1 1003 1583A6.3 6.3 0 0 1 1003 1593ZM1039 1602A6.3 6.3 0 0 1 1030 1605A6.3 6.3 0 0 1 1021 1603A6.3 6.3 0 0 1 1015 1595A6.3 6.3 0 0 1 1017 1585A6.3 6.3 0 0 1 1024 1578A6.3 6.3 0 0 1 1034 1577A6.3 6.3 0 0 1 1042 1584A6.3 6.3 0 0 1 1044 1593A6.3 6.3 0 0 1 1039 1602ZM1080 1602A6.4 6.4 0 0 1 1070 1604A6.4 6.4 0 0 1 1061 1601A6.4 6.4 0 0 1 1056 1592A6.4 6.4 0 0 1 1058 1582A6.4 6.4 0 0 1 1067 1577A6.4 6.4 0 0 1 1077 1578A6.4 6.4 0 0 1 1085 1584A6.4 6.4 0 0 1 1085 1594A6.4 6.4 0 0 1 1080 1602ZM1121 1603A6.3 6.3 0 0 1 1112 1607A6.3 6.3 0 0 1 1102 1604A6.3 6.3 0 0 1 1096 1597A6.3 6.3 0 0 1 1096 1587A6.3 6.3 0 0 1 1101 1578A6.3 6.3 0 0 1 1110 1575A6.3 6.3 0 0 1 1120 1577A6.3 6.3 0 0 1 1126 1585A6.3 6.3 0 0 1 1126 1595A6.3 6.3 0 0 1 1121 1603ZM550 1308A6.3 6.3 0 0 1 542 1314A6.3 6.3 0 0 1 532 1315A6.3 6.3 0 0 1 524 1311A6.3 6.3 0 0 1 519 1302A6.3 6.3 0 0 1 522 1292A6.3 6.3 0 0 1 529 1286A6.3 6.3 0 0 1 539 1285A6.3 6.3 0 0 1 547 1290A6.3 6.3 0 0 1 552 1298A6.3 6.3 0 0 1 550 1308ZM548 1350A6.5 6.5 0 0 1 540 1356A6.5 6.5 0 0 1 530 1355A6.5 6.5 0 0 1 521 1350A6.5 6.5 0 0 1 518 1340A6.5 6.5 0 0 1 521 1330A6.5 6.5 0 0 1 529 1324A6.5 6.5 0 0 1 539 1325A6.5 6.5 0 0 1 547 1331A6.5 6.5 0 0 1 551 1340A6.5 6.5 0 0 1 548 1350ZM549 1390A6.4 6.4 0 0 1 542 1398A6.4 6.4 0 0 1 533 1401A6.4 6.4 0 0 1 523 1397A6.4 6.4 0 0 1 517 1389A6.4 6.4 0 0 1 518 1379A6.4 6.4 0 0 1 524 1370A6.4 6.4 0 0 1 534 1367A6.4 6.4 0 0 1 543 1372A6.4 6.4 0 0 1 548 1380A6.4 6.4 0 0 1 549 1390ZM551 1428A6.3 6.3 0 0 1 547 1436A6.3 6.3 0 0 1 538 1441A6.3 6.3 0 0 1 528 1440A6.3 6.3 0 0 1 521 1434A6.3 6.3 0 0 1 517 1425A6.3 6.3 0 0 1 519 1416A6.3 6.3 0 0 1 526 1408A6.3 6.3 0 0 1 535 1406A6.3 6.3 0 0 1 545 1410A6.3 6.3 0 0 1 550 1418A6.3 6.3 0 0 1 551 1428ZM550 1473A6.4 6.4 0 0 1 543 1480A6.4 6.4 0 0 1 533 1480A6.4 6.4 0 0 1 524 1475A6.4 6.4 0 0 1 521 1466A6.4 6.4 0 0 1 524 1457A6.4 6.4 0 0 1 531 1451A6.4 6.4 0 0 1 541 1449A6.4 6.4 0 0 1 549 1455A6.4 6.4 0 0 1 552 1464A6.4 6.4 0 0 1 550 1473ZM548 1519A6.1 6.1 0 0 1 540 1524A6.1 6.1 0 0 1 531 1524A6.1 6.1 0 0 1 523 1520A6.1 6.1 0 0 1 518 1512A6.1 6.1 0 0 1 519 1502A6.1 6.1 0 0 1 525 1495A6.1 6.1 0 0 1 534 1491A6.1 6.1 0 0 1 543 1493A6.1 6.1 0 0 1 549 1501A6.1 6.1 0 0 1 551 1510A6.1 6.1 0 0 1 548 1519ZM551 1557A6.5 6.5 0 0 1 542 1563A6.5 6.5 0 0 1 532 1564A6.5 6.5 0 0 1 524 1558A6.5 6.5 0 0 1 520 1549A6.5 6.5 0 0 1 524 1539A6.5 6.5 0 0 1 531 1533A6.5 6.5 0 0 1 541 1533A6.5 6.5 0 0 1 550 1537A6.5 6.5 0 0 1 553 1547A6.5 6.5 0 0 1 551 1557ZM550 1600A6 6 0 0 1 542 1605A6 6 0 0 1 533 1607A6 6 0 0 1 525 1602A6 6 0 0 1 519 1594A6 6 0 0 1 520 1585A6 6 0 0 1 525 1577A6 6 0 0 1 533 1573A6 6 0 0 1 543 1575A6 6 0 0 1 549 1582A6 6 0 0 1 552 1590A6 6 0 0 1 550 1600ZM888 997A6.3 6.3 0 0 1 879 1003A6.3 6.3 0 0 1 870 1002A6.3 6.3 0 0 1 863 995A6.3 6.3 0 0 1 862 985A6.3 6.3 0 0 1 868 978A6.3 6.3 0 0 1 877 976A6.3 6.3 0 0 1 886 979A6.3 6.3 0 0 1 890 988A6.3 6.3 0 0 1 888 997ZM924 979A6.4 6.4 0 0 1 915 982A6.4 6.4 0 0 1 905 979A6.4 6.4 0 0 1 900 971A6.4 6.4 0 0 1 901 962A6.4 6.4 0 0 1 909 955A6.4 6.4 0 0 1 918 954A6.4 6.4 0 0 1 927 960A6.4 6.4 0 0 1 929 970A6.4 6.4 0 0 1 924 979ZM962 952A6.5 6.5 0 0 1 955 960A6.5 6.5 0 0 1 945 961A6.5 6.5 0 0 1 936 956A6.5 6.5 0 0 1 933 946A6.5 6.5 0 0 1 937 937A6.5 6.5 0 0 1 946 933A6.5 6.5 0 0 1 955 934A6.5 6.5 0 0 1 962 942A6.5 6.5 0 0 1 962 952ZM1001 924A6.6 6.6 0 0 1 997 933A6.6 6.6 0 0 1 988 938A6.6 6.6 0 0 1 979 936A6.6 6.6 0 0 1 972 929A6.6 6.6 0 0 1 973 919A6.6 6.6 0 0 1 979 911A6.6 6.6 0 0 1 989 910A6.6 6.6 0 0 1 998 914A6.6 6.6 0 0 1 1001 924ZM1037 906A6.4 6.4 0 0 1 1031 915A6.4 6.4 0 0 1 1021 916A6.4 6.4 0 0 1 1012 910A6.4 6.4 0 0 1 1009 901A6.4 6.4 0 0 1 1013 892A6.4 6.4 0 0 1 1022 887A6.4 6.4 0 0 1 1032 888A6.4 6.4 0 0 1 1037 897A6.4 6.4 0 0 1 1037 906ZM1075 890A6.5 6.5 0 0 1 1067 896A6.5 6.5 0 0 1 1057 896A6.5 6.5 0 0 1 1049 890A6.5 6.5 0 0 1 1045 881A6.5 6.5 0 0 1 1048 871A6.5 6.5 0 0 1 1056 865A6.5 6.5 0 0 1 1066 865A6.5 6.5 0 0 1 1074 871A6.5 6.5 0 0 1 1077 880A6.5 6.5 0 0 1 1075 890ZM1113 830A6.6 6.6 0 0 1 1104 836A6.6 6.6 0 0 1 1094 835A6.6 6.6 0 0 1 1086 829A6.6 6.6 0 0 1 1083 819A6.6 6.6 0 0 1 1085 809A6.6 6.6 0 0 1 1094 804A6.6 6.6 0 0 1 1104 805A6.6 6.6 0 0 1 1112 811A6.6 6.6 0 0 1 1116 820A6.6 6.6 0 0 1 1113 830ZM1123 871A6.1 6.1 0 0 1 1115 877A6.1 6.1 0 0 1 1106 876A6.1 6.1 0 0 1 1098 871A6.1 6.1 0 0 1 1093 862A6.1 6.1 0 0 1 1096 853A6.1 6.1 0 0 1 1101 845A6.1 6.1 0 0 1 1111 843A6.1 6.1 0 0 1 1120 846A6.1 6.1 0 0 1 1127 853A6.1 6.1 0 0 1 1127 863A6.1 6.1 0 0 1 1123 871ZM1135 913A6.4 6.4 0 0 1 1127 919A6.4 6.4 0 0 1 1118 916A6.4 6.4 0 0 1 1110 910A6.4 6.4 0 0 1 1109 900A6.4 6.4 0 0 1 1112 891A6.4 6.4 0 0 1 1122 886A6.4 6.4 0 0 1 1131 889A6.4 6.4 0 0 1 1138 895A6.4 6.4 0 0 1 1141 905A6.4 6.4 0 0 1 1135 913ZM1147 953A6 6 0 0 1 1140 960A6 6 0 0 1 1131 961A6 6 0 0 1 1122 957A6 6 0 0 1 1117 949A6 6 0 0 1 1118 940A6 6 0 0 1 1123 932A6 6 0 0 1 1131 928A6 6 0 0 1 1140 929A6 6 0 0 1 1148 935A6 6 0 0 1 1151 944A6 6 0 0 1 1147 953ZM971 710A6.5 6.5 0 0 1 962 716A6.5 6.5 0 0 1 952 716A6.5 6.5 0 0 1 943 711A6.5 6.5 0 0 1 937 703A6.5 6.5 0 0 1 937 692A6.5 6.5 0 0 1 943 683A6.5 6.5 0 0 1 952 678A6.5 6.5 0 0 1 962 679A6.5 6.5 0 0 1 971 683A6.5 6.5 0 0 1 975 692A6.5 6.5 0 0 1 976 702A6.5 6.5 0 0 1 971 710ZM1052 721A6.5 6.5 0 0 1 1048 730A6.5 6.5 0 0 1 1039 735A6.5 6.5 0 0 1 1028 734A6.5 6.5 0 0 1 1020 728A6.5 6.5 0 0 1 1014 719A6.5 6.5 0 0 1 1015 709A6.5 6.5 0 0 1 1021 701A6.5 6.5 0 0 1 1030 697A6.5 6.5 0 0 1 1040 696A6.5 6.5 0 0 1 1048 702A6.5 6.5 0 0 1 1053 711A6.5 6.5 0 0 1 1052 721ZM1122 744A6.5 6.5 0 0 1 1113 749A6.5 6.5 0 0 1 1103 747A6.5 6.5 0 0 1 1095 741A6.5 6.5 0 0 1 1090 732A6.5 6.5 0 0 1 1093 722A6.5 6.5 0 0 1 1098 714A6.5 6.5 0 0 1 1107 710A6.5 6.5 0 0 1 1117 712A6.5 6.5 0 0 1 1125 717A6.5 6.5 0 0 1 1129 726A6.5 6.5 0 0 1 1128 736A6.5 6.5 0 0 1 1122 744ZM1197 759A6.5 6.5 0 0 1 1188 763A6.5 6.5 0 0 1 1178 760A6.5 6.5 0 0 1 1171 754A6.5 6.5 0 0 1 1168 744A6.5 6.5 0 0 1 1169 734A6.5 6.5 0 0 1 1176 726A6.5 6.5 0 0 1 1186 724A6.5 6.5 0 0 1 1196 726A6.5 6.5 0 0 1 1203 732A6.5 6.5 0 0 1 1206 742A6.5 6.5 0 0 1 1205 752A6.5 6.5 0 0 1 1197 759ZM1300 685A6.5 6.5 0 0 1 1292 690A6.5 6.5 0 0 1 1281 692A6.5 6.5 0 0 1 1272 687A6.5 6.5 0 0 1 1266 679A6.5 6.5 0 0 1 1266 669A6.5 6.5 0 0 1 1271 660A6.5 6.5 0 0 1 1278 654A6.5 6.5 0 0 1 1289 652A6.5 6.5 0 0 1 1297 658A6.5 6.5 0 0 1 1303 665A6.5 6.5 0 0 1 1305 676A6.5 6.5 0 0 1 1300 685ZM1240 846A6.5 6.5 0 0 1 1232 851A6.5 6.5 0 0 1 1221 852A6.5 6.5 0 0 1 1213 846A6.5 6.5 0 0 1 1208 837A6.5 6.5 0 0 1 1207 826A6.5 6.5 0 0 1 1213 817A6.5 6.5 0 0 1 1223 813A6.5 6.5 0 0 1 1233 812A6.5 6.5 0 0 1 1241 819A6.5 6.5 0 0 1 1245 828A6.5 6.5 0 0 1 1246 838A6.5 6.5 0 0 1 1240 846ZM902 762A6.5 6.5 0 0 1 892 767A6.5 6.5 0 0 1 882 766A6.5 6.5 0 0 1 874 760A6.5 6.5 0 0 1 869 751A6.5 6.5 0 0 1 870 740A6.5 6.5 0 0 1 876 732A6.5 6.5 0 0 1 886 728A6.5 6.5 0 0 1 896 728A6.5 6.5 0 0 1 903 735A6.5 6.5 0 0 1 908 744A6.5 6.5 0 0 1 907 753A6.5 6.5 0 0 1 902 762ZM890 672A6.5 6.5 0 0 1 881 677A6.5 6.5 0 0 1 871 678A6.5 6.5 0 0 1 861 673A6.5 6.5 0 0 1 856 664A6.5 6.5 0 0 1 857 654A6.5 6.5 0 0 1 860 644A6.5 6.5 0 0 1 869 639A6.5 6.5 0 0 1 879 639A6.5 6.5 0 0 1 888 644A6.5 6.5 0 0 1 894 652A6.5 6.5 0 0 1 893 662A6.5 6.5 0 0 1 890 672ZM895 642A6.5 6.5 0 0 1 887 648A6.5 6.5 0 0 1 877 650A6.5 6.5 0 0 1 867 646A6.5 6.5 0 0 1 862 637A6.5 6.5 0 0 1 859 628A6.5 6.5 0 0 1 863 618A6.5 6.5 0 0 1 871 612A6.5 6.5 0 0 1 881 611A6.5 6.5 0 0 1 891 614A6.5 6.5 0 0 1 897 622A6.5 6.5 0 0 1 899 632A6.5 6.5 0 0 1 895 642ZM991 513A2.7 2.7 0 0 1 989 517A2.7 2.7 0 0 1 985 518A2.7 2.7 0 0 1 981 516A2.7 2.7 0 0 1 979 513A2.7 2.7 0 0 1 980 509A2.7 2.7 0 0 1 983 507A2.7 2.7 0 0 1 987 506A2.7 2.7 0 0 1 990 509A2.7 2.7 0 0 1 991 513ZM1001 521A2.7 2.7 0 0 1 998 523A2.7 2.7 0 0 1 994 523A2.7 2.7 0 0 1 991 521A2.7 2.7 0 0 1 990 517A2.7 2.7 0 0 1 992 513A2.7 2.7 0 0 1 996 512A2.7 2.7 0 0 1 1000 513A2.7 2.7 0 0 1 1002 517A2.7 2.7 0 0 1 1001 521ZM1013 525A2.7 2.7 0 0 1 1010 528A2.7 2.7 0 0 1 1006 530A2.7 2.7 0 0 1 1003 528A2.7 2.7 0 0 1 1001 524A2.7 2.7 0 0 1 1001 520A2.7 2.7 0 0 1 1005 518A2.7 2.7 0 0 1 1009 518A2.7 2.7 0 0 1 1012 521A2.7 2.7 0 0 1 1013 525ZM1022 534A2.7 2.7 0 0 1 1018 535A2.7 2.7 0 0 1 1014 534A2.7 2.7 0 0 1 1011 531A2.7 2.7 0 0 1 1012 527A2.7 2.7 0 0 1 1015 524A2.7 2.7 0 0 1 1019 524A2.7 2.7 0 0 1 1022 526A2.7 2.7 0 0 1 1023 530A2.7 2.7 0 0 1 1022 534ZM1032 539A2.7 2.7 0 0 1 1029 541A2.7 2.7 0 0 1 1025 540A2.7 2.7 0 0 1 1022 537A2.7 2.7 0 0 1 1022 532A2.7 2.7 0 0 1 1025 529A2.7 2.7 0 0 1 1030 529A2.7 2.7 0 0 1 1033 531A2.7 2.7 0 0 1 1034 535A2.7 2.7 0 0 1 1032 539ZM1045 541A2.7 2.7 0 0 1 1043 545A2.7 2.7 0 0 1 1040 546A2.7 2.7 0 0 1 1036 546A2.7 2.7 0 0 1 1033 543A2.7 2.7 0 0 1 1033 538A2.7 2.7 0 0 1 1036 535A2.7 2.7 0 0 1 1040 535A2.7 2.7 0 0 1 1044 537A2.7 2.7 0 0 1 1045 541ZM1054 550A2.7 2.7 0 0 1 1050 552A2.7 2.7 0 0 1 1046 552A2.7 2.7 0 0 1 1044 548A2.7 2.7 0 0 1 1044 544A2.7 2.7 0 0 1 1047 541A2.7 2.7 0 0 1 1051 541A2.7 2.7 0 0 1 1054 543A2.7 2.7 0 0 1 1056 546A2.7 2.7 0 0 1 1054 550ZM1064 556A2.7 2.7 0 0 1 1061 558A2.7 2.7 0 0 1 1057 557A2.7 2.7 0 0 1 1055 553A2.7 2.7 0 0 1 1055 549A2.7 2.7 0 0 1 1058 547A2.7 2.7 0 0 1 1062 546A2.7 2.7 0 0 1 1065 548A2.7 2.7 0 0 1 1066 552A2.7 2.7 0 0 1 1064 556ZM1076 561A2.7 2.7 0 0 1 1072 563A2.7 2.7 0 0 1 1068 563A2.7 2.7 0 0 1 1065 560A2.7 2.7 0 0 1 1065 556A2.7 2.7 0 0 1 1068 552A2.7 2.7 0 0 1 1072 551A2.7 2.7 0 0 1 1076 553A2.7 2.7 0 0 1 1077 557A2.7 2.7 0 0 1 1076 561ZM1088 565A2.7 2.7 0 0 1 1085 568A2.7 2.7 0 0 1 1081 569A2.7 2.7 0 0 1 1077 567A2.7 2.7 0 0 1 1076 563A2.7 2.7 0 0 1 1077 560A2.7 2.7 0 0 1 1080 557A2.7 2.7 0 0 1 1085 557A2.7 2.7 0 0 1 1087 560A2.7 2.7 0 0 1 1088 565ZM1099 570A2.7 2.7 0 0 1 1096 573A2.7 2.7 0 0 1 1092 575A2.7 2.7 0 0 1 1088 573A2.7 2.7 0 0 1 1086 569A2.7 2.7 0 0 1 1087 565A2.7 2.7 0 0 1 1091 563A2.7 2.7 0 0 1 1095 563A2.7 2.7 0 0 1 1098 565A2.7 2.7 0 0 1 1099 570ZM1107 578A2.7 2.7 0 0 1 1103 580A2.7 2.7 0 0 1 1100 578A2.7 2.7 0 0 1 1097 575A2.7 2.7 0 0 1 1098 571A2.7 2.7 0 0 1 1101 568A2.7 2.7 0 0 1 1105 568A2.7 2.7 0 0 1 1108 571A2.7 2.7 0 0 1 1109 575A2.7 2.7 0 0 1 1107 578ZM1120 581A2.7 2.7 0 0 1 1118 584A2.7 2.7 0 0 1 1114 585A2.7 2.7 0 0 1 1110 584A2.7 2.7 0 0 1 1108 580A2.7 2.7 0 0 1 1109 576A2.7 2.7 0 0 1 1112 573A2.7 2.7 0 0 1 1116 574A2.7 2.7 0 0 1 1119 576A2.7 2.7 0 0 1 1120 581ZM1131 586A2.7 2.7 0 0 1 1129 589A2.7 2.7 0 0 1 1125 590A2.7 2.7 0 0 1 1121 589A2.7 2.7 0 0 1 1119 585A2.7 2.7 0 0 1 1120 581A2.7 2.7 0 0 1 1123 578A2.7 2.7 0 0 1 1127 578A2.7 2.7 0 0 1 1130 581A2.7 2.7 0 0 1 1131 586ZM1139 594A2.7 2.7 0 0 1 1135 595A2.7 2.7 0 0 1 1132 594A2.7 2.7 0 0 1 1130 590A2.7 2.7 0 0 1 1131 586A2.7 2.7 0 0 1 1134 584A2.7 2.7 0 0 1 1138 584A2.7 2.7 0 0 1 1141 587A2.7 2.7 0 0 1 1142 591A2.7 2.7 0 0 1 1139 594ZM1150 599A2.7 2.7 0 0 1 1146 601A2.7 2.7 0 0 1 1142 599A2.7 2.7 0 0 1 1141 595A2.7 2.7 0 0 1 1141 591A2.7 2.7 0 0 1 1145 589A2.7 2.7 0 0 1 1149 589A2.7 2.7 0 0 1 1152 592A2.7 2.7 0 0 1 1153 596A2.7 2.7 0 0 1 1150 599ZM1161 605A2.7 2.7 0 0 1 1156 605A2.7 2.7 0 0 1 1153 604A2.7 2.7 0 0 1 1151 600A2.7 2.7 0 0 1 1152 596A2.7 2.7 0 0 1 1156 594A2.7 2.7 0 0 1 1160 594A2.7 2.7 0 0 1 1163 597A2.7 2.7 0 0 1 1163 601A2.7 2.7 0 0 1 1161 605ZM1172 608A2.7 2.7 0 0 1 1169 610A2.7 2.7 0 0 1 1165 610A2.7 2.7 0 0 1 1162 606A2.7 2.7 0 0 1 1162 602A2.7 2.7 0 0 1 1165 599A2.7 2.7 0 0 1 1169 598A2.7 2.7 0 0 1 1172 601A2.7 2.7 0 0 1 1174 604A2.7 2.7 0 0 1 1172 608ZM1183 614A2.7 2.7 0 0 1 1179 615A2.7 2.7 0 0 1 1175 615A2.7 2.7 0 0 1 1173 611A2.7 2.7 0 0 1 1173 607A2.7 2.7 0 0 1 1176 604A2.7 2.7 0 0 1 1180 604A2.7 2.7 0 0 1 1183 606A2.7 2.7 0 0 1 1184 609A2.7 2.7 0 0 1 1183 614ZM1194 618A2.7 2.7 0 0 1 1190 620A2.7 2.7 0 0 1 1186 619A2.7 2.7 0 0 1 1184 615A2.7 2.7 0 0 1 1184 611A2.7 2.7 0 0 1 1187 609A2.7 2.7 0 0 1 1191 608A2.7 2.7 0 0 1 1195 611A2.7 2.7 0 0 1 1196 615A2.7 2.7 0 0 1 1194 618ZM1206 619A2.7 2.7 0 0 1 1204 623A2.7 2.7 0 0 1 1201 625A2.7 2.7 0 0 1 1196 624A2.7 2.7 0 0 1 1194 620A2.7 2.7 0 0 1 1195 616A2.7 2.7 0 0 1 1198 613A2.7 2.7 0 0 1 1202 613A2.7 2.7 0 0 1 1205 615A2.7 2.7 0 0 1 1206 619ZM1217 625A2.7 2.7 0 0 1 1214 628A2.7 2.7 0 0 1 1210 629A2.7 2.7 0 0 1 1206 628A2.7 2.7 0 0 1 1205 624A2.7 2.7 0 0 1 1206 620A2.7 2.7 0 0 1 1209 617A2.7 2.7 0 0 1 1213 618A2.7 2.7 0 0 1 1216 621A2.7 2.7 0 0 1 1217 625ZM1226 632A2.7 2.7 0 0 1 1222 634A2.7 2.7 0 0 1 1218 633A2.7 2.7 0 0 1 1216 630A2.7 2.7 0 0 1 1216 625A2.7 2.7 0 0 1 1219 622A2.7 2.7 0 0 1 1223 622A2.7 2.7 0 0 1 1226 624A2.7 2.7 0 0 1 1228 628A2.7 2.7 0 0 1 1226 632ZM1237 636A2.7 2.7 0 0 1 1234 638A2.7 2.7 0 0 1 1229 638A2.7 2.7 0 0 1 1227 634A2.7 2.7 0 0 1 1227 630A2.7 2.7 0 0 1 1229 627A2.7 2.7 0 0 1 1233 626A2.7 2.7 0 0 1 1237 628A2.7 2.7 0 0 1 1238 632A2.7 2.7 0 0 1 1237 636ZM1249 638A2.7 2.7 0 0 1 1247 641A2.7 2.7 0 0 1 1243 643A2.7 2.7 0 0 1 1239 641A2.7 2.7 0 0 1 1237 637A2.7 2.7 0 0 1 1238 633A2.7 2.7 0 0 1 1241 631A2.7 2.7 0 0 1 1245 631A2.7 2.7 0 0 1 1248 634A2.7 2.7 0 0 1 1249 638ZM1258 645A2.7 2.7 0 0 1 1255 647A2.7 2.7 0 0 1 1250 646A2.7 2.7 0 0 1 1248 642A2.7 2.7 0 0 1 1248 638A2.7 2.7 0 0 1 1251 635A2.7 2.7 0 0 1 1255 635A2.7 2.7 0 0 1 1259 637A2.7 2.7 0 0 1 1260 641A2.7 2.7 0 0 1 1258 645ZM1270 649A2.7 2.7 0 0 1 1266 651A2.7 2.7 0 0 1 1262 650A2.7 2.7 0 0 1 1259 647A2.7 2.7 0 0 1 1259 643A2.7 2.7 0 0 1 1262 640A2.7 2.7 0 0 1 1266 639A2.7 2.7 0 0 1 1270 641A2.7 2.7 0 0 1 1271 645A2.7 2.7 0 0 1 1270 649ZM1282 649A2.7 2.7 0 0 1 1280 653A2.7 2.7 0 0 1 1276 655A2.7 2.7 0 0 1 1272 655A2.7 2.7 0 0 1 1270 651A2.7 2.7 0 0 1 1270 647A2.7 2.7 0 0 1 1272 644A2.7 2.7 0 0 1 1277 643A2.7 2.7 0 0 1 1280 646A2.7 2.7 0 0 1 1282 649ZM1291 657A2.7 2.7 0 0 1 1288 659A2.7 2.7 0 0 1 1284 659A2.7 2.7 0 0 1 1281 656A2.7 2.7 0 0 1 1281 652A2.7 2.7 0 0 1 1283 649A2.7 2.7 0 0 1 1287 647A2.7 2.7 0 0 1 1291 649A2.7 2.7 0 0 1 1292 653A2.7 2.7 0 0 1 1291 657ZM1300 662A2.7 2.7 0 0 1 1297 663A2.7 2.7 0 0 1 1293 662A2.7 2.7 0 0 1 1291 658A2.7 2.7 0 0 1 1292 654A2.7 2.7 0 0 1 1295 652A2.7 2.7 0 0 1 1300 652A2.7 2.7 0 0 1 1303 655A2.7 2.7 0 0 1 1303 659A2.7 2.7 0 0 1 1300 662ZM1313 664A2.7 2.7 0 0 1 1311 667A2.7 2.7 0 0 1 1306 668A2.7 2.7 0 0 1 1303 665A2.7 2.7 0 0 1 1302 661A2.7 2.7 0 0 1 1303 658A2.7 2.7 0 0 1 1307 656A2.7 2.7 0 0 1 1311 657A2.7 2.7 0 0 1 1313 660A2.7 2.7 0 0 1 1313 664ZM1323 669A2.7 2.7 0 0 1 1319 672A2.7 2.7 0 0 1 1315 671A2.7 2.7 0 0 1 1313 667A2.7 2.7 0 0 1 1313 663A2.7 2.7 0 0 1 1316 660A2.7 2.7 0 0 1 1320 659A2.7 2.7 0 0 1 1323 662A2.7 2.7 0 0 1 1325 666A2.7 2.7 0 0 1 1323 669ZM1334 674A2.7 2.7 0 0 1 1330 676A2.7 2.7 0 0 1 1326 674A2.7 2.7 0 0 1 1323 671A2.7 2.7 0 0 1 1324 667A2.7 2.7 0 0 1 1327 664A2.7 2.7 0 0 1 1331 664A2.7 2.7 0 0 1 1334 666A2.7 2.7 0 0 1 1335 670A2.7 2.7 0 0 1 1334 674ZM1344 678A2.7 2.7 0 0 1 1340 679A2.7 2.7 0 0 1 1336 678A2.7 2.7 0 0 1 1334 675A2.7 2.7 0 0 1 1335 671A2.7 2.7 0 0 1 1338 668A2.7 2.7 0 0 1 1342 668A2.7 2.7 0 0 1 1345 670A2.7 2.7 0 0 1 1346 674A2.7 2.7 0 0 1 1344 678ZM574 361A6.6 6.6 0 0 1 569 370A6.6 6.6 0 0 1 560 374A6.6 6.6 0 0 1 550 373A6.6 6.6 0 0 1 545 364A6.6 6.6 0 0 1 545 354A6.6 6.6 0 0 1 552 346A6.6 6.6 0 0 1 562 345A6.6 6.6 0 0 1 570 351A6.6 6.6 0 0 1 574 361ZM603 385A6.3 6.3 0 0 1 594 388A6.3 6.3 0 0 1 585 384A6.3 6.3 0 0 1 580 376A6.3 6.3 0 0 1 583 366A6.3 6.3 0 0 1 591 360A6.3 6.3 0 0 1 600 361A6.3 6.3 0 0 1 607 368A6.3 6.3 0 0 1 609 377A6.3 6.3 0 0 1 603 385ZM646 395A6.1 6.1 0 0 1 640 401A6.1 6.1 0 0 1 630 404A6.1 6.1 0 0 1 622 399A6.1 6.1 0 0 1 616 392A6.1 6.1 0 0 1 616 383A6.1 6.1 0 0 1 620 374A6.1 6.1 0 0 1 628 369A6.1 6.1 0 0 1 638 371A6.1 6.1 0 0 1 645 377A6.1 6.1 0 0 1 648 386A6.1 6.1 0 0 1 646 395ZM683 404A6.5 6.5 0 0 1 678 412A6.5 6.5 0 0 1 667 414A6.5 6.5 0 0 1 659 409A6.5 6.5 0 0 1 654 399A6.5 6.5 0 0 1 658 389A6.5 6.5 0 0 1 667 385A6.5 6.5 0 0 1 677 386A6.5 6.5 0 0 1 684 394A6.5 6.5 0 0 1 683 404ZM719 418A6.3 6.3 0 0 1 714 426A6.3 6.3 0 0 1 705 429A6.3 6.3 0 0 1 696 426A6.3 6.3 0 0 1 691 417A6.3 6.3 0 0 1 694 408A6.3 6.3 0 0 1 701 402A6.3 6.3 0 0 1 711 402A6.3 6.3 0 0 1 718 409A6.3 6.3 0 0 1 719 418ZM752 439A6.1 6.1 0 0 1 745 444A6.1 6.1 0 0 1 735 445A6.1 6.1 0 0 1 728 440A6.1 6.1 0 0 1 723 431A6.1 6.1 0 0 1 724 421A6.1 6.1 0 0 1 730 414A6.1 6.1 0 0 1 740 411A6.1 6.1 0 0 1 749 414A6.1 6.1 0 0 1 756 421A6.1 6.1 0 0 1 757 431A6.1 6.1 0 0 1 752 439ZM785 454A6 6 0 0 1 777 458A6 6 0 0 1 768 454A6 6 0 0 1 763 446A6 6 0 0 1 763 437A6 6 0 0 1 768 430A6 6 0 0 1 777 426A6 6 0 0 1 786 429A6 6 0 0 1 791 437A6 6 0 0 1 792 447A6 6 0 0 1 785 454ZM830 461A6.6 6.6 0 0 1 824 469A6.6 6.6 0 0 1 814 472A6.6 6.6 0 0 1 805 468A6.6 6.6 0 0 1 799 459A6.6 6.6 0 0 1 800 449A6.6 6.6 0 0 1 806 441A6.6 6.6 0 0 1 816 438A6.6 6.6 0 0 1 825 442A6.6 6.6 0 0 1 831 451A6.6 6.6 0 0 1 830 461ZM861 482A6.4 6.4 0 0 1 852 487A6.4 6.4 0 0 1 842 486A6.4 6.4 0 0 1 835 479A6.4 6.4 0 0 1 833 469A6.4 6.4 0 0 1 837 460A6.4 6.4 0 0 1 846 455A6.4 6.4 0 0 1 856 456A6.4 6.4 0 0 1 863 463A6.4 6.4 0 0 1 865 473A6.4 6.4 0 0 1 861 482ZM902 492A6.1 6.1 0 0 1 894 498A6.1 6.1 0 0 1 884 498A6.1 6.1 0 0 1 876 493A6.1 6.1 0 0 1 871 485A6.1 6.1 0 0 1 873 475A6.1 6.1 0 0 1 879 468A6.1 6.1 0 0 1 888 465A6.1 6.1 0 0 1 897 467A6.1 6.1 0 0 1 903 474A6.1 6.1 0 0 1 905 483A6.1 6.1 0 0 1 902 492ZM939 498A6.3 6.3 0 0 1 934 506A6.3 6.3 0 0 1 925 510A6.3 6.3 0 0 1 916 508A6.3 6.3 0 0 1 910 500A6.3 6.3 0 0 1 911 491A6.3 6.3 0 0 1 918 483A6.3 6.3 0 0 1 928 483A6.3 6.3 0 0 1 936 488A6.3 6.3 0 0 1 939 498ZM970 520A6 6 0 0 1 962 526A6 6 0 0 1 952 524A6 6 0 0 1 945 518A6 6 0 0 1 942 509A6 6 0 0 1 944 500A6 6 0 0 1 951 493A6 6 0 0 1 960 491A6 6 0 0 1 969 495A6 6 0 0 1 974 503A6 6 0 0 1 975 513A6 6 0 0 1 970 520ZM514 414A6.5 6.5 0 0 1 506 420A6.5 6.5 0 0 1 495 420A6.5 6.5 0 0 1 486 417A6.5 6.5 0 0 1 480 409A6.5 6.5 0 0 1 478 399A6.5 6.5 0 0 1 483 389A6.5 6.5 0 0 1 490 382A6.5 6.5 0 0 1 501 383A6.5 6.5 0 0 1 510 386A6.5 6.5 0 0 1 517 394A6.5 6.5 0 0 1 517 404A6.5 6.5 0 0 1 514 414ZM504 443A6.1 6.1 0 0 1 499 452A6.1 6.1 0 0 1 490 456A6.1 6.1 0 0 1 480 455A6.1 6.1 0 0 1 473 449A6.1 6.1 0 0 1 469 440A6.1 6.1 0 0 1 472 431A6.1 6.1 0 0 1 478 424A6.1 6.1 0 0 1 488 423A6.1 6.1 0 0 1 497 425A6.1 6.1 0 0 1 502 434A6.1 6.1 0 0 1 504 443ZM487 491A6.4 6.4 0 0 1 478 497A6.4 6.4 0 0 1 469 497A6.4 6.4 0 0 1 459 494A6.4 6.4 0 0 1 454 485A6.4 6.4 0 0 1 454 474A6.4 6.4 0 0 1 461 467A6.4 6.4 0 0 1 470 463A6.4 6.4 0 0 1 480 465A6.4 6.4 0 0 1 488 471A6.4 6.4 0 0 1 490 481A6.4 6.4 0 0 1 487 491ZM472 527A6.2 6.2 0 0 1 466 535A6.2 6.2 0 0 1 457 538A6.2 6.2 0 0 1 447 537A6.2 6.2 0 0 1 440 530A6.2 6.2 0 0 1 436 522A6.2 6.2 0 0 1 437 513A6.2 6.2 0 0 1 443 505A6.2 6.2 0 0 1 452 501A6.2 6.2 0 0 1 462 502A6.2 6.2 0 0 1 469 509A6.2 6.2 0 0 1 472 518A6.2 6.2 0 0 1 472 527ZM457 567A6.4 6.4 0 0 1 451 575A6.4 6.4 0 0 1 441 579A6.4 6.4 0 0 1 432 576A6.4 6.4 0 0 1 424 570A6.4 6.4 0 0 1 420 561A6.4 6.4 0 0 1 423 551A6.4 6.4 0 0 1 429 544A6.4 6.4 0 0 1 438 540A6.4 6.4 0 0 1 448 542A6.4 6.4 0 0 1 455 549A6.4 6.4 0 0 1 459 558A6.4 6.4 0 0 1 457 567ZM438 644A6.1 6.1 0 0 1 433 652A6.1 6.1 0 0 1 426 658A6.1 6.1 0 0 1 416 658A6.1 6.1 0 0 1 407 656A6.1 6.1 0 0 1 401 648A6.1 6.1 0 0 1 398 639A6.1 6.1 0 0 1 400 629A6.1 6.1 0 0 1 407 622A6.1 6.1 0 0 1 416 620A6.1 6.1 0 0 1 425 621A6.1 6.1 0 0 1 434 625A6.1 6.1 0 0 1 438 634A6.1 6.1 0 0 1 438 644ZM417 700A6.2 6.2 0 0 1 413 709A6.2 6.2 0 0 1 404 713A6.2 6.2 0 0 1 395 715A6.2 6.2 0 0 1 385 712A6.2 6.2 0 0 1 379 705A6.2 6.2 0 0 1 376 695A6.2 6.2 0 0 1 380 686A6.2 6.2 0 0 1 385 678A6.2 6.2 0 0 1 395 675A6.2 6.2 0 0 1 404 677A6.2 6.2 0 0 1 412 682A6.2 6.2 0 0 1 416 690A6.2 6.2 0 0 1 417 700ZM396 761A6.3 6.3 0 0 1 389 769A6.3 6.3 0 0 1 381 774A6.3 6.3 0 0 1 371 771A6.3 6.3 0 0 1 363 766A6.3 6.3 0 0 1 360 756A6.3 6.3 0 0 1 361 747A6.3 6.3 0 0 1 367 739A6.3 6.3 0 0 1 376 735A6.3 6.3 0 0 1 386 736A6.3 6.3 0 0 1 393 742A6.3 6.3 0 0 1 397 751A6.3 6.3 0 0 1 396 761ZM377 811A6.3 6.3 0 0 1 373 821A6.3 6.3 0 0 1 367 828A6.3 6.3 0 0 1 357 830A6.3 6.3 0 0 1 348 828A6.3 6.3 0 0 1 339 822A6.3 6.3 0 0 1 335 813A6.3 6.3 0 0 1 335 803A6.3 6.3 0 0 1 341 794A6.3 6.3 0 0 1 350 790A6.3 6.3 0 0 1 360 788A6.3 6.3 0 0 1 368 794A6.3 6.3 0 0 1 376 801A6.3 6.3 0 0 1 377 811ZM342 881A6.6 6.6 0 0 1 332 883A6.6 6.6 0 0 1 322 881A6.6 6.6 0 0 1 314 875A6.6 6.6 0 0 1 313 864A6.6 6.6 0 0 1 317 855A6.6 6.6 0 0 1 325 849A6.6 6.6 0 0 1 335 848A6.6 6.6 0 0 1 344 852A6.6 6.6 0 0 1 348 862A6.6 6.6 0 0 1 348 872A6.6 6.6 0 0 1 342 881ZM329 927A6.4 6.4 0 0 1 324 936A6.4 6.4 0 0 1 314 939A6.4 6.4 0 0 1 305 937A6.4 6.4 0 0 1 296 932A6.4 6.4 0 0 1 295 922A6.4 6.4 0 0 1 297 912A6.4 6.4 0 0 1 305 906A6.4 6.4 0 0 1 315 904A6.4 6.4 0 0 1 325 908A6.4 6.4 0 0 1 329 918A6.4 6.4 0 0 1 329 927ZM305 989A6.2 6.2 0 0 1 296 994A6.2 6.2 0 0 1 287 996A6.2 6.2 0 0 1 278 993A6.2 6.2 0 0 1 271 987A6.2 6.2 0 0 1 269 978A6.2 6.2 0 0 1 269 969A6.2 6.2 0 0 1 275 962A6.2 6.2 0 0 1 283 957A6.2 6.2 0 0 1 293 958A6.2 6.2 0 0 1 302 961A6.2 6.2 0 0 1 307 970A6.2 6.2 0 0 1 308 980A6.2 6.2 0 0 1 305 989ZM279 1049A6.1 6.1 0 0 1 270 1054A6.1 6.1 0 0 1 261 1052A6.1 6.1 0 0 1 252 1049A6.1 6.1 0 0 1 247 1041A6.1 6.1 0 0 1 246 1031A6.1 6.1 0 0 1 248 1022A6.1 6.1 0 0 1 254 1014A6.1 6.1 0 0 1 264 1013A6.1 6.1 0 0 1 273 1011A6.1 6.1 0 0 1 282 1016A6.1 6.1 0 0 1 287 1024A6.1 6.1 0 0 1 287 1034A6.1 6.1 0 0 1 286 1043A6.1 6.1 0 0 1 279 1049ZM258 1106A6.4 6.4 0 0 1 249 1111A6.4 6.4 0 0 1 239 1110A6.4 6.4 0 0 1 231 1104A6.4 6.4 0 0 1 225 1096A6.4 6.4 0 0 1 224 1085A6.4 6.4 0 0 1 229 1077A6.4 6.4 0 0 1 237 1071A6.4 6.4 0 0 1 247 1069A6.4 6.4 0 0 1 256 1072A6.4 6.4 0 0 1 264 1079A6.4 6.4 0 0 1 265 1089A6.4 6.4 0 0 1 263 1098A6.4 6.4 0 0 1 258 1106ZM246 1153A6.4 6.4 0 0 1 241 1163A6.4 6.4 0 0 1 232 1169A6.4 6.4 0 0 1 222 1170A6.4 6.4 0 0 1 213 1166A6.4 6.4 0 0 1 207 1158A6.4 6.4 0 0 1 204 1148A6.4 6.4 0 0 1 207 1139A6.4 6.4 0 0 1 212 1131A6.4 6.4 0 0 1 222 1128A6.4 6.4 0 0 1 232 1129A6.4 6.4 0 0 1 239 1135A6.4 6.4 0 0 1 246 1143A6.4 6.4 0 0 1 246 1153ZM219 1215A6.2 6.2 0 0 1 212 1222A6.2 6.2 0 0 1 202 1224A6.2 6.2 0 0 1 193 1221A6.2 6.2 0 0 1 185 1216A6.2 6.2 0 0 1 182 1207A6.2 6.2 0 0 1 183 1197A6.2 6.2 0 0 1 189 1189A6.2 6.2 0 0 1 197 1185A6.2 6.2 0 0 1 206 1185A6.2 6.2 0 0 1 216 1188A6.2 6.2 0 0 1 221 1197A6.2 6.2 0 0 1 221 1206A6.2 6.2 0 0 1 219 1215ZM196 1264A6.5 6.5 0 0 1 191 1273A6.5 6.5 0 0 1 182 1277A6.5 6.5 0 0 1 172 1277A6.5 6.5 0 0 1 164 1270A6.5 6.5 0 0 1 161 1260A6.5 6.5 0 0 1 164 1251A6.5 6.5 0 0 1 171 1243A6.5 6.5 0 0 1 181 1243A6.5 6.5 0 0 1 191 1246A6.5 6.5 0 0 1 196 1255A6.5 6.5 0 0 1 196 1264ZM129 1396A6.2 6.2 0 0 1 120 1399A6.2 6.2 0 0 1 110 1398A6.2 6.2 0 0 1 103 1391A6.2 6.2 0 0 1 100 1382A6.2 6.2 0 0 1 102 1372A6.2 6.2 0 0 1 109 1366A6.2 6.2 0 0 1 118 1363A6.2 6.2 0 0 1 127 1365A6.2 6.2 0 0 1 135 1370A6.2 6.2 0 0 1 137 1380A6.2 6.2 0 0 1 136 1389A6.2 6.2 0 0 1 129 1396ZM124 1443A6.1 6.1 0 0 1 121 1451A6.1 6.1 0 0 1 114 1457A6.1 6.1 0 0 1 105 1459A6.1 6.1 0 0 1 96 1455A6.1 6.1 0 0 1 91 1447A6.1 6.1 0 0 1 91 1437A6.1 6.1 0 0 1 97 1430A6.1 6.1 0 0 1 106 1426A6.1 6.1 0 0 1 115 1427A6.1 6.1 0 0 1 122 1433A6.1 6.1 0 0 1 124 1443ZM111 1515A6.2 6.2 0 0 1 105 1522A6.2 6.2 0 0 1 95 1525A6.2 6.2 0 0 1 87 1520A6.2 6.2 0 0 1 80 1514A6.2 6.2 0 0 1 77 1504A6.2 6.2 0 0 1 80 1495A6.2 6.2 0 0 1 88 1490A6.2 6.2 0 0 1 97 1486A6.2 6.2 0 0 1 106 1489A6.2 6.2 0 0 1 112 1497A6.2 6.2 0 0 1 115 1506A6.2 6.2 0 0 1 111 1515ZM101 1582A6.1 6.1 0 0 1 94 1588A6.1 6.1 0 0 1 85 1590A6.1 6.1 0 0 1 76 1587A6.1 6.1 0 0 1 70 1579A6.1 6.1 0 0 1 69 1570A6.1 6.1 0 0 1 71 1561A6.1 6.1 0 0 1 79 1555A6.1 6.1 0 0 1 88 1553A6.1 6.1 0 0 1 97 1556A6.1 6.1 0 0 1 104 1563A6.1 6.1 0 0 1 106 1573A6.1 6.1 0 0 1 101 1582ZM1379 713A6.1 6.1 0 0 1 1371 720A6.1 6.1 0 0 1 1362 721A6.1 6.1 0 0 1 1352 720A6.1 6.1 0 0 1 1346 713A6.1 6.1 0 0 1 1341 704A6.1 6.1 0 0 1 1344 695A6.1 6.1 0 0 1 1348 687A6.1 6.1 0 0 1 1356 683A6.1 6.1 0 0 1 1366 681A6.1 6.1 0 0 1 1374 686A6.1 6.1 0 0 1 1379 694A6.1 6.1 0 0 1 1380 703A6.1 6.1 0 0 1 1379 713ZM1412 744A6.3 6.3 0 0 1 1403 749A6.3 6.3 0 0 1 1394 750A6.3 6.3 0 0 1 1385 747A6.3 6.3 0 0 1 1378 740A6.3 6.3 0 0 1 1377 730A6.3 6.3 0 0 1 1381 721A6.3 6.3 0 0 1 1389 715A6.3 6.3 0 0 1 1399 714A6.3 6.3 0 0 1 1408 717A6.3 6.3 0 0 1 1414 725A6.3 6.3 0 0 1 1416 735A6.3 6.3 0 0 1 1412 744ZM1450 768A6.5 6.5 0 0 1 1446 778A6.5 6.5 0 0 1 1437 784A6.5 6.5 0 0 1 1427 783A6.5 6.5 0 0 1 1419 778A6.5 6.5 0 0 1 1412 771A6.5 6.5 0 0 1 1412 760A6.5 6.5 0 0 1 1416 751A6.5 6.5 0 0 1 1425 746A6.5 6.5 0 0 1 1436 744A6.5 6.5 0 0 1 1444 750A6.5 6.5 0 0 1 1449 759A6.5 6.5 0 0 1 1450 768ZM1475 811A6.1 6.1 0 0 1 1466 815A6.1 6.1 0 0 1 1457 812A6.1 6.1 0 0 1 1449 807A6.1 6.1 0 0 1 1446 798A6.1 6.1 0 0 1 1448 789A6.1 6.1 0 0 1 1454 781A6.1 6.1 0 0 1 1463 778A6.1 6.1 0 0 1 1473 778A6.1 6.1 0 0 1 1479 786A6.1 6.1 0 0 1 1482 794A6.1 6.1 0 0 1 1482 804A6.1 6.1 0 0 1 1475 811ZM1512 847A6.3 6.3 0 0 1 1503 850A6.3 6.3 0 0 1 1493 849A6.3 6.3 0 0 1 1485 843A6.3 6.3 0 0 1 1482 834A6.3 6.3 0 0 1 1483 824A6.3 6.3 0 0 1 1489 817A6.3 6.3 0 0 1 1498 812A6.3 6.3 0 0 1 1507 814A6.3 6.3 0 0 1 1516 819A6.3 6.3 0 0 1 1519 829A6.3 6.3 0 0 1 1518 839A6.3 6.3 0 0 1 1512 847ZM1574 968A6.2 6.2 0 0 1 1567 974A6.2 6.2 0 0 1 1557 977A6.2 6.2 0 0 1 1548 973A6.2 6.2 0 0 1 1543 965A6.2 6.2 0 0 1 1542 955A6.2 6.2 0 0 1 1547 947A6.2 6.2 0 0 1 1556 943A6.2 6.2 0 0 1 1565 944A6.2 6.2 0 0 1 1573 949A6.2 6.2 0 0 1 1577 958A6.2 6.2 0 0 1 1574 968ZM1592 1018A6.6 6.6 0 0 1 1584 1025A6.6 6.6 0 0 1 1574 1027A6.6 6.6 0 0 1 1565 1023A6.6 6.6 0 0 1 1559 1015A6.6 6.6 0 0 1 1558 1004A6.6 6.6 0 0 1 1564 996A6.6 6.6 0 0 1 1573 991A6.6 6.6 0 0 1 1583 991A6.6 6.6 0 0 1 1590 999A6.6 6.6 0 0 1 1594 1008A6.6 6.6 0 0 1 1592 1018ZM1610 1067A6.4 6.4 0 0 1 1604 1074A6.4 6.4 0 0 1 1595 1078A6.4 6.4 0 0 1 1585 1075A6.4 6.4 0 0 1 1578 1069A6.4 6.4 0 0 1 1575 1059A6.4 6.4 0 0 1 1577 1050A6.4 6.4 0 0 1 1583 1043A6.4 6.4 0 0 1 1592 1039A6.4 6.4 0 0 1 1602 1041A6.4 6.4 0 0 1 1610 1047A6.4 6.4 0 0 1 1612 1057A6.4 6.4 0 0 1 1610 1067ZM1629 1107A6.4 6.4 0 0 1 1625 1117A6.4 6.4 0 0 1 1616 1122A6.4 6.4 0 0 1 1607 1124A6.4 6.4 0 0 1 1598 1118A6.4 6.4 0 0 1 1593 1109A6.4 6.4 0 0 1 1595 1100A6.4 6.4 0 0 1 1600 1091A6.4 6.4 0 0 1 1610 1088A6.4 6.4 0 0 1 1619 1090A6.4 6.4 0 0 1 1626 1098A6.4 6.4 0 0 1 1629 1107ZM1641 1164A6.1 6.1 0 0 1 1634 1169A6.1 6.1 0 0 1 1624 1170A6.1 6.1 0 0 1 1615 1166A6.1 6.1 0 0 1 1610 1157A6.1 6.1 0 0 1 1611 1148A6.1 6.1 0 0 1 1614 1139A6.1 6.1 0 0 1 1623 1134A6.1 6.1 0 0 1 1632 1134A6.1 6.1 0 0 1 1641 1138A6.1 6.1 0 0 1 1646 1146A6.1 6.1 0 0 1 1647 1156A6.1 6.1 0 0 1 1641 1164ZM1658 1210A6.4 6.4 0 0 1 1651 1216A6.4 6.4 0 0 1 1641 1219A6.4 6.4 0 0 1 1632 1215A6.4 6.4 0 0 1 1628 1206A6.4 6.4 0 0 1 1629 1196A6.4 6.4 0 0 1 1636 1189A6.4 6.4 0 0 1 1645 1188A6.4 6.4 0 0 1 1654 1191A6.4 6.4 0 0 1 1659 1200A6.4 6.4 0 0 1 1658 1210ZM1676 1261A6.2 6.2 0 0 1 1670 1268A6.2 6.2 0 0 1 1660 1269A6.2 6.2 0 0 1 1651 1268A6.2 6.2 0 0 1 1645 1261A6.2 6.2 0 0 1 1642 1252A6.2 6.2 0 0 1 1644 1242A6.2 6.2 0 0 1 1651 1236A6.2 6.2 0 0 1 1660 1233A6.2 6.2 0 0 1 1670 1235A6.2 6.2 0 0 1 1676 1242A6.2 6.2 0 0 1 1680 1252A6.2 6.2 0 0 1 1676 1261ZM1393 939A6.6 6.6 0 0 1 1385 945A6.6 6.6 0 0 1 1375 945A6.6 6.6 0 0 1 1366 940A6.6 6.6 0 0 1 1363 929A6.6 6.6 0 0 1 1366 920A6.6 6.6 0 0 1 1375 914A6.6 6.6 0 0 1 1385 913A6.6 6.6 0 0 1 1394 919A6.6 6.6 0 0 1 1397 929A6.6 6.6 0 0 1 1393 939ZM1430 951A6.2 6.2 0 0 1 1422 956A6.2 6.2 0 0 1 1412 954A6.2 6.2 0 0 1 1405 947A6.2 6.2 0 0 1 1404 937A6.2 6.2 0 0 1 1408 928A6.2 6.2 0 0 1 1418 924A6.2 6.2 0 0 1 1427 927A6.2 6.2 0 0 1 1434 933A6.2 6.2 0 0 1 1435 943A6.2 6.2 0 0 1 1430 951ZM1477 963A6.5 6.5 0 0 1 1468 968A6.5 6.5 0 0 1 1458 970A6.5 6.5 0 0 1 1448 965A6.5 6.5 0 0 1 1444 955A6.5 6.5 0 0 1 1445 945A6.5 6.5 0 0 1 1451 936A6.5 6.5 0 0 1 1461 934A6.5 6.5 0 0 1 1471 936A6.5 6.5 0 0 1 1477 944A6.5 6.5 0 0 1 1480 953A6.5 6.5 0 0 1 1477 963ZM1316 903A6 6 0 0 1 1312 911A6 6 0 0 1 1304 917A6 6 0 0 1 1294 916A6 6 0 0 1 1286 911A6 6 0 0 1 1281 904A6 6 0 0 1 1281 894A6 6 0 0 1 1286 886A6 6 0 0 1 1293 880A6 6 0 0 1 1303 882A6 6 0 0 1 1311 885A6 6 0 0 1 1316 893A6 6 0 0 1 1316 903ZM1272 898A6.4 6.4 0 0 1 1267 907A6.4 6.4 0 0 1 1257 909A6.4 6.4 0 0 1 1247 906A6.4 6.4 0 0 1 1240 899A6.4 6.4 0 0 1 1238 889A6.4 6.4 0 0 1 1243 880A6.4 6.4 0 0 1 1251 875A6.4 6.4 0 0 1 1261 875A6.4 6.4 0 0 1 1270 880A6.4 6.4 0 0 1 1274 889A6.4 6.4 0 0 1 1272 898ZM1224 898A6.5 6.5 0 0 1 1215 903A6.5 6.5 0 0 1 1206 901A6.5 6.5 0 0 1 1196 897A6.5 6.5 0 0 1 1192 888A6.5 6.5 0 0 1 1190 878A6.5 6.5 0 0 1 1195 869A6.5 6.5 0 0 1 1202 863A6.5 6.5 0 0 1 1212 861A6.5 6.5 0 0 1 1222 863A6.5 6.5 0 0 1 1229 870A6.5 6.5 0 0 1 1232 880A6.5 6.5 0 0 1 1230 890A6.5 6.5 0 0 1 1224 898ZM1177 885A6.1 6.1 0 0 1 1169 890A6.1 6.1 0 0 1 1159 888A6.1 6.1 0 0 1 1150 885A6.1 6.1 0 0 1 1144 877A6.1 6.1 0 0 1 1144 867A6.1 6.1 0 0 1 1148 859A6.1 6.1 0 0 1 1154 852A6.1 6.1 0 0 1 1164 849A6.1 6.1 0 0 1 1173 853A6.1 6.1 0 0 1 1180 858A6.1 6.1 0 0 1 1184 867A6.1 6.1 0 0 1 1182 877A6.1 6.1 0 0 1 1177 885ZM1137 871A6.1 6.1 0 0 1 1131 878A6.1 6.1 0 0 1 1122 881A6.1 6.1 0 0 1 1113 881A6.1 6.1 0 0 1 1104 876A6.1 6.1 0 0 1 1100 867A6.1 6.1 0 0 1 1101 858A6.1 6.1 0 0 1 1104 849A6.1 6.1 0 0 1 1112 843A6.1 6.1 0 0 1 1121 841A6.1 6.1 0 0 1 1130 845A6.1 6.1 0 0 1 1137 852A6.1 6.1 0 0 1 1140 861A6.1 6.1 0 0 1 1137 871Z"/>
</g>
<g fill="#857f55" opacity="0.9">
<rect x="511.3" y="577.5" width="3" height="3" fill="#7a7460"/>
<rect x="752.1" y="663.2" width="3" height="3" fill="#7a7460"/>
<circle cx="696.6" cy="661.2" r="1.8"/>
<circle cx="817.8" cy="690" r="1.3"/>
<rect x="590" y="605.3" width="3" height="3" fill="#7a7460"/>
<circle cx="491.5" cy="642.4" r="2"/>
<circle cx="476.7" cy="689.6" r="3"/>
<circle cx="653.3" cy="848.7" r="3.4"/>
<circle cx="609.9" cy="798.6" r="1.1"/>
<circle cx="771.1" cy="755.8" r="1.9"/>
<circle cx="567.4" cy="848.5" r="1.6"/>
<rect x="623.1" y="682.7" width="3" height="3" fill="#7a7460"/>
<circle cx="690.7" cy="733.9" r="3.3"/>
<circle cx="546.4" cy="716.5" r="3.1"/>
<circle cx="748.6" cy="793.8" r="2.4"/>
<circle cx="702.4" cy="784.8" r="1.7"/>
<circle cx="666.1" cy="806.4" r="1.7"/>
<circle cx="506.8" cy="725.8" r="1.7"/>
<circle cx="578.7" cy="671.1" r="1.8"/>
<circle cx="535.4" cy="764.6" r="3.1"/>
<circle cx="488.5" cy="776.2" r="1.7"/>
<circle cx="536.3" cy="680.9" r="3.7"/>
<circle cx="804.1" cy="791.3" r="1.2"/>
<circle cx="657.3" cy="749.7" r="1.7"/>
<circle cx="809.4" cy="733.5" r="3"/>
<circle cx="524.2" cy="834" r="2"/>
<circle cx="605" cy="860.3" r="1.3"/>
<rect x="587.8" y="724.9" width="3" height="3" fill="#7a7460"/>
<rect x="682.3" y="691.5" width="3" height="3" fill="#7a7460"/>
<circle cx="572.3" cy="768.3" r="1.6"/>
<circle cx="446.8" cy="732.9" r="2.6"/>
<circle cx="737.9" cy="714" r="3"/>
<circle cx="450.4" cy="827.7" r="2.5"/>
<circle cx="473.2" cy="1001.7" r="3"/>
<circle cx="458.2" cy="891.6" r="1.7"/>
<circle cx="500.6" cy="874.5" r="3.7"/>
<circle cx="441.1" cy="953.1" r="2.4"/>
<circle cx="540.6" cy="907.6" r="1.5"/>
<rect x="499.8" y="973.3" width="3" height="3" fill="#7a7460"/>
<circle cx="535.3" cy="1011" r="2.6"/>
<circle cx="393.9" cy="994.2" r="1.1"/>
<circle cx="369.2" cy="961.5" r="3.5"/>
<circle cx="482.9" cy="939.2" r="1.8"/>
<circle cx="432.1" cy="794.9" r="1.3"/>
<circle cx="371.8" cy="924.5" r="2"/>
<circle cx="539.1" cy="948.5" r="1.6"/>
<rect x="404.5" y="907.4" width="3" height="3" fill="#7a7460"/>
<circle cx="745.3" cy="895.3" r="3"/>
<circle cx="742" cy="957.1" r="3.1"/>
<circle cx="683.8" cy="903.7" r="2"/>
<rect x="803.1" y="849.6" width="3" height="3" fill="#7a7460"/>
<circle cx="794.7" cy="1049.2" r="1.7"/>
<rect x="765" y="861" width="3" height="3" fill="#7a7460"/>
<circle cx="803.2" cy="987.1" r="1.1"/>
<circle cx="693.9" cy="992.9" r="2.5"/>
<circle cx="781.5" cy="932.5" r="1.8"/>
<circle cx="679" cy="941.3" r="1.6"/>
<circle cx="815" cy="889.1" r="1.5"/>
<circle cx="759.9" cy="1032.2" r="1.7"/>
<rect x="1062.3" y="957.9" width="3" height="3" fill="#7a7460"/>
<circle cx="937.1" cy="901.9" r="1.5"/>
<rect x="907.4" y="1043" width="3" height="3" fill="#7a7460"/>
<circle cx="881.4" cy="959.5" r="1.7"/>
<circle cx="945.6" cy="951.3" r="2.7"/>
<circle cx="908.3" cy="1006.8" r="3.2"/>
<circle cx="868.4" cy="1009.2" r="1.6"/>
<circle cx="948.5" cy="1033.5" r="2.6"/>
<circle cx="957.8" cy="997" r="1.3"/>
<circle cx="1013.1" cy="930.7" r="1.1"/>
<circle cx="1020.3" cy="971.1" r="1.9"/>
<circle cx="877.5" cy="1092.7" r="1.5"/>
<circle cx="989.9" cy="902.5" r="2.5"/>
<circle cx="886.5" cy="918" r="3.6"/>
<rect x="869.2" y="880.8" width="3" height="3" fill="#7a7460"/>
<rect x="999.5" y="819.3" width="3" height="3" fill="#7a7460"/>
<circle cx="946.3" cy="794.4" r="3.2"/>
<circle cx="938" cy="832.2" r="1.7"/>
<circle cx="1036" cy="852.7" r="1.4"/>
<circle cx="994" cy="861.9" r="1.2"/>
<circle cx="1070.9" cy="880.4" r="1.4"/>
<circle cx="980.2" cy="781.7" r="1.7"/>
<circle cx="1047" cy="800.4" r="1.3"/>
<circle cx="1114.2" cy="900.6" r="1.8"/>
<circle cx="1343.5" cy="978.5" r="2.9"/>
<circle cx="1248.7" cy="969.1" r="1.6"/>
<circle cx="1179.1" cy="912.7" r="1.7"/>
<rect x="1158.1" y="865.2" width="3" height="3" fill="#7a7460"/>
<circle cx="1249.6" cy="912" r="1.9"/>
<circle cx="1392.5" cy="960.7" r="1.6"/>
<rect x="1192.3" y="843" width="3" height="3" fill="#7a7460"/>
<rect x="1368" y="913.6" width="3" height="3" fill="#7a7460"/>
<circle cx="1143.6" cy="930.5" r="1.7"/>
<circle cx="1302.7" cy="898.6" r="1.2"/>
<circle cx="1197.5" cy="955.3" r="1.7"/>
<circle cx="1460.5" cy="960.3" r="1"/>
<rect x="1144.2" y="812.2" width="3" height="3" fill="#7a7460"/>
<circle cx="1295.4" cy="972.3" r="2.5"/>
<circle cx="1266.1" cy="849.2" r="2.6"/>
<circle cx="1425.8" cy="936.8" r="2.5"/>
<circle cx="1208.4" cy="879.6" r="3.5"/>
<circle cx="1283.7" cy="1147.7" r="2"/>
<circle cx="1219.4" cy="996.2" r="1"/>
<circle cx="1387.4" cy="1059.9" r="3.3"/>
<circle cx="1351.1" cy="1275.5" r="3.1"/>
<circle cx="1290.3" cy="1225.7" r="1.8"/>
<circle cx="1359.3" cy="1153.6" r="1.9"/>
<circle cx="1258.2" cy="1019.5" r="1.7"/>
<rect x="1302.8" y="1189.7" width="3" height="3" fill="#7a7460"/>
<circle cx="1216.9" cy="1112.3" r="1.9"/>
<circle cx="1373.3" cy="1108.2" r="1.3"/>
<circle cx="1185" cy="1014.5" r="1.5"/>
<circle cx="1331.9" cy="1083" r="1.2"/>
<circle cx="1263.6" cy="1102.2" r="2"/>
<circle cx="1238.4" cy="1063.3" r="1.8"/>
<circle cx="1295.9" cy="1013.2" r="1.5"/>
<circle cx="1365.6" cy="1234.1" r="3"/>
<circle cx="1190.5" cy="1193.8" r="1.7"/>
<circle cx="1401.1" cy="1169.2" r="1.9"/>
<circle cx="1194.3" cy="1233.2" r="3.6"/>
<circle cx="1340.6" cy="1017.9" r="3.8"/>
<circle cx="1318.7" cy="1137" r="1.9"/>
<rect x="1319.9" y="1248.6" width="3" height="3" fill="#7a7460"/>
<circle cx="1174.1" cy="1072.8" r="1.8"/>
<circle cx="1189.8" cy="1148.9" r="1.4"/>
<circle cx="1251.2" cy="1268.9" r="2.4"/>
<circle cx="1232.6" cy="1162.6" r="1.7"/>
<circle cx="1291" cy="1067.7" r="3"/>
<rect x="1202" y="1045.7" width="3" height="3" fill="#7a7460"/>
<circle cx="1366.5" cy="1196.4" r="3.4"/>
<rect x="1579.6" y="1157.6" width="3" height="3" fill="#7a7460"/>
<circle cx="1449.6" cy="1126" r="1.6"/>
<rect x="1514.4" y="1177.9" width="3" height="3" fill="#7a7460"/>
<circle cx="1485.8" cy="1078.6" r="1.5"/>
<circle cx="1574.8" cy="1084.8" r="1.4"/>
<circle cx="1578.5" cy="1217.6" r="1.5"/>
<circle cx="1442.8" cy="1246.5" r="1.8"/>
<rect x="1439.1" y="1177.4" width="3" height="3" fill="#7a7460"/>
<circle cx="1550.7" cy="1112.5" r="3.1"/>
<circle cx="1483.4" cy="1260.8" r="2.9"/>
<circle cx="1515.6" cy="1133.2" r="1.4"/>
<circle cx="1622" cy="1262.9" r="3.7"/>
<circle cx="1441" cy="1068.4" r="1.1"/>
<circle cx="1526.7" cy="1214.6" r="1.1"/>
<rect x="1567.3" y="1279.5" width="3" height="3" fill="#7a7460"/>
<circle cx="1487.2" cy="1223.9" r="1.7"/>
<circle cx="1478.9" cy="1186.3" r="1.6"/>
<circle cx="1617.3" cy="1205.8" r="1.6"/>
<circle cx="1580.1" cy="1436.9" r="2.6"/>
<circle cx="1424.7" cy="1473.1" r="2"/>
<circle cx="1393.8" cy="1447.3" r="2.8"/>
<circle cx="1197.3" cy="1401.1" r="2.7"/>
<circle cx="1198.4" cy="1468.1" r="2.9"/>
<circle cx="1355.1" cy="1363.5" r="1.8"/>
<circle cx="1438.1" cy="1327.2" r="1.6"/>
<circle cx="1318.9" cy="1493.3" r="1"/>
<circle cx="1396.5" cy="1499.2" r="1.9"/>
<rect x="1544.9" y="1510.1" width="3" height="3" fill="#7a7460"/>
<circle cx="1512.5" cy="1369.8" r="1.3"/>
<circle cx="1478.7" cy="1466.1" r="2"/>
<rect x="1359.8" y="1480.2" width="3" height="3" fill="#7a7460"/>
<circle cx="1324.3" cy="1441" r="3"/>
<rect x="1495.6" y="1333.9" width="3" height="3" fill="#7a7460"/>
<circle cx="1323.8" cy="1312.9" r="3.1"/>
<circle cx="1348.6" cy="1414" r="1.4"/>
<rect x="1254.1" y="1407.8" width="3" height="3" fill="#7a7460"/>
<circle cx="1551.3" cy="1334.7" r="1.1"/>
<circle cx="1581.7" cy="1392.9" r="1.5"/>
<rect x="1279.1" y="1324.4" width="3" height="3" fill="#7a7460"/>
<circle cx="1531.4" cy="1442.5" r="1.9"/>
<circle cx="1407.8" cy="1389.2" r="3.8"/>
<circle cx="1394" cy="1333.2" r="2.7"/>
<circle cx="1302.1" cy="1404.8" r="2.9"/>
<circle cx="1207.7" cy="1508" r="1.9"/>
<circle cx="1481.5" cy="1509.6" r="2"/>
<circle cx="1199.6" cy="1311.2" r="2.7"/>
<circle cx="1584.5" cy="1351.2" r="1"/>
<circle cx="1498.3" cy="1418.4" r="1.9"/>
<circle cx="1451.2" cy="1395" r="1.4"/>
<rect x="1232.3" y="1378.3" width="3" height="3" fill="#7a7460"/>
<circle cx="1269.8" cy="1371.4" r="2"/>
<circle cx="1361.6" cy="1517.9" r="1.7"/>
<rect x="1604" y="1477.1" width="3" height="3" fill="#7a7460"/>
<circle cx="1192.9" cy="1354.1" r="1.8"/>
<circle cx="1288.9" cy="1514.5" r="3.8"/>
<circle cx="1595.5" cy="1535.3" r="1.1"/>
<rect x="1313.8" y="1364.1" width="3" height="3" fill="#7a7460"/>
<circle cx="1228.5" cy="1434.6" r="1.3"/>
<circle cx="1271.9" cy="1450.2" r="1.9"/>
<rect x="1568.1" y="1473.8" width="3" height="3" fill="#7a7460"/>
<circle cx="1239.2" cy="1627.9" r="1.8"/>
<circle cx="1395.3" cy="1597.8" r="1.6"/>
<circle cx="1260.1" cy="1587" r="1.9"/>
<circle cx="1480.8" cy="1597.7" r="2.7"/>
<circle cx="1356.3" cy="1582" r="2.5"/>
<circle cx="1308.3" cy="1572.3" r="1.9"/>
<circle cx="603.8" cy="1047.3" r="2.9"/>
<circle cx="576.6" cy="1112.6" r="1.4"/>
<circle cx="699.4" cy="1167.4" r="1.1"/>
<rect x="592" y="1208.1" width="3" height="3" fill="#7a7460"/>
<circle cx="740.4" cy="1107.9" r="1.4"/>
<circle cx="662" cy="1202.6" r="1.7"/>
<circle cx="761.6" cy="1240" r="1.9"/>
<circle cx="639.9" cy="1041.9" r="1.9"/>
<rect x="629.6" y="1001.8" width="3" height="3" fill="#7a7460"/>
<circle cx="819.6" cy="1145.2" r="1.5"/>
<circle cx="592.9" cy="1005.5" r="1.6"/>
<circle cx="764.9" cy="1158.9" r="3.8"/>
<circle cx="615.2" cy="1137.3" r="1.6"/>
<circle cx="752.1" cy="1203.5" r="3.6"/>
<circle cx="676.4" cy="1108.2" r="2.7"/>
<circle cx="799.1" cy="1220.8" r="3.5"/>
<circle cx="694.3" cy="1066.9" r="1.5"/>
<circle cx="678.7" cy="1019.3" r="1.9"/>
<circle cx="590.3" cy="962.2" r="1.8"/>
<circle cx="818.5" cy="1184.8" r="3.5"/>
<circle cx="700.1" cy="1211.9" r="1.7"/>
<circle cx="1080.9" cy="1328.8" r="1.1"/>
<rect x="982.1" y="1312.8" width="3" height="3" fill="#7a7460"/>
<circle cx="946" cy="1430.1" r="3.7"/>
<circle cx="899" cy="1467.5" r="3.4"/>
<circle cx="1127.4" cy="1501.2" r="1.6"/>
<circle cx="1081.8" cy="1445.9" r="3.7"/>
<circle cx="946" cy="1373.3" r="3"/>
<rect x="1045.3" y="1356.1" width="3" height="3" fill="#7a7460"/>
<circle cx="1141.3" cy="1307.6" r="3.1"/>
<rect x="1088" y="1365.5" width="3" height="3" fill="#7a7460"/>
<circle cx="936.2" cy="1467.2" r="1.9"/>
<circle cx="1047.5" cy="1480.4" r="1.4"/>
<circle cx="920" cy="1340.8" r="3.5"/>
<circle cx="1138.5" cy="1345.4" r="1.1"/>
<circle cx="1055.3" cy="1399.3" r="1.7"/>
<circle cx="1010.4" cy="1485.6" r="1.2"/>
<rect x="1143.2" y="1416.8" width="3" height="3" fill="#7a7460"/>
<circle cx="925.8" cy="1288.8" r="1.8"/>
<circle cx="989.8" cy="1355.2" r="1.7"/>
<circle cx="895.4" cy="1385.9" r="1.9"/>
<circle cx="1024.5" cy="1424.7" r="1.8"/>
<circle cx="890.8" cy="1428.6" r="1.5"/>
<circle cx="890.1" cy="1300.2" r="1.7"/>
<circle cx="1112.7" cy="1397.4" r="3.1"/>
<circle cx="880.3" cy="1339.4" r="1.2"/>
<circle cx="637.9" cy="1567.8" r="1.7"/>
<circle cx="682.4" cy="1494.6" r="2"/>
<circle cx="574.8" cy="1465.5" r="1.7"/>
<circle cx="560.1" cy="1532.5" r="1.6"/>
<rect x="592.4" y="1580.1" width="3" height="3" fill="#7a7460"/>
<rect x="619.9" y="1533.5" width="3" height="3" fill="#7a7460"/>
<circle cx="642.1" cy="1609.9" r="2.9"/>
<circle cx="615.8" cy="1499.1" r="1.6"/>
<rect x="690.8" y="1560" width="3" height="3" fill="#7a7460"/>
<circle cx="629.1" cy="1456.8" r="1.8"/>
<circle cx="749.8" cy="1575.7" r="2"/>
<circle cx="556.2" cy="1578.2" r="1.6"/>
<circle cx="657.4" cy="1533.2" r="3.7"/>
<circle cx="506.5" cy="1568.9" r="1.7"/>
<circle cx="226.6" cy="1454.1" r="2"/>
<circle cx="425.6" cy="1466.5" r="1.1"/>
<circle cx="260.4" cy="1409.6" r="2.6"/>
<rect x="482.9" y="1471.3" width="3" height="3" fill="#7a7460"/>
<circle cx="218.1" cy="1542.5" r="1.1"/>
<circle cx="474.6" cy="1520.2" r="1.2"/>
<circle cx="393.5" cy="1562.3" r="1.4"/>
<circle cx="300.5" cy="1436.6" r="3.4"/>
<rect x="365.3" y="1451.3" width="3" height="3" fill="#7a7460"/>
<circle cx="168.9" cy="1534.1" r="1.2"/>
<circle cx="289.2" cy="1378.5" r="1.8"/>
<circle cx="406.3" cy="1515.7" r="1.9"/>
<circle cx="350.4" cy="1412.9" r="3.3"/>
<circle cx="256.9" cy="1570.9" r="1.4"/>
<circle cx="310.1" cy="1567.4" r="1.6"/>
<circle cx="277" cy="1524" r="1.7"/>
<rect x="353" y="1537.5" width="3" height="3" fill="#7a7460"/>
<circle cx="291.2" cy="1478.2" r="1.6"/>
<rect x="411.5" y="1421.2" width="3" height="3" fill="#7a7460"/>
<circle cx="327.6" cy="1376.7" r="1.6"/>
<circle cx="205.5" cy="1498.9" r="1.7"/>
<circle cx="440.3" cy="1567" r="1"/>
<circle cx="467.3" cy="1425.4" r="3.6"/>
<circle cx="363.1" cy="1499" r="1.6"/>
<circle cx="418.8" cy="1137.1" r="1.3"/>
<circle cx="315.3" cy="1139.4" r="1.7"/>
<circle cx="343.6" cy="1104.9" r="1.5"/>
<rect x="519.5" y="1125.6" width="3" height="3" fill="#7a7460"/>
<circle cx="354.4" cy="1164.4" r="1.3"/>
<rect x="430.6" y="1071.4" width="3" height="3" fill="#7a7460"/>
<circle cx="378.5" cy="1052.4" r="1.5"/>
<circle cx="531.3" cy="1080.5" r="2"/>
<circle cx="466.2" cy="1140.7" r="1.7"/>
<rect x="387.2" y="1109.1" width="3" height="3" fill="#7a7460"/>
<circle cx="336.2" cy="1046.6" r="3.3"/>
<circle cx="318.3" cy="1078.5" r="1.9"/>
<rect x="458.1" y="1043.8" width="3" height="3" fill="#7a7460"/>
<circle cx="623.4" cy="1278.4" r="1.5"/>
<circle cx="582.9" cy="1357.4" r="1.6"/>
<circle cx="793.1" cy="1367.8" r="1.9"/>
<circle cx="708.5" cy="1282.2" r="1.5"/>
<circle cx="635.3" cy="1330.5" r="1.8"/>
<circle cx="739.2" cy="1403.6" r="1.9"/>
<circle cx="800.6" cy="1433.6" r="1.4"/>
<circle cx="728.9" cy="1332.9" r="1.9"/>
<circle cx="693.2" cy="1405.3" r="2.9"/>
<circle cx="554.5" cy="1292" r="1.5"/>
<circle cx="664.5" cy="1375.5" r="1.6"/>
<circle cx="769.7" cy="1288.9" r="3.7"/>
<rect x="798.9" y="1322.4" width="3" height="3" fill="#7a7460"/>
<circle cx="601.5" cy="1310" r="1.4"/>
<circle cx="714.9" cy="1373.7" r="1.1"/>
<circle cx="1101.3" cy="1137.9" r="2.7"/>
<circle cx="999.8" cy="1176.3" r="1.5"/>
<circle cx="1108.9" cy="1054.8" r="3.4"/>
<circle cx="1036.9" cy="1233.4" r="2"/>
<circle cx="913.2" cy="1233.9" r="1.9"/>
<circle cx="1017.8" cy="1052.2" r="1.9"/>
<circle cx="973.7" cy="1248.1" r="1.8"/>
<rect x="959.7" y="1207" width="3" height="3" fill="#7a7460"/>
<circle cx="1067.4" cy="1154.2" r="2"/>
<circle cx="909.3" cy="1128.3" r="1.7"/>
<circle cx="897.6" cy="1197.8" r="3"/>
<circle cx="1054.9" cy="1196.9" r="1.2"/>
<rect x="1145.7" y="1232.9" width="3" height="3" fill="#7a7460"/>
<circle cx="1095.6" cy="1262.8" r="3.6"/>
<rect x="1035.5" y="1124.3" width="3" height="3" fill="#7a7460"/>
<circle cx="1092.5" cy="1183.7" r="1.5"/>
<circle cx="1056" cy="1049.1" r="1.7"/>
<circle cx="1127.9" cy="1098.7" r="3.5"/>
<circle cx="957.3" cy="1137.7" r="3.3"/>
<circle cx="1024.9" cy="1091.2" r="3.6"/>
<circle cx="1063.1" cy="1087.3" r="1.6"/>
<circle cx="869.8" cy="1168.2" r="1.8"/>
<circle cx="504.3" cy="627.8" r="1.7"/>
<circle cx="542.1" cy="643.2" r="1.1"/>
<rect x="578.2" y="651.9" width="3" height="3" fill="#7a7460"/>
<circle cx="617.5" cy="667.1" r="1.9"/>
<circle cx="652.1" cy="681.9" r="0.8"/>
<rect x="686" y="696.3" width="3" height="3" fill="#7a7460"/>
<circle cx="726.7" cy="709.2" r="1.7"/>
<circle cx="763.5" cy="721.8" r="3.2"/>
<circle cx="799.5" cy="738.7" r="1.6"/>
<rect x="249.4" y="1572.4" width="3" height="3" fill="#7a7460"/>
<circle cx="272.5" cy="1573.7" r="1.2"/>
<circle cx="298.7" cy="1573.9" r="1.2"/>
<rect x="346.8" y="1574.6" width="3" height="3" fill="#7a7460"/>
<rect x="369.4" y="1573.5" width="3" height="3" fill="#7a7460"/>
<circle cx="396.4" cy="1574.2" r="1.2"/>
<rect x="420.7" y="1572.7" width="3" height="3" fill="#7a7460"/>
<rect x="445.8" y="1573.1" width="3" height="3" fill="#7a7460"/>
<rect x="469.7" y="1573.1" width="3" height="3" fill="#7a7460"/>
<rect x="1142.2" y="1129.7" width="3" height="3" fill="#7a7460"/>
<circle cx="1150.6" cy="1169.4" r="2"/>
<rect x="1564.8" y="1091" width="3" height="3" fill="#7a7460"/>
<circle cx="1591.9" cy="1126" r="1.4"/>
<circle cx="1650.9" cy="1437.9" r="2.7"/>
<circle cx="1651.6" cy="1481" r="2.7"/>
<circle cx="301.4" cy="998.7" r="2.8"/>
<rect x="692.8" y="991.2" width="3" height="3" fill="#7a7460"/>
<circle cx="724.8" cy="1021.1" r="1.6"/>
<circle cx="758.9" cy="1047.8" r="1"/>
<circle cx="788.2" cy="1074.7" r="0.9"/>
<circle cx="708.2" cy="1499.6" r="1.8"/>
<rect x="742.6" y="1538.6" width="3" height="3" fill="#7a7460"/>
<circle cx="989.9" cy="1589.2" r="1.3"/>
<circle cx="1029.7" cy="1591.3" r="1.2"/>
<rect x="1069.6" y="1588.8" width="3" height="3" fill="#7a7460"/>
<rect x="1109.4" y="1589.3" width="3" height="3" fill="#7a7460"/>
<circle cx="875.7" cy="989" r="1.2"/>
<rect x="912.5" y="966.8" width="3" height="3" fill="#7a7460"/>
<circle cx="948" cy="946.5" r="1.5"/>
<circle cx="986.3" cy="923.8" r="1"/>
<rect x="1059.8" y="879" width="3" height="3" fill="#7a7460"/>
<rect x="1097.7" y="818" width="3" height="3" fill="#7a7460"/>
<circle cx="1110.6" cy="860.1" r="2"/>
<circle cx="1124.4" cy="902.5" r="1.5"/>
<circle cx="1133.3" cy="944.4" r="1.8"/>
<circle cx="985" cy="512" r="0.8"/>
<circle cx="995.8" cy="517.8" r="0.8"/>
<circle cx="1006.5" cy="523.5" r="0.8"/>
<circle cx="1017.3" cy="529.2" r="0.8"/>
<circle cx="1028" cy="535" r="0.8"/>
<circle cx="1038.8" cy="540.6" r="0.8"/>
<circle cx="1049.5" cy="546.3" r="0.8"/>
<circle cx="1060.3" cy="551.9" r="0.8"/>
<circle cx="1071.1" cy="557.4" r="0.8"/>
<circle cx="1081.8" cy="562.9" r="0.8"/>
<circle cx="1092.6" cy="568.4" r="0.8"/>
<circle cx="1103.3" cy="573.7" r="0.8"/>
<circle cx="1114.1" cy="579.1" r="0.8"/>
<circle cx="1124.8" cy="584.3" r="0.8"/>
<circle cx="1135.6" cy="589.4" r="0.8"/>
<circle cx="1146.4" cy="594.5" r="0.8"/>
<circle cx="1157.1" cy="599.5" r="0.8"/>
<circle cx="1167.9" cy="604.4" r="0.8"/>
<circle cx="1178.6" cy="609.3" r="0.8"/>
<circle cx="1189.4" cy="614" r="0.8"/>
<circle cx="1200.2" cy="618.7" r="0.8"/>
<circle cx="1210.9" cy="623.3" r="0.8"/>
<circle cx="1221.7" cy="627.8" r="0.8"/>
<circle cx="1232.4" cy="632.2" r="0.8"/>
<circle cx="1243.2" cy="636.6" r="0.8"/>
<circle cx="1253.9" cy="640.8" r="0.8"/>
<circle cx="1264.7" cy="645.1" r="0.8"/>
<circle cx="1275.5" cy="649.3" r="0.8"/>
<circle cx="1286.2" cy="653.4" r="0.8"/>
<circle cx="1297" cy="657.4" r="0.8"/>
<circle cx="1307.7" cy="661.5" r="0.8"/>
<circle cx="1318.5" cy="665.5" r="0.8"/>
<circle cx="1329.2" cy="669.5" r="0.8"/>
<circle cx="1340" cy="673.4" r="0.8"/>
<rect x="557" y="358.4" width="3" height="3" fill="#7a7460"/>
<rect x="593.1" y="372.5" width="3" height="3" fill="#7a7460"/>
<circle cx="631.7" cy="386.4" r="1.8"/>
<rect x="668.3" y="397.5" width="3" height="3" fill="#7a7460"/>
<rect x="703.9" y="413.6" width="3" height="3" fill="#7a7460"/>
<circle cx="739.9" cy="428.5" r="1.8"/>
<rect x="775.2" y="440.3" width="3" height="3" fill="#7a7460"/>
<rect x="813.5" y="453.5" width="3" height="3" fill="#7a7460"/>
<rect x="847.4" y="469.3" width="3" height="3" fill="#7a7460"/>
<circle cx="888.3" cy="481.6" r="1.8"/>
<circle cx="923.9" cy="496.7" r="1.3"/>
<circle cx="958.5" cy="508.7" r="3.1"/>
<circle cx="498.1" cy="401.4" r="3.4"/>
<circle cx="486.3" cy="439.1" r="1.8"/>
<rect x="470.4" y="479" width="3" height="3" fill="#7a7460"/>
<circle cx="454.6" cy="519.9" r="2.7"/>
<rect x="438.3" y="557.8" width="3" height="3" fill="#7a7460"/>
<circle cx="418.5" cy="639" r="1.3"/>
<circle cx="397.1" cy="695" r="1.6"/>
<circle cx="378.2" cy="753.9" r="3"/>
<circle cx="356" cy="809.6" r="1.4"/>
<circle cx="330.9" cy="865.6" r="3.8"/>
<circle cx="312.2" cy="922" r="1"/>
<circle cx="287.7" cy="976.6" r="3.6"/>
<circle cx="266.9" cy="1032.6" r="3.5"/>
<circle cx="245.1" cy="1089.6" r="1.7"/>
<circle cx="224.5" cy="1148.3" r="3.3"/>
<circle cx="202.1" cy="1204.2" r="2.4"/>
<circle cx="119.2" cy="1380.6" r="1.6"/>
<circle cx="107.6" cy="1442.3" r="1.6"/>
<circle cx="96.1" cy="1505.3" r="2.6"/>
<circle cx="86.4" cy="1571.3" r="1.5"/>
<circle cx="1361.4" cy="701.3" r="1.7"/>
<circle cx="1396.2" cy="732.3" r="1.5"/>
<circle cx="1431.3" cy="764.5" r="1.7"/>
<circle cx="1464.4" cy="796" r="3.1"/>
<circle cx="1500.3" cy="831.1" r="1.6"/>
<circle cx="1559.1" cy="959.1" r="1.9"/>
<circle cx="1576.2" cy="1008.8" r="1"/>
<circle cx="1593.5" cy="1058.3" r="2.5"/>
<circle cx="1660.4" cy="1251.6" r="1.6"/>
<rect x="1378.3" y="927.8" width="3" height="3" fill="#7a7460"/>
<rect x="1418.1" y="938.6" width="3" height="3" fill="#7a7460"/>
<circle cx="1462" cy="951.6" r="1.6"/>
<circle cx="1298.5" cy="898.4" r="3.3"/>
<circle cx="1256.4" cy="891.5" r="1.3"/>
<circle cx="1211" cy="881.4" r="2.9"/>
<circle cx="1163.7" cy="869.6" r="1.4"/>
<circle cx="1119.3" cy="861.9" r="1.7"/>
</g></g>
<g id="details"><path d="M421 575L465 590L455 617L411 600Z" fill="#e2e2e2" />
<path d="M426 577L456 588L447 613L417 602Z" fill="#b9b9b9" />
<line x1="426.0" y1="577.0" x2="417.0" y2="602.0" stroke="#3a3a3a" stroke-width="0.7"/>
<line x1="428.7" y1="578.0" x2="419.7" y2="603.0" stroke="#3a3a3a" stroke-width="0.7"/>
<line x1="431.5" y1="579.0" x2="422.5" y2="604.0" stroke="#3a3a3a" stroke-width="0.7"/>
<line x1="434.2" y1="580.0" x2="425.2" y2="605.0" stroke="#3a3a3a" stroke-width="0.7"/>
<line x1="436.9" y1="581.0" x2="427.9" y2="606.0" stroke="#3a3a3a" stroke-width="0.7"/>
<line x1="439.6" y1="582.0" x2="430.6" y2="607.0" stroke="#3a3a3a" stroke-width="0.7"/>
<line x1="442.4" y1="583.0" x2="433.4" y2="608.0" stroke="#3a3a3a" stroke-width="0.7"/>
<line x1="445.1" y1="584.0" x2="436.1" y2="609.0" stroke="#3a3a3a" stroke-width="0.7"/>
<line x1="447.8" y1="585.0" x2="438.8" y2="610.0" stroke="#3a3a3a" stroke-width="0.7"/>
<line x1="450.5" y1="586.0" x2="441.5" y2="611.0" stroke="#3a3a3a" stroke-width="0.7"/>
<line x1="453.3" y1="587.0" x2="444.3" y2="612.0" stroke="#3a3a3a" stroke-width="0.7"/>
<line x1="456.0" y1="588.0" x2="447.0" y2="613.0" stroke="#3a3a3a" stroke-width="0.7"/>
<g transform="matrix(0.9397 0.342 -0.347 0.9375 536 399)" fill="none" stroke="#f4f4f4" stroke-width="0.8" opacity="0.9"><rect x="24" y="8" width="276" height="156"/><rect x="42" y="22" width="240" height="128"/><line x1="162" y1="22" x2="162" y2="150"/><circle cx="162" cy="86" r="17.5"/><path d="M42 32H46A36 54 0 0 1 46 140H42"/><path d="M42 64L98 71A15.5 15.5 0 0 1 98 101L42 108"/><line x1="84" y1="69" x2="84" y2="103"/><path d="M282 32H278A36 54 0 0 0 278 140H282"/><path d="M282 64L226 71A15.5 15.5 0 0 0 226 101L282 108"/><line x1="240" y1="69" x2="240" y2="103"/><rect x="12" y="72" width="12" height="28"/><rect x="300" y="72" width="12" height="28"/></g>
<path d="M866 525C880 520 905 522 930 530C960 536 962 560 955 585C948 610 962 630 940 640C920 648 905 626 885 622C862 620 845 612 842 590C838 565 848 535 866 525Z" fill="#dcdddf" stroke="#555" stroke-width="0.7"/>
<circle cx="926" cy="552" r="10.5" fill="#a9a9ab" stroke="#8b8b8d" stroke-width="0.6"/>
<circle cx="864" cy="606" r="10.5" fill="#a9a9ab" stroke="#8b8b8d" stroke-width="0.6"/>
<circle cx="923" cy="619" r="10.5" fill="#a9a9ab" stroke="#8b8b8d" stroke-width="0.6"/>
<circle cx="858" cy="537" r="6.3" fill="#9cb88a" stroke="#4f5e4c" stroke-width="0.7"/><circle cx="858" cy="537" r="1" fill="#6d7a55"/>
<circle cx="896" cy="553" r="6.3" fill="#9cb88a" stroke="#4f5e4c" stroke-width="0.7"/><circle cx="896" cy="553" r="1" fill="#6d7a55"/>
<circle cx="862" cy="576" r="6.3" fill="#9cb88a" stroke="#4f5e4c" stroke-width="0.7"/><circle cx="862" cy="576" r="1" fill="#6d7a55"/>
<circle cx="902" cy="585" r="6.3" fill="#9cb88a" stroke="#4f5e4c" stroke-width="0.7"/><circle cx="902" cy="585" r="1" fill="#6d7a55"/>
<circle cx="879" cy="630" r="6.3" fill="#9cb88a" stroke="#4f5e4c" stroke-width="0.7"/><circle cx="879" cy="630" r="1" fill="#6d7a55"/>
<circle cx="875" cy="658" r="6.3" fill="#9cb88a" stroke="#4f5e4c" stroke-width="0.7"/><circle cx="875" cy="658" r="1" fill="#6d7a55"/>
<circle cx="889" cy="747" r="6.3" fill="#9cb88a" stroke="#4f5e4c" stroke-width="0.7"/><circle cx="889" cy="747" r="1" fill="#6d7a55"/>
<circle cx="957" cy="697" r="6.3" fill="#9cb88a" stroke="#4f5e4c" stroke-width="0.7"/><circle cx="957" cy="697" r="1" fill="#6d7a55"/>
<circle cx="1034" cy="715" r="6.3" fill="#9cb88a" stroke="#4f5e4c" stroke-width="0.7"/><circle cx="1034" cy="715" r="1" fill="#6d7a55"/>
<circle cx="1110" cy="729" r="6.3" fill="#9cb88a" stroke="#4f5e4c" stroke-width="0.7"/><circle cx="1110" cy="729" r="1" fill="#6d7a55"/>
<circle cx="1187" cy="743" r="6.3" fill="#9cb88a" stroke="#4f5e4c" stroke-width="0.7"/><circle cx="1187" cy="743" r="1" fill="#6d7a55"/>
<circle cx="1285" cy="672" r="6.3" fill="#9cb88a" stroke="#4f5e4c" stroke-width="0.7"/><circle cx="1285" cy="672" r="1" fill="#6d7a55"/>
<circle cx="1227" cy="832" r="6.3" fill="#9cb88a" stroke="#4f5e4c" stroke-width="0.7"/><circle cx="1227" cy="832" r="1" fill="#6d7a55"/>
<circle cx="1245" cy="829" r="2.6" fill="#9cb88a" stroke="#4f5e4c" stroke-width="0.6"/>
<path d="M877 554L879 570" fill="none" stroke="#444" stroke-width="0.9" />
<path d="M926 586L938 576" fill="none" stroke="#444" stroke-width="0.9" />
<path d="M888 600L903 606" fill="none" stroke="#444" stroke-width="0.9" />
<path d="M887 687L898 705" fill="none" stroke="#444" stroke-width="0.9" />
<path d="M846 514L820 582" fill="none" stroke="#8a8a8a" stroke-width="4.2" />
<path d="M846 514L820 582" fill="none" stroke="#f8f8f8" stroke-width="3.2" />
<path d="M971 546L958 634" fill="none" stroke="#8a8a8a" stroke-width="4.2" />
<path d="M971 546L958 634" fill="none" stroke="#f8f8f8" stroke-width="3.2" />
<path d="M872 678L870 752" fill="none" stroke="#8a8a8a" stroke-width="4.2" />
<path d="M872 678L870 752" fill="none" stroke="#f8f8f8" stroke-width="3.2" />
<path d="M1040 668L1036 700" fill="none" stroke="#8a8a8a" stroke-width="4.2" />
<path d="M1040 668L1036 700" fill="none" stroke="#f8f8f8" stroke-width="3.2" />
<path d="M1118 682L1113 716" fill="none" stroke="#8a8a8a" stroke-width="4.2" />
<path d="M1118 682L1113 716" fill="none" stroke="#f8f8f8" stroke-width="3.2" />
<path d="M1194 694L1188 730" fill="none" stroke="#8a8a8a" stroke-width="4.2" />
<path d="M1194 694L1188 730" fill="none" stroke="#f8f8f8" stroke-width="3.2" />
<g transform="translate(1253 711) rotate(12)" fill="#f4f4f2" stroke="#b5b5b5" stroke-width="0.4"><rect x="-10" y="-9" width="20" height="4.6"/><rect x="-10" y="-2.6" width="20" height="5.2"/><rect x="-10" y="4.4" width="20" height="4.6"/></g>
<g transform="translate(1237 793) rotate(12)" fill="#f4f4f2" stroke="#b5b5b5" stroke-width="0.4"><rect x="-10" y="-9" width="20" height="4.6"/><rect x="-10" y="-2.6" width="20" height="5.2"/><rect x="-10" y="4.4" width="20" height="4.6"/></g>
<rect x="1239" y="733" width="5" height="9" fill="#f4f4f2" stroke="#999" stroke-width="0.4" transform="rotate(12 1241 737)"/>
<rect x="1252" y="737" width="5" height="9" fill="#f4f4f2" stroke="#999" stroke-width="0.4" transform="rotate(12 1254 741)"/>
<rect x="1235" y="758" width="5" height="9" fill="#f4f4f2" stroke="#999" stroke-width="0.4" transform="rotate(12 1237 762)"/>
<rect x="1247" y="762" width="5" height="9" fill="#f4f4f2" stroke="#999" stroke-width="0.4" transform="rotate(12 1249 766)"/>
<g transform="translate(1199.5 726) scale(1.123 1.111)" fill="#6f6d72"><polygon points="20.26,0.86 24.14,7.97 21.34,13.36 20.04,13.66 15.09,10.99 14.78,9.70"/><polygon points="21.25,0.13 29.09,0.13 36.77,14.44 40.30,13.15 38.36,23.28 28.66,19.83 30.82,18.32 24.70,7.63"/><polygon points="14.22,17.46 16.59,27.80 13.58,26.51 9.05,34.91 0.22,34.91 6.90,22.63 4.74,20.91"/><polygon points="0.00,35.91 13.58,35.91 15.09,37.28 15.09,42.46 13.58,43.75 4.53,43.75"/><polygon points="21.34,40.09 29.09,33.41 29.09,35.91 49.35,35.91 45.04,43.75 29.09,43.75 29.09,46.77"/><polygon points="39.01,29.96 43.53,27.16 45.04,27.59 49.14,34.91 40.95,34.91 38.79,31.25"/></g>
<polygon points="1281,703 1319,710 1297.5,827.5 1260,820" fill="#cf925b" stroke="#1a1a1a" stroke-width="1.6"/>
<polygon points="1349.5,864.5 1440,882.5 1431,925 1341,906" fill="#cf925b" stroke="#1a1a1a" stroke-width="1.6"/>
<polygon points="595.5,810 634,790 647.5,812.5 609,834" fill="#cf925b" stroke="#1a1a1a" stroke-width="1.4"/>
<path d="M1259 752L1291 752" fill="none" stroke="#1a1a1a" stroke-width="1.2" />
<path d="M1381 860L1381 892" fill="none" stroke="#1a1a1a" stroke-width="1.2" />
<path d="M619.5 786L619.5 807.5" fill="none" stroke="#1a1a1a" stroke-width="1.2" />
<path d="M1491 856L1524 856" fill="none" stroke="#1a1a1a" stroke-width="1.2" />
<polygon points="1508.3,863.8 1527.4,849.6 1568.7,914.9 1547.7,926.6" fill="#e8cf47"/>
<path d="M1514 865q6-6 11-2q4 6 8 12q5 5 3 11q-5 6-11 2q-4-6-8-12q-5-5-3-11zM1533 895q6-6 11-2q4 6 9 14q4 6 1 11q-6 5-11 1q-4-6-8-12q-5-6-2-12z" fill="none" stroke="#b3a04a" stroke-width="0.7"/>
<polygon points="1498.5,871.8 1527.4,849.6 1568.7,914.9 1539,937" fill="none" stroke="#2b2b2b" stroke-width="1.3" stroke-dasharray="5 3.5"/>
<line x1="1503" y1="878" x2="1540" y2="936" stroke="#2b2b2b" stroke-width="1.3" stroke-dasharray="5 3.5"/>
<circle cx="1499" cy="908" r="4.5" fill="#7f8a58"/>
<path d="M1003 1055L1014 1058L1013 1073L984 1069Z" fill="#e5e2d3" stroke="#999" stroke-width="0.5" />
<path d="M1014 1058L1106.5 1074L1080 1215L988 1199Z" fill="#dcdcde" stroke="#999" stroke-width="0.6" />
<path d="M1018 1072L1099 1086L1083 1176L1002 1162Z" fill="#9e7d97" />
<path d="M984 1069L1013 1073L1003.5 1114L936.5 1102Z" fill="#d5d9d1" stroke="#5a6062" stroke-width="0.6" />
<path d="M936.5 1102L1003.5 1114L995 1156.5L885 1136.5Z" fill="#dcdfd8" stroke="#5a6062" stroke-width="0.6" />
<path d="M885 1136.5L995 1156.5L988 1199L865 1176.5L865 1164Q865 1160 866.6 1156.3L867.4 1154.7Q869 1151 872 1148.3Z" fill="#d9d6cf" stroke="#5a6062" stroke-width="0.6" />
<path d="M988 1200L1023 1209.5L1015 1258L978.5 1255Z" fill="#d7dad3" stroke="#5a6062" stroke-width="0.6" />
<path d="M1023.5 1209.5L1063 1214L1055 1260L1015 1258Z" fill="#d3d7d0" stroke="#5a6062" stroke-width="0.6" />
<path d="M1063 1214L1080 1216L1073 1261.5L1055 1260Z" fill="#e5e2d3" stroke="#999" stroke-width="0.5" />
<circle cx="916" cy="1172" r="6.5" fill="#7f8a58"/><circle cx="993" cy="1085" r="3" fill="#7f8a58"/>
<g transform="translate(1021.5 1094.8) scale(1.123 1.122)" fill="#54405a"><polygon points="20.26,0.86 24.14,7.97 21.34,13.36 20.04,13.66 15.09,10.99 14.78,9.70"/><polygon points="21.25,0.13 29.09,0.13 36.77,14.44 40.30,13.15 38.36,23.28 28.66,19.83 30.82,18.32 24.70,7.63"/><polygon points="14.22,17.46 16.59,27.80 13.58,26.51 9.05,34.91 0.22,34.91 6.90,22.63 4.74,20.91"/><polygon points="0.00,35.91 13.58,35.91 15.09,37.28 15.09,42.46 13.58,43.75 4.53,43.75"/><polygon points="21.34,40.09 29.09,33.41 29.09,35.91 49.35,35.91 45.04,43.75 29.09,43.75 29.09,46.77"/><polygon points="39.01,29.96 43.53,27.16 45.04,27.59 49.14,34.91 40.95,34.91 38.79,31.25"/></g>
<g transform="translate(1009 1195) rotate(100)" fill="#f4f4f2" stroke="#b5b5b5" stroke-width="0.4"><rect x="-10" y="-9" width="20" height="4.6"/><rect x="-10" y="-2.6" width="20" height="5.2"/><rect x="-10" y="4.4" width="20" height="4.6"/></g>
<g transform="translate(1044 1201) rotate(100)" fill="#f4f4f2" stroke="#b5b5b5" stroke-width="0.4"><rect x="-10" y="-9" width="20" height="4.6"/><rect x="-10" y="-2.6" width="20" height="5.2"/><rect x="-10" y="4.4" width="20" height="4.6"/></g>
<path d="M1037 1064L1072 1070" fill="none" stroke="#f6f6f6" stroke-width="2.5" />
<path d="M1002 1204L1052 1213" fill="none" stroke="#f6f6f6" stroke-width="2.5" />
<path d="M1321 1467L1365.5 1471L1364.6 1516Q1364.5 1520 1360.5 1519.9L1317.5 1519Z" fill="#d8d5ce" stroke="#5a6062" stroke-width="0.7" />
<path d="M1365.5 1471L1398 1474L1396 1522L1364.5 1520Z" fill="#edebe1" />
<path d="M1398 1474L1442.5 1476L1439 1526L1400 1522.8Q1396 1522.5 1396.2 1518.5Z" fill="#d9dcd5" stroke="#5a6062" stroke-width="0.7" />
<polygon points="1324.5,1422.5 1446,1432.5 1442.5,1475 1321,1466" fill="#fff" stroke="#1a1a1a" stroke-width="1.1"/>
<circle cx="1353" cy="1514" r="3.2" fill="#7f8a58"/><circle cx="1410" cy="1520" r="3.2" fill="#7f8a58"/>
<polygon points="239.5,1127 252,1130 239,1170 226,1166.5" fill="#fff" stroke="#bbb" stroke-width="0.5"/>
<polygon points="240,1181.5 260,1189 235,1263.5 215,1257" fill="#dcdacb" stroke="#999" stroke-width="0.5"/>
<polygon points="221,1175 240,1181.5 215,1257 195.5,1249" fill="#fff" stroke="#1a1a1a" stroke-width="1.4"/>
<polygon points="367.5,998 377.5,1001.5 410,1070 406,1081.5 345,1058" fill="#fff" stroke="#1a1a1a" stroke-width="1.2"/>
<polygon points="399,947 450,966.5 442,991.5 491,1010 461,1089 361,1050" fill="#fff" stroke="#1a1a1a" stroke-width="1.5"/>
<path d="M361 1050L442 992" fill="none" stroke="#333" stroke-width="0.8" />
<path d="M402 950L447 967" fill="none" stroke="#999" stroke-width="0.6" />
<path d="M488 1013L459 1086" fill="none" stroke="#999" stroke-width="0.6" />
<polygon points="322,1163.5 395.5,1163.5 395.5,1140 430,1140 430,1278 377,1278 377,1256.5 322,1256.5" fill="#fff" stroke="#1a1a1a" stroke-width="1.6"/>
<path d="M322 1163.5L369 1210" fill="none" stroke="#333" stroke-width="0.7" />
<path d="M322 1256.5L369 1210" fill="none" stroke="#333" stroke-width="0.7" />
<path d="M369 1210L382.5 1210" fill="none" stroke="#333" stroke-width="0.7" />
<path d="M382.5 1210L430 1163" fill="none" stroke="#333" stroke-width="0.7" />
<path d="M382.5 1210L430 1256" fill="none" stroke="#333" stroke-width="0.7" />
<path d="M395.5 1140L412.5 1157" fill="none" stroke="#333" stroke-width="0.7" />
<path d="M430 1140L412.5 1157" fill="none" stroke="#333" stroke-width="0.7" />
<path d="M412.5 1157L412.5 1180" fill="none" stroke="#333" stroke-width="0.7" />
<path d="M395.5 1163.5L412.5 1180" fill="none" stroke="#333" stroke-width="0.7" />
<path d="M403 1231L403 1252" fill="none" stroke="#333" stroke-width="0.7" />
<path d="M377 1278L403 1252" fill="none" stroke="#333" stroke-width="0.7" />
<path d="M430 1278L403 1252" fill="none" stroke="#333" stroke-width="0.7" />
<path d="M377 1256.5L403 1231" fill="none" stroke="#333" stroke-width="0.7" />
<rect x="168" y="1645" width="1378" height="112" fill="#fff"/>
<path d="M444 1644.5L609 1644.5" fill="none" stroke="#1a1a1a" stroke-width="1.2" />
<path d="M1094 1644.5L1260 1644.5" fill="none" stroke="#1a1a1a" stroke-width="1.2" />
<path d="M444 1694L609 1694" fill="none" stroke="#1a1a1a" stroke-width="1.2" />
<path d="M1094 1694L1260 1694" fill="none" stroke="#1a1a1a" stroke-width="1.2" />
<path d="M470 1760V1732Q470 1719 482 1719H503Q515 1719 515 1732V1760" fill="none" stroke="#b5b5b5" stroke-width="0.8"/>
<path d="M550 1760V1732Q550 1719 562 1719H583Q595 1719 595 1732V1760" fill="none" stroke="#b5b5b5" stroke-width="0.8"/>
<path d="M1117 1760V1732Q1117 1719 1129 1719H1150Q1162 1719 1162 1732V1760" fill="none" stroke="#b5b5b5" stroke-width="0.8"/>
<path d="M1197 1760V1732Q1197 1719 1209 1719H1230Q1242 1719 1242 1732V1760" fill="none" stroke="#b5b5b5" stroke-width="0.8"/>
<polygon points="184,1599.5 444,1599.5 444,1739 280,1739 280,1760 184,1760" fill="#fff" stroke="#1a1a1a" stroke-width="1.3"/>
<path d="M184 1599.5L252 1669" fill="none" stroke="#555" stroke-width="0.7" />
<path d="M252 1669L375 1669" fill="none" stroke="#555" stroke-width="0.7" />
<path d="M375 1669L444 1599.5" fill="none" stroke="#555" stroke-width="0.7" />
<path d="M252 1669L184 1737" fill="none" stroke="#555" stroke-width="0.7" />
<path d="M375 1669L444 1739" fill="none" stroke="#555" stroke-width="0.7" />
<path d="M232 1689L280 1739" fill="none" stroke="#555" stroke-width="0.7" />
<path d="M232 1689L232 1760" fill="none" stroke="#555" stroke-width="0.7" />
<path d="M184 1737L184 1737" fill="none" stroke="#555" stroke-width="0.7" />
<path d="M252 1669.5L375 1669.5" fill="none" stroke="#aaa" stroke-width="1" />
<polygon points="609,1621 790,1621 790,1721 664,1721 664,1741 609,1741" fill="#fff" stroke="#1a1a1a" stroke-width="1.3"/>
<path d="M664 1741L664 1760" fill="none" stroke="#1a1a1a" stroke-width="1.2" />
<path d="M609 1621L660 1671" fill="none" stroke="#555" stroke-width="0.7" />
<path d="M660 1671L747 1671" fill="none" stroke="#555" stroke-width="0.7" />
<path d="M747 1671L790 1628" fill="none" stroke="#555" stroke-width="0.7" />
<path d="M660 1671L609 1722" fill="none" stroke="#555" stroke-width="0.7" />
<path d="M609 1739.5L637 1711" fill="none" stroke="#555" stroke-width="0.7" />
<path d="M637 1711L664 1739.5" fill="none" stroke="#555" stroke-width="0.7" />
<path d="M637 1711L637 1693" fill="none" stroke="#555" stroke-width="0.7" />
<path d="M747 1671L790 1714" fill="none" stroke="#555" stroke-width="0.7" />
<polygon points="791,1608.5 913.5,1608.5 913.5,1760 791,1760" fill="#fff" stroke="#1a1a1a" stroke-width="1.5"/>
<path d="M791 1608.5L851.5 1669" fill="none" stroke="#555" stroke-width="0.7" />
<path d="M913.5 1608.5L851.5 1669" fill="none" stroke="#555" stroke-width="0.7" />
<path d="M851.5 1669L851.5 1760" fill="none" stroke="#555" stroke-width="0.7" />
<polygon points="913.5,1621 1094,1621 1094,1741 1040,1741 1040,1721 913.5,1721" fill="#fff" stroke="#1a1a1a" stroke-width="1.3"/>
<path d="M1040 1741L1040 1760" fill="none" stroke="#1a1a1a" stroke-width="1.2" />
<path d="M913.5 1630L955 1671" fill="none" stroke="#555" stroke-width="0.7" />
<path d="M955 1671L1042.5 1671" fill="none" stroke="#555" stroke-width="0.7" />
<path d="M1042.5 1671L1094 1621" fill="none" stroke="#555" stroke-width="0.7" />
<path d="M1042.5 1671L1094 1722" fill="none" stroke="#555" stroke-width="0.7" />
<path d="M1094 1739.5L1067 1711" fill="none" stroke="#555" stroke-width="0.7" />
<path d="M1067 1711L1040 1739.5" fill="none" stroke="#555" stroke-width="0.7" />
<path d="M1067 1711L1067 1693" fill="none" stroke="#555" stroke-width="0.7" />
<path d="M955 1671L913.5 1712" fill="none" stroke="#555" stroke-width="0.7" />
<path d="M694 1621L694 1620L790 1620" fill="none" stroke="#1a1a1a" stroke-width="1.2" />
<polygon points="1260,1599.5 1520,1599.5 1520,1760 1424,1760 1424,1740 1260,1740" fill="#fff" stroke="#1a1a1a" stroke-width="1.3"/>
<path d="M1260 1599.5L1327.5 1667" fill="none" stroke="#555" stroke-width="0.7" />
<path d="M1327.5 1667L1450 1667" fill="none" stroke="#555" stroke-width="0.7" />
<path d="M1450 1667L1520 1599.5" fill="none" stroke="#555" stroke-width="0.7" />
<path d="M1327.5 1667L1260 1737" fill="none" stroke="#555" stroke-width="0.7" />
<path d="M1450 1667L1520 1737" fill="none" stroke="#555" stroke-width="0.7" />
<path d="M1472 1689L1424 1737" fill="none" stroke="#555" stroke-width="0.7" />
<path d="M1472 1689L1472 1760" fill="none" stroke="#555" stroke-width="0.7" />
<path d="M1327.5 1667.5L1450 1667.5" fill="none" stroke="#aaa" stroke-width="1" />
<rect x="1520.6" y="1600" width="26" height="160" fill="#fff"/>
<path d="M1546 1586L1646 1592Q1651 1593 1651 1600V1760" fill="none" stroke="#b5b5b5" stroke-width="0.8"/>
<path d="M1546 1586L1546 1760" fill="none" stroke="#b5b5b5" stroke-width="0.8" />
<path d="M139 1760V1603Q139 1588 154 1588Q169.5 1588 169.5 1603V1760Z" fill="#fff" stroke="#b5b5b5" stroke-width="0.7"/>
<g transform="translate(460 894) scale(1.121 1.153)"><path d="M0 23.3H36.3L33.2 57.2Q33 59 31 59H5.3Q3.3 59 3.1 57.2Z" fill="#52645a"/><path d="M2.2 21.1Q2.2 18.4 5.6 17.2Q6.4 14 10.4 13.9Q12.6 13.6 14 14.6Q15.4 10.9 19 10.9Q22.6 11 23.8 14.6Q26.4 15.2 27.8 17.4Q31.4 16.8 33.2 18.8Q34.1 20 34.1 21.1Z" fill="#52645a"/><path d="M26.9 18.2L28.2 12.8L29.8 13.2L29.9 15.6L29 18.4Z" fill="#52645a"/><path d="M28.8 13.8C23.8 11 24 4.6 26 0C31.4 3.4 32.6 9.4 28.8 13.8Z" fill="#52645a"/><path d="M29.7 15.6C32.6 10 39.4 8.2 44.6 11.9C40.2 16.8 33.6 17.8 29.7 15.6Z" fill="#52645a"/><path d="M14.4 34.2L16.6 30Q17.7 28 18.9 30L25.6 41.4" fill="none" stroke="#a9c49a" stroke-width="1.9" stroke-linecap="round" stroke-linejoin="round"/><path d="M28.6 44.6L30.8 48.3Q31.6 49.9 29.6 49.9H17" fill="none" stroke="#a9c49a" stroke-width="1.9" stroke-linecap="round" stroke-linejoin="round"/><path d="M12.4 49.9H7.4Q5.4 49.9 6.4 48.2L12.8 37.2" fill="none" stroke="#a9c49a" stroke-width="1.9" stroke-linecap="round" stroke-linejoin="round"/><path d="M23.4 41.8L27.2 43.6L27.4 39.2Z" fill="#a9c49a"/><path d="M17.6 47.5L14.4 49.9L17.6 52.3Z" fill="#a9c49a"/><path d="M10.6 37.4L13.9 35L14.5 39.2Z" fill="#a9c49a"/></g>
<g transform="translate(726 927) scale(0.987 1.034)"><path d="M0 23.3H36.3L33.2 57.2Q33 59 31 59H5.3Q3.3 59 3.1 57.2Z" fill="#52645a"/><path d="M2.2 21.1Q2.2 18.4 5.6 17.2Q6.4 14 10.4 13.9Q12.6 13.6 14 14.6Q15.4 10.9 19 10.9Q22.6 11 23.8 14.6Q26.4 15.2 27.8 17.4Q31.4 16.8 33.2 18.8Q34.1 20 34.1 21.1Z" fill="#52645a"/><path d="M26.9 18.2L28.2 12.8L29.8 13.2L29.9 15.6L29 18.4Z" fill="#52645a"/><path d="M28.8 13.8C23.8 11 24 4.6 26 0C31.4 3.4 32.6 9.4 28.8 13.8Z" fill="#52645a"/><path d="M29.7 15.6C32.6 10 39.4 8.2 44.6 11.9C40.2 16.8 33.6 17.8 29.7 15.6Z" fill="#52645a"/><path d="M14.4 34.2L16.6 30Q17.7 28 18.9 30L25.6 41.4" fill="none" stroke="#a9c49a" stroke-width="1.9" stroke-linecap="round" stroke-linejoin="round"/><path d="M28.6 44.6L30.8 48.3Q31.6 49.9 29.6 49.9H17" fill="none" stroke="#a9c49a" stroke-width="1.9" stroke-linecap="round" stroke-linejoin="round"/><path d="M12.4 49.9H7.4Q5.4 49.9 6.4 48.2L12.8 37.2" fill="none" stroke="#a9c49a" stroke-width="1.9" stroke-linecap="round" stroke-linejoin="round"/><path d="M23.4 41.8L27.2 43.6L27.4 39.2Z" fill="#a9c49a"/><path d="M17.6 47.5L14.4 49.9L17.6 52.3Z" fill="#a9c49a"/><path d="M10.6 37.4L13.9 35L14.5 39.2Z" fill="#a9c49a"/></g>
<g transform="translate(917 927) scale(0.998 1.017)"><path d="M0 23.3H36.3L33.2 57.2Q33 59 31 59H5.3Q3.3 59 3.1 57.2Z" fill="#52645a"/><path d="M2.2 21.1Q2.2 18.4 5.6 17.2Q6.4 14 10.4 13.9Q12.6 13.6 14 14.6Q15.4 10.9 19 10.9Q22.6 11 23.8 14.6Q26.4 15.2 27.8 17.4Q31.4 16.8 33.2 18.8Q34.1 20 34.1 21.1Z" fill="#52645a"/><path d="M26.9 18.2L28.2 12.8L29.8 13.2L29.9 15.6L29 18.4Z" fill="#52645a"/><path d="M28.8 13.8C23.8 11 24 4.6 26 0C31.4 3.4 32.6 9.4 28.8 13.8Z" fill="#52645a"/><path d="M29.7 15.6C32.6 10 39.4 8.2 44.6 11.9C40.2 16.8 33.6 17.8 29.7 15.6Z" fill="#52645a"/><path d="M14.4 34.2L16.6 30Q17.7 28 18.9 30L25.6 41.4" fill="none" stroke="#a9c49a" stroke-width="1.9" stroke-linecap="round" stroke-linejoin="round"/><path d="M28.6 44.6L30.8 48.3Q31.6 49.9 29.6 49.9H17" fill="none" stroke="#a9c49a" stroke-width="1.9" stroke-linecap="round" stroke-linejoin="round"/><path d="M12.4 49.9H7.4Q5.4 49.9 6.4 48.2L12.8 37.2" fill="none" stroke="#a9c49a" stroke-width="1.9" stroke-linecap="round" stroke-linejoin="round"/><path d="M23.4 41.8L27.2 43.6L27.4 39.2Z" fill="#a9c49a"/><path d="M17.6 47.5L14.4 49.9L17.6 52.3Z" fill="#a9c49a"/><path d="M10.6 37.4L13.9 35L14.5 39.2Z" fill="#a9c49a"/></g>
<g transform="translate(673 1121.5) scale(1.009 1.017)"><path d="M0 23.3H36.3L33.2 57.2Q33 59 31 59H5.3Q3.3 59 3.1 57.2Z" fill="#52645a"/><path d="M2.2 21.1Q2.2 18.4 5.6 17.2Q6.4 14 10.4 13.9Q12.6 13.6 14 14.6Q15.4 10.9 19 10.9Q22.6 11 23.8 14.6Q26.4 15.2 27.8 17.4Q31.4 16.8 33.2 18.8Q34.1 20 34.1 21.1Z" fill="#52645a"/><path d="M26.9 18.2L28.2 12.8L29.8 13.2L29.9 15.6L29 18.4Z" fill="#52645a"/><path d="M28.8 13.8C23.8 11 24 4.6 26 0C31.4 3.4 32.6 9.4 28.8 13.8Z" fill="#52645a"/><path d="M29.7 15.6C32.6 10 39.4 8.2 44.6 11.9C40.2 16.8 33.6 17.8 29.7 15.6Z" fill="#52645a"/><path d="M14.4 34.2L16.6 30Q17.7 28 18.9 30L25.6 41.4" fill="none" stroke="#a9c49a" stroke-width="1.9" stroke-linecap="round" stroke-linejoin="round"/><path d="M28.6 44.6L30.8 48.3Q31.6 49.9 29.6 49.9H17" fill="none" stroke="#a9c49a" stroke-width="1.9" stroke-linecap="round" stroke-linejoin="round"/><path d="M12.4 49.9H7.4Q5.4 49.9 6.4 48.2L12.8 37.2" fill="none" stroke="#a9c49a" stroke-width="1.9" stroke-linecap="round" stroke-linejoin="round"/><path d="M23.4 41.8L27.2 43.6L27.4 39.2Z" fill="#a9c49a"/><path d="M17.6 47.5L14.4 49.9L17.6 52.3Z" fill="#a9c49a"/><path d="M10.6 37.4L13.9 35L14.5 39.2Z" fill="#a9c49a"/></g>
<g transform="translate(670 1326) scale(0.998 1.017)"><path d="M0 23.3H36.3L33.2 57.2Q33 59 31 59H5.3Q3.3 59 3.1 57.2Z" fill="#52645a"/><path d="M2.2 21.1Q2.2 18.4 5.6 17.2Q6.4 14 10.4 13.9Q12.6 13.6 14 14.6Q15.4 10.9 19 10.9Q22.6 11 23.8 14.6Q26.4 15.2 27.8 17.4Q31.4 16.8 33.2 18.8Q34.1 20 34.1 21.1Z" fill="#52645a"/><path d="M26.9 18.2L28.2 12.8L29.8 13.2L29.9 15.6L29 18.4Z" fill="#52645a"/><path d="M28.8 13.8C23.8 11 24 4.6 26 0C31.4 3.4 32.6 9.4 28.8 13.8Z" fill="#52645a"/><path d="M29.7 15.6C32.6 10 39.4 8.2 44.6 11.9C40.2 16.8 33.6 17.8 29.7 15.6Z" fill="#52645a"/><path d="M14.4 34.2L16.6 30Q17.7 28 18.9 30L25.6 41.4" fill="none" stroke="#a9c49a" stroke-width="1.9" stroke-linecap="round" stroke-linejoin="round"/><path d="M28.6 44.6L30.8 48.3Q31.6 49.9 29.6 49.9H17" fill="none" stroke="#a9c49a" stroke-width="1.9" stroke-linecap="round" stroke-linejoin="round"/><path d="M12.4 49.9H7.4Q5.4 49.9 6.4 48.2L12.8 37.2" fill="none" stroke="#a9c49a" stroke-width="1.9" stroke-linecap="round" stroke-linejoin="round"/><path d="M23.4 41.8L27.2 43.6L27.4 39.2Z" fill="#a9c49a"/><path d="M17.6 47.5L14.4 49.9L17.6 52.3Z" fill="#a9c49a"/><path d="M10.6 37.4L13.9 35L14.5 39.2Z" fill="#a9c49a"/></g>
<g transform="translate(619 1494) scale(1.143 1.169)"><path d="M0 23.3H36.3L33.2 57.2Q33 59 31 59H5.3Q3.3 59 3.1 57.2Z" fill="#52645a"/><path d="M2.2 21.1Q2.2 18.4 5.6 17.2Q6.4 14 10.4 13.9Q12.6 13.6 14 14.6Q15.4 10.9 19 10.9Q22.6 11 23.8 14.6Q26.4 15.2 27.8 17.4Q31.4 16.8 33.2 18.8Q34.1 20 34.1 21.1Z" fill="#52645a"/><path d="M26.9 18.2L28.2 12.8L29.8 13.2L29.9 15.6L29 18.4Z" fill="#52645a"/><path d="M28.8 13.8C23.8 11 24 4.6 26 0C31.4 3.4 32.6 9.4 28.8 13.8Z" fill="#52645a"/><path d="M29.7 15.6C32.6 10 39.4 8.2 44.6 11.9C40.2 16.8 33.6 17.8 29.7 15.6Z" fill="#52645a"/><path d="M14.4 34.2L16.6 30Q17.7 28 18.9 30L25.6 41.4" fill="none" stroke="#a9c49a" stroke-width="1.9" stroke-linecap="round" stroke-linejoin="round"/><path d="M28.6 44.6L30.8 48.3Q31.6 49.9 29.6 49.9H17" fill="none" stroke="#a9c49a" stroke-width="1.9" stroke-linecap="round" stroke-linejoin="round"/><path d="M12.4 49.9H7.4Q5.4 49.9 6.4 48.2L12.8 37.2" fill="none" stroke="#a9c49a" stroke-width="1.9" stroke-linecap="round" stroke-linejoin="round"/><path d="M23.4 41.8L27.2 43.6L27.4 39.2Z" fill="#a9c49a"/><path d="M17.6 47.5L14.4 49.9L17.6 52.3Z" fill="#a9c49a"/><path d="M10.6 37.4L13.9 35L14.5 39.2Z" fill="#a9c49a"/></g>
<g transform="translate(321.8 1453) scale(0.992 1.030)"><path d="M0 23.3H36.3L33.2 57.2Q33 59 31 59H5.3Q3.3 59 3.1 57.2Z" fill="#52645a"/><path d="M2.2 21.1Q2.2 18.4 5.6 17.2Q6.4 14 10.4 13.9Q12.6 13.6 14 14.6Q15.4 10.9 19 10.9Q22.6 11 23.8 14.6Q26.4 15.2 27.8 17.4Q31.4 16.8 33.2 18.8Q34.1 20 34.1 21.1Z" fill="#52645a"/><path d="M26.9 18.2L28.2 12.8L29.8 13.2L29.9 15.6L29 18.4Z" fill="#52645a"/><path d="M28.8 13.8C23.8 11 24 4.6 26 0C31.4 3.4 32.6 9.4 28.8 13.8Z" fill="#52645a"/><path d="M29.7 15.6C32.6 10 39.4 8.2 44.6 11.9C40.2 16.8 33.6 17.8 29.7 15.6Z" fill="#52645a"/><path d="M14.4 34.2L16.6 30Q17.7 28 18.9 30L25.6 41.4" fill="none" stroke="#a9c49a" stroke-width="1.9" stroke-linecap="round" stroke-linejoin="round"/><path d="M28.6 44.6L30.8 48.3Q31.6 49.9 29.6 49.9H17" fill="none" stroke="#a9c49a" stroke-width="1.9" stroke-linecap="round" stroke-linejoin="round"/><path d="M12.4 49.9H7.4Q5.4 49.9 6.4 48.2L12.8 37.2" fill="none" stroke="#a9c49a" stroke-width="1.9" stroke-linecap="round" stroke-linejoin="round"/><path d="M23.4 41.8L27.2 43.6L27.4 39.2Z" fill="#a9c49a"/><path d="M17.6 47.5L14.4 49.9L17.6 52.3Z" fill="#a9c49a"/><path d="M10.6 37.4L13.9 35L14.5 39.2Z" fill="#a9c49a"/></g>
<g transform="translate(1000 1350) scale(0.998 1.017)"><path d="M0 23.3H36.3L33.2 57.2Q33 59 31 59H5.3Q3.3 59 3.1 57.2Z" fill="#52645a"/><path d="M2.2 21.1Q2.2 18.4 5.6 17.2Q6.4 14 10.4 13.9Q12.6 13.6 14 14.6Q15.4 10.9 19 10.9Q22.6 11 23.8 14.6Q26.4 15.2 27.8 17.4Q31.4 16.8 33.2 18.8Q34.1 20 34.1 21.1Z" fill="#52645a"/><path d="M26.9 18.2L28.2 12.8L29.8 13.2L29.9 15.6L29 18.4Z" fill="#52645a"/><path d="M28.8 13.8C23.8 11 24 4.6 26 0C31.4 3.4 32.6 9.4 28.8 13.8Z" fill="#52645a"/><path d="M29.7 15.6C32.6 10 39.4 8.2 44.6 11.9C40.2 16.8 33.6 17.8 29.7 15.6Z" fill="#52645a"/><path d="M14.4 34.2L16.6 30Q17.7 28 18.9 30L25.6 41.4" fill="none" stroke="#a9c49a" stroke-width="1.9" stroke-linecap="round" stroke-linejoin="round"/><path d="M28.6 44.6L30.8 48.3Q31.6 49.9 29.6 49.9H17" fill="none" stroke="#a9c49a" stroke-width="1.9" stroke-linecap="round" stroke-linejoin="round"/><path d="M12.4 49.9H7.4Q5.4 49.9 6.4 48.2L12.8 37.2" fill="none" stroke="#a9c49a" stroke-width="1.9" stroke-linecap="round" stroke-linejoin="round"/><path d="M23.4 41.8L27.2 43.6L27.4 39.2Z" fill="#a9c49a"/><path d="M17.6 47.5L14.4 49.9L17.6 52.3Z" fill="#a9c49a"/><path d="M10.6 37.4L13.9 35L14.5 39.2Z" fill="#a9c49a"/></g>
<g transform="translate(1268 1130.8) scale(0.998 1.021)"><path d="M0 23.3H36.3L33.2 57.2Q33 59 31 59H5.3Q3.3 59 3.1 57.2Z" fill="#52645a"/><path d="M2.2 21.1Q2.2 18.4 5.6 17.2Q6.4 14 10.4 13.9Q12.6 13.6 14 14.6Q15.4 10.9 19 10.9Q22.6 11 23.8 14.6Q26.4 15.2 27.8 17.4Q31.4 16.8 33.2 18.8Q34.1 20 34.1 21.1Z" fill="#52645a"/><path d="M26.9 18.2L28.2 12.8L29.8 13.2L29.9 15.6L29 18.4Z" fill="#52645a"/><path d="M28.8 13.8C23.8 11 24 4.6 26 0C31.4 3.4 32.6 9.4 28.8 13.8Z" fill="#52645a"/><path d="M29.7 15.6C32.6 10 39.4 8.2 44.6 11.9C40.2 16.8 33.6 17.8 29.7 15.6Z" fill="#52645a"/><path d="M14.4 34.2L16.6 30Q17.7 28 18.9 30L25.6 41.4" fill="none" stroke="#a9c49a" stroke-width="1.9" stroke-linecap="round" stroke-linejoin="round"/><path d="M28.6 44.6L30.8 48.3Q31.6 49.9 29.6 49.9H17" fill="none" stroke="#a9c49a" stroke-width="1.9" stroke-linecap="round" stroke-linejoin="round"/><path d="M12.4 49.9H7.4Q5.4 49.9 6.4 48.2L12.8 37.2" fill="none" stroke="#a9c49a" stroke-width="1.9" stroke-linecap="round" stroke-linejoin="round"/><path d="M23.4 41.8L27.2 43.6L27.4 39.2Z" fill="#a9c49a"/><path d="M17.6 47.5L14.4 49.9L17.6 52.3Z" fill="#a9c49a"/><path d="M10.6 37.4L13.9 35L14.5 39.2Z" fill="#a9c49a"/></g>
<g transform="translate(1497 1147.5) scale(1.003 1.025)"><path d="M0 23.3H36.3L33.2 57.2Q33 59 31 59H5.3Q3.3 59 3.1 57.2Z" fill="#52645a"/><path d="M2.2 21.1Q2.2 18.4 5.6 17.2Q6.4 14 10.4 13.9Q12.6 13.6 14 14.6Q15.4 10.9 19 10.9Q22.6 11 23.8 14.6Q26.4 15.2 27.8 17.4Q31.4 16.8 33.2 18.8Q34.1 20 34.1 21.1Z" fill="#52645a"/><path d="M26.9 18.2L28.2 12.8L29.8 13.2L29.9 15.6L29 18.4Z" fill="#52645a"/><path d="M28.8 13.8C23.8 11 24 4.6 26 0C31.4 3.4 32.6 9.4 28.8 13.8Z" fill="#52645a"/><path d="M29.7 15.6C32.6 10 39.4 8.2 44.6 11.9C40.2 16.8 33.6 17.8 29.7 15.6Z" fill="#52645a"/><path d="M14.4 34.2L16.6 30Q17.7 28 18.9 30L25.6 41.4" fill="none" stroke="#a9c49a" stroke-width="1.9" stroke-linecap="round" stroke-linejoin="round"/><path d="M28.6 44.6L30.8 48.3Q31.6 49.9 29.6 49.9H17" fill="none" stroke="#a9c49a" stroke-width="1.9" stroke-linecap="round" stroke-linejoin="round"/><path d="M12.4 49.9H7.4Q5.4 49.9 6.4 48.2L12.8 37.2" fill="none" stroke="#a9c49a" stroke-width="1.9" stroke-linecap="round" stroke-linejoin="round"/><path d="M23.4 41.8L27.2 43.6L27.4 39.2Z" fill="#a9c49a"/><path d="M17.6 47.5L14.4 49.9L17.6 52.3Z" fill="#a9c49a"/><path d="M10.6 37.4L13.9 35L14.5 39.2Z" fill="#a9c49a"/></g>
<g transform="translate(1491 1380.5) scale(1.138 1.144)"><path d="M0 23.3H36.3L33.2 57.2Q33 59 31 59H5.3Q3.3 59 3.1 57.2Z" fill="#52645a"/><path d="M2.2 21.1Q2.2 18.4 5.6 17.2Q6.4 14 10.4 13.9Q12.6 13.6 14 14.6Q15.4 10.9 19 10.9Q22.6 11 23.8 14.6Q26.4 15.2 27.8 17.4Q31.4 16.8 33.2 18.8Q34.1 20 34.1 21.1Z" fill="#52645a"/><path d="M26.9 18.2L28.2 12.8L29.8 13.2L29.9 15.6L29 18.4Z" fill="#52645a"/><path d="M28.8 13.8C23.8 11 24 4.6 26 0C31.4 3.4 32.6 9.4 28.8 13.8Z" fill="#52645a"/><path d="M29.7 15.6C32.6 10 39.4 8.2 44.6 11.9C40.2 16.8 33.6 17.8 29.7 15.6Z" fill="#52645a"/><path d="M14.4 34.2L16.6 30Q17.7 28 18.9 30L25.6 41.4" fill="none" stroke="#a9c49a" stroke-width="1.9" stroke-linecap="round" stroke-linejoin="round"/><path d="M28.6 44.6L30.8 48.3Q31.6 49.9 29.6 49.9H17" fill="none" stroke="#a9c49a" stroke-width="1.9" stroke-linecap="round" stroke-linejoin="round"/><path d="M12.4 49.9H7.4Q5.4 49.9 6.4 48.2L12.8 37.2" fill="none" stroke="#a9c49a" stroke-width="1.9" stroke-linecap="round" stroke-linejoin="round"/><path d="M23.4 41.8L27.2 43.6L27.4 39.2Z" fill="#a9c49a"/><path d="M17.6 47.5L14.4 49.9L17.6 52.3Z" fill="#a9c49a"/><path d="M10.6 37.4L13.9 35L14.5 39.2Z" fill="#a9c49a"/></g>
<g transform="translate(1446.5 796) scale(1.143 1.153)"><path d="M0 23.3H36.3L33.2 57.2Q33 59 31 59H5.3Q3.3 59 3.1 57.2Z" fill="#52645a"/><path d="M2.2 21.1Q2.2 18.4 5.6 17.2Q6.4 14 10.4 13.9Q12.6 13.6 14 14.6Q15.4 10.9 19 10.9Q22.6 11 23.8 14.6Q26.4 15.2 27.8 17.4Q31.4 16.8 33.2 18.8Q34.1 20 34.1 21.1Z" fill="#52645a"/><path d="M26.9 18.2L28.2 12.8L29.8 13.2L29.9 15.6L29 18.4Z" fill="#52645a"/><path d="M28.8 13.8C23.8 11 24 4.6 26 0C31.4 3.4 32.6 9.4 28.8 13.8Z" fill="#52645a"/><path d="M29.7 15.6C32.6 10 39.4 8.2 44.6 11.9C40.2 16.8 33.6 17.8 29.7 15.6Z" fill="#52645a"/><path d="M14.4 34.2L16.6 30Q17.7 28 18.9 30L25.6 41.4" fill="none" stroke="#a9c49a" stroke-width="1.9" stroke-linecap="round" stroke-linejoin="round"/><path d="M28.6 44.6L30.8 48.3Q31.6 49.9 29.6 49.9H17" fill="none" stroke="#a9c49a" stroke-width="1.9" stroke-linecap="round" stroke-linejoin="round"/><path d="M12.4 49.9H7.4Q5.4 49.9 6.4 48.2L12.8 37.2" fill="none" stroke="#a9c49a" stroke-width="1.9" stroke-linecap="round" stroke-linejoin="round"/><path d="M23.4 41.8L27.2 43.6L27.4 39.2Z" fill="#a9c49a"/><path d="M17.6 47.5L14.4 49.9L17.6 52.3Z" fill="#a9c49a"/><path d="M10.6 37.4L13.9 35L14.5 39.2Z" fill="#a9c49a"/></g>
<g transform="translate(580 733.8) scale(1.123 1.122)" fill="#52645a"><polygon points="20.26,0.86 24.14,7.97 21.34,13.36 20.04,13.66 15.09,10.99 14.78,9.70"/><polygon points="21.25,0.13 29.09,0.13 36.77,14.44 40.30,13.15 38.36,23.28 28.66,19.83 30.82,18.32 24.70,7.63"/><polygon points="14.22,17.46 16.59,27.80 13.58,26.51 9.05,34.91 0.22,34.91 6.90,22.63 4.74,20.91"/><polygon points="0.00,35.91 13.58,35.91 15.09,37.28 15.09,42.46 13.58,43.75 4.53,43.75"/><polygon points="21.34,40.09 29.09,33.41 29.09,35.91 49.35,35.91 45.04,43.75 29.09,43.75 29.09,46.77"/><polygon points="39.01,29.96 43.53,27.16 45.04,27.59 49.14,34.91 40.95,34.91 38.79,31.25"/></g>
<g transform="translate(1353 803.6) scale(1.126 1.120)" fill="#52645a"><polygon points="20.26,0.86 24.14,7.97 21.34,13.36 20.04,13.66 15.09,10.99 14.78,9.70"/><polygon points="21.25,0.13 29.09,0.13 36.77,14.44 40.30,13.15 38.36,23.28 28.66,19.83 30.82,18.32 24.70,7.63"/><polygon points="14.22,17.46 16.59,27.80 13.58,26.51 9.05,34.91 0.22,34.91 6.90,22.63 4.74,20.91"/><polygon points="0.00,35.91 13.58,35.91 15.09,37.28 15.09,42.46 13.58,43.75 4.53,43.75"/><polygon points="21.34,40.09 29.09,33.41 29.09,35.91 49.35,35.91 45.04,43.75 29.09,43.75 29.09,46.77"/><polygon points="39.01,29.96 43.53,27.16 45.04,27.59 49.14,34.91 40.95,34.91 38.79,31.25"/></g>
<g transform="translate(305 527.5) scale(1.217)" fill="#808080"><polygon points="10.19,11.96 39.00,3.72 39.98,0.98 41.94,0.12 43.90,0.59 46.18,11.37 45.47,13.33 44.69,13.72 14.50,19.72 11.17,15.68 10.19,20.58 8.43,20.38"/><polygon points="34.89,15.88 37.63,15.29 41.55,21.56 38.81,21.95"/><polygon points="15.09,21.95 47.82,21.76 49.39,13.21 50.18,12.74 57.23,12.74 57.94,13.52 59.19,19.80 63.50,21.36 64.68,22.54 64.88,29.99 64.09,31.36 62.72,31.56 60.37,31.48 59.19,28.42 56.45,26.46 53.70,25.87 50.96,26.46 48.41,28.42 47.04,31.56 35.08,31.56 33.71,28.42 31.16,26.46 28.22,25.87 25.48,26.46 22.74,28.42 21.36,31.16 19.99,31.56 17.44,30.97"/><polygon points="51.43,14.62 55.66,14.62 56.37,19.33 51.04,19.33" fill="#fff"/><circle cx="28.22" cy="32.54" r="5.29"/><circle cx="28.22" cy="32.54" r="1.76" fill="#fff"/><circle cx="53.70" cy="32.54" r="5.29"/><circle cx="53.70" cy="32.54" r="1.76" fill="#fff"/><path d="M0.20 36.97 Q0.00 33.12 4.70 31.95 Q7.06 28.81 10.19 29.01 Q14.11 29.20 15.68 33.12 Q19.60 34.69 19.80 36.97 Z"/><polygon points="12.35,20.38 13.92,21.95 12.35,23.52 10.78,21.95"/><polygon points="11.96,24.50 13.72,26.26 11.96,28.03 10.19,26.26"/></g>
<g transform="translate(30 1219.5) scale(1.233)" fill="#808080"><polygon points="10.19,11.96 39.00,3.72 39.98,0.98 41.94,0.12 43.90,0.59 46.18,11.37 45.47,13.33 44.69,13.72 14.50,19.72 11.17,15.68 10.19,20.58 8.43,20.38"/><polygon points="34.89,15.88 37.63,15.29 41.55,21.56 38.81,21.95"/><polygon points="15.09,21.95 47.82,21.76 49.39,13.21 50.18,12.74 57.23,12.74 57.94,13.52 59.19,19.80 63.50,21.36 64.68,22.54 64.88,29.99 64.09,31.36 62.72,31.56 60.37,31.48 59.19,28.42 56.45,26.46 53.70,25.87 50.96,26.46 48.41,28.42 47.04,31.56 35.08,31.56 33.71,28.42 31.16,26.46 28.22,25.87 25.48,26.46 22.74,28.42 21.36,31.16 19.99,31.56 17.44,30.97"/><polygon points="51.43,14.62 55.66,14.62 56.37,19.33 51.04,19.33" fill="#fff"/><circle cx="28.22" cy="32.54" r="5.29"/><circle cx="28.22" cy="32.54" r="1.76" fill="#fff"/><circle cx="53.70" cy="32.54" r="5.29"/><circle cx="53.70" cy="32.54" r="1.76" fill="#fff"/><path d="M0.20 36.97 Q0.00 33.12 4.70 31.95 Q7.06 28.81 10.19 29.01 Q14.11 29.20 15.68 33.12 Q19.60 34.69 19.80 36.97 Z"/><polygon points="12.35,20.38 13.92,21.95 12.35,23.52 10.78,21.95"/><polygon points="11.96,24.50 13.72,26.26 11.96,28.03 10.19,26.26"/></g>
<polygon points="390.5,583.7 397,569.5 407.5,582.5 398,580.5" fill="#1f6b68"/>
<polygon points="118,1272 125.5,1259 135,1271 126,1269" fill="#1f6b68"/>
<polygon points="1697,1552.5 1712.5,1545 1709.5,1552.5 1712.5,1560" fill="#1f6b68"/></g>
<g id="panel"><rect x="681.5" y="94.5" width="3" height="52.5" fill="#20696a"/>
<rect x="1701.3" y="32" width="1.6" height="105" fill="#20696a"/>
<rect x="2029.3" y="32" width="3.4" height="105" fill="#20696a"/>
<g fill="none" stroke="#1c1c1c"><circle cx="2258.1" cy="67.700" r="26.700" stroke-width="2" stroke-dasharray="2.4 0.5"/><circle cx="2258.1" cy="67.700" r="24.400" stroke-width="0.5"/><path d="M2239 62q2-8 9-7q2-6 9-5q6-3 10 2q7 0 8 6q5 6 1 12q1 7-5 9q-4 6-11 4q-7 4-12-1q-8-1-8-9q-4-5-1-11z" stroke-width="0.8"/><path d="M2264.0 62.3q4.5 -2.6 0.7 -5.2M2251.0 76.1q-4.6 -0.5 -3.3 3.3M2256.9 60.3q1.9 -4.7 -2.5 -4.4M2248.4 66.7q0.3 -3.7 -2.7 -2.5M2272.4 67.5q-3.9 -1.7 -3.8 2.0M2264.7 78.8q5.0 3.7 6.0 -1.6M2249.5 78.0q-5.2 2.3 -1.5 5.5M2241.7 62.1q-4.7 -2.3 -4.7 2.2M2258.0 59.6q0.5 2.5 2.2 1.1M2267.6 70.1q-1.7 -6.0 -5.7 -2.4M2259.3 67.4q3.9 -3.8 -0.6 -5.4M2265.7 53.9q4.7 2.5 4.9 -2.1M2246.7 73.1q3.0 0.6 2.3 -2.0M2269.2 66.9q0.3 -4.4 -3.3 -2.9M2242.6 62.2q-1.9 3.3 1.4 3.5M2272.0 66.4q-2.7 -2.2 -3.4 0.8M2253.3 72.3q-0.8 -3.1 -3.0 -1.3M2242.9 74.5q-3.2 0.9 -1.3 3.0M2250.6 70.2q-5.1 0.6 -2.7 4.4M2252.1 82.9q1.8 4.2 4.4 1.2M2246.0 79.5q-2.7 2.9 0.6 3.9M2242.7 63.3q-3.6 -4.0 -5.4 0.3M2241.5 69.9q-2.8 3.5 1.0 4.3M2270.9 67.7q-3.5 1.9 -0.7 3.9M2274.5 67.2q-3.1 1.4 -0.9 3.3M2255.7 60.7q-1.8 -1.9 -2.6 0.2M2240.6 64.0q0.7 4.4 3.8 2.2M2256.0 65.8q-3.8 4.1 0.9 5.5M2264.5 68.1q-6.3 0.5 -3.5 5.3M2257.8 61.1q2.3 5.7 5.9 1.7M2268.8 56.7q-5.1 1.1 -2.3 4.7M2241.2 72.3q-2.6 1.7 -0.3 3.1M2255.6 53.2q3.0 4.7 5.6 0.6M2249.5 71.3q-1.1 3.2 1.9 2.8M2249.8 71.2q-5.3 2.4 -1.4 5.6M2261.4 61.1q3.7 3.9 5.3 -0.5M2248.9 75.3q3.8 0.1 2.5 -2.9M2262.0 54.2q3.1 2.5 3.9 -0.9M2249.8 81.2q-3.0 4.8 1.8 5.3M2245.7 66.1q2.3 5.4 5.7 1.6M2239.1 66.6q-1.8 1.9 0.4 2.6M2250.7 67.7q0.2 -5.1 -3.8 -3.3M2265.2 75.9q4.0 4.7 6.1 -0.2M2261.9 82.7q1.7 4.4 4.5 1.4M2255.9 70.7q-0.6 4.3 3.0 3.2M2257.5 81.9q-1.2 4.5 2.8 3.7M2255.2 72.3q-2.9 2.8 0.4 4.0M2257.4 57.2q-4.9 -2.8 -5.2 2.1M2262.0 71.7q-0.7 5.6 3.9 4.1M2266.7 78.3q-3.5 -0.2 -2.4 2.6M2247.3 63.4q3.9 2.9 4.7 -1.3M2240.7 64.7q-5.4 0.1 -3.2 4.3M2251.8 63.5q-1.4 2.0 0.7 2.4M2265.0 69.8q4.0 -4.8 -1.3 -6.1M2266.1 79.4q-1.5 -4.5 -4.5 -1.6M2270.0 66.2q-2.3 -3.1 -3.9 -0.1M2259.1 83.0q0.8 -4.2 -2.8 -3.2M2274.0 65.0q-0.8 2.9 1.8 2.5M2249.2 72.5q1.0 -3.4 -2.0 -2.9M2263.3 54.8q1.5 4.9 4.8 1.8M2255.5 51.2q2.9 0.2 2.0 -2.1M2247.0 71.9q1.7 2.6 3.1 0.3M2271.5 65.6q1.8 2.0 2.7 -0.2M2244.7 71.8q-1.6 -2.3 -2.8 -0.1M2253.1 81.9q-2.4 -0.6 -2.0 1.5M2262.4 64.2q4.0 1.5 3.7 -2.2M2258.5 73.8q-5.6 3.0 -1.1 6.3M2252.6 70.2q-2.3 -5.6 -5.8 -1.7M2269.1 75.7q0.5 -4.8 -3.4 -3.4M2268.3 67.8q-0.4 -6.2 -5.1 -3.5M2256.9 54.2q0.3 3.1 2.6 1.7M2255.0 56.8q4.1 2.4 4.4 -1.8M2247.9 58.3q2.2 -1.5 0.2 -2.7M2268.6 80.6q4.1 -0.9 1.8 -3.8M2240.3 71.3q2.8 -2.4 -0.1 -3.6M2268.3 76.2q-2.8 -1.0 -2.5 1.6M2261.9 67.6q2.7 -5.0 -2.2 -5.2M2255.7 61.9q-1.9 1.8 0.2 2.6M2257.0 71.4q-1.3 5.6 3.6 4.5M2254.7 62.1q-2.7 -3.7 -4.6 -0.1M2243.8 77.0q5.3 -1.4 2.2 -5.0M2246.4 75.3q-3.5 2.4 -0.3 4.2M2251.4 78.3q2.0 -3.7 -1.7 -3.9M2274.1 65.0q-2.1 -1.8 -2.7 0.5M2244.6 70.4q3.5 4.1 5.4 -0.2M2263.2 53.7q3.4 2.0 3.7 -1.5M2252.7 80.8q-0.6 4.3 3.0 3.1M2250.8 64.4q-0.8 5.3 3.7 3.9M2253.7 64.2q-6.0 0.1 -3.7 4.7M2250.3 63.9q6.1 -0.7 3.2 -5.2M2275.1 61.1q-2.7 -1.9 -3.2 0.9M2243.9 78.2q3.9 -2.7 0.3 -4.7M2239.5 72.5q-3.6 5.2 1.8 6.0M2269.1 64.3q5.8 2.1 5.3 -3.2M2254.5 78.2q2.9 -2.0 0.2 -3.5" stroke-width="0.65"/></g>
<g><path d="M2140.6 44.500Q2126 58 2128.600 73Q2131 92 2144 103.500" fill="none" stroke="#6f9a52" stroke-width="3" stroke-dasharray="1.6 1.1"/><path d="M2170.800 44.500Q2185.400 58 2182.800 73Q2180.400 92 2167.400 103.500" fill="none" stroke="#6f9a52" stroke-width="3" stroke-dasharray="1.6 1.1"/><path d="M2141 45Q2127.500 58 2130 73Q2132 91 2144.500 102.500" fill="none" stroke="#9a6a5a" stroke-width="0.5"/><path d="M2170.400 45Q2184 58 2181.400 73Q2179.400 91 2167 102.500" fill="none" stroke="#9a6a5a" stroke-width="0.5"/><path d="M2145 100L2152 108L2155.700 110.500L2159.400 108L2166.400 100" fill="none" stroke="#8aa86a" stroke-width="2.2"/><polygon points="2146.4,60.6 2155.7,58.1 2165.0,60.6 2167.9,63.1 2172.9,62.3 2176.2,74.7 2175.4,79.7 2170.4,96.2 2163.0,102.0 2159.7,102.8 2155.7,108.6 2151.8,102.8 2148.1,102.0 2141.0,96.2 2135.7,79.7 2134.8,74.7 2138.1,62.3 2143.1,63.1" fill="#c9983c" stroke="#5c3c1a" stroke-width="0.9" stroke-linejoin="round"/><polygon points="2138.1,63.1 2142.7,63.9 2138.6,79.7 2135.7,78.8 2135.0,74.7" fill="#b5832c"/><polygon points="2172.9,63.1 2168.3,63.9 2172.5,79.7 2175.4,78.8 2176.0,74.7" fill="#b5832c"/><polygon points="2138.6,51.7 2144.8,53.2 2148.9,50.7 2153.0,52.3 2153.9,47.8 2155.7,45.1 2157.6,47.8 2158.4,52.3 2162.5,50.7 2167.1,53.2 2172.9,51.7 2167.9,54.8 2164.6,59.0 2155.7,57.7 2146.8,59.0 2143.5,54.8" fill="#a87628" stroke="#5c3c1a" stroke-width="0.7" stroke-linejoin="round"/><circle cx="2155.700" cy="46.200" r="1.500" fill="#c9983c" stroke="#5c3c1a" stroke-width="0.5"/><ellipse cx="2155.7" cy="80.5" rx="10.8" ry="14.5" fill="#d9663a" stroke="#3e2c1c" stroke-width="1.3"/><path d="M2145.5 76.5A10.800 14.500 0 0 1 2165.9 76.5L2162.7 72.5L2160.2 77.5L2157.7 71.5L2154.7 76.5L2151.7 72.0L2148.7 77.5Z" fill="#4d7cc8"/><path d="M2150.7 83.5q3 -4 5 0q3 3 6 -1q2 5 -2 8q-5 3 -10 0q-3 -3 1 -7z" fill="#e89a4a"/><path d="M2152.7 86.5q4 -2 8 1q-3 3 -8 2z" fill="#7f9a3c"/><ellipse cx="2155.7" cy="80.5" rx="10.8" ry="14.5" fill="none" stroke="#3e2c1c" stroke-width="1.3"/><rect x="2138.600" y="78.500" width="1.600" height="7" fill="#3f62b0" transform="rotate(8 2139.400 82)"/><rect x="2171.200" y="78.500" width="1.600" height="7" fill="#3f62b0" transform="rotate(-8 2172 82)"/></g>
<g transform="translate(1751 195) scale(1.004 1.000)"><path d="M0 23.3H36.3L33.2 57.2Q33 59 31 59H5.3Q3.3 59 3.1 57.2Z" fill="#050505"/><path d="M2.2 21.1Q2.2 18.4 5.6 17.2Q6.4 14 10.4 13.9Q12.6 13.6 14 14.6Q15.4 10.9 19 10.9Q22.6 11 23.8 14.6Q26.4 15.2 27.8 17.4Q31.4 16.8 33.2 18.8Q34.1 20 34.1 21.1Z" fill="#050505"/><path d="M26.9 18.2L28.2 12.8L29.8 13.2L29.9 15.6L29 18.4Z" fill="#050505"/><path d="M28.8 13.8C23.8 11 24 4.6 26 0C31.4 3.4 32.6 9.4 28.8 13.8Z" fill="#050505"/><path d="M29.7 15.6C32.6 10 39.4 8.2 44.6 11.9C40.2 16.8 33.6 17.8 29.7 15.6Z" fill="#050505"/><path d="M14.4 34.2L16.6 30Q17.7 28 18.9 30L25.6 41.4" fill="none" stroke="#fff" stroke-width="1.9" stroke-linecap="round" stroke-linejoin="round"/><path d="M28.6 44.6L30.8 48.3Q31.6 49.9 29.6 49.9H17" fill="none" stroke="#fff" stroke-width="1.9" stroke-linecap="round" stroke-linejoin="round"/><path d="M12.4 49.9H7.4Q5.4 49.9 6.4 48.2L12.8 37.2" fill="none" stroke="#fff" stroke-width="1.9" stroke-linecap="round" stroke-linejoin="round"/><path d="M23.4 41.8L27.2 43.6L27.4 39.2Z" fill="#fff"/><path d="M17.6 47.5L14.4 49.9L17.6 52.3Z" fill="#fff"/><path d="M10.6 37.4L13.9 35L14.5 39.2Z" fill="#fff"/></g>
<rect x="1814.5" y="243.7" width="670" height="1.7" fill="#111"/>
<rect x="1815.5" y="273.4" width="26.4" height="26.4" fill="#9fb691"/>
<rect x="1814" y="392.3" width="26.4" height="26.4" fill="#9fb691"/>
<rect x="1815" y="484" width="26.4" height="26.4" fill="#e8d04a"/>
<g transform="translate(1751.6 820.1) scale(1.000 1.000)" fill="#050505"><polygon points="20.26,0.86 24.14,7.97 21.34,13.36 20.04,13.66 15.09,10.99 14.78,9.70"/><polygon points="21.25,0.13 29.09,0.13 36.77,14.44 40.30,13.15 38.36,23.28 28.66,19.83 30.82,18.32 24.70,7.63"/><polygon points="14.22,17.46 16.59,27.80 13.58,26.51 9.05,34.91 0.22,34.91 6.90,22.63 4.74,20.91"/><polygon points="0.00,35.91 13.58,35.91 15.09,37.28 15.09,42.46 13.58,43.75 4.53,43.75"/><polygon points="21.34,40.09 29.09,33.41 29.09,35.91 49.35,35.91 45.04,43.75 29.09,43.75 29.09,46.77"/><polygon points="39.01,29.96 43.53,27.16 45.04,27.59 49.14,34.91 40.95,34.91 38.79,31.25"/></g>
<rect x="1815.5" y="901.2" width="670" height="1.7" fill="#111"/>
<rect x="1817" y="919.8" width="26" height="26" fill="#d0925c" stroke="#4a4a4a" stroke-width="0.9"/>
<rect x="1817.5" y="993.6" width="26.4" height="26.4" fill="#9f7e98"/>
<g transform="translate(1741 1503.1) scale(1.000)" fill="#050505"><polygon points="10.19,11.96 39.00,3.72 39.98,0.98 41.94,0.12 43.90,0.59 46.18,11.37 45.47,13.33 44.69,13.72 14.50,19.72 11.17,15.68 10.19,20.58 8.43,20.38"/><polygon points="34.89,15.88 37.63,15.29 41.55,21.56 38.81,21.95"/><polygon points="15.09,21.95 47.82,21.76 49.39,13.21 50.18,12.74 57.23,12.74 57.94,13.52 59.19,19.80 63.50,21.36 64.68,22.54 64.88,29.99 64.09,31.36 62.72,31.56 60.37,31.48 59.19,28.42 56.45,26.46 53.70,25.87 50.96,26.46 48.41,28.42 47.04,31.56 35.08,31.56 33.71,28.42 31.16,26.46 28.22,25.87 25.48,26.46 22.74,28.42 21.36,31.16 19.99,31.56 17.44,30.97"/><polygon points="51.43,14.62 55.66,14.62 56.37,19.33 51.04,19.33" fill="#fff"/><circle cx="28.22" cy="32.54" r="5.29"/><circle cx="28.22" cy="32.54" r="1.76" fill="#fff"/><circle cx="53.70" cy="32.54" r="5.29"/><circle cx="53.70" cy="32.54" r="1.76" fill="#fff"/><path d="M0.20 36.97 Q0.00 33.12 4.70 31.95 Q7.06 28.81 10.19 29.01 Q14.11 29.20 15.68 33.12 Q19.60 34.69 19.80 36.97 Z"/><polygon points="12.35,20.38 13.92,21.95 12.35,23.52 10.78,21.95"/><polygon points="11.96,24.50 13.72,26.26 11.96,28.03 10.19,26.26"/></g>
<rect x="1815.5" y="1539.8" width="670" height="1.7" fill="#111"/>
<svg x="1816" y="573.6" width="293.7" height="178.4" viewBox="0 0 100 100" preserveAspectRatio="none" overflow="hidden"><rect width="100" height="100" fill="#84594a"/><rect width="100" height="36" fill="#a4b45e"/><polygon points="14,0 40,0 40,26 18,28" fill="#b9c477" filter="url(#bl2)"/><polygon points="46,0 82,0 82,28 46,30" fill="#b7c66a" filter="url(#bl2)"/><polygon points="55,2 75,0 74,12 58,14" fill="#e4ecc0" filter="url(#bl2)"/><polygon points="88,0 100,0 100,24 88,24" fill="#9db655" filter="url(#bl2)"/><polygon points="0,0 13,0 11,30 0,40" fill="#3c4a2a" /><polygon points="4,8 8,8 7,30 4,30" fill="#4a3426" /><polygon points="3,18 17,16 17,29 3,30" fill="#9b5c48" /><polygon points="39,0 46,0 44.5,29 41,29" fill="#3c2a22" /><polygon points="83,0 88,0 87,28 84.5,28" fill="#5a4635" /><rect x="12.0" y="0" width="0.45" height="31.0" fill="#7a5238"/><rect x="14.2" y="0" width="0.45" height="30.9" fill="#7a5238"/><rect x="16.4" y="0" width="0.45" height="30.8" fill="#7a5238"/><rect x="18.6" y="0" width="0.45" height="30.8" fill="#7a5238"/><rect x="20.8" y="0" width="0.45" height="30.7" fill="#7a5238"/><rect x="23.0" y="0" width="0.45" height="30.6" fill="#7a5238"/><rect x="25.2" y="0" width="0.45" height="30.5" fill="#7a5238"/><rect x="27.4" y="0" width="0.45" height="30.4" fill="#7a5238"/><rect x="29.6" y="0" width="0.45" height="30.4" fill="#7a5238"/><rect x="31.8" y="0" width="0.45" height="30.3" fill="#7a5238"/><rect x="34.0" y="0" width="0.45" height="30.2" fill="#7a5238"/><rect x="36.2" y="0" width="0.45" height="30.1" fill="#7a5238"/><rect x="38.4" y="0" width="0.45" height="30.0" fill="#7a5238"/><rect x="40.6" y="0" width="0.45" height="30.0" fill="#7a5238"/><rect x="42.8" y="0" width="0.45" height="29.9" fill="#7a5238"/><rect x="45.0" y="0" width="0.45" height="29.8" fill="#7a5238"/><rect x="47.2" y="0" width="0.45" height="29.7" fill="#7a5238"/><rect x="49.4" y="0" width="0.45" height="29.6" fill="#7a5238"/><rect x="51.6" y="0" width="0.45" height="29.6" fill="#7a5238"/><rect x="53.8" y="0" width="0.45" height="29.5" fill="#7a5238"/><rect x="56.0" y="0" width="0.45" height="29.4" fill="#7a5238"/><rect x="58.2" y="0" width="0.45" height="29.3" fill="#7a5238"/><rect x="60.4" y="0" width="0.45" height="29.2" fill="#7a5238"/><rect x="62.6" y="0" width="0.45" height="29.2" fill="#7a5238"/><rect x="64.8" y="0" width="0.45" height="29.1" fill="#7a5238"/><rect x="67.0" y="0" width="0.45" height="29.0" fill="#7a5238"/><rect x="69.2" y="0" width="0.45" height="28.9" fill="#7a5238"/><rect x="71.4" y="0" width="0.45" height="28.8" fill="#7a5238"/><rect x="73.6" y="0" width="0.45" height="28.8" fill="#7a5238"/><rect x="75.8" y="0" width="0.45" height="28.7" fill="#7a5238"/><rect x="78.0" y="0" width="0.45" height="28.6" fill="#7a5238"/><rect x="80.2" y="0" width="0.45" height="28.5" fill="#7a5238"/><rect x="82.4" y="0" width="0.45" height="28.4" fill="#7a5238"/><rect x="84.6" y="0" width="0.45" height="28.4" fill="#7a5238"/><rect x="86.8" y="0" width="0.45" height="28.3" fill="#7a5238"/><rect x="89.0" y="0" width="0.45" height="28.2" fill="#7a5238"/><rect x="91.2" y="0" width="0.45" height="28.1" fill="#7a5238"/><rect x="93.4" y="0" width="0.45" height="28.0" fill="#7a5238"/><rect x="95.6" y="0" width="0.45" height="28.0" fill="#7a5238"/><rect x="97.8" y="0" width="0.45" height="27.9" fill="#7a5238"/><polygon points="0,30 10,28 18,30 18,42 0,42" fill="#3f5a30" /><polygon points="8,27.5 74,30 74,35.5 8,33" fill="#55554c" /><rect x="9.0" y="29.0" width="0.9" height="2.6" fill="#c9c9c0"/><rect x="11.2" y="29.1" width="0.9" height="2.6" fill="#c9c9c0"/><rect x="13.4" y="29.2" width="0.9" height="2.6" fill="#c9c9c0"/><rect x="15.6" y="29.2" width="0.9" height="2.6" fill="#c9c9c0"/><rect x="17.8" y="29.3" width="0.9" height="2.6" fill="#c9c9c0"/><rect x="20.0" y="29.4" width="0.9" height="2.6" fill="#c9c9c0"/><rect x="22.2" y="29.5" width="0.9" height="2.6" fill="#c9c9c0"/><rect x="24.4" y="29.6" width="0.9" height="2.6" fill="#c9c9c0"/><rect x="26.6" y="29.6" width="0.9" height="2.6" fill="#c9c9c0"/><rect x="28.8" y="29.7" width="0.9" height="2.6" fill="#c9c9c0"/><rect x="31.0" y="29.8" width="0.9" height="2.6" fill="#c9c9c0"/><rect x="33.2" y="29.9" width="0.9" height="2.6" fill="#c9c9c0"/><rect x="35.4" y="30.0" width="0.9" height="2.6" fill="#c9c9c0"/><rect x="37.6" y="30.0" width="0.9" height="2.6" fill="#c9c9c0"/><rect x="39.8" y="30.1" width="0.9" height="2.6" fill="#c9c9c0"/><rect x="42.0" y="30.2" width="0.9" height="2.6" fill="#c9c9c0"/><rect x="44.2" y="30.3" width="0.9" height="2.6" fill="#c9c9c0"/><rect x="46.4" y="30.4" width="0.9" height="2.6" fill="#c9c9c0"/><rect x="48.6" y="30.4" width="0.9" height="2.6" fill="#c9c9c0"/><rect x="50.8" y="30.5" width="0.9" height="2.6" fill="#c9c9c0"/><rect x="53.0" y="30.6" width="0.9" height="2.6" fill="#c9c9c0"/><rect x="55.2" y="30.7" width="0.9" height="2.6" fill="#c9c9c0"/><rect x="57.4" y="30.8" width="0.9" height="2.6" fill="#c9c9c0"/><rect x="59.6" y="30.8" width="0.9" height="2.6" fill="#c9c9c0"/><rect x="61.8" y="30.9" width="0.9" height="2.6" fill="#c9c9c0"/><rect x="64.0" y="31.0" width="0.9" height="2.6" fill="#c9c9c0"/><rect x="66.2" y="31.1" width="0.9" height="2.6" fill="#c9c9c0"/><rect x="68.4" y="31.2" width="0.9" height="2.6" fill="#c9c9c0"/><rect x="70.6" y="31.2" width="0.9" height="2.6" fill="#c9c9c0"/><rect x="72.8" y="31.3" width="0.9" height="2.6" fill="#c9c9c0"/><polygon points="75,22 100,21 100,30 75,30.5" fill="#2c2c2a" /><polygon points="20,33 74,35.5 74,41 20,38" fill="#54512f" /><polygon points="20,37 74,40 74,52 30,47 20,45" fill="#aeae9c" /><polygon points="40,40 74,42 74,50 44,47" fill="#c0bfae" filter="url(#bl2)"/><polygon points="74,30 100,29 100,36 74,37" fill="#6f7062" /><polygon points="74,36 100,35 100,64 74,54" fill="#8e9080" /><polygon points="80,46 100,44 100,66 82,58" fill="#4b4c3e" filter="url(#bl2)"/><polygon points="0,41 14,40 14,50 0,52" fill="#778064" /><polygon points="14,41 32,43.5 30,47 14,48" fill="#a9a990" /><polygon points="2,52 33,43 95,60 95,71 62,96 57,96 2,57" fill="#a49c8c" /><polygon points="9,53 33,46 86,60 64,78 62,80" fill="#404a3a" /><polygon points="9,53 33,46 33,62 22,60" fill="#737c6a" /><polygon points="33,46 86,60 80,64 66,80 60,76 34,64" fill="#4a5442" /><polygon points="40,56 52,58 52,68 42,66" fill="#a9b296" filter="url(#bl2)"/><polygon points="62,62 74,64 70,74 62,72" fill="#a4ad8e" filter="url(#bl2)"/><polygon points="44,64 58,68 56,76 46,72" fill="#8e987e" filter="url(#bl2)"/><polygon points="2,55 57,90 57,96 2,59" fill="#7d7f72" /><polygon points="57,90 62,96 95,71 95,65" fill="#6c6e64" /><polygon points="4,52 30,60 58,84 56,88 26,66 3,55" fill="#a87e68" filter="url(#bl1)"/><polygon points="64,80 90,62 94,63 66,86" fill="#a87e68" filter="url(#bl1)"/><polygon points="0,60 56,96 62,96 95,72 100,70 100,100 0,100" fill="#86584a" /><polygon points="0,62 24,74 36,100 0,100" fill="#6b4438" filter="url(#bl2)"/><polygon points="28,78 54,92 46,100 36,100" fill="#4e332c" filter="url(#bl2)"/><polygon points="74,80 100,72 100,90 88,92" fill="#a4735c" filter="url(#bl2)"/><polygon points="6,66 20,72 14,78 4,72" fill="#bb8e76" filter="url(#bl2)"/><polygon points="16,84 32,90 28,97 12,92" fill="#b88a72" filter="url(#bl2)"/><polygon points="92,74 100,72 100,84 94,82" fill="#4f7a30" filter="url(#bl1)"/></svg><rect x="1816" y="573.6" width="293.7" height="178.4" filter="url(#nzA)" opacity="0.45"/><rect x="1816" y="671.7" width="293.7" height="80.3" filter="url(#nzB)" opacity="0.35"/><rect x="1816" y="573.6" width="293.7" height="53.5" filter="url(#nzD)" opacity="0.5"/><rect x="1816" y="573.6" width="293.7" height="60.7" filter="url(#nzC)" opacity="0.5"/><rect x="1816" y="573.6" width="293.7" height="178.4" filter="url(#nzF)" opacity="0.3"/>
<svg x="2127" y="573.6" width="293.5" height="178.4" viewBox="0 0 100 100" preserveAspectRatio="none" overflow="hidden"><rect width="100" height="100" fill="#84825c"/><rect width="100" height="13" fill="#c6c6ca"/><rect x="0" y="9.5" width="52" height="2.6" fill="#8d8d92"/><rect x="52" y="0" width="19" height="9" fill="#d7a832"/><rect x="71" y="0" width="29" height="4" fill="#c2a040"/><rect x="71" y="4" width="29" height="10" fill="#88867a"/><rect x="45" y="10" width="26" height="2" fill="#e6e6e2"/><rect x="27.500" y="0" width="1" height="14" fill="#202020"/><polygon points="0,13 100,12 100,22 0,24" fill="#6d5f50" /><polygon points="0,19 66,18 66,23 0,25" fill="#46382e" /><polygon points="0,25 14,24 10,44 0,50" fill="#ad9a78" filter="url(#bl1)"/><polygon points="14,24 66,23 66,34 12,38" fill="#7a7656" /><polygon points="36,36 66,34 74,52 50,56 40,50" fill="#96967a" filter="url(#bl2)"/><polygon points="0,84 8,80 10,100 0,100" fill="#45362c" filter="url(#bl2)"/><polygon points="40,70 100,66 100,100 30,100" fill="#7f7f58" /><polygon points="60,84 100,80 100,100 50,100" fill="#77784f" filter="url(#bl2)"/><path d="M10 40Q11 30 20 27L28 25V37Q18 37 15 44Z" fill="#3f7556"/><path d="M28.500 25Q38 21 47 24V36Q38 33 28.500 37Z" fill="#3f7556"/><path d="M47.500 24.500Q57 22 66 27V40Q57 35 47.500 36.500Z" fill="#3f7556"/><path d="M10 40L15 44Q10 52 11 60L4 64Q1 50 10 40Z" fill="#2d5c42"/><path d="M12 27Q20 23 28 25M29 25Q38 21 47 24M48 24.500Q57 22 66 27" stroke="#5a8f70" stroke-width="1.2" fill="none"/><path d="M3 52Q3 46 6 42L10 40Q6 50 8 58L10 66Q6 66 4 62Z" fill="#3f7556"/><path d="M8 58Q9 78 22 86Q36 94 48 86Q51 76 50 56L49.500 50Q47 66 38 74Q26 80 16 72Q10 66 10 56Z" fill="#3f7556"/><path d="M9 64Q12 80 24 88Q36 95 48 87L49 80Q36 88 24 82Q13 76 10 62Z" fill="#2d5c42"/><path d="M50 52Q58 56 66 52Q70 50 72 46L73 62Q70 68 62 70Q54 70 50 66Z" fill="#3f7556"/><path d="M50 60Q58 66 72 56L73 62Q70 68 62 70Q54 70 50 66Z" fill="#2d5c42"/><path d="M10 56Q10 44 16 40L30 36L40 40Q44 48 42 58Q40 70 30 76Q18 76 12 66Z" fill="#39251f"/><path d="M18 42L30 38L38 42Q36 50 30 54Q22 52 18 42Z" fill="#4a2f25" filter="url(#bl1)"/><polygon points="68,11 86,8 100,22 100,62 78,62 66,46" fill="#3c7355" /><polygon points="68,11 86,8 100,22 80,25" fill="#4d8a68" /><polygon points="66,46 68,11 80,25 78,62" fill="#2f6147" /><polygon points="82,34 90,33 92,44 84,46" fill="#4a8564" filter="url(#bl1)"/><polygon points="88,48 96,46 97,58 89,60" fill="#4a8564" filter="url(#bl1)"/><rect x="73" y="50" width="5" height="4" fill="#1e1e1e"/><ellipse cx="23" cy="37" rx="3" ry="3.8" fill="#5d8d3a"/><ellipse cx="22" cy="35" rx="1.800" ry="2.2" fill="#e79a1c"/><ellipse cx="23" cy="49" rx="3" ry="3.8" fill="#5d8d3a"/><ellipse cx="22" cy="47" rx="1.800" ry="2.2" fill="#d62c2c"/><ellipse cx="35" cy="59" rx="3" ry="3.8" fill="#5d8d3a"/><ellipse cx="34" cy="57" rx="1.800" ry="2.2" fill="#f2f2ee"/><ellipse cx="24" cy="69" rx="3" ry="3.8" fill="#5d8d3a"/><ellipse cx="23" cy="67" rx="1.800" ry="2.2" fill="#ecd21e"/><ellipse cx="37" cy="71" rx="3" ry="3.8" fill="#5d8d3a"/><ellipse cx="36" cy="69" rx="1.800" ry="2.2" fill="#e04a7c"/><ellipse cx="68" cy="74" rx="2.6" ry="3.6" fill="#cdbca4"/><ellipse cx="73" cy="71" rx="1.6" ry="4" fill="#cdbca4"/><ellipse cx="76" cy="73" rx="1.6" ry="3" fill="#cdbca4"/><ellipse cx="79" cy="72" rx="2.2" ry="3.2" fill="#cdbca4"/><ellipse cx="71" cy="66" rx="2" ry="2" fill="#cdbca4"/><ellipse cx="86" cy="66" rx="2" ry="3" fill="#cdbca4"/><ellipse cx="91" cy="69" rx="2.4" ry="3" fill="#cdbca4"/><ellipse cx="96" cy="66" rx="2" ry="2.6" fill="#cdbca4"/><ellipse cx="87" cy="74" rx="2.2" ry="3" fill="#cdbca4"/><ellipse cx="60" cy="94" rx="1.4" ry="1.6" fill="#cdbca4"/><polygon points="56.5,72 61,74 60,80 56,78" fill="#f1f1ee" /></svg><rect x="2127" y="598.6" width="293.5" height="153.4" filter="url(#nzA)" opacity="0.3"/><rect x="2127" y="616.4" width="293.5" height="135.6" filter="url(#nzC)" opacity="0.35"/><rect x="2127" y="616.4" width="293.5" height="135.6" filter="url(#nzG)" opacity="0.3"/><rect x="2127" y="573.6" width="293.5" height="178.4" filter="url(#nzF)" opacity="0.3"/>
<svg x="1817.9" y="1033.3" width="245.6" height="178.4" viewBox="0 0 100 100" preserveAspectRatio="none" overflow="hidden"><rect width="100" height="100" fill="#6e8152"/><polygon points="0,0 60,0 60,18 0,30" fill="#8c9a6c" /><polygon points="60,0 92,0 92,14 70,18" fill="#8f8558" filter="url(#bl2)"/><polygon points="92,0 100,0 100,14 94,12" fill="#f1f0e2" /><polygon points="88,14 100,12 100,62 90,60" fill="#a5b56c" filter="url(#bl2)"/><polygon points="0,4 38,0 34,40 0,50" fill="#c9c5a9" filter="url(#bl3)"/><polygon points="0,44 18,40 18,88 0,90" fill="#5c634a" /><polygon points="6,24 56,11 99,27 88,31 66,37 20,40 12,33" fill="#575d4f" /><polygon points="20,40 66,37 88,31 90,82 60,90 18,90" fill="#40503a" /><polygon points="22,40 56,38 56,62 22,64" fill="#6d7b5c" filter="url(#bl2)"/><polygon points="26,62 56,60 56,86 24,88" fill="#3f5236" filter="url(#bl2)"/><polygon points="60,38 88,33 88,60 60,64" fill="#5c7447" filter="url(#bl2)"/><polygon points="60,62 100,58 100,86 60,90" fill="#56703f" filter="url(#bl2)"/><polygon points="17,32 20.5,32 20.5,92 17,92" fill="#386a48" /><polygon points="56,16 58,16 58,90 56,90" fill="#3a6447" /><polygon points="73,22 75,22 75,86 73,86" fill="#6c5636" /><polygon points="89,28 91,28 91,82 89,82" fill="#386a48" /><polygon points="18,57 56,56 56,57.5 18,58.5" fill="#3d6a48" /><polygon points="58,70 74,60 75,61 59,71" fill="#3d6a48" /><polygon points="58,62 74,80 73,81 57,63" fill="#3d6a48" /><polygon points="0,88 18,88 60,90 100,84 100,100 0,100" fill="#8d7556" /><polygon points="40,84 100,80 100,90 44,92" fill="#9a8262" filter="url(#bl2)"/><rect width="100" height="100" fill="#e8e6d0" opacity="0.14"/></svg><rect x="1817.9" y="1033.3" width="245.6" height="178.4" filter="url(#nzA)" opacity="0.3"/><rect x="1916.1" y="1033.3" width="147.4" height="178.4" filter="url(#nzD)" opacity="0.3"/><rect x="1817.9" y="1086.8" width="245.6" height="124.9" filter="url(#nzC)" opacity="0.3"/><rect x="1817.9" y="1033.3" width="245.6" height="178.4" filter="url(#nzF)" opacity="0.3"/>
<svg x="2082.2" y="1033.3" width="238.1" height="178.4" viewBox="0 0 100 100" preserveAspectRatio="none" overflow="hidden"><rect width="100" height="100" fill="#6c5642"/><rect width="100" height="62" fill="#73983e"/><polygon points="22,0 60,0 52,14 30,18" fill="#cfe293" filter="url(#bl2)"/><polygon points="60,6 100,0 100,32 78,28" fill="#a8cb5c" filter="url(#bl2)"/><polygon points="66,14 82,12 80,24 70,24" fill="#e8f2c8" filter="url(#bl2)"/><polygon points="0,0 14,0 12,34 0,38" fill="#3f5f24" filter="url(#bl2)"/><polygon points="20,0 30,0 28,30 20,34" fill="#4d7428" filter="url(#bl2)"/><polygon points="14,0 21,0 19,46 13,80 6,88 11,50" fill="#573824" /><polygon points="23,0 26,0 25,30 23,32" fill="#4a3220" /><polygon points="91,0 97,0 88,46 80,62 76,61 86,36" fill="#3d2f1f" /><polygon points="18,48 82,48 82,63 18,63" fill="#86b344" /><polygon points="30,52 70,52 70,62 30,62" fill="#9cc552" filter="url(#bl2)"/><polygon points="44,46 52,46 52,52 44,52" fill="#8a5a48" /><polygon points="0,62 100,62 100,100 0,100" fill="#6f5844" /><polygon points="62,62 100,60 100,68 76,70" fill="#8bae4c" /><polygon points="76,64 100,66 100,90 88,88" fill="#80664c" /><polygon points="0,62 20,62 14,90 0,92" fill="#5c4736" /><polygon points="16,88 40,63 60,63 86,88" fill="#b0a898" /><polygon points="30,76 52,70 62,80 40,84" fill="#c0b8a8" filter="url(#bl2)"/><polygon points="0,88 100,88 100,100 0,100" fill="#8b7b68" /></svg><rect x="2082.2" y="1033.3" width="238.1" height="178.4" filter="url(#nzA)" opacity="0.35"/><rect x="2082.2" y="1033.3" width="238.1" height="71.4" filter="url(#nzD)" opacity="0.45"/><rect x="2082.2" y="1143.9" width="238.1" height="67.8" filter="url(#nzB)" opacity="0.3"/><rect x="2082.2" y="1033.3" width="238.1" height="107" filter="url(#nzC)" opacity="0.4"/><rect x="2082.2" y="1033.3" width="238.1" height="178.4" filter="url(#nzF)" opacity="0.3"/><svg x="2082.2" y="1033.3" width="238.1" height="178.4" viewBox="0 0 100 100" preserveAspectRatio="none" overflow="hidden"><polygon points="0,40 48,17 100,40 92,45 64,54 48,50 32,54 8,45" fill="#1f4236" /><polygon points="20,34 48,22 60,28 40,38" fill="#2a5445" filter="url(#bl2)"/><polygon points="8,45 32,54 48,50 64,54 92,45 84,48 63,56 48,52.5 34,56 16,48" fill="#152a22" /><path d="M4 42L48 25L96 42M48 17V50" stroke="#5c3b28" stroke-width="0.9" fill="none"/><rect x="15.5" y="42" width="1.2" height="44" fill="#4b3020"/><rect x="25.5" y="42" width="1" height="34" fill="#4b3020"/><rect x="31.5" y="42" width="0.8" height="28" fill="#4b3020"/><rect x="35.2" y="42" width="0.7" height="25" fill="#4b3020"/><rect x="82.5" y="42" width="1.2" height="44" fill="#4b3020"/><rect x="72.5" y="42" width="1" height="34" fill="#4b3020"/><rect x="67" y="42" width="0.8" height="28" fill="#4b3020"/><rect x="63.5" y="42" width="0.7" height="25" fill="#4b3020"/></svg><rect x="2082.2" y="1033.3" width="238.1" height="178.4" filter="url(#nzF)" opacity="0.3"/>
<svg x="1816" y="1259.2" width="325.6" height="176.1" viewBox="0 0 100 100" preserveAspectRatio="none" overflow="hidden"><rect width="100" height="100" fill="#4a6430"/><polygon points="0,0 10,0 9,24 0,28" fill="#8c4c42" /><polygon points="10,0 46,0 44,28 10,30" fill="#4a6a2e" /><polygon points="14,4 34,2 32,20 16,24" fill="#88a652" filter="url(#bl2)"/><polygon points="50,0 100,0 100,30 50,28" fill="#9fb24e" /><polygon points="56,2 80,0 78,14 58,18" fill="#d3dc88" filter="url(#bl2)"/><polygon points="82,4 100,2 100,24 84,22" fill="#b9c766" filter="url(#bl2)"/><polygon points="20,30 23,25 100,29 100,39 20,38" fill="#a48c7c" /><polygon points="50,27 100,30 100,35 52,33" fill="#8c5e44" filter="url(#bl1)"/><polygon points="8,40 20,37 100,39 100,78 8,80" fill="#939474" /><polygon points="8,40 45,38 45,78 8,80" fill="#80907a" /><polygon points="8,42 22,40 22,76 8,78" fill="#a2ae9a" filter="url(#bl2)"/><polygon points="0,36 8,34 8,76 0,78" fill="#c3d2a6" filter="url(#bl2)"/><polygon points="8,53 100,52 100,55 8,56" fill="#5d5d48" /><polygon points="0,76 100,74 100,86 0,86" fill="#55584a" /><polygon points="0,84 100,82 100,100 0,100" fill="#46492e" /><polygon points="20,88 60,86 70,100 16,100" fill="#3c5a2c" filter="url(#bl2)"/><polygon points="43,0 49,0 48,60 47,100 42,100 44,50" fill="#39291f" /><polygon points="26,44 40,42 42,70 28,74" fill="#587838" filter="url(#bl2)"/><polygon points="62,44 82,42 84,66 64,70" fill="#5f7f3f" filter="url(#bl2)"/><polygon points="86,56 100,54 100,74 88,76" fill="#5a7838" filter="url(#bl2)"/><line x1="14" y1="92" x2="17" y2="24" stroke="#75633f" stroke-width="0.5"/><line x1="21" y1="92" x2="19" y2="13" stroke="#75633f" stroke-width="0.5"/><line x1="27" y1="92" x2="31" y2="15" stroke="#75633f" stroke-width="0.5"/><line x1="33" y1="92" x2="30" y2="17" stroke="#75633f" stroke-width="0.5"/><line x1="37" y1="92" x2="39" y2="25" stroke="#75633f" stroke-width="0.5"/><line x1="53" y1="92" x2="49" y2="17" stroke="#75633f" stroke-width="0.5"/><line x1="58" y1="92" x2="61" y2="12" stroke="#75633f" stroke-width="0.5"/><line x1="64" y1="92" x2="62" y2="14" stroke="#75633f" stroke-width="0.5"/><line x1="69" y1="92" x2="73" y2="9" stroke="#75633f" stroke-width="0.5"/><line x1="75" y1="92" x2="72" y2="11" stroke="#75633f" stroke-width="0.5"/><line x1="82" y1="92" x2="85" y2="20" stroke="#75633f" stroke-width="0.5"/><line x1="88" y1="92" x2="84" y2="22" stroke="#75633f" stroke-width="0.5"/><line x1="93" y1="92" x2="95" y2="17" stroke="#75633f" stroke-width="0.5"/><ellipse cx="16" cy="30" rx="5" ry="6" fill="#5e8438" opacity="0.75" filter="url(#bl1)"/><ellipse cx="30" cy="50" rx="5" ry="6" fill="#5e8438" opacity="0.75" filter="url(#bl1)"/><ellipse cx="36" cy="24" rx="5" ry="6" fill="#5e8438" opacity="0.75" filter="url(#bl1)"/><ellipse cx="56" cy="40" rx="5" ry="6" fill="#5e8438" opacity="0.75" filter="url(#bl1)"/><ellipse cx="66" cy="58" rx="5" ry="6" fill="#5e8438" opacity="0.75" filter="url(#bl1)"/><ellipse cx="72" cy="30" rx="5" ry="6" fill="#5e8438" opacity="0.75" filter="url(#bl1)"/><ellipse cx="80" cy="50" rx="5" ry="6" fill="#5e8438" opacity="0.75" filter="url(#bl1)"/><ellipse cx="90" cy="36" rx="5" ry="6" fill="#5e8438" opacity="0.75" filter="url(#bl1)"/><ellipse cx="24" cy="66" rx="5" ry="6" fill="#5e8438" opacity="0.75" filter="url(#bl1)"/><ellipse cx="60" cy="20" rx="5" ry="6" fill="#5e8438" opacity="0.75" filter="url(#bl1)"/></svg><rect x="1816" y="1259.2" width="325.6" height="176.1" filter="url(#nzA)" opacity="0.4"/><rect x="1816" y="1259.2" width="325.6" height="176.1" filter="url(#nzC)" opacity="0.3"/><rect x="1816" y="1259.2" width="325.6" height="105.7" filter="url(#nzD)" opacity="0.4"/><rect x="1816" y="1259.2" width="325.6" height="176.1" filter="url(#nzF)" opacity="0.3"/>
<svg x="2160.7" y="1259.2" width="224.5" height="176.1" viewBox="0 0 100 100" preserveAspectRatio="none" overflow="hidden"><rect width="100" height="100" fill="#a5a39c"/><rect width="100" height="62" fill="#355227"/><polygon points="0,44 20,42 20,64 0,64" fill="#c7c7bf" /><polygon points="52,44 72,44 72,62 52,62" fill="#bfc4ba" /><polygon points="20,50 52,48 52,64 20,64" fill="#6f8c48" /><polygon points="72,50 100,48 100,64 72,64" fill="#587a38" /><polygon points="0,60 16,60 16,66 0,66" fill="#7ea444" /><polygon points="88,58 100,57 100,64 88,64" fill="#86aa48" /><polygon points="0,0 100,0 100,42 72,48 50,44 22,46 0,40" fill="#31502a" /><polygon points="10,4 36,0 40,20 14,26" fill="#4f7c34" filter="url(#bl2)"/><polygon points="60,6 92,2 96,24 66,28" fill="#43702e" filter="url(#bl2)"/><polygon points="30,24 50,22 50,38 32,40" fill="#58883a" filter="url(#bl2)"/><rect x="7" y="38" width="3" height="28" fill="#28261a"/><rect x="22" y="0" width="4" height="60" fill="#28261a"/><rect x="43" y="0" width="4" height="56" fill="#28261a"/><rect x="50" y="10" width="3" height="50" fill="#28261a"/><rect x="73" y="0" width="6" height="68" fill="#28261a"/><rect x="85" y="20" width="3" height="44" fill="#28261a"/><rect x="60" y="30" width="2" height="32" fill="#28261a"/><polygon points="0,64 100,63 100,100 0,100" fill="#a8a6a0" /><polygon points="0,64 40,66 100,64 100,70 40,72 0,70" fill="#8c8a82" filter="url(#bl2)"/><polygon points="0,84 60,80 100,84 100,100 0,100" fill="#7d776a" filter="url(#bl2)"/><polygon points="56,90 100,88 100,97 60,98" fill="#c3b3a2" filter="url(#bl2)"/><polygon points="27,51 33,40 43,51" fill="#3d84c6" /><polygon points="29,50 46,50 46,62 29,62" fill="#c02c30" /><polygon points="30,53 33,53 33,60 30,60" fill="#7a1c20" /><polygon points="17,55 24,55 24,64 17,64" fill="#c02c30" /><polygon points="25,56 29,56 29,63 25,63" fill="#3d84c6" /><polygon points="7,72 20,62 23,63 11,75" fill="#c79e28" /><polygon points="14,76 30,58 34,59 19,79" fill="#c9a22c" /><polygon points="30,62 31,62 31,76 30,76" fill="#7c5a3a" /><polygon points="38,62 39,62 39,78 38,78" fill="#7c5a3a" /><polygon points="45,62 46,62 46,76 45,76" fill="#7c5a3a" /><ellipse cx="66.500" cy="81" rx="2.6" ry="3.2" fill="#c22828"/><ellipse cx="59.500" cy="79" rx="2" ry="3.600" fill="#c22828"/><rect x="61" y="82" width="5" height="5" fill="#555"/><ellipse cx="82.500" cy="70" rx="2.4" ry="2.6" fill="none" stroke="#c22828" stroke-width="1"/><ellipse cx="93" cy="68.500" rx="2.4" ry="2.6" fill="none" stroke="#c22828" stroke-width="1"/><rect x="80" y="72" width="15" height="1.600" fill="#7b6a4a"/><rect x="86" y="73" width="3" height="6" fill="#4a6fa8"/></svg><rect x="2160.7" y="1259.2" width="224.5" height="176.1" filter="url(#nzA)" opacity="0.35"/><rect x="2160.7" y="1259.2" width="224.5" height="79.2" filter="url(#nzD)" opacity="0.35"/><rect x="2160.7" y="1375.4" width="224.5" height="59.9" filter="url(#nzB)" opacity="0.2"/><rect x="2160.7" y="1259.2" width="224.5" height="176.1" filter="url(#nzF)" opacity="0.35"/>
<svg x="2173.9" y="1561" width="219.1" height="166.4" viewBox="0 0 100 100" preserveAspectRatio="none" overflow="hidden"><rect width="100" height="100" fill="#8f7050"/><polygon points="0,0 60,0 58,28 30,44 0,56" fill="#527c32" /><polygon points="8,0 44,0 40,26 8,34" fill="#74a044" filter="url(#bl2)"/><polygon points="0,10 10,8 8,50 0,54" fill="#35522a" filter="url(#bl2)"/><polygon points="36,24 56,20 54,34 38,38" fill="#6a9a40" filter="url(#bl2)"/><polygon points="60,0 100,0 100,36 76,30 60,26" fill="#4a6a35" /><polygon points="60,4 72,4 72,24 60,24" fill="#39482f" /><polygon points="65,8 70,8 69,18 65,18" fill="#7a4a48" filter="url(#bl1)"/><polygon points="80,0 84,0 84.5,26 81,26" fill="#9c8a72" /><polygon points="86,2 90,2 91,28 87.5,28" fill="#a3917a" /><polygon points="92,0 98,0 97.5,36 91,36" fill="#93826a" /><polygon points="71,2 72,2 72,22 71,22" fill="#776a5a" /><polygon points="80,28 100,30 100,46 84,44" fill="#5f7f3a" filter="url(#bl2)"/><polygon points="0,52 30,44 56,30 50,44 30,62 0,66" fill="#5b4a30" filter="url(#bl2)"/><polygon points="58,25 76,28 84,60 94,100 20,100 36,64 50,40" fill="#a17a50" /><polygon points="56,36 72,34 78,54 52,58" fill="#c79e76" filter="url(#bl2)"/><polygon points="40,58 70,56 76,72 40,72" fill="#b58c62" filter="url(#bl2)"/><polygon points="10,62 50,60 54,72 12,74" fill="#7c7c4a" filter="url(#bl2)"/><polygon points="0,78 40,72 58,82 54,100 0,100" fill="#67625a" /><polygon points="4,86 30,82 34,90 6,94" fill="#8e7a62" filter="url(#bl2)"/><polygon points="0,76 24,72 20,84 0,88" fill="#8a6a4a" filter="url(#bl2)"/><polygon points="30,84 54,84 50,92 30,92" fill="#77726a" filter="url(#bl2)"/><polygon points="60,78 86,76 90,100 56,100" fill="#8a6a48" filter="url(#bl2)"/><polygon points="76,28 79,28 88,64 97,100 91,100 84,66" fill="#8b846a" /><polygon points="79,30 100,36 100,100 97,100 88,64" fill="#7a6846" /><polygon points="86,50 100,52 100,70 90,68" fill="#93744e" filter="url(#bl2)"/><polygon points="57.5,22 64,22 63.5,31 58,31" fill="#e8c81a" /></svg><rect x="2173.9" y="1561" width="219.1" height="166.4" filter="url(#nzA)" opacity="0.4"/><rect x="2173.9" y="1610.9" width="219.1" height="116.5" filter="url(#nzB)" opacity="0.4"/><rect x="2173.9" y="1561" width="131.5" height="83.2" filter="url(#nzD)" opacity="0.45"/><rect x="2173.9" y="1561" width="219.1" height="83.2" filter="url(#nzC)" opacity="0.4"/><rect x="2173.9" y="1561" width="219.1" height="166.4" filter="url(#nzF)" opacity="0.3"/>
<rect x="1816" y="725.8" width="26.2" height="26.2" fill="#e8d04a"/>
<rect x="1819.5" y="1185" width="26" height="26" fill="#d0925c" stroke="#3a3a3a" stroke-width="0.9"/>
<rect x="2082.5" y="1185" width="26" height="26" fill="#d0925c" stroke="#3a3a3a" stroke-width="0.9"/>
<rect x="1816.5" y="1409.3" width="26" height="26" fill="#d0925c" stroke="#3a3a3a" stroke-width="0.9"/>
<rect x="2160.7" y="1409" width="26.5" height="26.5" fill="#9f7e98"/></g>
</svg>
<div class="t" style="left:30px;top:22.6px;font-size:69px;font-weight:400;color:#20696a;letter-spacing:-2.210px;-webkit-text-stroke:0.5px #20696a;">PARCO TOMMASINI</div>
<div class="t" style="left:31px;top:101.3px;font-size:40.6px;font-weight:400;color:#20696a;letter-spacing:-1.419px;-webkit-text-stroke:0.25px #20696a;">IL LUOGO DEL TEMPO RITROVATO</div>
<div class="t" style="left:702px;top:101.3px;font-size:40.6px;font-weight:400;color:#20696a;letter-spacing:-1.723px;-webkit-text-stroke:0.25px #20696a;">THE PLACE OF REDISCOVERED TIME</div>
<div class="t" style="left:1655.5px;top:84px;font-size:61px;color:#20696a;transform:translate(-50%,-50%) rotate(-90deg);letter-spacing:-1px;">05</div>
<div class="t" style="left:1726px;top:26.7px;font-size:47px;font-weight:400;color:#20696a;letter-spacing:0.933px;">circular</div>
<div class="t" style="left:1726px;top:80.7px;font-size:47px;font-weight:400;color:#20696a;letter-spacing:0.881px;">economy</div>
<div class="t" style="left:2082px;top:116.0px;font-size:11.9px;font-weight:400;color:#111;letter-spacing:0.000px;font-family:'Liberation Serif',serif;letter-spacing:0.2px;-webkit-text-stroke:0.2px #111;">Citt&agrave; di Salsomaggiore Terme</div>
<div class="t" style="left:2291.7px;top:51.6px;font-size:16.6px;font-weight:700;color:#111;letter-spacing:1.356px;">POLITECNICO</div>
<div class="t" style="left:2292.7px;top:71.9px;font-size:13.2px;font-weight:400;color:#111;letter-spacing:0.106px;">MILANO 1863</div>
<div class="t" style="left:2292.7px;top:102.1px;font-size:8.9px;font-weight:700;color:#111;letter-spacing:-0.318px;">DIPARTIMENTO DI ARCHITETTURA,</div>
<div class="t" style="left:2292.7px;top:112.2px;font-size:8.9px;font-weight:700;color:#111;letter-spacing:-0.369px;">INGEGNERIA DELLE COSTRUZIONI</div>
<div class="t" style="left:2292.7px;top:121.9px;font-size:8.9px;font-weight:700;color:#111;letter-spacing:-0.462px;">E AMBIENTE COSTRUITO</div>
<div class="t" style="left:1814.5px;top:207.5px;font-size:28.8px;font-weight:700;color:#0a0a0a;letter-spacing:-1.836px;">CIRCULAR ECONOMY ORGANIC COMPONENT</div>
<div class="t" style="left:1865.8px;top:268.2px;font-size:29px;font-weight:400;color:#111;letter-spacing:0.493px;">recycling of organic material (mowing,</div>
<div class="t" style="left:1865.8px;top:307.5px;font-size:29px;font-weight:400;color:#111;letter-spacing:0.792px;">shredding, maintenance)through local</div>
<div class="t" style="left:1865.8px;top:347.2px;font-size:29px;font-weight:400;color:#111;letter-spacing:0.754px;">compost hub.</div>
<div class="t" style="left:1869.2px;top:392.2px;font-size:29px;font-weight:400;color:#111;letter-spacing:0.595px;">reuse of compost as fertilizer for the</div>
<div class="t" style="left:1869.2px;top:431.2px;font-size:29px;font-weight:400;color:#111;letter-spacing:0.000px;letter-spacing:0.3px;">park&rsquo;s green areas</div>
<div class="t" style="left:1865.8px;top:481.2px;font-size:29px;font-weight:400;color:#111;letter-spacing:0.782px;">educational recycling hub (composting with</div>
<div class="t" style="left:1865.8px;top:521.2px;font-size:29px;font-weight:400;color:#111;letter-spacing:0.635px;">reuse of former concrete tanks)</div>
<div class="t" style="left:1816px;top:756.4px;font-size:26px;font-weight:400;color:#111;letter-spacing:0.214px;">tanks</div>
<div class="t" style="left:2127px;top:756.4px;font-size:26px;font-weight:400;color:#111;letter-spacing:0.066px;">educational recycling hub</div>
<div class="t" style="left:1815px;top:826.8px;font-size:28.8px;font-weight:700;color:#0a0a0a;letter-spacing:-1.982px;">CIRCULAR ECONOMY TECHNOLOGIES AND</div>
<div class="t" style="left:1815px;top:861.8px;font-size:28.8px;font-weight:700;color:#0a0a0a;letter-spacing:-2.107px;">MATERIALS</div>
<div class="t" style="left:1869.2px;top:916.0px;font-size:29px;font-weight:400;color:#111;letter-spacing:0.639px;">reuse of existing elements (birdhouse,</div>
<div class="t" style="left:1869.2px;top:955.7px;font-size:29px;font-weight:400;color:#111;letter-spacing:0.593px;">canopy, greenhouse)</div>
<div class="t" style="left:1869.2px;top:991.9px;font-size:29px;font-weight:400;color:#111;letter-spacing:0.728px;">relocation of existing playground equipment</div>
<div class="t" style="left:1816.5px;top:1214.5px;font-size:26px;font-weight:400;color:#111;letter-spacing:0.163px;">birdhouse</div>
<div class="t" style="left:2084px;top:1214.5px;font-size:26px;font-weight:400;color:#111;letter-spacing:0.032px;">canopy</div>
<div class="t" style="left:1818px;top:1442.5px;font-size:26px;font-weight:400;color:#111;letter-spacing:0.184px;">greenhouse</div>
<div class="t" style="left:2161.3px;top:1443.5px;font-size:26px;font-weight:400;color:#111;letter-spacing:0.037px;">playground equipment</div>
<div class="t" style="left:1816.2px;top:1503.5px;font-size:28.8px;font-weight:700;color:#0a0a0a;letter-spacing:-2.211px;">NON-RECYCLABLE MATERIALS</div>
<div class="t" style="left:1819px;top:1562.0px;font-size:29px;font-weight:400;color:#111;letter-spacing:0.405px;">approximately 1500</div>
<div class="t" style="left:1819px;top:1601.0px;font-size:29px;font-weight:400;color:#111;letter-spacing:0.616px;">cubic meters of material</div>
<div class="t" style="left:1819px;top:1640.2px;font-size:29px;font-weight:400;color:#111;letter-spacing:0.686px;">removed (mostly asphalt</div>
<div class="t" style="left:1819px;top:1679.9px;font-size:29px;font-weight:400;color:#111;letter-spacing:0.855px;">from the paths)</div>
</body></html>
